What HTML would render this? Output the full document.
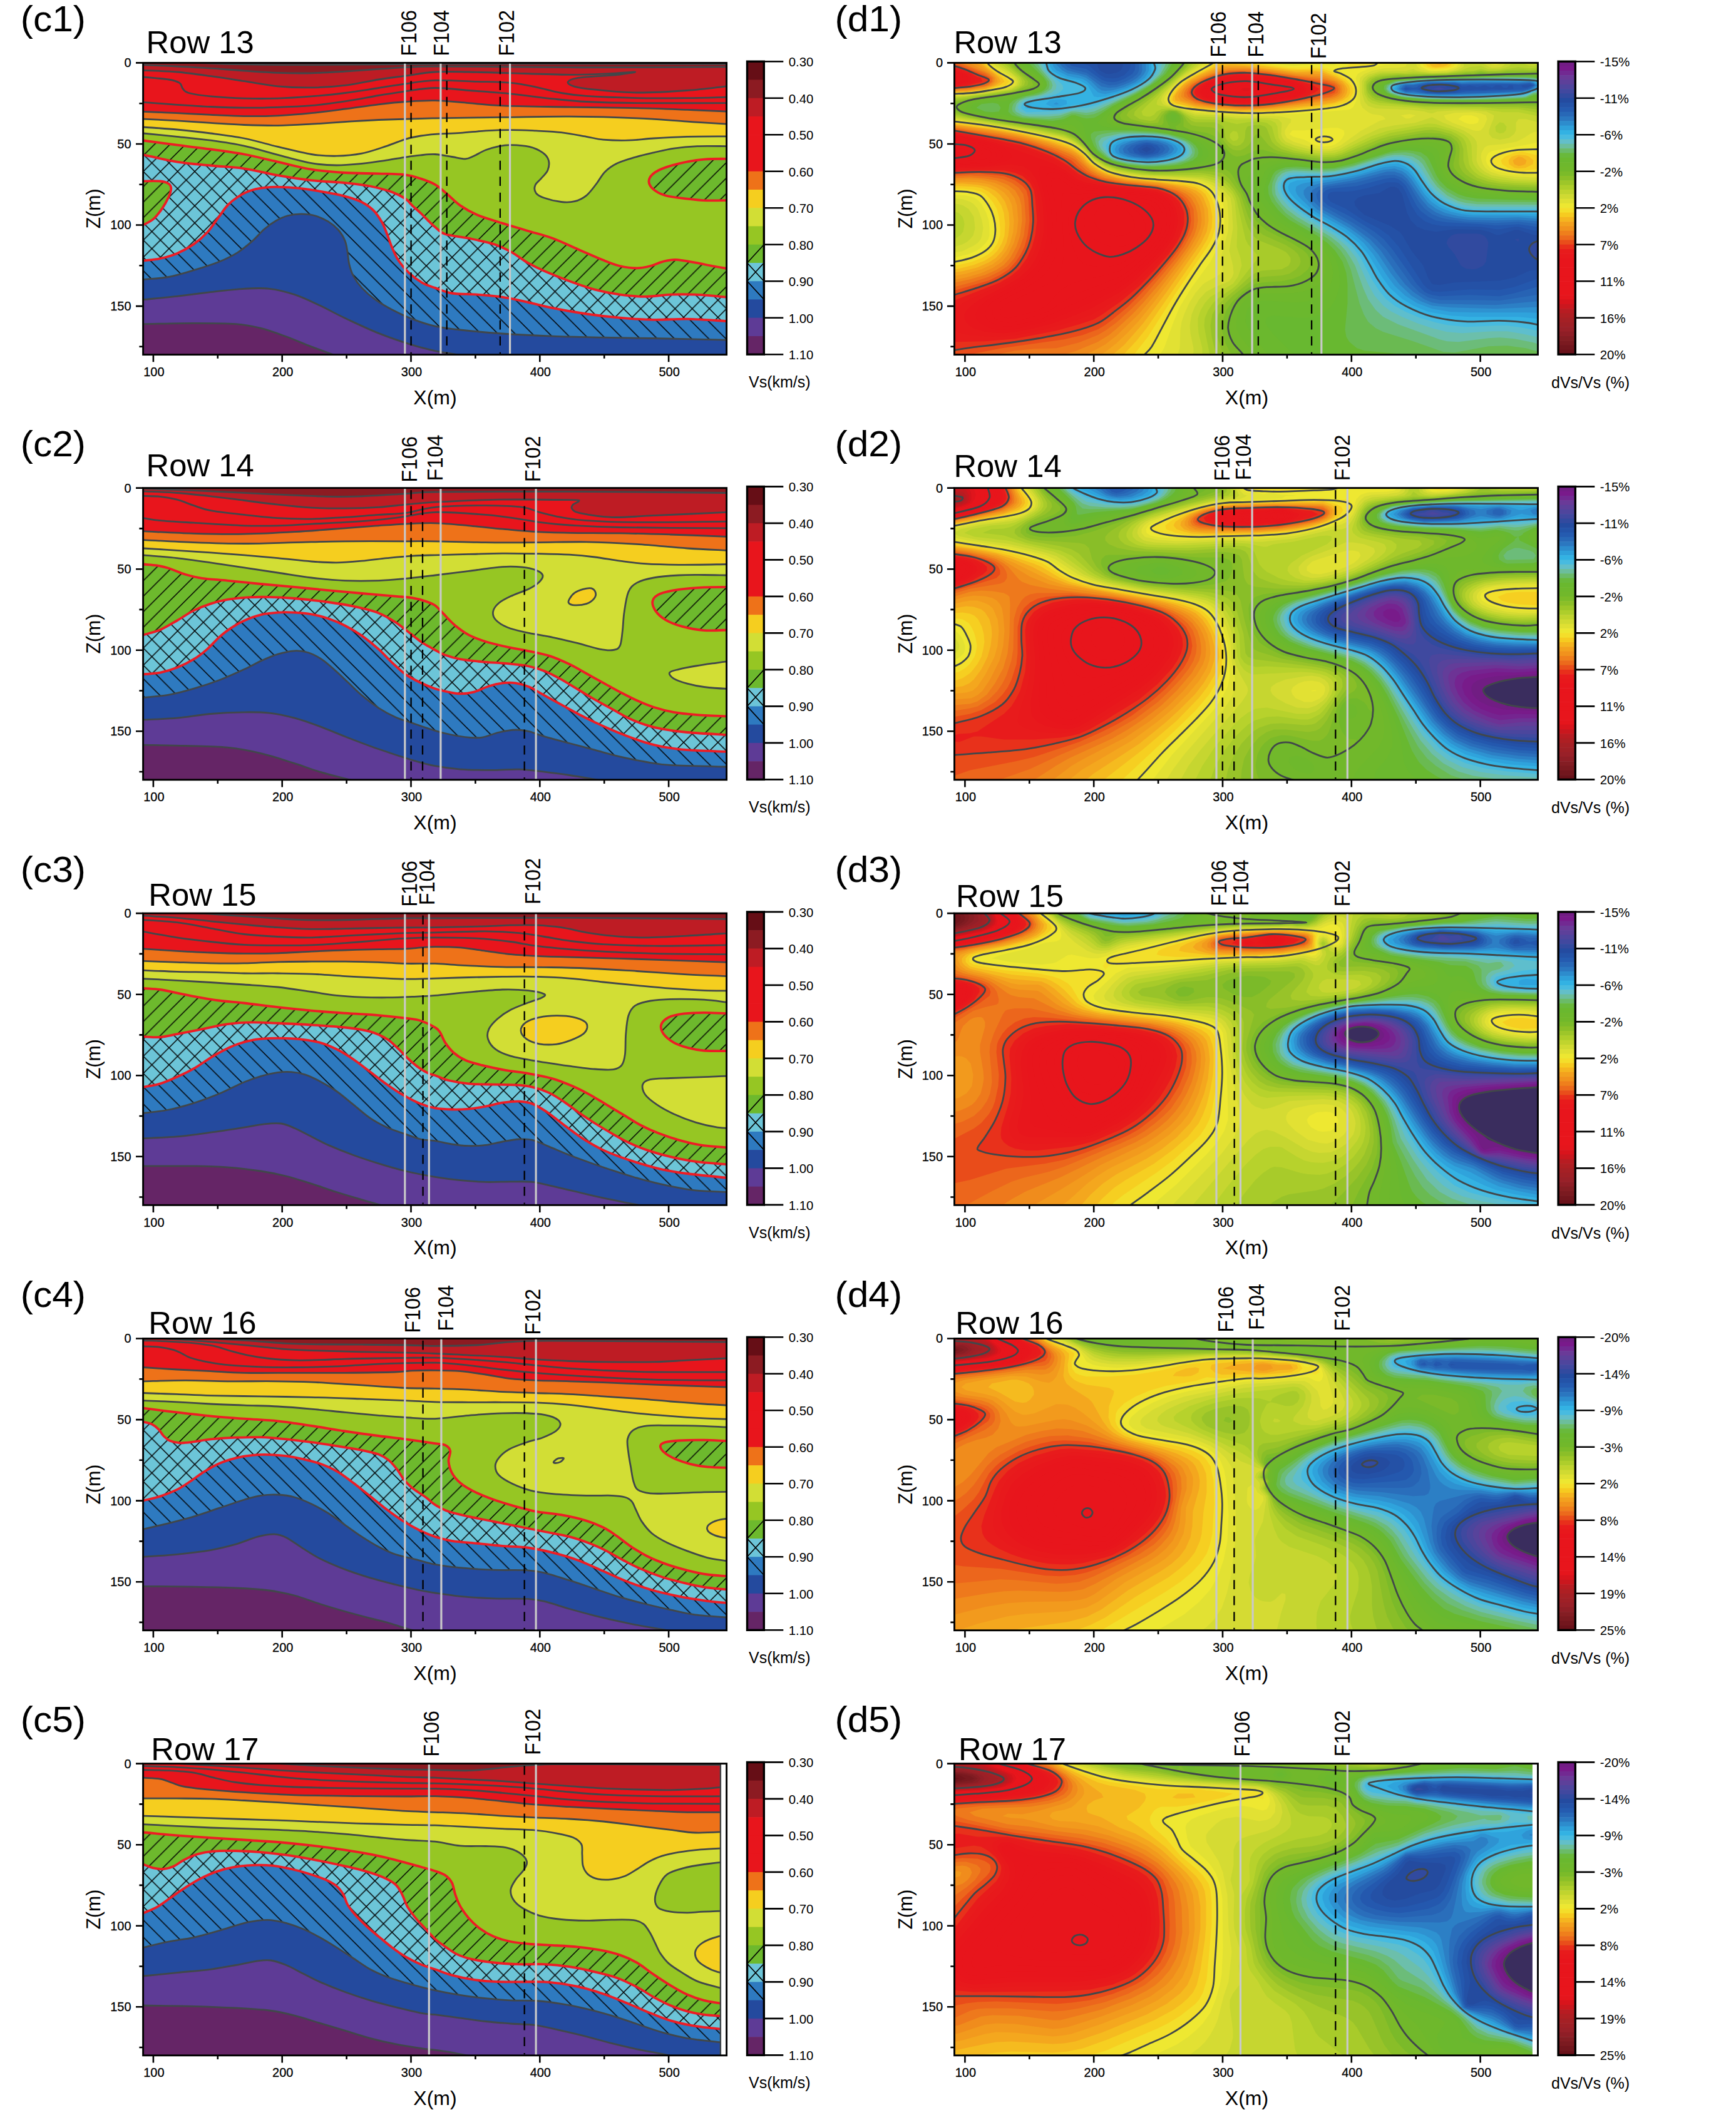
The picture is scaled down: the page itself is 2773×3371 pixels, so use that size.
<!DOCTYPE html><html><head><meta charset="utf-8"><title>Vs sections</title>
<style>html,body{margin:0;padding:0;background:#fff}svg{display:block}text{font-family:"Liberation Sans",sans-serif;fill:#000}</style></head><body>
<svg width="2773" height="3371" viewBox="0 0 2773 3371">
<defs>
<pattern id="hf" width="24.8" height="24.8" patternUnits="userSpaceOnUse" patternTransform="translate(24.3 0)"><path d="M-2 26.8L26.8 -2M-2 2L2 -2M22.8 26.8L26.8 22.8" stroke="#000" stroke-width="1.5"/></pattern>
<pattern id="hb" width="27.4" height="27.4" patternUnits="userSpaceOnUse" patternTransform="translate(-3.6 0)"><path d="M-2 -2L29.4 29.4M-2 25.4L2 29.4M25.4 -2L29.4 2" stroke="#000" stroke-width="1.5"/></pattern>
<pattern id="hx" width="27.4" height="27.4" patternUnits="userSpaceOnUse" patternTransform="translate(13.6 -4.3)"><path d="M-2 29.4L29.4 -2M-2 2L2 -2M25.4 29.4L29.4 25.4M-2 -2L29.4 29.4M-2 25.4L2 29.4M25.4 -2L29.4 2" stroke="#000" stroke-width="1.5"/></pattern>
<clipPath id="pc"><rect x="-0.4" y="0" width="932" height="466.4"/></clipPath>
<clipPath id="pd"><rect x="-1" y="0" width="932" height="466.4"/></clipPath>
</defs>
<rect width="2773" height="3371" fill="#fff"/>
<g transform="translate(229 100.2)">
<g clip-path="url(#pc)">
<defs><path id="c1_0" d="M-18 -10.7C-15 -10.7 -158.3 -10.7 0 -10.7C158.3 -10.7 773.7 -10.7 932.1 -10.7C1090.4 -10.7 947.1 -10.7 950.1 -10.7H962V496.4H-30V-10.7Z"/><path id="c1_1" d="M-18 -2.6C-15 -2.5 -16.4 -2.6 0 -2.1C16.4 -1.7 58.2 -0.7 80.5 0C102.9 0.7 107.4 1.6 134.2 2.1C161.1 2.7 205.8 3.4 241.6 3.5C277.4 3.6 311.6 3.2 349 3C386.4 2.7 424.2 2.4 466 2.1C507.9 1.9 546.6 1.7 600.3 1.6C654 1.6 732.9 1.8 788.2 1.9C843.5 2 905.1 2.1 932.1 2.1C959.1 2.2 947.1 2.2 950.1 2.2H962V496.4H-30V-2.6Z"/><path id="c1_2" d="M-18 2.7C-15 2.8 -11.9 3 0 3.5C11.9 4 35.8 5 53.7 5.9C71.6 6.8 89.5 7.7 107.4 8.9C125.3 10 143.2 11.7 161.1 12.9C179 14.1 196.9 15.5 214.8 16.1C232.7 16.7 250.6 17 268.5 16.6C286.4 16.3 304.3 15 322.1 14C340 12.9 359.7 11.3 375.8 10.2C391.9 9.1 403.8 8.2 418.8 7.5C433.8 6.8 438 6 466 5.9C494 5.8 551.1 6.4 586.8 6.7C622.6 7 647.2 7.4 680.8 7.5C714.4 7.7 746.3 7.7 788.2 7.5C830.1 7.4 905.1 6.9 932.1 6.7C959.1 6.6 947.1 6.6 950.1 6.6H962V496.4H-30V2.7Z"/><path id="c1_3" d="M-18 11.2C-15 11.3 -11.9 11.5 0 12.1C11.9 12.7 35.8 13.2 53.7 14.8C71.6 16.3 89.5 19 107.4 21.5C125.3 23.9 143.2 26.8 161.1 29.5C179 32.2 196.9 35.9 214.8 37.6C232.7 39.3 250.6 40 268.5 39.7C286.4 39.5 304.3 38.4 322.1 36.2C340 34.1 359.7 29.4 375.8 26.8C391.9 24.3 403.8 23 418.8 20.9C433.8 18.9 449.2 15.8 466 14.8C482.9 13.7 499.6 14.5 519.7 14.8C539.9 15.1 560 15.9 586.8 16.6C613.7 17.4 654 19 680.8 19.1C707.7 19.1 730.5 17.9 747.9 17.2C765.4 16.5 783.3 14.5 785.5 14.8C787.7 15 769.8 17.8 761.3 18.8C752.8 19.8 745.7 20 734.5 20.9C723.3 21.8 703.6 22.5 694.2 24.2C684.8 25.8 679 28.5 678.1 30.9C677.2 33.2 681.7 36.1 688.9 38.1C696 40.1 704.5 41.3 721.1 43C737.6 44.6 763.6 47.6 788.2 47.8C812.8 48 844.7 46 868.7 44.3C892.7 42.6 918.5 39 932.1 37.6C945.6 36.1 947 36 950 35.7H962V496.4H-30V11.2Z"/><path id="c1_4" d="M-17.9 21C-14.9 21.3 -9.7 21.8 0 22.8C9.7 23.8 30.6 25.3 40.3 26.8C49.9 28.4 53.9 29.8 57.7 32.2C61.5 34.7 60.6 38.9 63.1 41.6C65.5 44.3 65.1 46.3 72.5 48.3C79.9 50.3 92.6 52.3 107.4 53.7C122.1 55.1 143.2 56.4 161.1 56.9C179 57.4 196.9 57.4 214.8 56.9C232.7 56.4 250.6 55.1 268.5 53.7C286.4 52.3 304.3 50.6 322.1 48.3C340 46.1 359.7 42.7 375.8 40.3C391.9 37.8 403.8 35.6 418.8 33.6C433.8 31.5 447 28.8 466 28.2C485.1 27.6 513 29.4 533.2 30.1C553.3 30.7 571.2 30.7 586.8 32.2C602.5 33.7 613.7 36.2 627.1 38.9C640.5 41.6 654 46 667.4 48.3C680.8 50.7 687.5 51.8 707.7 53.2C727.8 54.5 761.3 55.8 788.2 56.4C815 56.9 844.7 56.6 868.7 56.4C892.7 56.2 918.5 55.3 932.1 55C945.6 54.7 947.1 54.7 950.1 54.7H962V496.4H-30V21Z"/><path id="c1_5" d="M-17.9 61.7C-15 62 -11.9 62.2 0 63.1C11.9 64 35.8 65.9 53.7 67.1C71.6 68.3 89.5 69.5 107.4 70.3C125.3 71.1 143.2 71.8 161.1 71.9C179 72.1 196.9 71.7 214.8 71.1C232.7 70.6 250.6 70 268.5 68.5C286.4 66.9 304.3 64.4 322.1 61.7C340 59.1 359.7 55 375.8 52.3C391.9 49.7 403.8 47.7 418.8 45.6C433.8 43.6 449.2 40.5 466 40.3C482.9 40 499.6 42.7 519.7 44.3C539.9 45.9 564.5 47.4 586.8 49.7C609.2 51.9 633.8 55.6 654 57.7C674.1 59.8 685.3 61.2 707.7 62.3C730 63.4 750.8 64.1 788.2 64.4C825.6 64.8 905.1 64.4 932.1 64.4C959.1 64.4 947.1 64.4 950.1 64.4H962V496.4H-30V61.7Z"/><path id="c1_6" d="M-18 77.3C-15 77.4 -11.9 77.6 0 78.1C11.9 78.7 35.8 79.7 53.7 80.5C71.6 81.4 89.5 82.4 107.4 83.2C125.3 84 143.2 85.1 161.1 85.4C179 85.6 196.9 85.4 214.8 84.6C232.7 83.8 250.6 82.3 268.5 80.5C286.4 78.7 304.3 76.2 322.1 73.8C340 71.5 359.7 68.5 375.8 66.6C391.9 64.7 403.8 63.3 418.8 62.3C433.8 61.3 449.2 60 466 60.4C482.9 60.8 501.8 63 519.7 64.4C537.6 65.8 546.6 67.7 573.4 68.7C600.3 69.8 645 70.2 680.8 70.9C716.6 71.5 756.9 71.8 788.2 72.5C819.5 73.2 844.7 74.3 868.7 75.2C892.7 76.1 918.5 77.3 932.1 77.9C945.6 78.4 947.1 78.5 950.1 78.6H962V496.4H-30V77.3Z"/><path id="c1_7" d="M-18 89C-15 89.2 -11.9 89.3 0 89.9C11.9 90.5 35.8 91.6 53.7 92.6C71.6 93.6 89.5 95 107.4 96.1C125.3 97.2 143.2 98.6 161.1 99.3C179 100 196.9 100.6 214.8 100.4C232.7 100.2 250.6 99 268.5 98C286.4 97 304.3 95.6 322.1 94.5C340 93.4 351.9 92.3 375.8 91.3C399.8 90.3 433.1 89.3 466 88.6C499 87.9 537.6 87.7 573.4 87.2C609.2 86.8 645 85.7 680.8 85.9C716.6 86.1 756.9 87.2 788.2 88.6C819.5 89.9 844.7 92.4 868.7 94C892.7 95.5 918.5 97.1 932.1 98C945.6 98.8 947.1 98.9 950 99.1H962V496.4H-30V89Z"/><path id="c1_8" d="M-17.9 101.5C-15 101.7 -11.9 101.9 0 102.8C11.9 103.7 35.8 105.2 53.7 106.8C71.6 108.5 89.5 110.4 107.4 112.8C125.3 115.1 143.2 117.2 161.1 120.8C179 124.4 196.9 130 214.8 134.2C232.7 138.5 252.8 143.8 268.5 146.3C284.1 148.8 295.3 149.2 308.7 149C322.1 148.8 335.6 147.7 349 145C362.4 142.3 377.6 136.7 389.3 132.9C400.9 129.1 409.8 124.8 418.8 122.1C427.7 119.5 435.1 118.1 443 116.8C450.8 115.4 455.5 114.9 466 114.1C476.6 113.3 492.9 113.1 506.3 112.2C519.7 111.3 533.2 109.5 546.6 108.7C560 107.9 573.4 107.4 586.8 107.4C600.3 107.4 613.7 108.1 627.1 108.7C640.5 109.4 654 109.8 667.4 111.4C680.8 113 696.5 116.2 707.7 118.1C718.8 120 723.3 122 734.5 123C745.7 123.9 761.3 124.4 774.8 124C788.2 123.7 799.4 121.8 815 120.8C830.7 119.8 849.2 118.7 868.7 118.1C888.2 117.6 918.5 117.7 932.1 117.6C945.6 117.5 947.1 117.5 950.1 117.4H962V496.4H-30V101.5Z"/><path id="c1_9" d="M-17.9 111C-14.9 111.3 -11.9 111.6 0 112.8C11.9 113.9 35.8 116.2 53.7 118.1C71.6 120 89.5 121.6 107.4 124C125.3 126.5 143.2 129 161.1 132.9C179 136.7 196.9 142.5 214.8 147.1C232.7 151.7 252.8 157.8 268.5 160.5C284.1 163.3 295.3 163.7 308.7 163.8C322.1 163.8 335.6 162.4 349 161.1C362.4 159.7 377.6 157.4 389.3 155.7C400.9 154 409.8 152.2 418.8 150.9C427.7 149.5 435.1 148.4 443 147.7C450.8 146.9 457.7 145.9 466 146.3C474.4 146.8 484.8 149.1 492.9 150.3C500.9 151.5 508.5 153.8 514.4 153.6C520.2 153.3 522.4 151.3 527.8 149C533.2 146.7 539.9 142.2 546.6 139.6C553.3 137 561.3 134.8 568.1 133.4C574.8 132.1 578.8 131.4 586.8 131.5C594.9 131.7 607.9 132.2 616.4 134.2C624.9 136.2 632.7 140 637.9 143.6C643 147.2 645.9 151 647.2 155.7C648.6 160.4 647.9 166.9 645.9 171.8C643.9 176.7 638.5 181.2 635.2 185.2C631.8 189.3 627.1 192.2 625.8 196C624.4 199.8 624.7 204.7 627.1 208.1C629.6 211.4 633.8 213.7 640.5 216.1C647.2 218.5 659.3 221.4 667.4 222.3C675.4 223.2 682.1 223.2 688.9 221.5C695.6 219.8 701.8 216.8 707.7 212.1C713.5 207.4 718.8 199.6 723.8 193.3C728.7 187 731.8 179.9 737.2 174.5C742.6 169.1 748.4 164.9 756 161.1C763.6 157.3 773 154.6 782.8 151.7C792.7 148.8 804.3 146.1 815 143.6C825.8 141.2 835.6 138.6 847.2 136.9C858.9 135.2 870.7 134 884.8 133.4C899 132.8 921.2 133.4 932.1 133.4C943 133.4 947.1 133.4 950.1 133.4H962V496.4H-30V111Z"/><path id="c1_10" d="M-17.8 121.9C-14.9 122.3 -11.9 122.7 0 124.3C11.9 125.9 35.8 129.2 53.7 131.5C71.6 133.9 89.5 135.8 107.4 138.3C125.3 140.7 143.2 143 161.1 146.3C179 149.7 196.9 154.4 214.8 158.4C232.7 162.4 250.6 167.6 268.5 170.5C286.4 173.4 304.3 174.7 322.1 175.8C340 177 359.7 176.6 375.8 177.2C391.9 177.7 407.6 177.7 418.8 179.1C430 180.4 435.1 182.6 443 185.2C450.8 187.8 459.1 190.6 466 194.6C473 198.7 478.1 203.8 484.8 209.4C491.5 215 498.3 222.6 506.3 228.2C514.4 233.8 522 238.3 533.2 243C544.3 247.7 560 252.1 573.4 256.4C586.8 260.6 600.3 264.4 613.7 268.5C627.1 272.5 640.5 275.6 654 280.5C667.4 285.5 680.8 292.2 694.2 298C707.7 303.8 723.3 311 734.5 315.4C745.7 319.9 752.4 322.7 761.3 324.8C770.3 326.9 780.1 328.1 788.2 328.1C796.2 328.1 803 326.5 809.7 324.8C816.4 323.2 821.7 319.8 828.5 318.1C835.2 316.4 841 314.4 849.9 314.6C858.9 314.9 872.3 317.8 882.1 319.5C892 321.2 900.7 323.3 909 324.8C917.3 326.4 925.3 327.7 932.1 328.9C938.9 330 946.9 331.4 949.8 332H962V496.4H-30V121.9Z"/><path id="c1_11" d="M-17.6 143.4C-14.7 144 -11.9 144.6 0 147.1C11.9 149.6 35.8 155.5 53.7 158.4C71.6 161.3 89.5 162.5 107.4 164.3C125.3 166.1 143.2 166.5 161.1 169.1C179 171.7 196.9 176.7 214.8 179.9C232.7 183 250.6 185.9 268.5 187.9C286.4 189.9 306.5 190.4 322.1 191.9C337.8 193.5 349.9 194.9 362.4 197.3C374.9 199.8 387.9 203.4 397.3 206.7C406.7 210.1 413.4 213.9 418.8 217.4C424.2 221 425.5 224.4 429.5 228.2C433.6 232 438.5 236 443 240.3C447.4 244.5 452.5 250 456.4 253.7C460.2 257.4 461.7 259.2 466 262.6C470.3 265.9 473.2 270.8 482.1 273.8C491.1 276.8 506.8 277.9 519.7 280.5C532.7 283.2 548.8 286.4 560 289.9C571.2 293.5 577.9 297.1 586.8 302C595.8 306.9 604.7 314.3 613.7 319.5C622.6 324.6 629.4 328 640.5 332.9C651.7 337.8 667.4 344.1 680.8 349C694.2 353.9 707.7 358.8 721.1 362.4C734.5 366 747.9 368.6 761.3 370.5C774.8 372.3 788.2 373.7 801.6 373.7C815 373.7 828.5 371 841.9 370.5C855.3 369.9 867.1 369.8 882.1 370.5C897.2 371.1 920.8 373.6 932.1 374.5C943.4 375.4 947 375.7 950 375.9H962V496.4H-30V143.4Z"/><path id="c1_12" d="M-8.1 189.3C5.4 189.3 18.8 188.6 26.8 189.3C34.9 189.9 37.4 191.3 40.3 193.3C43.2 195.3 44.3 197.8 44.3 201.3C44.3 204.9 42.7 209.4 40.3 214.8C37.8 220.1 33.6 227.7 29.5 233.6C25.5 239.4 21 245.4 16.1 249.7C11.2 253.9 4 257 0 259.1C-4 261.1 0.9 261.3 -8.1 261.7C-17 262.2 -46.1 273.8 -53.7 261.7C-61.3 249.7 -61.3 201.3 -53.7 189.3C-46.1 177.2 -21.5 189.3 -8.1 189.3Z"/><path id="c1_13" d="M943.9 153.6C928.2 153.7 910.3 153.1 895.6 154.4C880.8 155.6 867.4 158.2 855.3 161.1C843.2 164 830.9 167.8 823.1 171.8C815.3 175.8 810.1 180.5 808.3 185.2C806.5 189.9 808.1 195.5 812.3 200C816.6 204.5 824.4 209.2 833.8 212.1C843.2 215 857.5 216.1 868.7 217.4C879.9 218.8 888.4 219.8 900.9 220.1C913.5 220.5 929.1 219.7 943.9 219.6C958.7 219.5 981.9 230.6 989.5 219.6C997.1 208.6 997.1 164.6 989.5 153.6C981.9 142.6 959.6 153.4 943.9 153.6Z"/><path id="c1_14" d="M-17.8 318.6C-14.9 318.2 -7.4 317.2 0 316.2C7.4 315.3 17.9 314.7 26.8 312.8C35.8 310.8 44.7 308.5 53.7 304.7C62.6 300.9 72.5 295.5 80.5 289.9C88.6 284.3 95.7 277.9 102 271.1C108.3 264.4 112.8 256.8 118.1 249.7C123.5 242.5 128.9 234 134.2 228.2C139.6 222.4 144.1 218.8 150.3 214.8C156.6 210.7 162.9 206.7 171.8 204C180.8 201.3 192.4 199.3 204 198.7C215.7 198 228.6 198.9 241.6 200C254.6 201.1 268.5 203.1 281.9 205.4C295.3 207.6 311 210.5 322.1 213.4C333.3 216.3 341.4 219 349 222.8C356.6 226.6 362.4 230.9 367.8 236.2C373.2 241.6 377.6 248.8 381.2 255C384.8 261.3 386.6 267.1 389.3 273.8C391.9 280.5 394.2 288.1 397.3 295.3C400.4 302.5 403.6 310.1 408.1 316.8C412.5 323.5 417.9 329.8 424.2 335.6C430.4 341.4 438.7 347.7 445.6 351.7C452.6 355.7 458.2 357 466 359.7C473.9 362.5 481.7 366.5 492.9 368.3C504.1 370.1 519.7 369.4 533.2 370.5C546.6 371.5 560 372.5 573.4 374.5C586.8 376.5 600.3 379.6 613.7 382.6C627.1 385.5 638.3 388.8 654 391.9C669.6 395.1 689.8 398.7 707.7 401.3C725.5 403.9 743.4 406 761.3 407.5C779.2 409.1 797.1 410.4 815 410.7C832.9 411.1 849.2 409 868.7 409.4C888.2 409.8 918.5 412.1 932.1 412.9C945.6 413.6 947.1 413.7 950.1 413.9H962V496.4H-30V318.6Z"/><path id="c1_15" d="M-17.9 348.1C-14.9 347.8 -9.7 347.3 0 346.3C9.7 345.3 26.8 344.7 40.3 342.3C53.7 339.8 67.1 335.6 80.5 331.5C94 327.5 109.2 322.8 120.8 318.1C132.4 313.4 141.4 308.9 150.3 303.4C159.3 297.8 167.3 290.8 174.5 284.6C181.7 278.3 187 271.1 193.3 265.8C199.6 260.4 205.8 255.9 212.1 252.3C218.3 248.8 224.2 246.1 230.9 244.3C237.6 242.5 245.2 241.6 252.3 241.6C259.5 241.6 266.7 242.3 273.8 244.3C281 246.3 289 249.9 295.3 253.7C301.6 257.5 306.9 262 311.4 267.1C315.9 272.3 319.7 278.5 322.1 284.6C324.6 290.6 325.1 297.1 326.2 303.4C327.3 309.6 327.3 315.9 328.9 322.1C330.4 328.4 332.2 334.7 335.6 340.9C338.9 347.2 343.2 353.5 349 359.7C354.8 366 362.4 372.7 370.5 378.5C378.5 384.3 387.5 389.5 397.3 394.6C407.2 399.8 418.1 405 429.5 409.4C441 413.8 453.2 418 466 420.9C478.8 423.8 488.4 424.9 506.3 426.8C524.2 428.8 548.8 431.1 573.4 432.8C598 434.5 627.1 436 654 437C680.8 438.1 707.7 438.4 734.5 438.9C761.3 439.5 782.1 439.6 815 440.3C848 440.9 909.6 442.4 932.1 443C954.6 443.5 947.1 443.3 950.1 443.4H962V496.4H-30V348.1Z"/><path id="c1_16" d="M-17.9 380.3C-14.9 380 -11.9 379.7 0 378.5C11.9 377.3 35.8 375.2 53.7 373.2C71.6 371.1 89.5 368.5 107.4 366.4C125.3 364.4 145.4 362 161.1 361.1C176.7 360.2 187.9 359.5 201.3 361.1C214.8 362.6 228.2 366 241.6 370.5C255 374.9 268.5 381.7 281.9 387.9C295.3 394.2 306.5 400.7 322.1 408.1C337.8 415.4 357.9 425.1 375.8 432.2C393.7 439.4 414.5 446.3 429.5 451C444.6 455.7 455.5 458.1 466 460.4C476.6 462.7 483.9 463.4 492.9 465C501.8 466.5 512.3 468.5 519.7 469.8C527.2 471.1 534.5 472.5 537.4 473V496.4H-30V380.3Z"/><path id="c1_17" d="M-18 417.7C-15 417.7 -16.4 417.7 0 417.4C16.4 417.2 55.9 416.1 80.5 416.1C105.1 416.1 129.8 416.1 147.7 417.4C165.5 418.8 174.5 420.8 187.9 424.2C201.3 427.5 214.8 432.7 228.2 437.6C241.6 442.5 255 448.5 268.5 453.7C281.9 458.8 299.2 465 308.7 468.5C318.3 471.9 322.8 473.6 325.6 474.7V496.4H-30V417.7Z"/></defs>
<use href="#c1_0" fill="#660E16"/>
<use href="#c1_1" fill="#8C1B22"/>
<use href="#c1_2" fill="#BE1C24"/>
<use href="#c1_3" fill="#E8151C"/>
<use href="#c1_4" fill="#E8151C"/>
<use href="#c1_5" fill="#E8151C"/>
<use href="#c1_6" fill="#EE7219"/>
<use href="#c1_7" fill="#F5CE1F"/>
<use href="#c1_8" fill="#D2DE35"/>
<use href="#c1_9" fill="#96C623"/>
<use href="#c1_10" fill="#6DB92D"/>
<use href="#c1_10" fill="url(#hf)"/>
<use href="#c1_11" fill="#6CC5D8"/>
<use href="#c1_11" fill="url(#hx)"/>
<use href="#c1_12" fill="#6DB92D"/>
<use href="#c1_12" fill="url(#hf)"/>
<use href="#c1_13" fill="#6DB92D"/>
<use href="#c1_13" fill="url(#hf)"/>
<use href="#c1_14" fill="#2E7AC0"/>
<use href="#c1_14" fill="url(#hb)"/>
<use href="#c1_15" fill="#244A9E"/>
<use href="#c1_16" fill="#5E3B96"/>
<use href="#c1_17" fill="#652566"/>
<g fill="none" stroke="#41474a" stroke-width="2.8" stroke-linejoin="round"><use href="#c1_1"/><use href="#c1_2"/><use href="#c1_3"/><use href="#c1_4"/><use href="#c1_5"/><use href="#c1_6"/><use href="#c1_7"/><use href="#c1_8"/><use href="#c1_9"/><use href="#c1_15"/><use href="#c1_16"/><use href="#c1_17"/></g>
<g fill="none" stroke="#ee1c24" stroke-width="3.8" stroke-linejoin="round"><use href="#c1_10"/><use href="#c1_11"/><use href="#c1_12"/><use href="#c1_13"/><use href="#c1_14"/></g>
</g>
<rect x="-0.4" y="0.2" width="932" height="466.2" fill="none" stroke="#000" stroke-width="2.9"/>
<path d="M15.9 466.4v11.6M118.8 466.4v6.2M221.7 466.4v11.6M324.6 466.4v6.2M427.5 466.4v11.6M530.4 466.4v6.2M633.3 466.4v11.6M736.2 466.4v6.2M839.1 466.4v11.6M-0.4 0.2h-11.6M-0.4 65h-6.2M-0.4 129.8h-11.6M-0.4 194.5h-6.2M-0.4 259.3h-11.6M-0.4 324.1h-6.2M-0.4 388.9h-11.6M-0.4 453.6h-6.2" stroke="#000" stroke-width="2.6" fill="none"/>
<g font-size="21" text-anchor="middle" stroke="#000" stroke-width=".3">
<text transform="translate(16.9 501) scale(.95 1)">100</text>
<text transform="translate(222.7 501) scale(.95 1)">200</text>
<text transform="translate(428.5 501) scale(.95 1)">300</text>
<text transform="translate(634.3 501) scale(.95 1)">400</text>
<text transform="translate(840.1 501) scale(.95 1)">500</text>
</g><g font-size="21" text-anchor="end" stroke="#000" stroke-width=".3">
<text transform="translate(-19.5 7.1) scale(.95 1)">0</text>
<text transform="translate(-19.5 136.7) scale(.95 1)">50</text>
<text transform="translate(-19.5 266.2) scale(.95 1)">100</text>
<text transform="translate(-19.5 395.8) scale(.95 1)">150</text>
</g>
<text x="466" y="545.4" font-size="32" text-anchor="middle">X(m)</text>
<text transform="translate(-69 233.2) rotate(-90) scale(.96 1)" font-size="31.5" text-anchor="middle">Z(m)</text>
<text x="4.5" y="-15.2" font-size="50.8">Row 13</text>
<text transform="translate(-196.3 -50.4) scale(1.045 1)" font-size="58">(c1)</text>
<path d="M417.8 1.5V464.9" stroke="#c9c9c9" stroke-width="3.2" fill="none"/>
<path d="M427.6 1.5V464.9" stroke="#000" stroke-width="2.3" stroke-dasharray="14.7 10.8" stroke-dashoffset="-2" fill="none"/>
<text transform="translate(436.4 -10.4) rotate(-90) scale(.9 1)" font-size="36">F106</text>
<path d="M474.9 1.5V464.9" stroke="#c9c9c9" stroke-width="3.2" fill="none"/>
<path d="M484.7 1.5V464.9" stroke="#000" stroke-width="2.3" stroke-dasharray="14.7 10.8" stroke-dashoffset="-2" fill="none"/>
<text transform="translate(488.3 -10.4) rotate(-90) scale(.9 1)" font-size="36">F104</text>
<path d="M585.6 1.5V464.9" stroke="#c9c9c9" stroke-width="3.2" fill="none"/>
<path d="M569.9 1.5V464.9" stroke="#000" stroke-width="2.3" stroke-dasharray="14.7 10.8" stroke-dashoffset="-2" fill="none"/>
<text transform="translate(592.1 -10.4) rotate(-90) scale(.9 1)" font-size="36">F102</text>
<rect x="964.5" y="-2" width="26.8" height="29.9" fill="#660E16"/>
<rect x="964.5" y="27.2" width="26.8" height="29.9" fill="#8C1B22"/>
<rect x="964.5" y="56.5" width="26.8" height="29.9" fill="#BE1C24"/>
<rect x="964.5" y="85.8" width="26.8" height="29.9" fill="#E8151C"/>
<rect x="964.5" y="115" width="26.8" height="29.9" fill="#E8151C"/>
<rect x="964.5" y="144.2" width="26.8" height="29.9" fill="#E8151C"/>
<rect x="964.5" y="173.5" width="26.8" height="29.9" fill="#EE7219"/>
<rect x="964.5" y="202.8" width="26.8" height="29.9" fill="#F5CE1F"/>
<rect x="964.5" y="232" width="26.8" height="29.9" fill="#D2DE35"/>
<rect x="964.5" y="261.2" width="26.8" height="29.9" fill="#96C623"/>
<rect x="964.5" y="290.5" width="26.8" height="29.9" fill="#6DB92D"/>
<rect x="964.5" y="319.8" width="26.8" height="29.9" fill="#6CC5D8"/>
<rect x="964.5" y="349" width="26.8" height="29.9" fill="#2E7AC0"/>
<rect x="964.5" y="378.2" width="26.8" height="29.9" fill="#244A9E"/>
<rect x="964.5" y="407.5" width="26.8" height="29.9" fill="#5E3B96"/>
<rect x="964.5" y="436.8" width="26.8" height="29.9" fill="#652566"/>
<path d="M964.5 319.8L991.3 290.5" stroke="#000" stroke-width="1.6"/>
<path d="M964.5 349L991.3 319.8M964.5 319.8L991.3 349" stroke="#000" stroke-width="1.6"/>
<path d="M964.5 349L991.3 378.2" stroke="#000" stroke-width="1.6"/>
<rect x="964.5" y="-2" width="26.8" height="468" fill="none" stroke="#000" stroke-width="3.4"/>
<path d="M991.3 -2h31M991.3 56.5h31M991.3 115h31M991.3 173.5h31M991.3 232h31M991.3 290.5h31M991.3 349h31M991.3 407.5h31M991.3 466h31" stroke="#000" stroke-width="2.6" fill="none"/>
<g font-size="21">
<text transform="translate(1030.8 5.8) scale(.97 1)">0.30</text>
<text transform="translate(1030.8 64.3) scale(.97 1)">0.40</text>
<text transform="translate(1030.8 122.8) scale(.97 1)">0.50</text>
<text transform="translate(1030.8 181.3) scale(.97 1)">0.60</text>
<text transform="translate(1030.8 239.8) scale(.97 1)">0.70</text>
<text transform="translate(1030.8 298.3) scale(.97 1)">0.80</text>
<text transform="translate(1030.8 356.8) scale(.97 1)">0.90</text>
<text transform="translate(1030.8 415.3) scale(.97 1)">1.00</text>
<text transform="translate(1030.8 473.8) scale(.97 1)">1.10</text>
</g>
<text x="967" y="518.7" font-size="25">Vs(km/s)</text>
</g>
<g transform="translate(1525.5 100.2)">
<g clip-path="url(#pd)">
<rect x="-5" y="-5" width="942" height="476.4" fill="#3f499f"/>
<path d="M-12 -12h954v309l-6 -3l-6 6l6 4l6 -2v172h-954zM762 42l12 1l9 -1l-9 -3z" fill="#314a9f"/>
<path d="M-12 -12h954v295l-6 1l-13 4l-6 6v6l3 6l4 5l6 4l12 2v157h-954zM774 36l-18 1l-5 5l5 1l18 2l29 -3l-5 -2l-12 -1l-4 -3zM894 282l6 4l1 -4l-1 -1zM798 274l-5 2l-6 6l-2 6l3 6l10 12l10 18l8 5l12 1l6 -1l10 -5l4 -6l1 -6l3 -24l-2 -6l-4 -5l-6 -3l-6 -1h-30z" fill="#244b9f"/>
<path d="M-12 -12h257l-18 12l1 6l3 6l9 5l6 1l12 -2l7 -4l3 -6v-6l-2 -6l-6 -6h682v288l-18 -1l-24 -8h-6l-24 8h-6l-11 -5l-13 -3l-42 -1l-30 4l-18 -3l-12 -5l-10 -10l-6 -12l-8 -30l-6 -9l-6 -3h-6l-6 3l-12 7l-24 4l-11 4l-5 6l1 6l5 6l10 9l42 18l14 9l5 6l14 24l19 24l8 20l6 9l2 1l10 1l24 -4l73 -3l23 -5l24 -11l24 -2v144h-954zM300 137l-2 1l2 2l6 3l8 -5l-8 -4zM756 35l-4 1l-7 6l11 3l18 2l24 -2l10 -3l-4 -4l-6 -2l-24 -1z" fill="#2451a6"/>
<path d="M-12 -12h197l3 6l4 4l18 5l6 3l13 12l11 6l12 1l8 -1l10 -4l8 -8l2 -6v-6l-3 -12h665v282l-18 -2l-24 -6h-6l-24 4h-6l-24 -4l-60 -1l-18 -3l-12 -5l-12 -10l-9 -15l-9 -21l-5 -9l-7 -6l-6 -1h-12l-30 9l-24 5l-12 1h-18l-6 1l-4 3l-1 6l5 6l24 11l29 19l25 13l15 11l16 18l39 60l6 6l8 5l12 1l48 -4l48 1l24 -5l36 -13l12 -1v130h-954zM300 132l-9 6l5 6l10 2l6 -1l4 -1l5 -6l-7 -6l-8 -1zM720 40l-2 2l2 1l8 -1zM750 35l-3 1l-7 6l16 5l12 1l30 -1l12 -3h12l12 -1l12 1l12 -2l12 1l22 -1l-1 -6h-3h-3l-3 4h-6l-4 -4h-2h-6l-6 4l-12 -4l-12 3l-12 -3l-6 2h-6l-3 -2l-3 -1l-24 -1zM906 36h-1l1 3l6 1l11 -4l-5 -1z" fill="#2458ae"/>
<path d="M-12 -12h188l4 10l6 7l24 5l24 17l8 3l10 1l7 -1l11 -4l13 -8l4 -6l1 -6l-2 -18h656v276l-42 -6l-36 2l-23 -2l-55 -3l-18 -3l-12 -6l-12 -9l-7 -9l-17 -32l-6 -6l-6 -4l-6 -2h-6l-12 2l-42 11l-42 4l-8 3l-4 4l-2 2v6l3 6l7 6l34 17l40 25l15 12l15 18l38 54l12 12l6 3l6 2l12 2l48 -2l48 2l24 -5l36 -10l12 -1v117h-954zM294 131l-4 1l-6 6l3 6l13 4h6l12 -2l6 -2l4 -6l-5 -6l-11 -3l-6 -1zM744 36h-3l-3 3l-6 1l-12 -2l-4 4l4 2l12 -1h6l15 5l21 1h24l18 -3l90 -3l8 -1l11 -6l-7 -3l-18 2l-12 -1l-78 1l-12 -2h-24h-18z" fill="#2763b4"/>
<path d="M-12 -12h181l4 12l7 7l6 3l24 6l24 16l12 4l12 -1l15 -5l11 -6l7 -6l3 -6v-6l-2 -18h650v271l-42 -5l-36 2l-48 -2l-30 -4l-12 -3l-12 -5l-12 -9l-9 -11l-14 -24l-7 -9l-6 -5l-12 -5l-18 1l-42 11l-48 7l-13 6l-4 6l1 6l3 6l7 7l48 27l22 14l15 12l17 18l39 54l12 12l15 9l18 4h54l42 1l72 -11v105h-954zM282 132l-7 6l4 6l21 6h12l12 -3l7 -3l5 -6l-5 -6l-19 -5h-12zM720 36l-7 6l7 4l12 -1l18 4l24 1l72 -2l60 -3l12 -3l8 -6l-2 -2l-6 -2l-18 2l-30 -1l-60 1l-12 -2h-24h-18l-24 4z" fill="#2a6ebb"/>
<path d="M-12 -12h175l5 14l3 4l8 6l31 8l24 18l12 2l12 -1l12 -4l12 -5l9 -6l6 -6l2 -6l-1 -24h644v266l-42 -3l-36 1l-42 -1l-24 -3l-18 -4l-12 -5l-12 -8l-12 -14l-21 -31l-9 -8l-12 -4h-12l-54 14l-48 8l-8 2l-10 6l-2 6l1 6l4 6l13 12l44 24l33 24l17 18l25 36l14 18l13 12l18 12l12 5l12 2l90 2l78 -7v94h-954zM294 125l-21 7l-5 6l2 6l16 6l20 2l18 -2l15 -6l4 -6l-4 -6l-15 -6l-18 -2zM720 35l-4 1l-5 6l9 5h12l24 3l18 1l96 -3l36 -2l14 -4l7 -6l-3 -3l-6 -2l-18 1h-78l-12 1l-12 -2h-24h-18l-24 4z" fill="#2c7fc5"/>
<path d="M-12 -12h170l4 15l9 9l9 5l18 3l11 4l9 6l10 10l6 4l6 1l12 -1l18 -5l18 -8l9 -7l5 -6l3 -6l-1 -24h638v262l-42 -3l-36 1l-42 -1l-18 -2l-21 -5l-15 -7l-12 -9l-11 -14l-16 -24l-9 -9l-6 -4l-12 -4l-18 2l-48 13l-54 9l-19 5l-6 6v6l3 6l11 12l7 6l52 30l17 12l14 12l15 18l20 30l14 18l19 18l15 9l18 7l30 3l72 2l78 -3v84h-954zM282 125l-17 7l-4 6l2 6l13 6l6 1l24 3l18 -2l10 -2l12 -6l4 -6l-4 -6l-10 -5l-12 -3l-18 -1zM774 30h-18l-24 4h-12l-8 2l-4 6l10 6l38 3l42 1l108 -5l17 -5l6 -6l-5 -4l-6 -2l-18 1l-78 -1l-12 1l-12 -1z" fill="#2e92d1"/>
<path d="M-12 -12h165l4 18l5 6l18 9l24 5l7 4l17 17l6 2l6 1l18 -4l18 -6l18 -9l9 -7l4 -6l3 -6l-1 -24h633v258l-42 -2h-72l-18 -2l-18 -4l-18 -7l-13 -9l-11 -12l-18 -27l-8 -9l-10 -6l-12 -3l-18 2l-36 11l-24 5l-65 9l-7 2l-7 4l-1 6l2 6l5 6l19 18l12 8l42 23l15 11l14 12l15 18l22 34l12 16l17 16l19 12l24 9l30 5l36 1h84l30 1v74h-954zM162 63l-5 3l5 1l4 -1zM270 126l-12 6l-3 6l2 6l11 6l26 5l18 1l24 -4l6 -2l11 -6l3 -6l-4 -6l-11 -6l-17 -4l-24 -1zM756 30l-42 4l-5 2l-4 6l9 6l6 1l54 4l72 -1l60 -3l6 -1l13 -6l5 -6l-6 -6l-6 -1z" fill="#2fa3dc"/>
<path d="M-12 -12h160l4 18l4 7l12 7l12 5l18 3l6 3l8 5l10 18l6 1l12 -1l24 -7l18 -7l18 -10l7 -6l5 -6l2 -6l-1 -18l1 -6h628v254l-114 -1l-18 -2l-18 -5l-18 -8l-12 -10l-11 -12l-21 -30l-10 -8l-12 -5l-18 1l-54 15l-24 5l-66 6l-11 4l-3 6l1 6l4 6l5 6l13 12l21 15l46 27l23 18l15 18l22 36l13 18l19 17l18 11l24 10l36 6l30 2h78l42 4v64h-954zM156 59l-5 1l-6 6l11 5l12 -1l11 -4l-1 -6l-4 -1l-6 -1zM288 120l-18 3l-10 3l-7 6l-1 2l-1 4l1 6l9 6l15 4l30 3l24 -2l20 -5l10 -6l2 -6l-3 -6l-13 -6l-10 -3l-24 -4zM750 29l-36 4l-8 3l-5 6l13 7l42 4l48 1l102 -4l6 -1l16 -7l4 -6l-6 -6l-8 -2l-108 1l-36 -1z" fill="#34b2e3"/>
<path d="M-12 -12h154l7 24l7 6l24 13l12 2l10 3l5 6l-3 5l-3 1l-15 3l-12 1l-36 7l-6 3l-12 1l-6 2l-1 1l-1 6l2 1l6 1l12 -2l24 3l18 -2l6 -1l6 -4l6 -1h12l30 -7l35 -12l25 -11l12 -8l10 -11l3 -6l-1 -12l2 -12h622v250l-114 -1l-18 -2l-12 -3l-21 -10l-15 -12l-31 -42l-11 -7l-12 -4l-18 2l-54 15l-30 6l-66 4l-6 1l-6 5l-3 8l1 6l3 6l5 7l12 11l26 18l42 24l23 18l15 18l21 36l11 17l12 13l12 10l18 10l18 8l18 6l24 4l36 4l48 -2l24 1l18 2l30 6v53h-954zM276 119l-18 5l-5 2l-6 6v6l2 6l3 4l6 3l18 5l24 3h18l18 -3l12 -3l10 -3l7 -6l1 -6l-3 -6l-11 -6l-16 -5l-30 -3zM738 30l-30 4l-6 2l-4 6l9 6l13 3l54 4l72 -1l60 -3l6 -1l18 -8l5 -6l-7 -6l-10 -3l-144 1z" fill="#47bbe0"/>
<path d="M-12 -12h148l10 24l4 5l16 13l6 6l1 6l-7 6l-4 2l-30 8l-15 2l-9 5l-3 7l3 3l6 4h6l48 -2l24 -5h18l18 -5l54 -22l26 -15l12 -12l3 -6l2 -18l2 -6h615v45h-6l-5 -3l-13 -4l-162 1l-48 6l-9 3l-4 6l8 6l17 4l36 3l48 1l102 -4l6 -1l24 -9h6v192h-114l-12 -2l-17 -4l-19 -9l-12 -9l-10 -12l-16 -24l-10 -12l-12 -6l-12 -2l-18 1l-54 17l-30 6l-18 1h-42l-12 1l-9 6l-4 6l-1 6l2 10l5 8l13 14l23 16l51 30l21 18l13 18l19 36l11 17l11 13l13 10l18 10l24 10l24 7l18 4l30 3l48 -2h18l24 3l36 8v43h-954zM264 119l-12 3l-6 3l-5 7l1 6l3 6l6 6l18 6l31 4l30 -1l19 -3l11 -4l4 -2l6 -6v-6l-4 -7l-7 -5l-18 -6l-23 -3l-18 -1h-18z" fill="#5ebecd"/>
<path d="M-12 -12h142l12 24l17 18l3 6l-1 6l-7 6l-22 7l-22 5l-8 6l-2 6l4 6l10 4l30 1l24 -2l24 -6l18 1l12 -3l60 -25l18 -10l12 -8l12 -12l4 -6l6 -24h608v42h-6l-12 -4l-12 -1l-156 2l-48 4l-13 5l-2 6l6 6l15 4l42 4l24 1l66 -1l60 -2l6 -1l12 -6l12 -3l6 1v185h-108l-18 -2l-12 -3l-18 -8l-17 -13l-10 -12l-15 -24l-6 -7l-12 -8l-12 -3h-12l-12 2l-54 17l-30 6l-18 2l-42 -2l-12 1l-6 2l-6 5l-6 9l-1 6l1 7l5 11l13 15l20 15l52 30l21 18l14 18l19 42l10 18l14 16l12 9l18 9l24 10l24 8l24 6l24 2l48 -3h24l24 4l36 8v33h-954zM252 118l-6 2l-9 6l-2 6l3 6l10 12l4 3l18 5l36 4l30 -2l24 -5l10 -5l4 -6v-6l-3 -6l-5 -4l-6 -4l-18 -5l-24 -4l-24 -1l-24 1z" fill="#6cbfab"/>
<path d="M-12 -12h135l16 24l15 18l2 6l-2 6l-9 6l-7 3l-24 5l-10 4l-6 6l-2 8l1 4l11 6l12 2h30l18 -2l18 -6h6l18 2l12 -2l66 -31l24 -14l16 -15l7 -12l6 -18h601v40l-30 -4h-72l-30 2l-12 -1l-42 1l-48 4l-15 6l-3 6l6 6l18 6l36 3l30 1h54l72 -3l6 -1l12 -6l18 -1v180l-108 -1l-18 -2l-12 -3l-18 -9l-16 -14l-9 -12l-14 -24l-6 -6l-10 -6l-17 -3h-12l-12 2l-54 17l-30 7l-18 1l-48 -2l-11 2l-7 3l-6 6l-4 9l-1 6l1 12l3 6l7 10l8 8l16 12l54 32l13 10l11 12l8 12l7 12l13 36l8 18l12 17l12 11l24 12l66 24l12 3l18 1l48 -6l18 -1l24 2l30 6l18 6v21h-954zM264 113l-24 5l-6 2l-5 6l1 6l3 6l12 12l13 6l18 4l24 3l36 -1l18 -3l12 -3l9 -6l4 -6l-1 -6l-3 -6l-7 -6l-26 -9l-18 -3l-24 -1z" fill="#6cbc79"/>
<path d="M-12 -12h129l7 12l21 24l5 6l1 6l-2 6l-10 6l-7 3l-18 3l-15 6l-6 6l-2 6l1 6l7 6l9 3l42 3l18 -2l18 -7h6l18 3l12 -2l12 -5l18 -11l36 -17l24 -14l20 -17l8 -12l7 -18h595v38l-24 -2l-36 -1l-132 3l-46 4l-14 6l-2 6l5 6l15 5l12 2l36 3l54 1l60 -1l36 -2l6 -1l12 -5l6 -1l12 1v173l-108 -1l-18 -3l-11 -3l-19 -10l-12 -10l-8 -10l-16 -30l-6 -6l-12 -5l-12 -2l-18 1l-12 2l-54 18l-30 6l-18 1l-48 -2l-12 1l-9 4l-7 6l-5 12l-1 12l1 6l6 12l15 18l17 12l49 28l10 8l12 12l8 12l8 18l14 54l7 18l7 12l12 10l12 6l45 14l51 18l18 1l54 -10l30 -1l30 4l30 9v9h-954zM234 114l-6 2l-4 4v6l4 12l14 12l10 6l24 6l24 2l18 1l34 -3l21 -6l8 -6l2 -6v-6l-4 -6l-7 -6l-12 -5l-18 -6l-24 -3l-36 -2l-30 1z" fill="#6aba51"/>
<path d="M-12 -12h123l6 12l25 24l4 6l1 6l-3 6l-6 4l-12 4l-18 4l-15 6l-6 6l-2 12l6 6l17 5l48 4l18 -3l12 -6h6l12 4l6 1l12 -1l6 -3l24 -16l42 -21l28 -18l14 -12l4 -6l8 -12l4 -12h590v37l-24 -3h-36l-132 3l-42 3l-6 1l-16 7l-1 6l5 6l12 5l18 3l36 3l54 1l60 -1l42 -2l12 -5l6 -1l12 1v168l-54 -1l-54 -2l-18 -3l-12 -4l-18 -10l-12 -12l-5 -8l-11 -24l-4 -6l-10 -7l-18 -3h-18l-12 2l-60 19l-30 7l-18 1l-42 -3l-18 1l-12 4l-5 3l-4 6l-7 18l1 12l5 12l9 12l7 7l12 10l44 25l17 12l12 12l12 18l6 18l2 18v30l-4 42l2 12l5 8l12 10l12 4l54 5l18 3l23 6h-761zM42 66l-8 6l14 6l12 1l10 -1l3 -6l-4 -6l-3 -1l-6 -1zM222 110l-5 4v6l5 13l6 8l11 9l13 7l24 6l24 3h18l24 -1l18 -2l20 -7l7 -6l2 -6l-1 -6l-4 -6l-7 -6l-12 -6l-23 -6l-24 -4l-36 -2h-42zM850 468l20 -2h18l18 3l19 5h-101z" fill="#68b830"/>
<path d="M-12 -12h117l3 7l6 9l24 20l5 6l1 6l-4 6l-8 4l-24 6l-30 10l-18 -2l-30 6l-5 6l5 3l5 3l19 4l24 1l30 8l42 5h18l12 -4l6 -3h6l10 7l4 6l2 12l2 6l12 18l5 6l19 12l12 5l18 3l42 4l42 -3l14 -3l14 -6l6 -6l2 -6l-2 -6l-5 -6l-7 -6l-16 -8l-24 -6l-54 -6l-36 -2l-15 -2l-10 -6l18 -18l7 -6l48 -25l18 -11l15 -12l16 -18l8 -18h585v35l-30 -2l-60 1l-12 -1l-12 1h-6l-12 1l-60 1l-42 3l-18 5l-7 4l-1 6l5 6l15 6l18 4l36 3l54 1l60 -2l42 -2l12 -4h6l12 1v161h-54l-42 -2l-18 -2l-18 -5l-18 -9l-13 -12l-7 -12l-7 -24l-4 -6l-11 -6l-12 -2h-24l-18 2l-60 21l-30 7h-24l-42 -3l-18 1l-12 5l-6 5l-4 6l-7 24l2 12l13 18l14 15l18 12l38 21l15 12l6 6l8 12l5 12l2 12l1 18l-5 18l-4 9l-6 9l-12 10l-12 5l-12 2h-18l-36 -3l-6 1l-7 3l-1 6l2 6l9 12l27 27l20 15h-566z" fill="#6bb82e"/>
<path d="M-12 -12h112l5 12l5 6l22 16l8 8l1 6l-3 4l-2 2l-10 4l-18 4l-18 5l-48 5l-20 6l-5 6l9 6l28 7l24 2l12 3l30 5l42 4h24l6 4l6 7l26 34l22 14l12 4l18 4l24 3h24l42 -3l19 -4l13 -6l6 -6l1 -6l-2 -6l-6 -6l-8 -6l-11 -6l-30 -9l-90 -9l-6 -2l-9 -4l-1 -6l3 -6l5 -6l8 -6l42 -22l18 -12l19 -14l16 -18l4 -6l5 -12h580v33l-60 -1l-30 1l-12 -1l-12 1h-6l-114 5l-19 4l-5 2l-5 4l-1 6l5 6l13 6l18 4l36 4l60 1l60 -1l42 -2l18 -4l12 1v156l-48 -1l-42 -2l-24 -3l-18 -5l-18 -10l-11 -12l-5 -12l-3 -24l-3 -6l-8 -4l-12 -2l-24 -1l-30 4l-18 5l-42 16l-30 7l-24 1l-48 -5l-12 1l-10 2l-12 6l-5 6l-10 24l-1 12l5 12l14 18l13 13l17 11l37 20l14 10l6 6l8 12l4 12l2 12l-2 12l-5 12l-9 10l-12 8l-12 3l-18 2l-54 -3l-12 3l-10 7l-4 6l-1 6l-1 12l2 6l7 12l33 42h-518zM348 82l-4 2l1 6l3 2l5 -2l1 -6z" fill="#6eb82c"/>
<path d="M-12 -12h108l4 12l4 6l32 24l1 6l-5 5l-6 3l-36 9l-59 7l-16 6l-5 6l7 6l37 9l61 9l65 8l6 3l12 9l15 16l9 12l24 15l12 4l18 4l24 3l24 1l42 -3l32 -6l13 -6l5 -6l2 -6l-3 -6l-16 -12l-27 -11l-24 -7h-12l-12 -2l-60 -7l-11 -3l-4 -6l1 -6l8 -8l54 -31l28 -21l17 -18l5 -6l5 -12h575v31h-60l-30 1l-12 -1l-12 1h-6l-36 2h-36l-30 3h-12l-25 5l-10 6v6l5 6l18 8l18 3l36 4l60 1l60 -1l42 -1l12 -2h18v150l-48 -1l-42 -3l-24 -4l-18 -6l-16 -10l-10 -12l-3 -12l3 -24l-3 -6l-7 -3l-12 -2l-24 -1l-36 5l-18 4l-54 20l-24 6h-24l-54 -5l-24 2l-12 4l-10 6l-8 7l-6 8v9l11 30l13 18l18 17l18 11l36 19l12 9l9 10l4 6l2 6l1 12l-2 12l-4 6l-5 6l-11 7l-12 4l-18 3l-54 1l-12 3l-9 6l-6 6l-4 6l-4 12l-2 12l1 12l6 12l18 22l8 14h-494zM342 82l-2 2v6l2 3l6 3l6 -1l4 -5l-1 -6l-9 -5z" fill="#71b82b"/>
<path d="M-12 -12h103l4 12l5 6l8 8l23 16l2 6l-10 6l-15 3l-18 6l-29 3l-37 6l-17 6l-4 6l7 6l20 6l33 6l111 16l6 2l12 7l18 16l12 15l24 15l12 4l24 4l18 2l24 2l42 -2l42 -7l8 -2l10 -5l4 -7l-1 -6l-3 -8l-6 -5l-12 -8l-12 -5l-24 -7l-17 -3l-3 -6l8 -6l1 -6l-2 -6l-9 -6h-4l-4 2l-5 4v6l5 11l2 1l-8 3l-30 -3l-40 -6l-11 -6l1 -6l5 -6l45 -27l38 -27l17 -18l11 -18h570v29l-48 1l-12 -1l-30 2l-12 -1l-54 3h-36l-30 3l-12 -1l-24 4l-8 3l-8 6v6l5 6l5 3l18 7l54 6l60 1l132 -2v144l-48 -2l-36 -3l-24 -4l-19 -6l-17 -11l-6 -7l-3 -6v-12l4 -18l-1 -7l-6 -6l-18 -3h-30l-42 6l-18 6l-42 17l-18 5l-12 2l-24 1l-48 -6l-30 -2h-12l-12 2l-21 9l-6 6l-1 6l4 18l8 12l10 24l6 10l12 14l12 10l14 8l35 18l17 12l8 12l3 12l-1 6l-4 8l-6 5l-12 7l-12 5l-12 2l-42 2l-12 2l-12 6l-14 11l-5 6l-6 12l-4 12l-3 12l1 6l5 18l19 24l2 6h-475z" fill="#7bba29"/>
<path d="M-12 -12h97l10 18l28 24l2 6l-13 6l-22 7l-60 8l-24 6l-6 3l-2 6l5 6l3 1l15 5l32 6l85 13l36 6l6 2l18 11l12 11l12 15l24 14l12 4l36 6l30 2l36 -1l60 -4l12 1l6 4l5 6l14 24l16 36l7 11l6 7l12 10l40 20l19 12l6 6l3 6l1 6v6l-3 6l-12 10l-12 5l-18 4l-30 2l-12 2l-6 3l-15 10l-18 18l-8 12l-4 12l-3 18l3 12l3 10l13 26h-457zM377 -12h565v26l-24 2h-36l-30 2l-12 -2l-12 3l-6 -1l-36 2h-36l-30 3l-12 -1l-24 3l-12 4l-7 7v6l3 6l10 6l18 5l36 5l18 1l60 1h90l42 1v136l-48 -1l-36 -3l-24 -5l-18 -8l-12 -9l-7 -9l-1 -6l4 -18l-1 -12l-4 -6l-3 -3l-6 -3l-6 -2l-12 -1h-18l-48 6l-24 7l-49 20l-17 5l-9 1h-21l-45 -6l-21 -4l-24 -7h-6l-6 1l-18 8l-12 2l-6 -2l-6 -5l-12 -15l-12 -11l-12 -5l-25 -4l-12 -6v-12l-3 -6l-8 -6l-6 -1h-6l-6 5l-2 2l-1 6v6l-3 4h-18l-26 -4l-16 -4l-5 -2l-2 -6l5 -6l44 -28l30 -22l23 -22z" fill="#89be28"/>
<path d="M-12 -12h92l12 18l20 18l5 6l-1 6l-20 10l-55 8l-41 8l-6 4l-1 6l5 6l2 1l13 5l11 2l114 18l36 7l12 6l12 8l12 10l12 15l21 12l15 5l24 5l36 3l78 -2l18 1l12 2l6 4l6 5l18 25l12 35l6 12l6 8l12 10l36 16l14 9l6 6l3 6l1 6l-2 6l-5 6l-11 7l-12 3l-30 2l-12 3l-6 3l-30 24l-12 12l-11 18l-4 18l2 18l12 36h-443zM378 -6l5 -6h559v24l-24 2h-36l-12 2h-18l-12 -2l-12 3l-12 -1l-6 2l-24 1l-54 1l-12 1l-12 -1l-24 3l-12 3l-7 4l-4 6v6l5 9l6 4l24 6l18 3l42 3l144 1l42 3v129l-72 -3l-24 -4l-18 -7l-12 -7l-5 -5l-4 -6l-2 -6v-6l1 -18l-1 -6l-3 -6l-10 -8l-18 -5l-24 -1l-48 8l-24 7l-41 17l-17 6l-14 3l-18 1l-48 -7l-24 -6l-7 -3l-8 -6l-15 -18l-6 1l-11 17l-7 5l-6 3h-6l-6 -1l-6 -4l-8 -9l-10 -17l-6 -5l-6 -1l-18 -1l-12 -2l-6 -5l-7 -11l-11 -7l-12 -1l-6 2l-6 6l-6 12l-12 1l-9 -1l-22 -6l-7 -6l3 -6l41 -29l24 -18l27 -25z" fill="#98c329"/>
<path d="M-12 -12h86l8 12l26 24l4 6l-2 6l-9 6l-11 4l-93 14l-7 6l-1 6l4 6l7 4l24 6l114 18l36 8l18 8l18 15l12 14l18 11l18 7l24 4l36 4l72 -1l18 2l18 5l12 10l9 11l7 12l10 36l4 11l6 11l6 6l6 4l30 12l12 6l4 4l4 6v6l-3 6l-11 6l-30 2l-6 1l-12 6l-24 22l-21 17l-11 12l-7 12l-3 18l2 18l9 36h-431zM383 -6l5 -6h116l24 2l24 -2h390v21l-6 1l-18 2l-12 -1l-24 1l-12 2h-18l-12 -1l-54 5l-78 1l-24 2l-12 2l-6 3l-6 6l-2 4v6l2 6l6 7l6 4l24 5l54 5l150 2l42 5v121l-48 -2l-24 -2l-18 -3l-18 -6l-12 -9l-6 -7l-4 -12v-18l-4 -12l-5 -6l-10 -6l-19 -5l-12 -2l-12 1l-54 9l-18 5l-60 25l-12 3l-18 1l-46 -7l-21 -6l-9 -6l-6 -6l-8 -21l-3 -3l-9 -3l-12 1l-7 2l-3 6l-1 12l-2 6l-5 5l-6 2l-6 -1l-8 -6l-4 -6l-3 -18l-3 -2l-6 -3l-6 -2h-30l-6 -2l-18 -15l-6 -2l-12 -1l-6 1l-6 2l-9 12l-3 2l-6 1l-17 -3l-9 -6l1 -6l6 -6l25 -19l48 -41z" fill="#a8cb2a"/>
<path d="M-12 -12h81l8 12l28 24l2 6l-1 6l-9 6l-7 2l-90 13l-9 3l-3 3zM388 -6l6 -6h91l31 4l18 1l18 -1l18 -4h372v17l-6 2l-18 2l-18 -2l-36 6h-12l-12 -3l-12 3h-12l-30 4l-24 1l-30 -1l-12 1l-12 -1l-30 2l-15 5l-6 6l-1 6l1 12l3 7l6 5l12 4l72 7h90l30 3h30l42 8v112l-48 -2l-24 -2l-18 -4l-15 -6l-8 -6l-5 -6l-3 -6l-4 -30l-2 -6l-4 -6l-9 -6l-10 -5l-24 -6h-18l-54 9l-30 10l-48 22l-12 3l-18 1l-18 -2l-30 -6l-18 -7l-8 -7l-3 -6l-5 -18l-8 -6l-12 -2h-12l-24 4l-30 -7l-36 -1l-6 -2l-18 -11l-6 -2l-12 -2l-12 1l-8 4l-4 5l-6 3h-6l-6 -2l-2 -6l5 -6l31 -30l36 -30zM-12 78l10 6l8 2l126 21l42 9l18 9l17 13l7 9l6 6l18 11l18 6l24 5l36 4l81 1l21 5l12 8l12 13l5 10l15 66l4 8l14 16l2 6l-33 42l-7 6l-26 18l-6 6l-8 12l-5 12l-1 12l2 12l6 30l1 12h-419zM439 114l5 -5l6 1l2 4l1 6l-3 4l-6 1l-5 -5z" fill="#b7d22c"/>
<path d="M-12 -12h76l8 13l29 23l3 6l-2 6l-12 7l-42 7l-54 6l-6 3zM394 -6l5 -6h69l42 6l24 2l24 -2l30 -6h230l4 3l1 -3h65l2 12l-2 2l-3 4l-15 4h-18l-12 -5l-18 2l-6 2l-6 3l-24 4l-24 1l-30 -3l-12 2h-36l-12 2l-12 5l-6 7l-1 6l1 14l6 11l6 4l12 3l60 4l18 3l42 -2l42 1l36 5h24l25 5l17 5v102l-48 -2l-18 -2l-18 -3l-12 -5l-8 -5l-6 -6l-4 -6l-2 -6l-1 -24l-2 -6l-4 -6l-7 -6l-12 -6l-32 -10l-12 -1l-66 12l-24 8l-48 23l-12 4l-18 1l-12 -1l-28 -6l-20 -7l-7 -5l-4 -6l-1 -6l-1 -12l-3 -6l-8 -4l-18 -2l-36 1l-30 -4l-36 -1l-12 -4l-12 -7l-36 -7l-2 -2l1 -6l9 -12l22 -21l27 -21zM870 95l-7 7l1 8l6 3l6 -1l4 -4l1 -6l-5 -6zM906 -12h36v12l-18 5h-6l-6 -2l-5 -3zM-12 84v-3l6 4l12 3l120 19l48 11l12 5l12 8l9 7l9 11l6 5l18 11l18 7l42 7l96 4l18 5l8 4l10 8l10 10l3 6l2 6l4 42l-1 30l6 18l2 12l-6 18l-8 11l-36 21l-9 10l-7 12l-4 12v12l1 12l6 24v18h-407v-193l6 1l6 -1l8 -5l5 -6l2 -12l-1 -6l-2 -6l-6 -6l-6 -2l-12 2z" fill="#c6d630"/>
<path d="M-12 -12h72l6 12l6 6l18 11l8 7l3 6l-2 6l-9 5l-6 2l-66 10l-24 1l-6 3zM399 -6l6 -6h48l57 9l30 2l48 -6l6 -1l9 -4h207l3 18l-10 6l-17 3l-24 1l-18 -2l-8 -2l-4 -2l-12 3l-42 1l-18 5l-7 5l-3 6v18l4 14l6 7l12 4l54 2l24 3l6 2l6 1l8 -3l28 -2h24l27 2l12 6l-1 6l-5 12l-2 6v6l5 6l12 3l15 -3l8 -6l3 -6v-12l4 -6h12l30 8v90l-48 -2l-18 -3l-18 -3l-12 -6l-7 -6l-4 -6l-2 -6l1 -24l-1 -6l-4 -6l-7 -6l-10 -6l-32 -12l-18 -9l-27 9l-33 4l-24 5l-24 11l-40 22l-14 3l-12 1l-18 -3l-28 -7l-14 -6l-5 -6l-2 -6l1 -18l-6 -6l-18 -2h-48l-30 -4l-36 -1l-6 -2l-18 -7l-12 -3l-12 -3l-4 -2l-3 -6l2 -6l4 -6l25 -24l26 -18zM836 -12h45v12l-7 6l-4 1l-12 1l-6 -2l-10 -6l-5 -6zM917 -12h25v4l-6 3l-12 2l-6 -3zM-12 90v-5l12 4l108 17l60 12l12 4l12 6l13 10l11 13l6 5l18 11l12 5l24 5l24 3l78 4l18 2l18 6l18 14l8 10l2 12l2 36l-6 36l6 24l1 12l-2 6l-5 7l-24 10l-13 7l-11 12l-7 12l-5 12l-3 18l1 12l5 24v6l-2 12h-391v-180h12l12 -4l6 -3l6 -5l5 -6l3 -12l-2 -18l-8 -12l-9 -6l-7 -2l-12 -1l-6 2z" fill="#d5db33"/>
<path d="M-12 -12h68l5 12l5 6l29 18l3 6l-2 6l-12 5l-60 10l-30 2l-6 1zM405 -6l6 -6h28l23 5l48 7l30 2l60 -5l6 -3l8 -6h105l3 12l-2 6l-12 2l-24 1l-18 4l-12 5l-7 6l-1 6l1 30l1 6l3 6l9 7l6 3l14 2l4 2l4 4l-10 3l-30 16l-32 23l-16 6h-12l-12 -1l-36 -11l-10 -6l-3 -6v-6l7 -11l2 -1l1 -6l-15 -4l-18 -1h-48l-72 -5l-24 -8l-12 -2l-10 -4l-4 -6l1 -6l9 -12l16 -15l39 -27zM738 -6l1 -6h67l2 12l-1 6l-12 6l-33 2l-18 -3l-6 -5l-2 -6zM847 -12h26l2 6l-2 6l-9 4l-6 -1l-6 -3l-4 -6zM712 84l14 -2l10 2l-10 5h-6zM781 84l17 -4l30 -1l12 2l8 3l2 6l-5 12l-5 6l-6 1l-6 -1l-33 -12l-11 -6zM-12 90v-3l9 3l111 17l54 12l18 5l12 6l12 9l12 14l4 3l14 9l12 6l18 5l36 6l90 5l18 7l7 4l13 12l5 6l2 6l2 30l-1 18l-10 36l1 24l-1 6l-9 6l-15 8l-6 4l-12 14l-10 16l-8 18l-4 12l-2 12l-1 30l-6 18h-365v-170l12 -1l12 -2l18 -9l6 -4l5 -6l2 -6l2 -12l-2 -12l-4 -12l-3 -7l-6 -7l-6 -4l-12 -4l-12 -1l-12 1zM918 114l6 -3l6 -1l12 1v73l-48 -2l-24 -3l-15 -5l-8 -6l-4 -6l-2 -6l-1 -6l1 -6l5 -9l6 -3l24 -2l21 -4l12 -6z" fill="#e2e133"/>
<path d="M-12 -12h63l4 6l1 6l6 6l8 6l20 11l5 7l-3 6l-8 3l-54 10l-42 4zM410 -6l4 -4l6 -1h6l30 6l66 8l18 2l36 -3l30 2l19 -16h82l2 6l-2 6l-5 2l-18 2l-24 6l-12 5l-5 3l-3 6l4 18l-2 16l-6 13l-6 4l-84 7l-90 1l-78 -6l-18 -6l-12 -2l-6 -3l-4 -6v-6l3 -6l18 -18l47 -30zM744 -12h58l2 12l-2 6l-16 6l-18 1l-12 -1l-12 -6l-2 -6zM813 84h12l9 3l3 3l-2 6l-7 2h-6l-7 -2l-11 -6l6 -5zM-12 90l84 12l54 10l36 8l18 6l12 6l12 9l12 14l6 4l18 11l12 5l24 5l24 3l66 4l24 3l12 5l13 9l9 12l3 6l3 12v24l-4 21l-9 21l-9 18l-30 41l-19 31l-10 24l-15 42l-12 18h-334v-161l12 -2l21 -5l14 -6l7 -5l7 -7l4 -6l2 -6v-12l-1 -12l-4 -12l-8 -15l-6 -6l-6 -4l-12 -3l-18 -1h-12zM539 108h19l42 -4h12l9 4l1 6l-3 6l-5 6l-8 5l-6 2l-12 1l-12 -2l-18 -9l-18 -5l-6 -4zM934 126l8 -1v55l-42 -1l-12 -1l-24 -5l-9 -5l-5 -6l-2 -6l1 -6l3 -6l6 -3l60 -11z" fill="#eee831"/>
<path d="M-12 -12h57l3 3l4 9l6 6l8 7l20 11l6 6l-5 6l-33 8l-36 5l-30 2zM417 -6l9 -1l102 13l18 1l30 -1l18 2l12 5l12 3l3 2h3l6 5l8 13l2 6v6l-5 12l-5 5l-6 3l-36 7l-60 4l-78 2l-66 -5l-24 -7l-12 -2l-3 -1l-4 -6v-6l9 -12l16 -15l37 -21zM634 -6l6 -6h44l-3 6l-6 6l-3 2l-6 2l-18 3h-18l-4 -1zM748 -12h51l1 12l-4 6l-4 2l-12 2l-18 1l-13 -5l-2 -6zM-12 96v-4l66 9l54 9l54 13l26 9l16 11l12 14l18 12l12 5l12 4l24 4l102 10l16 6l8 6l5 6l8 18l3 18l-1 18l-6 18l-9 18l-30 43l-22 35l-39 72l-16 18l-3 6h-310v-154l13 -2l23 -6l15 -6l9 -5l8 -7l4 -6l4 -12v-12l-3 -18l-4 -12l-7 -12l-8 -9l-6 -3l-12 -3l-30 -2l-6 1zM577 120l11 -2l13 2l-4 6h-9h-7zM905 138h37v37l-48 1l-27 -8l-8 -6l-2 -6l4 -6l3 -2l18 -6z" fill="#f3df2a"/>
<path d="M-12 -12h47l10 6l9 12l26 18l7 6l-6 6l-9 1l-18 6l-36 5l-30 2zM752 -12h42l1 12l-5 6l-4 1l-18 2l-6 -1l-7 -2l-4 -6zM418 0l2 -1l6 -1h6l48 4l54 7l18 1l24 -1l12 1l12 4l24 12l9 10l3 6v6l-6 10l-6 5l-18 5l-24 4l-72 6l-54 1l-24 -1l-48 -4l-24 -7l-12 -1l-4 -6l1 -6l3 -6l10 -12l14 -10l38 -20zM-12 96v-3l66 9l54 10l54 13l24 8l18 12l12 14l18 12l12 5l18 5l18 3l78 7l18 3l13 4l10 6l5 6l4 6l4 12l3 18l-1 18l-6 18l-7 12l-49 72l-46 72l-28 36h-292v-148l18 -3l21 -5l15 -6l11 -6l7 -6l8 -12l4 -12v-12l-2 -18l-3 -12l-7 -12l-11 -12l-7 -4l-12 -3l-18 -2l-24 1zM893 144l13 -2l33 8l3 2v14l-6 3l-30 4l-12 -1l-11 -4l-9 -6l-2 -6l6 -6z" fill="#f6cf21"/>
<path d="M-12 -12h35l13 6l6 3l8 9l25 18l4 6l-8 6l-23 7l-30 4l-30 1zM756 -6l1 -6h33l1 6l-1 6l-4 4l-6 2l-12 1l-6 -1l-6 -6zM416 6l4 -3l6 -1l12 -1l42 3l60 8h36l12 1l24 10l11 7l6 6l2 6v6l-3 6l-8 6l-14 5l-24 4l-54 6l-36 2l-36 1l-72 -6l-30 -7l-7 -5l1 -6l8 -12l13 -12l15 -9zM-12 96l84 11l38 7l49 12l21 7l11 5l13 9l12 14l18 12l12 5l36 7l84 10l18 4l9 5l7 6l6 12l3 12l2 12l-1 18l-7 18l-11 18l-86 124l-16 20l-28 30h-274v-142l18 -3l24 -6l18 -7l12 -8l8 -8l7 -12l4 -12l1 -18l-2 -18l-4 -12l-8 -12l-12 -10l-12 -6l-12 -2l-24 -1l-18 1zM889 150l11 -3l12 1l5 2l7 6l-1 6l-12 6l-11 1l-6 -1l-9 -6l-1 -6z" fill="#f5bb1f"/>
<path d="M-12 -12h22l26 10l28 20l6 6l3 6l-8 6l-17 6l-30 4l-30 1zM761 -6l3 -6h16h3l3 6l-3 6l-9 3l-6 -1l-6 -2zM424 6l14 -2l24 1l84 10l30 -1l12 2l18 7l13 7l5 6l3 6l-1 6l-3 6l-5 4l-12 5l-24 4l-72 7l-54 2l-48 -3l-24 -3l-32 -10l-1 -6l3 -6l10 -12l8 -6l18 -10zM-12 102v-5l66 9l48 8l49 12l35 12l18 12l6 8l6 5l12 8l12 6l18 6l18 3l57 6l35 6l17 6l8 6l4 6l7 18l1 18l-3 18l-9 18l-57 81l-36 48l-30 34l-27 23h-255v-137l24 -4l24 -6l18 -8l11 -7l11 -12l6 -12l3 -12l2 -18l-1 -18l-6 -18l-8 -11l-8 -7l-13 -6l-15 -3l-24 -2l-24 1zM891 156l9 -6l6 1l7 5l-2 6l-5 2l-6 1l-7 -3z" fill="#f4a71e"/>
<path d="M-12 -12h12l36 14l25 16l5 6l2 6l-7 6l-13 5l-30 4l-30 1zM416 12l16 -5h30l30 3l54 7l36 1l18 5l14 7l7 6l2 6l-1 6l-4 6l-6 4l-12 3l-96 12l-48 2l-48 -4l-24 -3l-24 -8l-4 -6l2 -6l10 -12l8 -6l20 -10zM-12 102v-3l66 8l39 7l50 12l37 12l12 6l8 6l10 11l6 5l12 8l12 5l18 5l18 4l48 4l24 4l12 3l16 5l9 6l6 6l3 6l4 12l1 12v12l-6 18l-10 18l-23 32l-42 56l-24 30l-18 19l-18 17l-18 14l-19 12h-233v-131l30 -6l24 -7l18 -8l12 -9l10 -13l6 -12l5 -18l1 -18l-3 -24l-5 -12l-8 -9l-12 -8l-12 -5l-18 -3l-24 -1l-24 1z" fill="#f29a1d"/>
<path d="M-12 -12l42 16l24 12l10 8v6l-6 6l-10 3l-30 5l-30 1zM424 12l14 -3h30l30 3l48 7l36 2l12 3l16 6l7 6l2 6l-1 6l-5 6l-7 3l-12 3l-60 8l-42 5l-30 1l-60 -5l-18 -3l-16 -6l-7 -6l1 -6l3 -6l6 -6l9 -6l16 -8zM-12 102v-2l84 12l36 7l27 7l20 6l31 12l12 7l10 11l8 7l12 7l12 5l30 7l60 7l18 3l19 6l11 6l6 6l6 12l3 12l1 12l-2 12l-5 12l-10 18l-17 24l-36 47l-30 36l-36 35l-18 14l-18 10l-31 14h-203v-125l30 -6l24 -7l18 -8l15 -10l10 -12l9 -18l5 -18l2 -18l-2 -24l-4 -12l-9 -12l-9 -6l-13 -6l-22 -5l-24 -1l-30 2z" fill="#f08c1c"/>
<path d="M-12 -6v-2l60 23l6 3l7 6v6l-7 6l-6 2l-24 4l-36 2zM435 12l21 -1h18l24 3l48 7l36 3l24 6l8 6l2 6l-1 6l-3 3l-5 3l-7 2l-90 14l-24 2h-30l-54 -5l-18 -3l-12 -6l-6 -4v-6l3 -6l9 -8l18 -10l24 -9zM-12 108v-6l6 1l76 11l32 6l24 6l38 12l22 9l6 4l24 21l12 7l12 5l30 6l54 6l34 8l12 6l7 6l7 12l3 12l1 12l-2 12l-4 12l-10 18l-13 18l-29 37l-30 35l-18 19l-24 22l-12 10l-18 11l-36 15l-30 8l-42 -2l-24 2l-24 5h-84v-120l36 -8l24 -7l18 -8l12 -8l10 -11l10 -18l6 -18l3 -24l-1 -24l-3 -12l-7 -12l-12 -9l-18 -7l-18 -3l-24 -2l-36 2z" fill="#ee791c"/>
<path d="M-12 0v-4l18 5l42 16l10 7l1 6l-5 4l-6 3l-30 4l-30 2zM418 18l20 -5h18l42 2l96 14l12 4l4 3l3 6l-2 6l-11 6l-90 14l-24 2l-24 1l-48 -3l-18 -3l-16 -5l-8 -6l-2 -6l3 -6l5 -6l6 -4l18 -9zM-12 108v-4h6l72 12l51 10l38 12l28 12l9 5l18 17l12 7l12 5l30 7l60 6l30 8l9 5l7 6l5 6l6 12l1 18l-1 12l-5 12l-10 18l-12 17l-24 29l-30 35l-18 18l-24 22l-18 13l-12 7l-30 12l-36 9l-36 1l-30 3l-30 6l-33 8h-45v-113l42 -11l24 -8l18 -9l12 -8l11 -13l9 -18l6 -18l3 -24l-2 -30l-2 -12l-7 -10l-11 -8l-14 -6l-23 -4l-30 -2l-36 2z" fill="#ec661c"/>
<path d="M-12 0l18 4l42 16l7 4l1 6l-8 4l-24 5l-36 2zM425 18l13 -3l18 -1l42 3l96 15l12 4l3 6l-3 6l-6 2l-66 13l-30 4l-42 3l-48 -4l-28 -6l-9 -6l-3 -6l2 -6l6 -6l8 -5l12 -6zM-12 108v-2h6l84 14l30 6l20 6l33 12l25 12l13 12l11 8l23 10l13 3l24 4l54 6l24 7l8 4l8 6l5 6l6 12l2 18l-2 12l-4 12l-10 18l-13 17l-24 29l-30 32l-18 18l-24 20l-12 9l-12 7l-24 9l-30 7l-99 14l-87 17v-106l66 -19l18 -9l14 -9l11 -12l8 -12l6 -12l5 -18l3 -24l-2 -36l-3 -12l-6 -7l-12 -9l-18 -7l-18 -2l-24 -2l-48 2z" fill="#e94c1a"/>
<path d="M-12 6v-3l24 6l24 10l15 5l1 6l-4 2l-24 6l-18 2h-18zM433 18l29 -2l36 3l42 6l55 11l5 2l5 4l-10 6l-13 2l-12 4l-36 8l-30 4l-42 2l-48 -3l-22 -5l-11 -6l-3 -6l2 -6l6 -6l16 -9l18 -6zM-12 108h6l71 12l53 12l18 6l29 12l21 12l13 12l11 6l15 6l15 4l18 3l66 8l24 8l10 7l5 6l6 12l2 6v18l-5 18l-7 12l-13 18l-22 26l-24 26l-30 28l-30 23l-12 7l-30 11l-36 8l-72 12l-102 13v-85l72 -24l18 -9l16 -12l6 -6l8 -12l9 -18l5 -18l3 -24l-2 -36l-2 -12l-7 -10l-12 -9l-18 -7l-18 -3h-30l-48 1z" fill="#e8311b"/>
<path d="M-12 12v-5l18 2l18 7l12 7l5 1l3 6l-26 7l-24 2l-6 -1zM448 18l14 -1l30 2l48 7l32 10l10 6l-8 6l-14 6l-26 6l-30 5l-42 2l-48 -3l-16 -4l-12 -6l-4 -6l2 -6l6 -6l18 -9l18 -6zM-12 114v-5l6 1l48 8l64 14l19 6l31 12l24 14l18 14l18 8l30 8l78 9l19 7l9 6l6 6l6 12l2 6v18l-6 18l-6 12l-13 18l-23 26l-24 25l-30 25l-30 21l-12 7l-24 8l-36 10l-66 13l-48 4l-48 1l-12 -1v-58l15 -9l69 -27l18 -11l12 -10l13 -18l8 -18l5 -18l3 -24l-3 -36l-2 -12l-6 -12l-12 -11l-12 -5l-18 -4h-42l-48 2z" fill="#e81b1c"/>
<path d="M-12 12v-2l6 -1l12 2l6 2l11 5l7 6l2 6l-15 6l-17 2l-12 -1zM421 24l17 -4l18 -1l42 3l42 6l22 8l6 6l-3 6l-12 6l-19 5l-36 5l-30 2l-48 -3l-16 -3l-8 -3l-5 -3l-4 -6l1 -6l6 -6l10 -6zM-12 114v-3l6 1l30 4l44 10l44 12l44 17l22 13l20 15l18 7l30 6l72 8l19 6l10 6l5 6l4 6l4 12l1 18l-6 18l-7 13l-13 17l-23 25l-24 24l-30 23l-24 15l-18 10l-31 11l-35 10l-30 7l-30 5l-18 2l-24 -1l-24 -2l-18 -4l-8 -5l-5 -6l-2 -6l1 -6l2 -6l6 -8l13 -10l11 -6l48 -22l15 -8l16 -12l11 -12l11 -18l7 -18l4 -18v-24l-3 -30l-4 -18l-9 -15l-12 -9l-12 -4l-12 -2l-96 3z" fill="#e8191c"/>
<path d="M-7 12l13 1l12 5l7 6v6l-7 3l-11 3h-13l-6 -2v-21zM427 24l11 -2l18 -2l42 3l42 6l16 7l5 6l-2 6l-12 6l-13 3l-30 5l-42 2l-42 -2l-12 -3l-13 -5l-4 -6l1 -6l5 -6l11 -6zM-12 114h6l37 6l29 7l34 11l62 23l18 10l21 15l15 6l30 5l66 7l12 2l12 4l10 6l7 6l6 12l3 18l-2 12l-4 12l-7 12l-13 17l-42 42l-24 19l-48 27l-37 15l-29 10l-24 6l-30 6l-18 2l-18 -1l-18 -3l-12 -4l-7 -4l-5 -5l-3 -7v-6l3 -6l6 -6l16 -12l44 -23l18 -11l16 -14l12 -18l7 -18l5 -24v-18l-2 -30l-4 -18l-6 -18l-10 -14l-12 -7l-18 -3l-36 4l-66 3z" fill="#e8161c"/>
<path d="M-12 18v-1l12 -3l12 3l9 7l-1 6l-14 4h-12l-6 -2zM435 24l15 -2h18l30 3l18 3l18 2l6 1l12 5l5 6l-3 6l-12 6l-44 7l-36 2l-43 -3l-11 -3l-8 -3l-6 -6l1 -6l6 -6l7 -4zM-12 120v-4h6l28 4l24 6l20 6l14 6l8 6l3 6l-8 6l-23 7l-72 4zM135 168l3 -2h6l18 4l12 6l18 13l18 7l96 11l18 4l10 5l7 6l7 12l3 12l-2 18l-5 12l-7 12l-19 23l-36 34l-12 9l-18 11l-51 25l-42 18l-21 7l-36 9l-18 3l-16 -1l-14 -3l-12 -6l-4 -3l-4 -6l-1 -6l2 -6l4 -6l14 -12l43 -23l18 -13l17 -18l7 -12l5 -12l5 -24v-30l-4 -30l-10 -42z" fill="#e8151c"/>
<path d="M-7 18l7 -2l10 2l7 6l-2 6l-9 3h-6l-9 -3l-3 -7zM446 24h28l60 7l14 5l5 6l-3 6l-10 5l-42 6l-36 2l-42 -3l-16 -4l-6 -6l1 -6l5 -6l10 -5l18 -5zM-12 120v-2h6l24 3l38 11l13 6l6 6l1 6l-7 6l-15 4l-66 4zM146 180l4 -4l6 -1l6 1l8 4l22 15l12 4l102 11l18 5l11 7l8 12l1 6l1 12l-3 16l-11 20l-13 16l-36 33l-18 13l-123 58l-21 6l-30 7h-12l-12 -2l-10 -5l-6 -6l-2 -6l1 -6l3 -6l5 -6l8 -6l37 -20l23 -16l16 -18l9 -18l4 -18l2 -30l-3 -30l-8 -36l-1 -6z" fill="#e8151c"/>
<path d="M-7 24l7 -5h6l8 5l-4 6l-4 1l-8 -1zM422 30l16 -3l18 -2l36 2l24 4l24 3l5 2l5 6l-3 6l-13 4l-42 6l-30 2l-18 -1l-30 -3l-6 -2l-6 -6v-6l5 -6zM-12 126v-5l6 -1l35 6l31 12l6 6v6l-6 5l-6 2l-54 5h-12zM155 186l7 -2l6 2l18 13l12 4l60 4l48 6l12 3l9 6l6 6l3 6l2 6l1 12l-3 18l-11 18l-13 15l-36 31l-12 8l-66 26l-18 9l-29 19l-13 6l-43 12l-11 1l-12 -2l-9 -5l-3 -6v-6l3 -6l6 -6l9 -6l35 -18l25 -17l12 -13l9 -18l4 -18v-30l-2 -36l-8 -36z" fill="#e8151c"/>
<path d="M0 24l6 -2l3 2l-3 3zM429 30l15 -3l18 -1l36 3l18 5l24 2l7 6l-4 6l-3 1l-24 3l-18 4l-30 2l-24 -1l-29 -3l-10 -6v-6l5 -6zM-12 126v-2l6 -1l24 3l12 3l24 11l4 4v6l-4 2l-6 2l-48 5h-12zM172 210l2 -2l24 2l48 -2l24 3l42 9l6 2l7 6l6 12l1 6v12l-3 12l-6 12l-11 13l-24 20l-24 17l-18 6l-48 11l-18 7l-12 8l-18 20l-7 6l-11 6l-42 11l-6 1l-6 -1l-6 -5v-6l6 -8l6 -4l66 -31l12 -9l5 -8l4 -12l3 -18l-4 -84z" fill="#e8151c"/>
<path d="M437 30l25 -2l36 3l18 5h18l6 2l4 4l-4 5l-3 1l-21 1l-18 5l-36 3l-34 -3l-14 -3l-5 -3l-1 -6l6 -6zM-12 132v-5l6 -1l24 3l11 3l11 6l6 6l-10 6l-12 3l-24 3h-12zM209 216l25 -5l18 1l26 4l21 6l13 5l7 7l5 11l1 7l-1 12l-5 12l-9 12l-16 14l-24 16l-12 5l-12 3h-18l-14 -2l-10 -4l-8 -8l-8 -18l-6 -24l-1 -18l1 -12l4 -12l6 -6z" fill="#e8151c"/>
<path d="M451 30h17l30 3l11 3l7 5l18 -1l7 2l-7 3l-18 -1l-6 4l-12 4l-30 3l-23 -1l-31 -6l-2 -6l10 -6zM-12 132v-1l6 -1l24 2l12 6v6l-13 6l-23 3l-6 -2zM231 216l15 -1l24 4l11 3l23 12l8 11l5 13l-3 12l-8 12l-12 10l-12 8l-18 8l-12 2l-12 -1l-6 -2l-12 -5l-12 -9l-10 -11l-6 -12l-2 -12l2 -12l6 -12l5 -6l9 -6z" fill="#e8151c"/>
<path d="M431 36l19 -4h18l30 2l5 2l7 6l-5 6l-7 2l-30 3h-12l-30 -5l-6 -4l-2 -2zM-11 138l5 -2h6l16 2l-1 6l-15 3h-6l-6 -3zM231 222l15 -2l17 2l15 6l9 6l12 12l5 12v6l-1 6l-4 6l-7 6l-10 6l-12 5l-12 1h-8l-10 -3l-18 -9l-6 -6l-6 -8l-4 -10v-6l4 -12l4 -6l6 -6z" fill="#e8151c"/>
<path d="M444 36l18 -3l24 3h9h3l7 6l-7 6h-12l-24 3l-20 -3l-10 -6zM238 228l8 -1l13 1l11 5l6 5l7 8l4 12v6l-4 6l-13 6l-12 1l-18 -5l-12 -8l-4 -6l-2 -6v-6l2 -6l4 -6z" fill="#e8151c"/>
<path d="M458 36h12l10 5h6l12 -1l3 2l-3 3l-12 -2l-6 1l-7 4l-5 1l-12 -1l-10 -6z" fill="#e8151c"/>
<path d="M457 42l5 -2h6l4 2l-4 3h-6z" fill="#df151c"/>
<path d="M-8.1 4C-6.7 4.3 -4 4.3 0 5.4C4 6.5 10.3 8.5 16.1 10.7C21.9 13 28.6 16.1 34.9 18.8C41.2 21.5 51.9 24.4 53.7 26.8C55.5 29.3 50.1 31.8 45.6 33.6C41.2 35.3 34.5 36.5 26.8 37.6C19.2 38.7 5.8 39.7 0 40.3C-5.8 40.8 -6.7 40.7 -8.1 40.8M51 -5.4C51.5 -4 51 -0.4 53.7 2.7C56.4 5.8 61.7 9.8 67.1 13.4C72.5 17 81.7 21.3 85.9 24.2C90.2 27.1 93.5 28.4 92.6 30.9C91.7 33.3 87 36.7 80.5 38.9C74 41.2 62.6 42.7 53.7 44.3C44.7 45.9 35.8 47.4 26.8 48.3C17.9 49.2 5.8 49.4 0 49.7C-5.8 49.9 -6.7 49.9 -8.1 49.9M94 -5.4C94.4 -4 94.4 -0.4 96.6 2.7C98.9 5.8 102.5 9.4 107.4 13.4C112.3 17.4 121.7 23.3 126.2 26.8C130.6 30.4 135.1 32.2 134.2 34.9C133.3 37.6 129.8 40.3 120.8 43C111.9 45.6 96.2 48.3 80.5 51C64.9 53.7 39.4 56.4 26.8 59.1C14.3 61.7 9.2 64.7 5.4 67.1C1.6 69.6 2.2 71.6 4 73.8C5.8 76.1 7.8 78.1 16.1 80.5C24.4 83 38.5 85.9 53.7 88.6C68.9 91.3 89.5 94 107.4 96.6C125.3 99.3 147.7 102 161.1 104.7C174.5 107.4 180.8 109.2 187.9 112.8C195.1 116.3 198.7 120.8 204 126.2C209.4 131.5 213.9 139.6 220.1 145C226.4 150.3 233.6 154.8 241.6 158.4C249.7 162 257.3 164.2 268.5 166.4C279.6 168.7 295.3 170.9 308.7 171.8C322.1 172.7 335.6 172.5 349 171.8C362.4 171.1 377.6 169.6 389.3 167.8C400.9 166 412.1 164 418.8 161.1C425.5 158.2 428.2 154.4 429.5 150.3C430.9 146.3 430.4 141.4 426.8 136.9C423.3 132.4 416.6 127.5 408.1 123.5C399.6 119.5 387.9 115.7 375.8 112.8C363.8 109.8 349 108.1 335.6 106C322.1 104 306.5 102.2 295.3 100.7C284.1 99.1 275.2 98.4 268.5 96.6C261.7 94.9 256.8 92.6 255 89.9C253.2 87.2 254.6 83.9 257.7 80.5C260.9 77.2 267.6 73.6 273.8 69.8C280.1 66 287.2 62.6 295.3 57.7C303.4 52.8 314.1 45.9 322.1 40.3C330.2 34.7 337.8 29.1 343.6 24.2C349.4 19.2 353.5 14.5 357 10.7C360.6 6.9 363.3 4 365.1 1.3C366.9 -1.3 367.3 -4.3 367.8 -5.4M145 -5.4C145.2 -4 145.4 -0.4 146.3 2.7C147.2 5.8 147 9.8 150.3 13.4C153.7 17 159.3 21 166.4 24.2C173.6 27.3 186.4 29.5 193.3 32.2C200.2 34.9 207.2 37.6 208.1 40.3C208.9 43 206.5 45.9 198.7 48.3C190.8 50.8 174 52.8 161.1 55C148.1 57.3 129.1 59.7 120.8 61.7C112.5 63.8 110.1 65.3 111.4 67.1C112.8 68.9 120.6 71.4 128.9 72.5C137.1 73.6 149 74.5 161.1 73.8C173.2 73.2 187.9 71.1 201.3 68.5C214.8 65.8 228.2 62 241.6 57.7C255 53.5 270.7 48.1 281.9 43C293.1 37.8 302.5 32.2 308.7 26.8C315 21.5 317.9 15 319.5 10.7C321 6.5 318.3 4 318.1 1.3C317.9 -1.3 318.1 -4.3 318.1 -5.4M247 138.3C247 134.5 247.9 129.3 252.3 126.2C256.8 123 264.9 120.9 273.8 119.5C282.8 118 295.3 117.4 306 117.6C316.8 117.8 329.3 118.9 338.3 120.8C347.2 122.7 355 125.7 359.7 128.9C364.4 132 366.9 136 366.4 139.6C366 143.2 362.6 147.4 357 150.3C351.5 153.2 341.4 155.6 332.9 157C324.4 158.5 315.9 159.1 306 158.9C296.2 158.7 282.8 157.4 273.8 155.7C264.9 154 256.8 151.9 252.3 149C247.9 146.1 247 142.1 247 138.3ZM-8.1 92.9C-6.7 93.1 -10.3 92.7 0 94C10.3 95.3 35.8 98 53.7 100.7C71.6 103.4 89.5 106.5 107.4 110.1C125.3 113.6 147.7 118.6 161.1 122.1C174.5 125.7 180.3 127.7 187.9 131.5C195.5 135.3 200.9 140 206.7 145C212.5 149.9 216.1 156.2 222.8 161.1C229.5 166 237.1 170.9 247 174.5C256.8 178.1 269.4 180.5 281.9 182.6C294.4 184.6 308.7 185.5 322.1 186.6C335.6 187.7 351.2 188.1 362.4 189.3C373.6 190.4 381.7 190.8 389.3 193.3C396.9 195.7 403.1 199.1 408.1 204C413 208.9 416.2 215.7 418.8 222.8C421.4 230 423.2 238.9 423.6 247C424.1 255 423.6 263.1 421.5 271.1C419.3 279.2 415.7 286.8 410.7 295.3C405.8 303.8 398.7 312.3 391.9 322.1C385.2 332 377.6 343.2 370.5 354.4C363.3 365.5 355.7 377.6 349 389.3C342.3 400.9 336 413.4 330.2 424.2C324.4 434.9 319 446.3 314.1 453.7C309.2 461.1 303.6 464.7 300.7 468.5C297.8 472.3 297.3 475.2 296.6 476.5M-8.1 107.4C-6.7 107.6 -10.3 106.9 0 108.7C10.3 110.5 35.8 114.8 53.7 118.1C71.6 121.5 91.7 124.8 107.4 128.9C123 132.9 136.5 137.8 147.7 142.3C158.8 146.8 166.4 150.8 174.5 155.7C182.6 160.6 189.3 167.3 196 171.8C202.7 176.3 207.2 179.4 214.8 182.6C222.4 185.7 230.4 188.4 241.6 190.6C252.8 192.8 268.5 194.4 281.9 196C295.3 197.5 311 197.8 322.1 200C333.3 202.2 341.8 205.1 349 209.4C356.2 213.6 361.3 219.2 365.1 225.5C368.9 231.8 371.4 239.4 371.8 247C372.3 254.6 370.7 263.1 367.8 271.1C364.9 279.2 360.2 286.8 354.4 295.3C348.5 303.8 340.5 313.2 332.9 322.1C325.3 331.1 317.2 340 308.7 349C300.2 357.9 290.8 367.8 281.9 375.8C272.9 383.9 264 390.6 255 397.3C246.1 404 239.4 410.7 228.2 416.1C217 421.5 203.6 425.5 187.9 429.5C172.3 433.6 152.1 437.1 134.2 440.3C116.3 443.4 98.4 445.9 80.5 448.3C62.6 450.8 40.3 453.2 26.8 455C13.4 456.8 5.8 458.2 0 459.1C-5.8 459.9 -6.7 460 -8.1 460.1M191.9 255C192.6 249.2 194.9 241.8 198.7 236.2C202.5 230.6 208.1 225.1 214.8 221.5C221.5 217.9 230.4 215.4 238.9 214.8C247.4 214.1 256.8 215.2 265.8 217.4C274.7 219.7 285 223.7 292.6 228.2C300.2 232.7 307.4 238.9 311.4 244.3C315.4 249.7 317.2 254.6 316.8 260.4C316.3 266.2 313.2 273.4 308.7 279.2C304.3 285 296.6 290.8 289.9 295.3C283.2 299.8 275.6 303.6 268.5 306C261.3 308.5 254.1 310.5 247 310.1C239.8 309.6 232.2 306.7 225.5 303.4C218.8 300 211.9 295.3 206.7 289.9C201.6 284.6 197.1 277 194.6 271.1C192.2 265.3 191.3 260.9 191.9 255ZM-8.1 129.9C-6.7 130 -4 129.9 0 130.2C4 130.5 11.2 130.4 16.1 131.5C21 132.7 27.1 135.1 29.5 136.9C32 138.7 32.2 140.3 30.9 142.3C29.5 144.3 26.6 147.3 21.5 149C16.3 150.7 4.9 151.8 0 152.5C-4.9 153.2 -6.7 152.9 -8.1 153M-8.1 205.1C-6.7 205.1 -4.9 205.1 0 205.4C4.9 205.6 14.8 205.6 21.5 206.7C28.2 207.8 34.9 208.5 40.3 212.1C45.6 215.7 50.1 222.4 53.7 228.2C57.3 234 60 240.3 61.7 247C63.5 253.7 64.7 261.7 64.4 268.5C64.2 275.2 63.1 281.9 60.4 287.2C57.7 292.6 53.9 296.6 48.3 300.7C42.7 304.7 34.9 308.5 26.8 311.4C18.8 314.3 5.8 316.8 0 318.1C-5.8 319.5 -6.7 319.2 -8.1 319.5M-8.1 176.1C-6.7 176.1 -8.1 176.1 0 175.8C8.1 175.6 26.8 174.3 40.3 174.5C53.7 174.7 69.4 174.9 80.5 177.2C91.7 179.4 100.7 183.4 107.4 187.9C114.1 192.4 118.1 197.3 120.8 204C123.5 210.7 122.8 219.7 123.5 228.2C124.2 236.7 125.3 246.1 124.8 255C124.4 264 122.8 273.8 120.8 281.9C118.8 289.9 116.8 295.7 112.8 303.4C108.7 311 103.8 320.4 96.6 327.5C89.5 334.7 80.1 340.9 69.8 346.3C59.5 351.7 46.5 355.7 34.9 359.7C23.3 363.8 7.2 368.2 0 370.5C-7.2 372.7 -6.7 372.7 -8.1 373.2M414.8 -5.4C414.1 -4.3 415 -1.8 410.7 1.3C406.5 4.5 397.3 8.7 389.3 13.4C381.2 18.1 369.6 24.2 362.4 29.5C355.3 34.9 349.9 40.7 346.3 45.6C342.7 50.6 340.5 55.3 340.9 59.1C341.4 62.9 343.2 66 349 68.5C354.8 70.9 364.2 72.3 375.8 73.8C387.5 75.4 403.8 76.7 418.8 77.9C433.8 79 449.2 80.3 466 80.5C482.9 80.8 501.8 80.1 519.7 79.2C537.6 78.3 557.8 76.7 573.4 75.2C589.1 73.6 603.4 72.5 613.7 69.8C624 67.1 630.7 63.5 635.2 59.1C639.6 54.6 641 48.3 640.5 43C640.1 37.6 636.5 31.1 632.5 26.8C628.5 22.6 620.9 19.7 616.4 17.4C611.9 15.2 605.6 14.8 605.6 13.4C605.6 12.1 609.2 10.5 616.4 9.4C623.5 8.3 639.6 7.6 648.6 6.7C657.5 5.8 665.1 5.8 670.1 4C675 2.2 676.8 -2.7 678.1 -4M466 16.1C453.2 15.9 441 16.6 429.5 18.8C418.1 21 405.4 26 397.3 29.5C389.3 33.1 384.3 36.9 381.2 40.3C378.1 43.6 377.2 46.5 378.5 49.7C379.9 52.8 382.6 56.4 389.3 59.1C396 61.7 406 64.2 418.8 65.8C431.6 67.3 451.5 68.5 466 68.5C480.6 68.5 492.9 67.3 506.3 65.8C519.7 64.2 533.2 61.7 546.6 59.1C560 56.4 577 52.8 586.8 49.7C596.7 46.5 606.5 43 605.6 40.3C604.7 37.6 591.3 35.8 581.5 33.6C571.6 31.3 559.1 29.1 546.6 26.8C534 24.6 519.7 21.9 506.3 20.1C492.9 18.3 478.8 16.3 466 16.1ZM466 29.5C454.1 29.1 443.7 30.6 434.9 32.2C426.1 33.8 417.4 36.9 413.4 38.9C409.4 40.9 408.9 42.3 410.7 44.3C412.5 46.3 414.9 49.2 424.2 51C433.4 52.8 452.3 55.3 466 55C479.7 54.8 493.8 51.9 506.3 49.7C518.8 47.4 541.2 44.1 541.2 41.6C541.2 39.1 518.8 36.9 506.3 34.9C493.8 32.9 477.9 30 466 29.5ZM576.1 122.1C576.6 120.8 580.6 118.7 584.2 118.1C587.7 117.5 594.5 117.9 597.6 118.7C600.7 119.5 603.4 121.6 603 123C602.5 124.3 598.5 126.2 594.9 126.7C591.3 127.2 584.6 126.9 581.5 126.2C578.3 125.4 575.7 123.5 576.1 122.1ZM941.2 17.2C939.7 17.2 944.2 17.2 932.1 17.4C920 17.7 892.7 18.1 868.7 18.8C844.7 19.5 812.8 20.6 788.2 21.5C763.6 22.4 739 23 721.1 24.2C703.2 25.3 689.8 26 680.8 28.2C671.9 30.4 668.3 34 667.4 37.6C666.5 41.2 668.7 46.1 675.4 49.7C682.1 53.2 693.3 56.7 707.7 59.1C722 61.4 739 63 761.3 63.9C783.7 64.8 813.4 64.6 841.9 64.4C870.3 64.3 915.5 63.4 932.1 63.1C948.6 62.8 939.7 62.9 941.2 62.8M941.2 36.2C939.7 35.8 935.2 34.9 932.1 33.6C928.9 32.2 937.4 29.3 922.4 28.2C907.4 27.1 868.7 26.8 841.9 26.8C815 26.8 783.7 27.1 761.3 28.2C739 29.3 718.4 31.5 707.7 33.6C696.9 35.6 696.9 37.8 696.9 40.3C696.9 42.7 699.1 46.1 707.7 48.3C716.2 50.6 730 52.6 747.9 53.7C765.8 54.8 790.4 55.5 815 55C839.6 54.6 877.7 52.8 895.6 51C913.5 49.2 916.3 46.1 922.4 44.3C928.5 42.5 928.9 41.4 932.1 40.3C935.2 39.1 939.7 38 941.2 37.6M745.2 40.3C745.7 39.1 750.6 37.1 756 36.2C761.3 35.3 770.3 34.7 777.4 34.9C784.6 35.1 794.5 36.6 798.9 37.6C803.4 38.6 805.2 39.7 804.3 40.8C803.4 41.9 799.4 43.5 793.6 44.3C787.7 45.1 776.1 45.8 769.4 45.6C762.7 45.5 757.3 44.4 753.3 43.5C749.3 42.6 744.8 41.5 745.2 40.3ZM463.1 476.5C462.9 475.2 462.9 470.9 461.7 468.5C460.6 466 459.5 465.5 456.4 461.7C453.2 457.9 446.3 451.9 443 445.6C439.6 439.4 436.7 431.3 436.2 424.2C435.8 417 437.8 409.8 440.3 402.7C442.7 395.5 446.7 387 451 381.2C455.3 375.4 461.3 371.1 466 367.8C470.8 364.4 474.1 362.6 479.5 361.1C484.8 359.5 489.3 359.1 498.3 358.4C507.2 357.7 522.9 358.6 533.2 357C543.4 355.5 552.6 352.6 560 349C567.4 345.4 574.1 340.9 577.4 335.6C580.8 330.2 581.7 323 580.1 316.8C578.6 310.5 573.6 303.4 568.1 298C562.5 292.6 554.6 289 546.6 284.6C538.5 280.1 527.8 275.6 519.7 271.1C511.7 266.7 504.5 262.6 498.3 257.7C492 252.8 486.6 247.4 482.1 241.6C477.7 235.8 474.1 228.2 471.4 222.8C468.7 217.4 468.5 214.3 466 209.4C463.5 204.5 458.7 199.1 456.4 193.3C454.1 187.5 452.3 179.4 452.3 174.5C452.3 169.6 454.1 166.4 456.4 163.8C458.7 161.1 462.2 160.2 466 158.4C469.9 156.6 472.8 154.3 479.5 153C486.2 151.8 495.1 150.6 506.3 150.9C517.5 151.1 533.2 153 546.6 154.4C560 155.7 575.7 158.5 586.8 158.9C598 159.4 604.7 158.7 613.7 157C622.6 155.4 631.6 152.1 640.5 149C649.5 145.9 658.4 141.6 667.4 138.3C676.3 134.9 683 131.5 694.2 128.9C705.4 126.2 722.4 123.4 734.5 122.1C746.6 120.9 757.8 120.7 766.7 121.3C775.7 122 783.7 123.6 788.2 126.2C792.7 128.8 793.3 132.4 793.6 136.9C793.8 141.4 790.4 148.1 789.5 153C788.6 157.9 787.1 162 788.2 166.4C789.3 170.9 791.8 175.6 796.2 179.9C800.7 184.1 807.4 188.6 815 191.9C822.6 195.3 830.7 197.9 841.9 200C853.1 202.1 867.1 203.5 882.1 204.6C897.2 205.6 922.2 205.9 932.1 206.2C941.9 206.5 939.7 206.4 941.2 206.4M941.2 237.6C939.7 237.6 944.2 237.6 932.1 237.6C920 237.6 888.2 237.8 868.7 237.6C849.2 237.4 829.4 238.3 815 236.2C800.7 234.2 791.8 230 782.8 225.5C773.9 221 767.6 215.7 761.3 209.4C755.1 203.1 749.7 194.2 745.2 187.9C740.8 181.7 738.5 176.3 734.5 171.8C730.5 167.3 726.4 163.5 721.1 161.1C715.7 158.6 709.9 156.8 702.3 157C694.7 157.3 685.7 159.7 675.4 162.4C665.1 165.1 653.1 170 640.5 173.2C628 176.3 613.7 179.6 600.3 181.2C586.8 182.8 571.2 181.9 560 182.6C548.8 183.2 539 183 533.2 185.2C527.3 187.5 525.5 191.5 525.1 196C524.7 200.4 526.9 206.7 530.5 212.1C534 217.4 539.4 222.4 546.6 228.2C553.7 234 564.5 241.4 573.4 247C582.4 252.6 591.3 256.4 600.3 261.7C609.2 267.1 619.1 272.7 627.1 279.2C635.2 285.7 642.8 293.5 648.6 300.7C654.4 307.8 657.5 314.5 662 322.1C666.5 329.8 670.1 338.3 675.4 346.3C680.8 354.4 686.6 363.3 694.2 370.5C701.8 377.6 709.9 383.4 721.1 389.3C732.3 395.1 745.7 401.3 761.3 405.4C777 409.4 797.1 412.3 815 413.4C832.9 414.5 853.1 411.9 868.7 412.1C884.4 412.3 898.4 413.6 909 414.8C919.6 415.9 926.7 417.9 932.1 418.8C937.4 419.7 939.7 420.1 941.2 420.4M941.2 283.2C939.7 283.4 935.2 283.7 932.1 284.6C928.9 285.5 924.9 286.4 922.4 288.6C919.9 290.8 917 294.6 917 298C917 301.3 919.9 305.8 922.4 308.7C924.9 311.6 928.9 314.1 932.1 315.4C935.2 316.8 939.7 316.6 941.2 316.8M941.2 137.7C939.7 137.8 939.7 137.9 932.1 138.3C924.5 138.6 906.1 138.3 895.6 139.6C885 140.9 875.2 143.6 868.7 146.3C862.2 149 857.5 152.3 856.6 155.7C855.7 159.1 858.7 163.5 863.4 166.4C868.1 169.4 877.2 171.6 884.8 173.2C892.4 174.7 901.1 175.4 909 175.8C916.9 176.3 926.7 175.8 932.1 175.8C937.4 175.8 939.7 175.8 941.2 175.8" fill="none" stroke="#41474a" stroke-width="2.8" stroke-linejoin="round" stroke-linecap="round"/>
</g>
<rect x="-1" y="0.2" width="932" height="466.2" fill="none" stroke="#000" stroke-width="2.9"/>
<path d="M15.9 466.4v11.6M118.8 466.4v6.2M221.7 466.4v11.6M324.6 466.4v6.2M427.5 466.4v11.6M530.4 466.4v6.2M633.3 466.4v11.6M736.2 466.4v6.2M839.1 466.4v11.6M-1 0.2h-11.6M-1 65h-6.2M-1 129.8h-11.6M-1 194.5h-6.2M-1 259.3h-11.6M-1 324.1h-6.2M-1 388.9h-11.6M-1 453.6h-6.2" stroke="#000" stroke-width="2.6" fill="none"/>
<g font-size="21" text-anchor="middle" stroke="#000" stroke-width=".3">
<text transform="translate(16.9 501) scale(.95 1)">100</text>
<text transform="translate(222.7 501) scale(.95 1)">200</text>
<text transform="translate(428.5 501) scale(.95 1)">300</text>
<text transform="translate(634.3 501) scale(.95 1)">400</text>
<text transform="translate(840.1 501) scale(.95 1)">500</text>
</g><g font-size="21" text-anchor="end" stroke="#000" stroke-width=".3">
<text transform="translate(-19.5 7.1) scale(.95 1)">0</text>
<text transform="translate(-19.5 136.7) scale(.95 1)">50</text>
<text transform="translate(-19.5 266.2) scale(.95 1)">100</text>
<text transform="translate(-19.5 395.8) scale(.95 1)">150</text>
</g>
<text x="466" y="545.4" font-size="32" text-anchor="middle">X(m)</text>
<text transform="translate(-69 233.2) rotate(-90) scale(.96 1)" font-size="31.5" text-anchor="middle">Z(m)</text>
<text x="-2.1" y="-15.2" font-size="50.8">Row 13</text>
<text transform="translate(-192 -50.4) scale(1.045 1)" font-size="58">(d1)</text>
<path d="M417.5 1.5V464.9" stroke="#c9c9c9" stroke-width="3.2" fill="none"/>
<path d="M427.3 1.5V464.9" stroke="#000" stroke-width="2.3" stroke-dasharray="14.7 10.8" stroke-dashoffset="-2" fill="none"/>
<text transform="translate(432.9 -8.5) rotate(-90) scale(.9 1)" font-size="36">F106</text>
<path d="M474.6 1.5V464.9" stroke="#c9c9c9" stroke-width="3.2" fill="none"/>
<path d="M484.4 1.5V464.9" stroke="#000" stroke-width="2.3" stroke-dasharray="14.7 10.8" stroke-dashoffset="-2" fill="none"/>
<text transform="translate(492.9 -8.5) rotate(-90) scale(.9 1)" font-size="36">F104</text>
<path d="M585.3 1.5V464.9" stroke="#c9c9c9" stroke-width="3.2" fill="none"/>
<path d="M569.6 1.5V464.9" stroke="#000" stroke-width="2.3" stroke-dasharray="14.7 10.8" stroke-dashoffset="-2" fill="none"/>
<text transform="translate(592.2 -5.9) rotate(-90) scale(.9 1)" font-size="36">F102</text>
<rect x="963.6" y="-2" width="27.2" height="7.9" fill="#721d84"/>
<rect x="963.6" y="5.3" width="27.2" height="7.9" fill="#791a8b"/>
<rect x="963.6" y="12.6" width="27.2" height="7.9" fill="#722992"/>
<rect x="963.6" y="19.9" width="27.2" height="7.9" fill="#6a3a98"/>
<rect x="963.6" y="27.2" width="27.2" height="7.9" fill="#5d409a"/>
<rect x="963.6" y="34.6" width="27.2" height="7.9" fill="#4f459d"/>
<rect x="963.6" y="41.9" width="27.2" height="7.9" fill="#41489f"/>
<rect x="963.6" y="49.2" width="27.2" height="7.9" fill="#324a9f"/>
<rect x="963.6" y="56.5" width="27.2" height="7.9" fill="#244ba0"/>
<rect x="963.6" y="63.8" width="27.2" height="7.9" fill="#2453a8"/>
<rect x="963.6" y="71.1" width="27.2" height="7.9" fill="#255bb0"/>
<rect x="963.6" y="78.4" width="27.2" height="7.9" fill="#2868b7"/>
<rect x="963.6" y="85.8" width="27.2" height="7.9" fill="#2b77c0"/>
<rect x="963.6" y="93.1" width="27.2" height="7.9" fill="#2d8ccd"/>
<rect x="963.6" y="100.4" width="27.2" height="7.9" fill="#2fa0da"/>
<rect x="963.6" y="107.7" width="27.2" height="7.9" fill="#33b2e3"/>
<rect x="963.6" y="115" width="27.2" height="7.9" fill="#48bbe0"/>
<rect x="963.6" y="122.3" width="27.2" height="7.9" fill="#63bfc9"/>
<rect x="963.6" y="129.6" width="27.2" height="7.9" fill="#6cbe9c"/>
<rect x="963.6" y="136.9" width="27.2" height="7.9" fill="#6bbb68"/>
<rect x="963.6" y="144.2" width="27.2" height="7.9" fill="#69b93b"/>
<rect x="963.6" y="151.6" width="27.2" height="7.9" fill="#6ab82f"/>
<rect x="963.6" y="158.9" width="27.2" height="7.9" fill="#6eb82d"/>
<rect x="963.6" y="166.2" width="27.2" height="7.9" fill="#71b82b"/>
<rect x="963.6" y="173.5" width="27.2" height="7.9" fill="#7bbb29"/>
<rect x="963.6" y="180.8" width="27.2" height="7.9" fill="#8bbf28"/>
<rect x="963.6" y="188.1" width="27.2" height="7.9" fill="#9dc629"/>
<rect x="963.6" y="195.4" width="27.2" height="7.9" fill="#aece2b"/>
<rect x="963.6" y="202.8" width="27.2" height="7.9" fill="#c0d42e"/>
<rect x="963.6" y="210.1" width="27.2" height="7.9" fill="#d0da32"/>
<rect x="963.6" y="217.4" width="27.2" height="7.9" fill="#dfe033"/>
<rect x="963.6" y="224.7" width="27.2" height="7.9" fill="#ede731"/>
<rect x="963.6" y="232" width="27.2" height="7.9" fill="#f4de2a"/>
<rect x="963.6" y="239.3" width="27.2" height="7.9" fill="#f6cb20"/>
<rect x="963.6" y="246.6" width="27.2" height="7.9" fill="#f5b51f"/>
<rect x="963.6" y="253.9" width="27.2" height="7.9" fill="#f3a11e"/>
<rect x="963.6" y="261.2" width="27.2" height="7.9" fill="#f1921d"/>
<rect x="963.6" y="268.6" width="27.2" height="7.9" fill="#ef7f1c"/>
<rect x="963.6" y="275.9" width="27.2" height="7.9" fill="#ec6a1c"/>
<rect x="963.6" y="283.2" width="27.2" height="7.9" fill="#e94e1b"/>
<rect x="963.6" y="290.5" width="27.2" height="7.9" fill="#e82f1b"/>
<rect x="963.6" y="297.8" width="27.2" height="7.9" fill="#e81b1c"/>
<rect x="963.6" y="305.1" width="27.2" height="7.9" fill="#e8181c"/>
<rect x="963.6" y="312.4" width="27.2" height="7.9" fill="#e8151c"/>
<rect x="963.6" y="319.8" width="27.2" height="7.9" fill="#e8151c"/>
<rect x="963.6" y="327.1" width="27.2" height="7.9" fill="#e8151c"/>
<rect x="963.6" y="334.4" width="27.2" height="7.9" fill="#e8151c"/>
<rect x="963.6" y="341.7" width="27.2" height="7.9" fill="#e8151c"/>
<rect x="963.6" y="349" width="27.2" height="7.9" fill="#e8151c"/>
<rect x="963.6" y="356.3" width="27.2" height="7.9" fill="#e8151c"/>
<rect x="963.6" y="363.6" width="27.2" height="7.9" fill="#e8151c"/>
<rect x="963.6" y="370.9" width="27.2" height="7.9" fill="#e5151c"/>
<rect x="963.6" y="378.2" width="27.2" height="7.9" fill="#d9141c"/>
<rect x="963.6" y="385.6" width="27.2" height="7.9" fill="#ca171e"/>
<rect x="963.6" y="392.9" width="27.2" height="7.9" fill="#b81c22"/>
<rect x="963.6" y="400.2" width="27.2" height="7.9" fill="#ae1f23"/>
<rect x="963.6" y="407.5" width="27.2" height="7.9" fill="#a52025"/>
<rect x="963.6" y="414.8" width="27.2" height="7.9" fill="#9f2026"/>
<rect x="963.6" y="422.1" width="27.2" height="7.9" fill="#992028"/>
<rect x="963.6" y="429.4" width="27.2" height="7.9" fill="#8f1e26"/>
<rect x="963.6" y="436.8" width="27.2" height="7.9" fill="#841d23"/>
<rect x="963.6" y="444.1" width="27.2" height="7.9" fill="#7b1a20"/>
<rect x="963.6" y="451.4" width="27.2" height="7.9" fill="#72161d"/>
<rect x="963.6" y="458.7" width="27.2" height="7.9" fill="#6a121a"/>
<rect x="963.6" y="-2" width="27.2" height="468" fill="none" stroke="#000" stroke-width="3.4"/>
<path d="M990.8 -2h31M990.8 56.5h31M990.8 115h31M990.8 173.5h31M990.8 232h31M990.8 290.5h31M990.8 349h31M990.8 407.5h31M990.8 466h31" stroke="#000" stroke-width="2.6" fill="none"/>
<g font-size="21">
<text transform="translate(1030.3 5.8) scale(.97 1)">-15%</text>
<text transform="translate(1030.3 64.3) scale(.97 1)">-11%</text>
<text transform="translate(1030.3 122.8) scale(.97 1)">-6%</text>
<text transform="translate(1030.3 181.3) scale(.97 1)">-2%</text>
<text transform="translate(1030.3 239.8) scale(.97 1)">2%</text>
<text transform="translate(1030.3 298.3) scale(.97 1)">7%</text>
<text transform="translate(1030.3 356.8) scale(.97 1)">11%</text>
<text transform="translate(1030.3 415.3) scale(.97 1)">16%</text>
<text transform="translate(1030.3 473.8) scale(.97 1)">20%</text>
</g>
<text x="952.5" y="520" font-size="25">dVs/Vs (%)</text>
</g>
<g transform="translate(229 779.4)">
<g clip-path="url(#pc)">
<defs><path id="c2_0" d="M-18 -10.7C-15 -10.7 -158.3 -10.7 0 -10.7C158.3 -10.7 773.7 -10.7 932.1 -10.7C1090.4 -10.7 947.1 -10.7 950.1 -10.7H962V496.4H-30V-10.7Z"/><path id="c2_1" d="M-18 0.7C-15 0.8 -20.9 0.6 0 1.3C20.9 2.1 71.6 3.8 107.4 5.4C143.2 6.9 183.4 9.3 214.8 10.7C246.1 12.2 272.9 13.5 295.3 14C317.7 14.4 328.4 14.2 349 13.4C369.6 12.7 399.3 10.5 418.8 9.4C438.3 8.3 431.3 7.3 466 6.7C500.8 6.1 573.4 5.9 627.1 5.9C680.8 5.9 737.4 6.4 788.2 6.7C839 7.1 905.1 7.8 932.1 8.1C959.1 8.3 947.1 8.2 950.1 8.2H962V496.4H-30V0.7Z"/><path id="c2_2" d="M-18 4.5C-15 4.6 -11.9 4.8 0 5.4C11.9 6 35.8 6.7 53.7 8.1C71.6 9.4 89.5 11.4 107.4 13.4C125.3 15.4 143.2 17.9 161.1 20.1C179 22.4 196.9 24.9 214.8 26.8C232.7 28.8 250.6 30.7 268.5 31.7C286.4 32.7 304.3 32.9 322.1 32.8C340 32.6 359.7 31.9 375.8 30.9C391.9 29.9 403.8 28.2 418.8 26.8C433.8 25.5 441.2 24.2 466 22.8C490.9 21.5 532.3 19.4 568.1 18.8C603.8 18.2 659.6 19 680.8 19.3C702.1 19.7 694.7 19.7 695.6 20.9C696.5 22.2 688 24.7 686.2 26.8C684.4 28.9 683 31.3 684.8 33.6C686.6 35.8 686.4 38 696.9 40.3C707.4 42.5 728.2 46.3 747.9 47C767.6 47.7 784.3 45.6 815 44.3C845.7 43 909.6 40 932.1 38.9C954.6 37.9 947.1 38.2 950.1 38.1H962V496.4H-30V4.5Z"/><path id="c2_3" d="M-18 12.2C-15 12.3 -7.5 12.6 0 12.9C7.5 13.2 17.9 13 26.8 14C35.8 14.9 44.7 16.4 53.7 18.8C62.6 21.2 71.6 25.3 80.5 28.2C89.5 31.1 94 33.8 107.4 36.2C120.8 38.7 143.2 40.9 161.1 43C179 45 196.9 47.2 214.8 48.3C232.7 49.4 250.6 49.9 268.5 49.7C286.4 49.4 304.3 48.1 322.1 47C340 45.9 359.7 44.1 375.8 43C391.9 41.8 403.8 42.3 418.8 40.3C433.8 38.3 444.7 32.9 466 30.9C487.3 28.9 523.3 28.2 546.6 28.2C569.8 28.2 591.3 29.1 605.6 30.9C620 32.7 622.2 36.2 632.5 38.9C642.8 41.6 654.9 44.7 667.4 47C679.9 49.2 687.5 51 707.7 52.3C727.8 53.7 750.8 54.8 788.2 55C825.6 55.3 905.1 53.9 932.1 53.7C959.1 53.4 947.1 53.6 950.1 53.5H962V496.4H-30V12.2Z"/><path id="c2_4" d="M-17.8 45.7C-14.8 46.1 -7.4 47.2 0 48.3C7.4 49.4 13.4 51.1 26.8 52.3C40.3 53.6 58.2 54.5 80.5 55.8C102.9 57.2 138.7 59.6 161.1 60.4C183.4 61.2 196.9 60.9 214.8 60.4C232.7 60 250.6 58.6 268.5 57.7C286.4 56.8 304.3 56.2 322.1 55C340 53.9 359.7 52.6 375.8 51C391.9 49.4 403.8 47.7 418.8 45.6C433.8 43.6 444.7 39.4 466 38.9C487.3 38.5 524.2 41.2 546.6 43C568.9 44.7 586 47.7 600.3 49.7C614.6 51.7 619.1 53.4 632.5 55C645.9 56.7 659.3 58.3 680.8 59.6C702.3 60.9 719.5 62.3 761.3 63.1C803.2 63.9 900.6 64.2 932.1 64.4C963.5 64.7 947.1 64.5 950.1 64.6H962V496.4H-30V45.7Z"/><path id="c2_5" d="M-18 68.4C-15 68.6 -16.4 68.5 0 69.3C16.4 70 53.7 72.3 80.5 73C107.4 73.8 134.2 74.3 161.1 73.8C187.9 73.4 214.8 71.9 241.6 70.3C268.5 68.8 299.8 66.1 322.1 64.4C344.5 62.8 359.7 61.5 375.8 60.4C391.9 59.3 403.8 58.4 418.8 57.7C433.8 57 449.2 55.9 466 56.4C482.9 56.8 501.8 58.8 519.7 60.4C537.6 62 555.5 64.1 573.4 65.8C591.3 67.4 609.2 69.3 627.1 70.3C645 71.4 658.4 71.6 680.8 71.9C703.2 72.3 734.5 72 761.3 72.5C788.2 72.9 813.4 73.7 841.9 74.6C870.3 75.5 914 77.2 932.1 77.9C950.1 78.5 947.1 78.4 950.1 78.5H962V496.4H-30V68.4Z"/><path id="c2_6" d="M-18 82.3C-15 82.5 -16.4 82.4 0 83.2C16.4 84 53.7 86.3 80.5 87.2C107.4 88.2 134.2 89.1 161.1 89.1C187.9 89.1 214.8 87.9 241.6 87.2C268.5 86.6 292.6 85.7 322.1 85.4C351.7 85.1 394.8 85.4 418.8 85.4C442.8 85.4 444.7 85.1 466 85.4C487.3 85.7 519.7 86.9 546.6 87.2C573.4 87.6 600.3 87.4 627.1 87.2C654 87.1 680.8 86 707.7 86.4C734.5 86.9 761.3 88.2 788.2 89.9C815 91.6 844.7 95 868.7 96.6C892.7 98.3 918.5 99.2 932.1 99.9C945.6 100.6 947.1 100.6 950.1 100.8H962V496.4H-30V82.3Z"/><path id="c2_7" d="M-18 95.6C-15 95.7 -11.9 95.9 0 96.6C11.9 97.4 35.8 98.7 53.7 99.9C71.6 101 89.5 102.1 107.4 103.4C125.3 104.6 143.2 105.9 161.1 107.4C179 108.9 196.9 110.5 214.8 112.2C232.7 113.9 252.8 116.4 268.5 117.6C284.1 118.8 295.3 119.6 308.7 119.5C322.1 119.3 335.6 118 349 116.8C362.4 115.6 375.8 113.6 389.3 112.2C402.7 110.9 416.7 109.5 429.5 108.7C442.3 107.9 451 107.8 466 107.4C481.1 106.9 501.8 106.5 519.7 106C537.6 105.6 555.5 104.8 573.4 104.7C591.3 104.6 609.2 104.9 627.1 105.2C645 105.6 665.1 106 680.8 106.8C696.5 107.7 707.7 108.9 721.1 110.6C734.5 112.3 747.9 115 761.3 116.8C774.8 118.6 786 120.3 801.6 121.3C817.3 122.4 833.6 122.8 855.3 123C877 123.1 916.3 122.3 932.1 122.1C947.9 122 947.1 122 950.1 122H962V496.4H-30V95.6Z"/><path id="c2_8" d="M-17.9 105.8C-14.9 106 -11.9 106.3 0 107.4C11.9 108.5 35.8 110.2 53.7 112.2C71.6 114.2 89.5 116.9 107.4 119.5C125.3 122 143.2 124.8 161.1 127.5C179 130.2 196.9 132.9 214.8 135.6C232.7 138.3 250.6 141.5 268.5 143.6C286.4 145.7 304.3 147.4 322.1 148.2C340 148.9 359.7 148.7 375.8 148.2C391.9 147.7 403.8 146.4 418.8 145C433.8 143.5 449.2 141.6 466 139.6C482.9 137.6 501.8 135.1 519.7 132.9C537.6 130.6 559.1 127.2 573.4 126.2C587.7 125.1 596.7 125.8 605.6 126.7C614.6 127.6 621.7 129.4 627.1 131.5C632.5 133.7 637 136.5 637.9 139.6C638.7 142.7 636.1 146.8 632.5 150.3C628.9 153.9 624 157.3 616.4 161.1C608.8 164.9 594.9 169.4 586.8 173.2C578.8 177 572.8 179.9 568.1 183.9C563.4 187.9 559.6 192.8 558.7 197.3C557.8 201.8 558.9 206.5 562.7 210.7C566.5 215 573.4 219.5 581.5 222.8C589.5 226.2 598.9 228.2 611 230.9C623.1 233.6 640.1 236 654 238.9C667.8 241.8 681.7 245.2 694.2 248.3C706.8 251.5 719.7 255.9 729.1 257.7C738.5 259.5 745.2 260 750.6 259.1C756 258.2 758.9 257.5 761.3 252.3C763.8 247.2 764.3 237.1 765.4 228.2C766.5 219.2 766.5 208.9 768.1 198.7C769.6 188.4 771.4 174.3 774.8 166.4C778.1 158.6 781.5 155.5 788.2 151.7C794.9 147.9 803.8 145.6 815 143.6C826.2 141.6 841.9 140.4 855.3 139.6C868.7 138.8 882.8 139.1 895.6 139.1C908.4 139.1 923 139.5 932.1 139.6C941.2 139.7 947.1 139.8 950.1 139.9H962V496.4H-30V105.8Z"/><path id="c2_9" d="M680.8 177.2C682.4 174.5 685.3 170.3 688.9 167.8C692.4 165.2 697.8 163.1 702.3 161.9C706.8 160.7 712.3 159.6 715.7 160.5C719.1 161.5 721.7 165 722.4 167.8C723.1 170.6 722.2 174.3 719.7 177.2C717.3 180.1 712.8 183.5 707.7 185.2C702.5 186.9 693.6 187.6 688.9 187.4C684.2 187.2 680.8 185.6 679.5 183.9C678.1 182.2 679.2 179.9 680.8 177.2Z"/><path id="c2_10" d="M943.9 276.5C930.5 277.2 919.3 279.2 909 280.5C898.7 281.9 891.1 283 882.1 284.6C873.2 286.1 862.2 288.1 855.3 289.9C848.4 291.7 841.9 292.8 840.5 295.3C839.2 297.8 842.6 301.8 847.2 304.7C851.9 307.6 860.7 310.5 868.7 312.8C876.8 315 883 316.6 895.6 318.1C908.1 319.6 928.2 321 943.9 321.6C959.6 322.2 981.9 329.1 989.5 321.6C997.1 314.1 997.1 284 989.5 276.5C981.9 269 957.3 275.8 943.9 276.5Z"/><path id="c2_11" d="M943.9 158.4C928.2 158.5 910.3 158.3 895.6 158.9C880.8 159.6 866.9 160.7 855.3 162.4C843.7 164.1 832.7 166.2 825.8 169.1C818.8 172 815 175.4 813.7 179.9C812.3 184.3 814.4 190.8 817.7 196C821.1 201.1 826.7 206.5 833.8 210.7C841 215 850.4 218.7 860.7 221.5C871 224.3 881.7 226.8 895.6 227.7C909.4 228.5 928.2 227 943.9 226.8C959.6 226.7 981.9 238.3 989.5 226.8C997.1 215.4 997.1 169.8 989.5 158.4C981.9 147 959.6 158.3 943.9 158.4Z"/><path id="c2_12" d="M-17.9 120.6C-14.9 120.8 -6.6 121.6 0 122.1C6.6 122.7 14.8 123 21.5 124C28.2 125.1 32.7 126 40.3 128.3C47.9 130.7 58.2 135.6 67.1 138.3C76.1 140.9 82.8 142.8 94 144.4C105.1 146.1 118.6 146.7 134.2 148.2C149.9 149.7 170 151.9 187.9 153.6C205.8 155.3 223.7 156.7 241.6 158.4C259.5 160.1 277.4 162.1 295.3 163.8C313.2 165.5 331.1 167 349 168.6C366.9 170.2 389.3 171.9 402.7 173.2C416.1 174.4 421.5 174.5 429.5 175.8C437.6 177.2 444.9 179.2 451 181.2C457.1 183.2 461.3 184.6 466 187.9C470.8 191.3 474.1 196 479.5 201.3C484.8 206.7 491.5 214.5 498.3 220.1C505 225.7 511.7 230.6 519.7 234.9C527.8 239.1 536.7 242.5 546.6 245.6C556.4 248.8 567.6 251.2 578.8 253.7C590 256.2 602.1 257.9 613.7 260.4C625.3 262.9 637.4 264.9 648.6 268.5C659.8 272 671 277.2 680.8 281.9C690.6 286.6 698.7 291.7 707.7 296.6C716.6 301.6 725.5 306.5 734.5 311.4C743.4 316.3 752.4 321.5 761.3 326.2C770.3 330.9 779.2 335.6 788.2 339.6C797.1 343.6 805.2 347.2 815 350.3C824.9 353.5 836.1 356.4 847.2 358.4C858.4 360.4 868 361.3 882.1 362.4C896.3 363.5 920.8 364.5 932.1 365.1C943.4 365.7 947.1 365.9 950.1 366.1H962V496.4H-30V120.6Z"/><path id="c2_13" d="M-17.2 240.1C-14.4 239.2 -7.3 237.1 0 234.9C7.3 232.7 17.9 230.6 26.8 226.8C35.8 223 44.7 217.2 53.7 212.1C62.6 206.9 71.6 200.4 80.5 196C89.5 191.5 98.4 188.1 107.4 185.2C116.3 182.3 124.4 180.2 134.2 178.5C144.1 176.8 155.3 175.7 166.4 175C177.6 174.4 188.8 174.2 201.3 174.5C213.9 174.8 226 175.3 241.6 176.6C257.3 178 279.6 180.4 295.3 182.6C311 184.7 322.1 186.4 335.6 189.3C349 192.2 364.7 195.7 375.8 200C387 204.3 394.6 209.6 402.7 214.8C410.7 219.9 417.4 225.7 424.2 230.9C430.9 236 437.6 241.8 443 245.6C448.3 249.4 452.5 251.5 456.4 253.7C460.2 255.9 461.7 256.8 466 259.1C470.3 261.3 475.4 264.7 482.1 267.1C488.9 269.6 496.5 272 506.3 273.8C516.2 275.6 529.1 276.7 541.2 277.9C553.3 279 566.7 279.4 578.8 280.5C590.9 281.7 603.4 282.6 613.7 284.6C624 286.6 631.6 289 640.5 292.6C649.5 296.2 658.4 301.1 667.4 306C676.3 311 685.3 316.8 694.2 322.1C703.2 327.5 712.1 333.1 721.1 338.3C730 343.4 739 348.1 747.9 353C756.9 357.9 765.8 363.5 774.8 367.8C783.7 372 792.7 375.6 801.6 378.5C810.6 381.4 817.3 383.2 828.5 385.2C839.6 387.2 851.5 389 868.7 390.6C886 392.2 918.5 393.8 932.1 394.6C945.6 395.5 947.1 395.6 950 395.8H962V496.4H-30V240.1Z"/><path id="c2_14" d="M-17.9 299.8C-14.9 299.5 -7.5 298.7 0 298C7.5 297.2 17.9 297.1 26.8 295.3C35.8 293.5 44.7 290.8 53.7 287.2C62.6 283.7 72.5 278.7 80.5 273.8C88.6 268.9 95.3 263.5 102 257.7C108.7 251.9 114.5 244.5 120.8 238.9C127.1 233.3 132.9 228.6 139.6 224.2C146.3 219.7 153 215.7 161.1 212.1C169.1 208.5 179 204.8 187.9 202.7C196.9 200.5 205.8 199.8 214.8 199.2C223.7 198.6 232.7 198.7 241.6 199.2C250.6 199.6 259.5 200.3 268.5 201.9C277.4 203.5 286.4 205.8 295.3 208.9C304.3 211.9 313.2 215.6 322.1 220.1C331.1 224.7 340 230 349 236.2C357.9 242.5 367.8 250.6 375.8 257.7C383.9 264.9 390.2 272.5 397.3 279.2C404.5 285.9 411.2 292.6 418.8 298C426.4 303.4 435.1 307.6 443 311.4C450.8 315.2 458.6 318.3 466 320.8C473.5 323.3 480.8 324.8 487.5 326.2C494.2 327.5 499.6 328.9 506.3 328.9C513 328.9 520.2 328.2 527.8 326.2C535.4 324.2 544.3 319.1 551.9 316.8C559.6 314.4 566.3 312.8 573.4 311.9C580.6 311.1 587.7 310.9 594.9 311.9C602.1 313 608.8 314.9 616.4 318.1C624 321.4 632 326.8 640.5 331.5C649 336.2 658.4 341.4 667.4 346.3C676.3 351.2 685.3 356.4 694.2 361.1C703.2 365.8 712.1 370.2 721.1 374.5C730 378.7 739 382.8 747.9 386.6C756.9 390.4 765.8 394 774.8 397.3C783.7 400.7 792.7 404 801.6 406.7C810.6 409.4 817.3 411.4 828.5 413.4C839.6 415.4 851.5 417.4 868.7 418.8C886 420.1 918.5 420.9 932.1 421.5C945.6 422.1 947.1 422.1 950.1 422.2H962V496.4H-30V299.8Z"/><path id="c2_15" d="M-17.9 336.9C-14.9 336.6 -9.7 336.1 0 335C9.7 334 26.8 333.1 40.3 330.7C53.7 328.4 67.1 324.7 80.5 320.8C94 316.9 107.4 312.5 120.8 307.4C134.2 302.2 149.9 295.1 161.1 289.9C172.3 284.8 179 280.5 187.9 276.5C196.9 272.5 205.8 268.5 214.8 265.8C223.7 263.1 233.6 260.9 241.6 260.4C249.7 260 255.9 260.9 263.1 263.1C270.2 265.3 277.4 269.1 284.6 273.8C291.7 278.5 298.9 285 306 291.3C313.2 297.5 320.4 304.7 327.5 311.4C334.7 318.1 340.9 324.8 349 331.5C357 338.3 366.9 345.9 375.8 351.7C384.8 357.5 393.7 362.4 402.7 366.4C411.6 370.5 419 372.3 429.5 375.8C440.1 379.4 455.5 384.8 466 387.9C476.6 391.1 483.9 392.8 492.9 394.6C501.8 396.4 511.7 398 519.7 398.7C527.8 399.3 533.2 400 541.2 398.7C549.3 397.3 559.1 392.6 568.1 390.6C577 388.6 586.8 386.8 594.9 386.6C603 386.4 608.8 387.5 616.4 389.3C624 391.1 629.8 394.2 640.5 397.3C651.3 400.4 667.4 404.5 680.8 408.1C694.2 411.6 707.7 415.2 721.1 418.8C734.5 422.4 747.9 426.4 761.3 429.5C774.8 432.7 788.2 435.3 801.6 437.6C815 439.8 820.1 441.6 841.9 443C863.6 444.3 914 445.1 932.1 445.6C950.1 446.2 947.1 446.1 950.1 446.2H962V496.4H-30V336.9Z"/><path id="c2_16" d="M-18 371.4C-15 371.2 -11.9 371.1 0 370.5C11.9 369.9 35.8 369.4 53.7 367.8C71.6 366.2 89.5 362.6 107.4 361.1C125.3 359.5 145.4 358.6 161.1 358.4C176.7 358.2 187.9 358.2 201.3 359.7C214.8 361.3 228.2 364.2 241.6 367.8C255 371.4 268.5 376.3 281.9 381.2C295.3 386.1 306.5 391.3 322.1 397.3C337.8 403.4 357.9 411.2 375.8 417.4C393.7 423.7 414.5 430.4 429.5 434.9C444.6 439.4 453.2 441.8 466 444.3C478.8 446.8 490.6 448.5 506.3 449.7C522 450.8 544.3 451 560 451C575.7 451 586.8 449.2 600.3 449.7C613.7 450.1 627.1 452.1 640.5 453.7C654 455.3 667.4 457 680.8 459.1C694.2 461.1 709.9 463.9 721.1 465.8C732.3 467.7 740.5 469.1 747.9 470.3C755.4 471.6 762.7 472.8 765.7 473.4V496.4H-30V371.4Z"/><path id="c2_17" d="M-18 410.4C-15 410.4 -14.2 410.5 0 410.7C14.2 411 44.7 411.4 67.1 412.1C89.5 412.8 114.1 412.8 134.2 414.8C154.4 416.8 170 419.9 187.9 424.2C205.8 428.4 226 435.3 241.6 440.3C257.3 445.2 268.5 449.7 281.9 453.7C295.3 457.7 311.9 461.8 322.1 464.4C332.4 467 337.1 467.8 343.6 469.3C350.1 470.7 358.3 472.6 361.2 473.2V496.4H-30V410.4Z"/></defs>
<use href="#c2_0" fill="#8C1B22"/>
<use href="#c2_1" fill="#BE1C24"/>
<use href="#c2_2" fill="#E8151C"/>
<use href="#c2_3" fill="#E8151C"/>
<use href="#c2_4" fill="#E8151C"/>
<use href="#c2_5" fill="#EE7219"/>
<use href="#c2_6" fill="#F5CE1F"/>
<use href="#c2_7" fill="#D2DE35"/>
<use href="#c2_8" fill="#96C623"/>
<use href="#c2_9" fill="#F5CE1F"/>
<use href="#c2_10" fill="#D2DE35"/>
<use href="#c2_11" fill="#6DB92D"/>
<use href="#c2_11" fill="url(#hf)"/>
<use href="#c2_12" fill="#6DB92D"/>
<use href="#c2_12" fill="url(#hf)"/>
<use href="#c2_13" fill="#6CC5D8"/>
<use href="#c2_13" fill="url(#hx)"/>
<use href="#c2_14" fill="#2E7AC0"/>
<use href="#c2_14" fill="url(#hb)"/>
<use href="#c2_15" fill="#244A9E"/>
<use href="#c2_16" fill="#5E3B96"/>
<use href="#c2_17" fill="#652566"/>
<g fill="none" stroke="#41474a" stroke-width="2.8" stroke-linejoin="round"><use href="#c2_1"/><use href="#c2_2"/><use href="#c2_3"/><use href="#c2_4"/><use href="#c2_5"/><use href="#c2_6"/><use href="#c2_7"/><use href="#c2_8"/><use href="#c2_9"/><use href="#c2_10"/><use href="#c2_15"/><use href="#c2_16"/><use href="#c2_17"/></g>
<g fill="none" stroke="#ee1c24" stroke-width="3.8" stroke-linejoin="round"><use href="#c2_11"/><use href="#c2_12"/><use href="#c2_13"/><use href="#c2_14"/></g>
</g>
<rect x="-0.4" y="0.2" width="932" height="466.2" fill="none" stroke="#000" stroke-width="2.9"/>
<path d="M15.9 466.4v11.6M118.8 466.4v6.2M221.7 466.4v11.6M324.6 466.4v6.2M427.5 466.4v11.6M530.4 466.4v6.2M633.3 466.4v11.6M736.2 466.4v6.2M839.1 466.4v11.6M-0.4 0.2h-11.6M-0.4 65h-6.2M-0.4 129.8h-11.6M-0.4 194.5h-6.2M-0.4 259.3h-11.6M-0.4 324.1h-6.2M-0.4 388.9h-11.6M-0.4 453.6h-6.2" stroke="#000" stroke-width="2.6" fill="none"/>
<g font-size="21" text-anchor="middle" stroke="#000" stroke-width=".3">
<text transform="translate(16.9 501) scale(.95 1)">100</text>
<text transform="translate(222.7 501) scale(.95 1)">200</text>
<text transform="translate(428.5 501) scale(.95 1)">300</text>
<text transform="translate(634.3 501) scale(.95 1)">400</text>
<text transform="translate(840.1 501) scale(.95 1)">500</text>
</g><g font-size="21" text-anchor="end" stroke="#000" stroke-width=".3">
<text transform="translate(-19.5 7.1) scale(.95 1)">0</text>
<text transform="translate(-19.5 136.7) scale(.95 1)">50</text>
<text transform="translate(-19.5 266.2) scale(.95 1)">100</text>
<text transform="translate(-19.5 395.8) scale(.95 1)">150</text>
</g>
<text x="466" y="545.4" font-size="32" text-anchor="middle">X(m)</text>
<text transform="translate(-69 233.2) rotate(-90) scale(.96 1)" font-size="31.5" text-anchor="middle">Z(m)</text>
<text x="4.5" y="-18.1" font-size="50.8">Row 14</text>
<text transform="translate(-196.3 -50.4) scale(1.045 1)" font-size="58">(c2)</text>
<path d="M417.8 1.5V464.9" stroke="#c9c9c9" stroke-width="3.2" fill="none"/>
<path d="M427.6 1.5V464.9" stroke="#000" stroke-width="2.3" stroke-dasharray="14.7 10.8" stroke-dashoffset="-2" fill="none"/>
<text transform="translate(436.8 -8.7) rotate(-90) scale(.9 1)" font-size="36">F106</text>
<path d="M474.9 1.5V464.9" stroke="#c9c9c9" stroke-width="3.2" fill="none"/>
<path d="M446 1.5V464.9" stroke="#000" stroke-width="2.3" stroke-dasharray="14.7 10.8" stroke-dashoffset="-2" fill="none"/>
<text transform="translate(477.5 -11) rotate(-90) scale(.9 1)" font-size="36">F104</text>
<path d="M627.1 1.5V464.9" stroke="#c9c9c9" stroke-width="3.2" fill="none"/>
<path d="M608.7 1.5V464.9" stroke="#000" stroke-width="2.3" stroke-dasharray="14.7 10.8" stroke-dashoffset="-2" fill="none"/>
<text transform="translate(633.6 -9.1) rotate(-90) scale(.9 1)" font-size="36">F102</text>
<rect x="964.5" y="-2" width="26.8" height="29.9" fill="#660E16"/>
<rect x="964.5" y="27.2" width="26.8" height="29.9" fill="#8C1B22"/>
<rect x="964.5" y="56.5" width="26.8" height="29.9" fill="#BE1C24"/>
<rect x="964.5" y="85.8" width="26.8" height="29.9" fill="#E8151C"/>
<rect x="964.5" y="115" width="26.8" height="29.9" fill="#E8151C"/>
<rect x="964.5" y="144.2" width="26.8" height="29.9" fill="#E8151C"/>
<rect x="964.5" y="173.5" width="26.8" height="29.9" fill="#EE7219"/>
<rect x="964.5" y="202.8" width="26.8" height="29.9" fill="#F5CE1F"/>
<rect x="964.5" y="232" width="26.8" height="29.9" fill="#D2DE35"/>
<rect x="964.5" y="261.2" width="26.8" height="29.9" fill="#96C623"/>
<rect x="964.5" y="290.5" width="26.8" height="29.9" fill="#6DB92D"/>
<rect x="964.5" y="319.8" width="26.8" height="29.9" fill="#6CC5D8"/>
<rect x="964.5" y="349" width="26.8" height="29.9" fill="#2E7AC0"/>
<rect x="964.5" y="378.2" width="26.8" height="29.9" fill="#244A9E"/>
<rect x="964.5" y="407.5" width="26.8" height="29.9" fill="#5E3B96"/>
<rect x="964.5" y="436.8" width="26.8" height="29.9" fill="#652566"/>
<path d="M964.5 319.8L991.3 290.5" stroke="#000" stroke-width="1.6"/>
<path d="M964.5 349L991.3 319.8M964.5 319.8L991.3 349" stroke="#000" stroke-width="1.6"/>
<path d="M964.5 349L991.3 378.2" stroke="#000" stroke-width="1.6"/>
<rect x="964.5" y="-2" width="26.8" height="468" fill="none" stroke="#000" stroke-width="3.4"/>
<path d="M991.3 -2h31M991.3 56.5h31M991.3 115h31M991.3 173.5h31M991.3 232h31M991.3 290.5h31M991.3 349h31M991.3 407.5h31M991.3 466h31" stroke="#000" stroke-width="2.6" fill="none"/>
<g font-size="21">
<text transform="translate(1030.8 5.8) scale(.97 1)">0.30</text>
<text transform="translate(1030.8 64.3) scale(.97 1)">0.40</text>
<text transform="translate(1030.8 122.8) scale(.97 1)">0.50</text>
<text transform="translate(1030.8 181.3) scale(.97 1)">0.60</text>
<text transform="translate(1030.8 239.8) scale(.97 1)">0.70</text>
<text transform="translate(1030.8 298.3) scale(.97 1)">0.80</text>
<text transform="translate(1030.8 356.8) scale(.97 1)">0.90</text>
<text transform="translate(1030.8 415.3) scale(.97 1)">1.00</text>
<text transform="translate(1030.8 473.8) scale(.97 1)">1.10</text>
</g>
<text x="967" y="518.7" font-size="25">Vs(km/s)</text>
</g>
<g transform="translate(1525.5 779.4)">
<g clip-path="url(#pd)">
<rect x="-5" y="-5" width="942" height="476.4" fill="#3A2D5E"/>
<path d="M-12 -12h954v313l-36 2l-24 4l-21 5l-9 4l-5 2l-3 6l3 6l8 6l27 12l30 4h30v122h-954z" fill="#711d83"/>
<path d="M-12 -12h954v309l-78 4l-18 3l-12 4l-6 4l-3 6v6l2 6l5 6l8 6l12 6l24 6l66 3v117h-954z" fill="#781b8a"/>
<path d="M-12 -12h954v304l-48 3l-30 -1l-30 4l-10 2l-10 6l-3 6l-1 6l4 12l10 12l16 11l18 7l12 3l24 -2l48 1v112h-954zM690 194l-6 4v6l7 6l11 4h6l4 -4l-1 -6l-3 -6l-6 -4l-6 -1z" fill="#752490"/>
<path d="M-12 -12h954v299l-42 3l-36 -2l-42 4l-12 3l-8 5l-3 6l-1 6l1 6l5 12l8 12l16 13l24 11l18 5l30 -3h42v106h-954zM690 185l-15 7l-6 6v6l5 6l16 8l12 4h12l6 -6v-6l-6 -17l-6 -5l-3 -2l-9 -1z" fill="#6d3395"/>
<path d="M-12 -12h954v295l-42 2l-36 -2l-54 3l-9 2l-9 5l-4 7v6l4 18l11 18l13 13l20 11l22 9l12 3l36 -4h36v100h-954zM696 179l-18 5l-16 8l-5 6l-2 6l5 6l10 6l14 6l18 6l12 1l6 -3l5 -10l-1 -12l-4 -12l-4 -6l-8 -5z" fill="#633d99"/>
<path d="M-12 -12h954v290l-42 3l-36 -3l-66 2l-8 2l-8 6l-3 6v6l2 12l4 12l10 18l15 16l18 11l23 9l19 4l42 -2l30 1v93h-954zM678 179l-16 7l-10 6l-7 6l-3 6l3 6l10 6l41 15l12 3l6 1l6 -1l6 -6l3 -12l-3 -20l-6 -12l-6 -5l-12 -4l-12 1z" fill="#57439b"/>
<path d="M-12 -12h954v286l-48 2l-90 -3l-18 1l-8 2l-4 3l-3 3l-1 6v6l6 24l12 24l10 12l6 6l18 12l24 9l24 6h72v87h-954zM690 173l-24 7l-25 12l-7 6l-5 6l1 6l9 6l69 24l12 1l6 -2l4 -5l2 -6l1 -12l-4 -24l-3 -8l-6 -7l-6 -3l-12 -2z" fill="#4b469d"/>
<path d="M-12 -12h954v283l-54 2l-48 -2l-66 -6l-12 2l-3 3l-2 6l2 12l4 12l15 36l14 20l18 15l24 11l30 9l24 2l54 1v80h-954zM678 173l-21 7l-25 12l-9 6l-6 6l-1 6l6 6l16 6l34 10l48 17l6 1h6l4 -4l1 -12l-4 -42l-4 -12l-9 -7l-12 -4h-12zM756 41l-4 1l10 1l14 -1l-14 -4z" fill="#3f499f"/>
<path d="M-12 -12h954v279l-54 2l-48 -2l-42 -6l-24 -6l-12 -5l-12 -9l-6 -9l-3 -10l-5 -36l-3 -6l-7 -8l-12 -5l-12 -1l-12 1l-24 7l-17 6l-27 12l-10 6l-6 6l-1 6l3 6l12 6l52 14l27 10l33 20l10 10l8 13l19 41l11 18l12 15l18 13l24 11l30 8l30 3l48 2v74h-954zM762 35l-5 1l-7 3l-12 2l-3 1l3 1l30 3l24 -4l-6 -3h-6l-10 -3z" fill="#314a9f"/>
<path d="M-12 -12h954v276l-54 2l-42 -2l-36 -6l-30 -9l-18 -10l-12 -11l-6 -13l-4 -29l-2 -6l-4 -6l-8 -6l-12 -4l-12 -1l-12 2l-24 6l-25 9l-27 12l-10 6l-6 6l-2 6l3 6l7 6l18 6l48 12l24 9l13 9l21 18l10 12l10 15l17 33l13 20l16 16l14 10l24 10l30 7l36 5l42 2v68h-954zM750 36l-12 1l-9 5l21 6h24l29 -6l-6 -6l-5 -1l-30 -1z" fill="#244b9f"/>
<path d="M-12 -12h954v274l-54 1l-36 -2l-36 -6l-26 -9l-21 -12l-15 -12l-4 -6l-3 -12l-3 -18l-5 -12l-7 -6l-12 -5l-6 -2h-12l-12 1l-22 6l-34 12l-29 12l-9 6l-5 6l-2 6l2 6l3 3l12 8l66 16l20 9l10 7l19 17l17 20l11 16l16 30l12 18l15 15l13 9l23 11l30 8l42 6l42 2v63h-954zM738 35l-5 1l-8 6l7 4l18 3l33 -1l15 -2l10 -4l-3 -6l-13 -2l-30 -1z" fill="#2451a6"/>
<path d="M-12 -12h954v271l-54 1l-36 -2l-30 -6l-24 -8l-24 -14l-15 -14l-6 -12l-6 -24l-9 -11l-11 -7l-13 -3h-18l-12 3l-23 6l-35 12l-28 12l-9 6l-5 6l-2 6l2 6l6 6l10 6l18 6l48 11l17 7l13 8l23 22l15 18l10 14l20 34l10 14l15 16l15 11l24 10l30 8l42 7l42 2v58h-954zM258 -7l-4 7l4 2l5 -2l3 -6l-2 -2zM732 35l-4 1l-6 6l4 3l6 3l18 2h24l23 -2l7 -2l8 -4l-3 -6l-17 -3l-30 -1z" fill="#2458ae"/>
<path d="M-12 -12h251l6 12l5 6l8 2l9 -2l10 -6l4 -6l1 -6h660v269h-54l-30 -2l-30 -5l-24 -8l-18 -11l-18 -15l-8 -12l-9 -24l-9 -12l-10 -7l-18 -4h-18l-22 5l-38 12l-32 12l-13 6l-9 6l-5 6l-1 6l1 6l6 6l11 7l18 7l54 13l18 8l10 7l19 18l15 18l12 18l23 36l8 12l15 15l18 13l24 10l30 8l42 7l42 2v53h-954zM726 35l-7 7l7 6l24 3h24l30 -2l6 -3l6 -4l-2 -6l-10 -3l-12 -2h-30z" fill="#2763b4"/>
<path d="M-12 -12h239l17 18l8 4l6 1l12 -2l12 -5l6 -5l3 -5v-6h651v267l-54 -1l-30 -2l-24 -4l-24 -8l-18 -10l-16 -14l-9 -12l-11 -24l-9 -12l-9 -7l-18 -6h-18l-18 3l-36 10l-36 12l-28 12l-9 6l-5 6l-1 6l2 6l5 6l8 6l10 5l18 6l48 12l18 7l12 8l16 16l16 18l13 18l22 36l14 18l15 14l18 13l24 10l36 9l36 5l42 3v48h-954zM762 30l-30 3l-11 3l-6 6l7 6l4 1l24 4l42 -2l20 -3l10 -6l-2 -6l-16 -5zM864 34l-5 2v6l11 2l6 -2v-6l-6 -2z" fill="#2a6ebb"/>
<path d="M-12 -12h227l25 20l9 4l9 2l17 -2l15 -6l6 -6l3 -12h643v264h-48l-30 -2l-24 -4l-24 -7l-18 -10l-15 -13l-10 -12l-16 -30l-7 -8l-12 -8l-18 -5h-18l-18 3l-24 6l-54 18l-16 6l-22 12l-5 6l-2 6l2 6l5 6l8 6l12 6l18 7l54 13l18 9l10 7l13 12l15 18l50 72l18 18l16 12l22 10l36 10l42 6l42 3v43h-954zM756 30l-24 2l-15 4l-6 6l7 6l14 4l18 2h24l30 -2l15 -4l13 -6l-2 -6l-23 -6l-15 -1zM852 35l-3 1v6l15 4h6l11 -4v-6l-11 -4h-6zM930 35l-2 1l2 3l6 -3z" fill="#2c7fc5"/>
<path d="M-12 -12h216l7 6l30 18l11 3l12 1l18 -2l17 -8l4 -6l2 -12h637v262l-48 -1l-30 -2l-24 -4l-24 -8l-18 -11l-12 -11l-7 -9l-18 -30l-11 -12l-12 -7l-18 -5l-18 1l-24 4l-79 25l-16 6l-23 12l-5 6l-1 6l2 6l5 6l8 6l11 6l20 8l60 16l12 5l10 7l13 12l15 18l52 74l18 19l18 13l24 11l36 10l42 6l42 3v38h-954zM750 30l-18 1l-12 3l-8 2l-6 6l7 6l7 2l30 5l54 -2l36 -8l24 4l9 -1l14 -6l2 -6l-13 -5l-6 -1l-12 1l-18 3l-42 -6h-36zM924 34l-5 2l4 6l7 1l8 -1l3 -6l-5 -3l-6 -1z" fill="#2e92d1"/>
<path d="M-12 -12h206l5 6l34 18l13 5l18 2l18 -2l17 -5l7 -5l2 -1l2 -6v-12h632v44l-6 -2h-8l-22 5h-6l-15 -5l-15 -2l-30 2l-42 -3l-36 1l-29 2l-13 3l-13 3l-7 6l7 6l7 2l12 3l24 3l54 -1l36 -5h36l30 -9l1 1l23 4l12 -3v205l-54 -2l-30 -2l-24 -6l-18 -6l-15 -10l-13 -12l-5 -6l-17 -30l-10 -12l-9 -6l-9 -4l-18 -4l-18 1l-24 4l-86 27l-30 12l-10 6l-4 6l-1 6l2 6l5 6l7 6l10 6l29 11l54 14l12 5l12 8l12 11l15 17l54 78l15 15l18 15l12 7l12 5l36 11l42 6l48 4v33h-954z" fill="#2fa3dc"/>
<path d="M-12 -12h200l4 8l5 4l27 12l22 8l18 1l18 -1l27 -8l6 -6l1 -18h626v40l-36 2l-36 -3l-30 1l-42 -2l-36 1l-42 4l-19 5l-7 6l6 6l8 2l18 5l24 2l54 -1l36 -3l36 -1l24 -5l24 1l18 -2v200l-48 -2l-30 -2l-24 -5l-18 -6l-16 -9l-14 -13l-9 -11l-15 -27l-12 -13l-12 -7l-18 -5h-18l-24 4l-99 30l-33 13l-7 5l-4 6l-1 6l2 6l5 6l7 6l10 6l30 12l60 17l12 5l11 8l13 12l15 18l51 75l18 19l18 14l24 12l36 10l36 6l54 4v28h-954z" fill="#34b2e3"/>
<path d="M-12 -12h194l7 12l3 3l24 10l24 8l30 3l12 -1l20 -5l15 -6l5 -6v-18h620v38l-36 1l-42 -2l-24 2l-42 -2l-42 1l-42 5l-17 5l-8 6l4 6l9 3l24 5l24 2l60 -1l72 -3l18 -3l42 -2v194l-42 -1l-36 -3l-24 -5l-18 -6l-18 -11l-12 -12l-24 -39l-9 -10l-15 -8l-18 -4h-18l-24 4l-105 32l-32 12l-8 6l-4 6v6l1 6l4 6l6 6l18 10l30 11l54 15l12 5l12 8l12 11l16 18l43 66l13 17l18 18l18 14l24 12l36 9l36 6l54 4v22h-954z" fill="#47bbe0"/>
<path d="M-12 -12h188l10 15l6 4l18 9l30 8l30 2l12 -1l24 -5l18 -8l4 -6v-18h614v36l-36 1l-108 -1l-42 2l-43 4l-20 6l-7 6l2 6l14 5l24 4l24 2h84l36 -3h12l60 -4v189l-42 -2l-36 -3l-24 -5l-18 -6l-12 -7l-15 -14l-12 -18l-10 -18l-11 -14l-12 -8l-12 -3l-12 -2l-18 1l-30 6l-125 38l-13 6l-6 6l-4 6v6l1 6l3 6l5 6l8 6l11 6l30 10l60 17l12 6l12 8l13 13l14 18l39 61l12 17l24 26l18 13l24 11l30 8l36 5l60 5v16h-954z" fill="#5ebecd"/>
<path d="M-12 -12h183l8 12l7 7l24 15l30 5l24 1l24 -2l24 -6l12 -5l5 -3l4 -6l2 -6v-12h607v34l-144 1l-42 2l-24 2l-30 4l-13 5l-6 6l1 6l6 4l6 2l30 5l24 2h90l30 -3l30 1l30 -4l12 -1v184l-42 -1l-36 -3l-24 -5l-18 -7l-18 -12l-11 -12l-19 -35l-11 -13l-13 -8l-18 -3l-24 1l-24 4l-132 40l-18 9l-5 5l-4 6v6l3 11l5 7l7 6l10 6l26 10l66 18l12 6l13 8l13 12l14 18l41 66l12 18l21 24l18 14l24 12l30 8l36 5l66 5v10h-954z" fill="#6cbfab"/>
<path d="M-12 -12h177l15 18l24 19l12 4l24 2h24l24 -2l20 -5l17 -6l9 -6l5 -6l2 -6l1 -12h600v32l-144 2l-66 4l-31 4l-15 6l-6 6l1 6l9 6l18 4l42 4l90 2l30 -3l24 2l12 -1l24 -5h12v178h-42l-36 -4l-24 -5l-18 -7l-12 -8l-14 -13l-11 -18l-11 -23l-6 -8l-12 -8l-12 -4l-12 -1l-24 2l-24 5l-66 20l-72 20l-7 3l-11 7l-5 5l-3 6l-1 6l3 10l5 8l7 7l12 7l24 10l67 18l17 8l14 10l12 12l13 18l39 67l12 19l18 21l18 15l24 13l24 7l36 5l66 5l12 2v2h-954z" fill="#6cbc79"/>
<path d="M-12 -12h172l10 12l19 18l9 10l6 5l12 1l60 -1l18 -3l24 -7l12 -5l9 -6l5 -6l3 -6l1 -12h594v31l-138 2l-72 4l-35 5l-14 6l-5 6v6l6 6l6 2l18 4l42 3l48 1l42 3l30 -3l24 4h6l28 -8l14 1v172l-36 -1l-36 -3l-24 -4l-24 -9l-17 -12l-11 -12l-6 -12l-14 -30l-6 -8l-12 -6l-18 -3l-24 1l-24 5l-84 26l-60 15l-14 6l-9 6l-5 6l-3 6l-1 6l1 6l6 12l7 8l12 8l24 9l72 20l18 9l12 9l14 15l12 18l38 72l10 18l14 18l14 12l24 15l24 8l24 4l40 3h-892zM894 96l-12 5l-6 7l3 6l3 1l42 -1l4 -6l-4 -5l-6 -3l-17 -4z" fill="#6aba51"/>
<path d="M-12 -12h167l10 12l25 24l3 6l2 12l3 1l24 -4l60 -5l40 -10l14 -6l9 -6l6 -6l2 -6l1 -12h588v29l-138 3l-48 2l-42 4l-18 3l-16 7l-6 6v6l5 6l5 2l12 4l18 2l36 3l48 1l42 4l24 -3l12 2l10 3l8 6h5l-5 4v2l-18 13l-5 5l-3 6l1 6l1 1l6 4l6 2l42 -1l6 -2l6 -4l2 -6l-2 -6l-9 -6l-25 -12l-2 -6l6 -3l2 -3l16 -8l6 -1l12 1v166h-36l-36 -3l-26 -5l-22 -9l-12 -8l-13 -13l-7 -12l-10 -28l-6 -11l-6 -5l-6 -3l-12 -3h-18l-18 2l-36 8l-60 19l-79 21l-14 6l-8 6l-5 6l-3 6l-1 6l3 12l8 12l15 11l24 10l54 14l22 7l14 7l15 11l16 18l11 18l18 36l22 54l11 18l12 12l15 10l15 8l17 6h-812z" fill="#68b830"/>
<path d="M-12 -12h162l9 12l21 18l5 6l3 6v6l-2 6l-1 6l7 4l36 -9l54 -6l46 -13l14 -6l12 -8l3 -4l2 -6v-12h583v27l-120 3l-66 3l-42 4l-18 3l-18 7l-7 7l-1 6l5 6l9 5l24 4l84 5l24 2l24 5l24 -4h6l6 3l4 4v6l-18 18l-4 6v6l5 6l19 5h36l12 -2l6 -1l6 -4v109l-36 1l-36 -4l-30 -6l-18 -8l-16 -12l-10 -12l-8 -18l-6 -24l-2 -6l-5 -6l-7 -4l-12 -2l-30 2l-30 5l-78 25l-78 19l-22 9l-8 6l-5 6l-2 6l-1 6l3 12l8 12l14 12l11 6l14 5l52 13l26 8l20 10l14 12l10 12l7 12l17 36l10 30l5 18l4 30l5 12l5 6l7 6l24 12h-770zM324 126l-11 6l8 6l9 1l9 -1l4 -6l-9 -6zM919 72l11 -6l6 1l6 3v23l-18 -6l-6 -3l-3 -6z" fill="#6bb82e"/>
<path d="M-12 -12h157l8 12l28 24l3 6v6l-4 12l2 6l4 3h6l36 -9l60 -10l47 -14l15 -6l10 -6l4 -6l1 -18h577v26l-120 3l-90 5l-30 3l-18 5l-12 6l-5 6l-1 6l3 6l9 5l18 5l18 2l96 6l30 8l6 1l18 -4l6 1v6l-16 12l-9 12l-3 6l2 6l16 6l22 2h42l12 -1l6 -2v99l-36 1l-36 -3l-28 -6l-20 -9l-18 -14l-9 -13l-5 -18l-1 -24l-3 -9l-6 -5l-12 -3h-12l-24 3l-36 7l-78 25l-90 21l-18 8l-8 7l-5 6l-2 6l1 12l5 12l5 6l12 12l10 6l18 7l54 13l30 10l12 6l9 6l12 12l9 12l12 23l7 19l6 24l2 18l-1 12l-5 12l-3 6l-16 18l-3 6l-1 6v6l2 6h-684zM318 120l-25 6l-5 6l8 6l24 6l16 1l12 -1l15 -6v-6l-8 -6l-19 -6z" fill="#6eb82c"/>
<path d="M-12 -12h153l7 12l26 21l6 8v7l-5 12l-1 6l3 6l9 3l12 -2l30 -8l60 -13l71 -22l9 -6l4 -6l-1 -18h571v24l-102 2l-108 7l-36 4l-17 5l-11 6l-5 6l-2 6l3 6l8 5l18 6l18 2l78 5l30 5l13 7l5 6l-1 6l-5 6l-6 4l-12 4l-18 1l-30 3l-66 14l-60 21l-25 7l-77 16l-18 5l-12 5l-6 4l-6 6l-4 6l-1 6v6l3 12l8 13l18 16l12 6l12 5l61 14l19 6l13 6l17 12l11 12l8 12l9 21l6 21l2 18l-2 15l-7 15l-29 30l-9 12l-4 12l-1 6h-646zM282 120l-16 6l-2 6l10 6l26 7l30 4h24l25 -5l7 -6l-1 -6l-8 -6l-16 -6l-13 -3l-18 -2h-12zM534 431l-1 7l4 6l7 6l8 4l12 3l6 -2l4 -5l-1 -6l-4 -6l-11 -7l-12 -3l-6 1zM630 345l-5 3l-2 6l1 10l6 5l6 -1l3 -2l3 -6v-6l-3 -6l-3 -2zM809 132l7 -2l66 2l48 -1l12 -1v91l-36 2l-36 -4l-30 -6l-19 -9l-11 -8l-9 -10l-3 -6l-4 -12l-1 -12l4 -12l7 -10z" fill="#71b82b"/>
<path d="M-12 -12h148l8 14l27 22l5 6v6l-8 11l-6 4l-12 2l-22 7l-7 6l5 3l24 2l42 -2l90 -25l78 -23l36 -15l7 -6l-1 -2l-6 -3l-12 5l-5 -6l2 -6h561v22l-102 2l-78 7h-30l-36 5l-22 6l-11 6l-4 6l-2 6l1 6l8 6l12 4l18 4l72 6l24 3l22 7l-7 6l-21 8l-12 6l-30 9l-42 10l-76 27l-44 11l-73 13l-16 6l-9 6l-4 6l-2 6v12l4 12l4 8l6 9l6 6l12 9l18 9l24 6l48 10l23 9l11 6l8 6l6 6l9 12l3 6l4 18l3 6l-1 10l-6 -5l-2 -5l-5 -6l-11 -6h-6l-6 1l-6 3l-6 7l-3 7l-2 12l1 12l4 11l6 8l6 4l11 1l-1 6l-7 6l-27 15l-6 2l-12 -2l-12 -4l-18 -9l-24 -9h-6l-10 1l-9 6l-5 7l-3 11v6l2 6l5 6l7 6l7 4l24 8l12 6h-570zM276 113l-25 7l-5 6l2 6l10 6l19 6l23 5l42 4l36 -1l12 -2l18 -5l6 -7l1 -6l-5 -6l-19 -6l-25 -5l-42 -4zM831 138l33 -3l78 -2v86l-36 1l-42 -4l-24 -6l-12 -5l-11 -7l-13 -12l-3 -6l-4 -12l1 -12l6 -10l6 -4z" fill="#7bba29"/>
<path d="M-12 -12h144l6 12l6 7l24 23v6l-9 6l-39 16l-3 2l-4 6l1 6l6 3l14 3l22 1l36 -2l30 -8l76 -27l80 -25l21 -5l16 -6l4 -6l-2 -6l-4 -6h529v20l-102 2l-6 1l-72 7h-30l-18 2l-18 2l-24 6l-12 7l-5 7l-2 6v6l7 8l12 4l18 4l83 8l13 6l-4 6l-9 6l-29 12l-48 14l-58 22l-19 6l-24 6l-31 6l-72 8l-12 4l-6 5l-4 7l-1 6l1 18l8 24l8 13l17 11l19 9l24 6l48 8l19 7l11 6l8 6l6 6l3 6l1 6l-4 6l-14 9l-8 9l-7 12l-12 36l-3 5l-6 6l-6 3h-12l-34 -8l-14 -1l-12 3l-6 2l-10 8l-5 6l-6 12l-3 18l2 12l2 6l9 12h-505zM246 107l-6 1l-6 6l-1 6l2 6l4 6l8 6l16 6l37 8l36 4l24 1h24l30 -3l18 -5l6 -5l5 -12v-6l-1 -6l-4 -5l-12 -4h-36l-60 -4zM868 138l74 -1v79l-42 1l-42 -5l-12 -3l-14 -5l-10 -6l-12 -10l-6 -8l-3 -12v-6l2 -6l6 -6l7 -3l18 -5z" fill="#89be28"/>
<path d="M-12 -12h140l10 17l16 19l1 6l-3 6l-8 6l-25 12l-9 6l-5 6v6l7 6l8 3l18 3l60 4l9 2l7 6l5 18l7 12l13 12l13 6l25 6l37 6l46 4l60 2l24 4l6 4l6 10l6 30l10 36l2 7l4 5l8 4l36 11l60 10l20 5l12 6l8 6l5 6l2 6l-1 6l-18 24l-16 29l-6 8l-6 6l-6 3l-12 2l-36 -4h-18l-12 4l-12 8l-14 16l-10 18l-4 18l-1 12l1 12h-470zM422 -12h520v18l-54 2l-48 -1l-24 5l-24 2l-30 2h-30l-6 2l-30 3l-30 7l-6 3l-5 5l-5 12v6l2 6l7 6l13 4l36 6l36 2l21 6v6l-9 6l-12 6l-42 14l-66 26l-26 8l-28 6l-24 4l-24 1h-24l-30 -3l-12 -4l-3 -4l-3 -6l-4 -30l-4 -6l-10 -4l-18 -2l-48 3l-90 -4l-28 -5l-14 -6l-6 -6v-6l5 -6l8 -6l21 -12l15 -6l35 -12l54 -16l35 -8l7 -3l6 -3l1 -6l-2 -6zM844 144l32 -4l66 -1v74l-36 2l-36 -3l-30 -8l-18 -9l-10 -9l-4 -6l-3 -12l1 -6l5 -6l5 -4l12 -4z" fill="#98c329"/>
<path d="M-12 -12h135l21 30l3 6v6l-4 6l-7 6l-23 12l-17 12l-1 6l6 6l19 7l48 8l18 5l12 7l25 27l17 10l12 5l54 10l102 10l12 3l11 4l7 4l6 7l6 11l11 38l3 30l4 6l12 4l96 12l18 4l12 5l7 5l5 6l1 6v6l-3 6l-22 34l-6 8l-12 10l-6 2l-12 1l-36 -3l-18 1l-18 6l-11 7l-17 18l-12 18l-10 24l-5 24h-443zM428 -12h514v16l-24 1h-48l-12 -1l-12 -5l-6 1l-8 6l-22 4l-48 5l-30 -1l-21 4l-33 4l-12 3l-6 3l-6 5l-5 9l-3 12l1 6l3 6l4 3l12 4l48 8l28 3l4 6l-7 6l-25 9l-59 27l-32 12l-23 6l-24 4l-18 2h-18l-18 -1l-18 -4l-18 -7l-6 -6l-4 -6l-8 -25l-4 -5l-8 -4l-18 -2l-66 4l-66 -2l-24 -4l-11 -4l-7 -6l-3 -6l1 -6l4 -6l17 -12l13 -6l22 -8l54 -15l54 -13l8 -6v-6zM866 144l28 -1l48 -1v69l-36 1l-36 -3l-18 -4l-12 -4l-18 -10l-10 -11l-2 -6v-6l2 -6l7 -6l14 -6l13 -3z" fill="#a8cb2a"/>
<path d="M-12 -12h131l20 30l2 6v6l-4 6l-11 8l-36 18l-12 3l-20 1l-14 6l34 4l36 12l54 12l18 8l28 24l9 6l12 6l17 5l48 10l96 11l24 7l14 9l5 6l6 12l9 30l2 36l6 9l6 4l12 3l18 -1l66 4l18 3l9 2l12 6l6 6l2 6v6l-4 12l-8 12l-11 14l-6 6l-12 6l-6 2h-12l-36 -5l-18 1l-18 5l-12 7l-19 18l-19 24l-14 24l-11 30h-417zM433 -12h509v14l-24 1h-48l-12 -3l-12 -10h-6l-7 10l-5 4l-12 4l-31 4l-23 2l-21 -2l-9 -6l-4 6l-8 2l-54 8l-6 2l-6 5l-5 7l-7 18l-1 6l2 6l5 6l6 3l43 9l8 6v6l-4 6l-17 12l-37 18l-15 6l-19 6l-25 6l-30 2l-24 -3l-17 -5l-19 -10l-6 -5l-6 -7l-8 -20l-7 -6l-9 -3l-24 -1l-66 4l-48 -1l-18 -1l-12 -2l-6 -2l-10 -6l-4 -6v-6l3 -6l5 -6l9 -6l12 -6l16 -6l53 -15l65 -15l4 -6l-2 -6zM846 150l36 -4l60 -1v63l-36 1l-30 -2l-30 -7l-17 -8l-7 -6l-5 -6l-2 -6v-6l4 -6l9 -6z" fill="#b7d22c"/>
<path d="M-12 -12h127l20 30l2 6l-1 6l-4 6l-18 11l-18 8l-12 3l-26 2l-32 6l-11 6l16 6l53 6l74 18l16 7l40 29l13 6l17 6l56 11l84 11l18 4l11 4l10 6l7 6l4 6l7 12l7 24l3 36l5 13l6 8l6 4l6 3h6l72 -4l18 1l12 2l12 4l7 5l3 6l1 6l-4 12l-7 11l-12 12l-6 4l-12 4h-18l-48 -10l-12 1l-6 1l-12 6l-12 9l-12 12l-29 34l-20 30l-15 30h-392zM438 -12h398l-9 12l-11 5l-24 5l-30 2l-12 -1l-6 -3l-2 -2l-4 -14l-6 -3l-5 5l-3 12l-6 6l-46 6l-12 3l-6 3l-9 12l-9 24l-2 6l2 6l6 5l6 3l30 7l8 3l3 6l-2 6l-6 6l-8 6l-35 18l-38 12l-30 4h-12l-14 -4l-9 -6l-4 -6l1 -6l5 -6l17 -12l40 -18l7 -6l1 -6l-2 -1l-6 -1l-12 1l-42 9l-31 4l-11 4h-6l-24 -5l-18 -1l-90 4l-42 -1l-12 -1l-12 -4l-4 -2l-6 -6l-1 -6l2 -6l5 -6l7 -6l13 -6l68 -20l54 -12l14 -4v-6zM852 -12h90v11l-24 2l-42 -1l-12 -3l-6 -3zM864 150l30 -2h48v57l-36 1l-29 -2l-25 -5l-18 -8l-7 -5l-4 -6l-2 -6l1 -6l5 -6l10 -6l9 -3z" fill="#c6d630"/>
<path d="M-12 -12h123l3 6l14 18l4 6l1 6l-1 6l-5 6l-19 11l-18 6l-48 6l-33 7l-12 6l9 5l35 7l43 5l60 14l18 6l43 29l23 10l24 6l42 8l72 10l24 5l12 3l12 6l7 6l6 6l7 12l7 18l3 18l3 30l3 10l6 13l11 19l1 6l-2 6l-8 12l-67 78l-18 24l-17 30h-368zM442 -12h281l-5 18l-4 3l-9 3l-39 3l-12 5l-9 10l-9 19l-6 9l-6 6l-6 2l-18 1l-60 14l-48 5h-12l-30 -2l-96 5l-36 -2l-12 -2l-6 -2l-6 -5l-3 -6l1 -6l4 -6l8 -6l8 -4l36 -12l48 -13l24 -5l24 -3l6 -2l4 -3zM740 -12h91l-10 12l-11 5l-24 4l-24 1l-6 -1l-8 -3zM858 -12h84v9l-24 2l-36 -1l-12 -2l-6 -3zM617 90l7 -3h12l18 3l15 6l2 6l-4 6l-7 6l-19 12l-14 6l-33 9l-12 2l-12 1l-12 -3l-6 -3l-3 -6v-6l5 -6l7 -6l9 -5l30 -11zM848 156l34 -4l60 -2v52l-30 1l-24 -1l-26 -4l-19 -6l-9 -6l-6 -6l-1 -6l1 -6l6 -6zM528 306l30 -5l12 -1l12 2l8 4l6 6l2 6v6l-4 9l-6 7l-12 8l-12 4l-18 -1l-18 -7l-14 -8l-7 -6l-3 -6l1 -6l8 -6z" fill="#d5db33"/>
<path d="M-12 -12h120l6 12l12 15l3 9l-1 6l-6 6l-9 6l-11 5l-24 5l-36 4l-47 10l-4 6l3 7l26 5l70 10l54 13l16 7l36 24l26 11l24 6l30 6l78 12l30 6l12 4l12 5l6 5l10 11l9 18l7 24l2 30l5 30l-1 18l-5 12l-12 18l-63 72l-18 24l-15 24h-345v-207h6l7 -3l5 -6l1 -6l-2 -6l-5 -6l-6 -3h-6zM446 -12h271l-3 13l-4 5l-2 1l-18 3l-24 1l-12 3l-6 5l-4 5l-8 18l-6 8l-6 5l-6 3l-72 18l-24 3l-42 4l-30 -1l-96 3l-30 -2l-18 -4l-3 -1l-5 -6v-6l4 -6l8 -6l8 -3l60 -19l24 -7l18 -3l34 -4l8 -3l5 -3l-5 -1l-6 -6l-6 -8zM745 -12h81l-4 6l-6 6l-6 2l-16 4l-26 2l-14 -2l-5 -6zM865 -12h77v6l-24 2h-30l-12 -2zM619 102l11 -2h6l9 2l3 6l-4 6l-7 6l-12 6l-16 6l-26 6l-13 -1l-8 -5v-6l8 -8l10 -4zM865 156l29 -2l48 -1v47h-36l-24 -2l-28 -6l-13 -6l-6 -6l-2 -6l2 -6l5 -5l6 -3zM549 312l9 -3l12 -1l12 2l6 4l3 4v6l-2 6l-7 7l-12 5h-12l-14 -6l-5 -6l-2 -6l3 -6z" fill="#e2e133"/>
<path d="M-12 -12h116l6 12l14 18l2 6l-2 6l-7 6l-15 8l-24 5l-36 5l-30 6l-18 4l-4 2l-2 3zM449 -12h263l-5 12l-5 4l-12 2l-30 1l-12 4l-7 7l-6 18l-5 8l-12 9l-30 11l-42 9l-24 3l-42 4l-18 -1l-84 3l-36 -2l-21 -2l-9 -2l-6 -4l-1 -6l4 -6l10 -6l53 -19l30 -8l54 -7l60 -3h6l6 -4h12l5 -1l-23 -1l-18 -3l-12 2l-12 -3l-12 1l-6 -3l-6 -5zM558 12h-5h5h13zM749 -12h73l-4 6l-9 6l-23 5l-18 1h-6l-6 -3l-2 -3zM873 -12h69v3l-18 3h-24l-18 -2zM-12 84v-5l6 3l6 2l78 11l48 11l24 8l36 24l29 12l31 7l129 23l15 5l12 5l12 10l7 10l6 12l5 14l4 16l3 42l-1 12l-3 12l-9 18l-12 18l-67 72l-37 48h-322v-196l12 -3l8 -5l6 -6l2 -6v-6l-4 -11l-6 -8l-6 -5l-12 -2zM852 162l36 -4l54 -2v40h-30l-24 -1l-18 -3l-18 -6l-10 -6l-3 -6l2 -6zM569 324l7 -1l1 1l-7 1z" fill="#eee831"/>
<path d="M-12 -12h113l5 12l14 18l2 6l-3 6l-7 6l-10 5l-24 6l-36 5l-48 10l-6 3zM454 -12h251l-3 7l-6 5l-6 1h-48l-6 -1l-12 -5l-6 1l-12 6l-84 4l-12 -3h-6l-12 2l-12 -2h-12l-7 -3l-5 -6zM753 -12h65l-6 6l-12 6l-26 4l-6 -1l-9 -3zM883 -12h59l-30 3l-18 -1zM579 18l3 -2h6l3 2l9 1l12 1l12 -2l6 2l2 4v6l-2 7l-6 6l-7 5l-23 11l-30 9l-18 3l-30 4l-36 2l-102 2l-42 -5l-18 -4l-5 -4l5 -6l30 -14l30 -11l24 -7l18 -3l36 -3zM-12 84l84 14l46 10l19 6l13 6l27 18l12 6l16 6l35 8l122 22l21 6l13 6l12 9l10 15l8 18l6 24v30l-1 12l-5 12l-9 18l-9 14l-12 14l-68 68l-32 36l-10 12h-298v-187l12 -2l15 -9l5 -6l5 -12l-2 -12l-8 -18l-3 -4l-6 -4l-6 -2l-12 -1zM882 162l60 -2v32h-36l-18 -2l-21 -4l-14 -6l-6 -6l4 -6l13 -3z" fill="#f3df2a"/>
<path d="M-12 -12h110l5 12l13 18l1 6l-3 6l-6 5l-12 5l-18 5l-84 15l-6 3zM458 -12h149l-13 5l-18 3l-54 4l-12 -2l-18 2l-24 -2l-6 -4zM641 -12h55l-6 5l-12 2l-18 -2zM757 -12h56l-7 6l-8 4l-12 3h-12l-7 -1l-5 -3zM451 24l95 -4l12 1l30 -1l18 5l11 5l3 6l-4 6l-6 6l-16 9l-24 7l-24 5l-66 6l-102 1l-25 -4l-16 -6l-1 -6l7 -6l9 -6l20 -9l24 -8l24 -5zM-12 90v-4l78 13l36 9l37 12l35 22l24 9l24 6l128 23l22 6l15 6l10 6l12 12l9 18l6 18l4 18l-1 12l-3 18l-4 12l-14 24l-22 26l-30 29l-95 89h-271v-176l18 -4l10 -6l7 -6l8 -12l2 -6l2 -12l-2 -12l-3 -10l-4 -8l-4 -6l-10 -6l-6 -1h-18zM881 168l19 -2h42v21l-6 1l-36 -2l-18 -3l-9 -3l-6 -6z" fill="#f6cf21"/>
<path d="M-12 -12h108l4 12l11 18l1 6l-4 6l-6 5l-12 4l-18 5l-84 16zM465 -12h110l-43 6l-28 -1l-12 2l-18 -2l-6 -2zM761 -12h47l-10 6l-18 4l-12 -2zM492 24l90 -2h6l12 4l7 4l4 6l-1 6l-5 6l-11 6l-24 8l-30 6l-60 5l-84 1l-18 -1l-12 -3l-12 -4l-5 -6l3 -6l19 -12l31 -11l18 -3l18 -2zM-12 90l60 9l39 9l39 13l12 5l30 18l15 6l15 4l24 6l115 20l24 6l17 6l12 7l12 11l7 12l8 18l4 18l1 12l-4 18l-4 12l-11 18l-13 17l-36 37l-54 46l-72 56h-240v-165l12 -1l12 -4l12 -8l6 -7l6 -8l6 -11l3 -12l2 -12l-1 -12l-3 -12l-6 -12l-6 -6l-7 -3l-12 -2l-24 2zM928 174h4l-2 1z" fill="#f5bb1f"/>
<path d="M-12 -12h105l4 12l9 18l1 6l-4 6l-7 4l-18 7l-90 18zM767 -12h34l-9 4l-12 2l-6 -1zM546 24l42 1l13 5l5 6v6l-5 6l-7 4l-6 3l-24 7l-48 7l-36 2l-78 1l-24 -2l-12 -4l-6 -6l1 -6l6 -6l8 -6l21 -8l24 -5l36 -3zM-12 96v-4l42 6l36 7l27 9l30 12l34 18l23 9l36 8l109 19l25 6l22 8l12 6l11 10l8 12l6 12l5 18l1 12l-1 12l-6 18l-11 18l-14 18l-23 23l-24 22l-42 34l-72 47l-22 18h-212v-154l24 -3l11 -5l7 -6l12 -16l10 -20l5 -18l2 -18l-1 -12l-3 -12l-7 -11l-6 -5l-12 -4l-12 -1l-30 5z" fill="#f4a71e"/>
<path d="M-12 -12h102l4 12l6 12l2 6v6l-6 7l-18 8l-90 19zM777 -12h12l-9 1zM420 30l30 -3l60 -1h72l6 1l9 3l6 6l-1 6l-5 6l-15 7l-36 9l-30 3l-36 3l-90 -1l-15 -3l-8 -6v-6l4 -6l9 -6l16 -7zM-12 96v-2l36 5l43 9l28 12l55 27l24 8l140 25l26 6l26 10l12 6l10 8l9 12l6 12l4 18l1 12l-2 12l-4 12l-12 20l-18 21l-24 24l-24 20l-42 31l-79 46l-30 24h-185v-144l30 -3l10 -3l8 -7l12 -18l15 -29l5 -18l2 -24l-2 -18l-5 -12l-3 -6l-6 -5l-6 -3l-12 -4h-12l-12 2l-24 6z" fill="#f29a1d"/>
<path d="M-12 -12h100l9 24l2 6l-1 6l-6 6l-14 7l-90 19zM428 30l82 -3l72 1h6l6 3l5 5v6l-5 6l-13 6l-35 8l-30 4l-36 2h-48l-36 -1l-12 -1l-11 -6l-1 -6l3 -6l8 -6l15 -6zM-12 102v-6l36 5l30 6l20 7l46 28l30 12l24 5l84 13l44 8l34 8l24 9l13 7l7 6l10 12l6 12l4 12l1 12l-1 12l-4 12l-11 18l-20 24l-24 24l-29 24l-42 28l-63 32l-21 12l-39 30h-159v-135l38 -3l10 -5l8 -7l12 -18l15 -30l6 -24l2 -24l-2 -24l-2 -12l-3 -6l-5 -6l-7 -4l-12 -3l-18 -1l-14 2l-28 8z" fill="#f08c1c"/>
<path d="M-12 -12h97l9 24l1 6l-1 6l-7 6l-15 7l-84 18zM442 30l68 -2l72 1l6 1l6 4l3 2v6l-6 6l-16 6l-29 6l-30 5l-36 2h-42l-36 -2l-12 -1l-11 -4l-3 -6l3 -6l8 -6l15 -6l24 -5zM-12 102v-4l30 4l29 6l19 6l11 6l8 6l17 20l5 4l13 5l30 6l114 14l55 11l29 10l16 8l8 6l7 6l8 12l4 12l2 12v12l-3 12l-12 20l-24 28l-25 24l-29 22l-24 16l-24 14l-70 32l-21 12l-29 19l-18 10l-2 1h-124v-126l36 -3l12 -4l15 -11l13 -18l13 -24l7 -24l3 -30l1 -48l-1 -12l-3 -3l-6 -3l-18 -3l-18 -1l-18 2l-36 11z" fill="#ee791c"/>
<path d="M-12 -12h94l9 24l1 6l-2 6l-6 5l-12 6l-42 10l-42 9zM474 30l36 -1h36l36 2l6 1l6 4v6l-7 6l-18 6l-53 9h-18l-18 2h-42l-30 -2l-18 -2l-6 -2l-4 -5l2 -6l9 -6l11 -4l24 -6zM-12 102v-1h6l30 4l34 9l12 6l7 6l4 6l2 6v6l-4 6l-7 3l-48 8l-36 11zM131 168h55l59 6l31 5l32 7l22 6l12 5l14 7l8 6l8 7l8 11l4 12l2 12l-1 12l-4 12l-7 12l-14 18l-17 18l-19 18l-36 27l-42 24l-24 11l-53 22l-49 23l-70 25h-62v-116l36 -6l12 -3l18 -11l14 -14l8 -12l6 -12l8 -24l3 -18l1 -48l5 -18l7 -12l6 -6l8 -4z" fill="#ec661c"/>
<path d="M-12 -12h92l8 24l1 6l-5 8l-5 4l-7 3l-42 11l-42 9zM503 30l43 1l42 4l2 1l1 6l-3 3l-6 3l-22 6l-44 8h-18l-24 2h-42l-18 -2l-24 -4l-6 -4l2 -6l9 -6l25 -7l30 -3zM-12 108v-5h6l30 4l25 7l14 6l6 6l3 6v6l-6 6l-6 2l-72 22zM146 174l40 -3l48 4l35 5l29 6l23 6l16 6l11 6l15 12l6 6l6 12l2 6l2 12l-2 12l-5 12l-7 12l-15 18l-14 15l-18 16l-36 27l-24 14l-24 12l-36 16l-72 24l-30 7l-72 14l-36 13v-96l36 -7l18 -6l22 -13l12 -12l8 -11l6 -12l8 -25l2 -18v-42l4 -18l6 -12l10 -9l12 -6z" fill="#e94c1a"/>
<path d="M-12 -12h89l8 24l1 6l-4 6l-8 6l-17 6l-33 9l-36 7zM419 36l31 -3l66 -2l66 5h2l4 6l-13 6l-59 13l-18 -1l-24 3h-42l-24 -4l-18 -5v-6l9 -6zM-12 108v-3l24 2l27 7l15 6l8 6l1 6l-6 6l-15 8l-36 13l-18 5zM148 180l14 -3l24 -2h24l24 2l24 3l29 6l24 6l19 7l10 5l16 12l5 6l7 12l3 12l-1 12l-3 12l-7 12l-9 12l-15 17l-30 27l-24 17l-24 14l-48 25l-18 7l-18 4l-54 11l-36 5l-96 7v-48l12 -4l30 -7l24 -10l19 -11l7 -6l9 -12l7 -12l4 -12l6 -24l1 -18l-1 -36l1 -12l2 -6l7 -12l10 -9l12 -6z" fill="#e8311b"/>
<path d="M-12 -12h86l8 24v6l-4 6l-6 4l-19 8l-29 7l-36 8zM424 36l32 -3h36l30 -1l48 5l10 5l-14 6l-50 12l-18 -1l-24 3l-42 -1l-18 -3l-13 -4l-4 -6l8 -6zM-12 108l24 2l19 4l13 6l7 6v6l-6 6l-21 12l-18 6l-18 4zM173 180l19 -2h18l42 4l24 4l24 6l20 6l13 6l9 6l12 12l4 6l5 12l1 12l-3 12l-6 12l-8 12l-23 25l-30 25l-55 34l-23 13l-18 8l-12 3l-18 3l-42 3h-48l-36 -5h-12l-18 7l-6 2l-6 -1l-4 -3l2 -6l2 -1l6 -2l18 -1l12 -3l42 -28l12 -12l8 -13l6 -12l8 -30l2 -24l-2 -42l2 -12l3 -6l9 -12l12 -8l18 -7z" fill="#e81b1c"/>
<path d="M-12 -12h83l8 24v6l-7 8l-8 4l-16 6l-24 6l-36 8zM432 36l30 -2l30 1l30 -2l25 3l11 5l6 1l-6 2l-5 4l-37 11l-18 -2l-24 3h-42l-23 -6l-6 -6l8 -6zM-12 114v-3l6 -1l18 2l10 2l13 6l7 6v6l-5 6l-13 8l-18 7l-18 3zM165 186l33 -5l36 1l36 5l40 11l14 6l10 6l13 12l7 12l2 6v12l-3 12l-6 12l-8 12l-11 12l-28 25l-35 23l-50 30l-23 11l-24 3l-33 -2l-23 -6l-9 -6l-3 -6l2 -12l14 -42l4 -24l1 -18l-2 -36l1 -18l4 -12l5 -6l7 -6l14 -7z" fill="#e8191c"/>
<path d="M-12 -12h80l6 18l2 6l-1 6l-5 6l-10 6l-12 5l-27 7l-33 7zM449 36l19 -1l24 1l30 -2l12 2l16 6l-5 6l-16 6l-13 3l-18 -1l-24 3l-42 -1l-17 -4l-6 -6l7 -6l10 -4zM-12 114l6 -1h12l18 5l4 2l6 6l1 6l-5 6l-12 8l-18 5l-12 1zM188 186l28 -2l36 3l30 6l33 11l11 6l13 12l7 12l2 6l1 12l-6 18l-13 18l-17 18l-19 15l-80 51l-16 9l-9 3l-9 1l-18 -1l-18 -4l-12 -6l-8 -8l-2 -6l-1 -18l6 -36l1 -18v-18l-3 -30v-12l3 -12l4 -6l6 -6l6 -5l18 -7z" fill="#e8161c"/>
<path d="M-12 -12h77l6 18l1 6l-1 6l-5 6l-18 9l-24 7l-36 7zM462 36h12l18 2l18 -3h12l7 1l12 6l-2 6l-13 6l-10 2l-18 -2l-30 4l-24 -2l-12 1l-12 -3l-6 -6l6 -6l12 -3zM-12 120v-3l6 -1h12l12 3l3 1l7 6l1 6l-4 6l-10 6l-15 4h-12zM180 192l24 -4h24l30 3l31 7l23 9l14 9l10 12l3 6l3 12l-2 12l-9 18l-9 12l-16 15l-18 13l-48 30l-39 26l-9 5l-12 2l-12 -2l-14 -5l-10 -7l-5 -5l-3 -6l-2 -18l2 -36v-18l-4 -48l1 -12l3 -6l8 -10l16 -8z" fill="#e8151c"/>
<path d="M-12 -12h74l6 18l1 6l-1 6l-6 6l-9 6l-11 4l-42 11l-12 1zM510 36h14l12 6l-2 6l-11 6l-7 1l-18 -4h-6l-12 4l-12 2l-24 -2l-12 1l-8 -2l-6 -6l5 -6l9 -2h12l24 -3l24 3zM-10 120l10 -1l13 1l10 6l1 6l-5 6l-12 6l-7 1l-12 -1v-23zM203 192l25 -1l24 2l25 5l23 8l17 10l11 12l6 12v12l-4 12l-7 12l-10 12l-13 11l-18 12l-48 29l-37 26l-11 4h-6l-12 -3l-11 -7l-5 -6l-5 -12l-1 -12l-1 -42l-6 -48v-12l4 -12l7 -7l10 -5l17 -6z" fill="#e8151c"/>
<path d="M-12 -12h70l7 18l1 6l-2 6l-5 6l-10 6l-7 3l-42 11l-12 1zM428 42h16l24 -4l19 4l4 6l-13 6l-10 2l-24 -4l-12 2l-6 -2l-5 -4zM498 42l18 -5h6l11 5l-2 6l-9 5l-6 1l-22 -6zM-12 126l6 -3l12 -1l10 4l2 6l-5 6l-7 2l-6 2l-6 -1l-6 -3zM196 198l20 -3h24l24 3l24 8l20 10l10 9l6 9l2 6v12l-2 8l-6 11l-9 11l-15 13l-18 11l-42 23l-36 24l-12 4h-6l-6 -2l-6 -6l-7 -13l-7 -54l-6 -36v-18l2 -7l6 -7l21 -10z" fill="#e8151c"/>
<path d="M-12 -12h66l8 18l1 6l-2 6l-6 6l-13 8l-42 11l-12 1zM451 42l11 -2h12l6 2l4 6l-10 6l-6 1l-9 -1l-9 -4l-6 -1l-12 3l-8 -4l2 -2l6 -3l12 3zM504 42l12 -4h6l8 4l-1 6l-7 4l-6 1l-12 -5zM-7 132l7 -5l6 1l5 4l-5 3l-6 2zM195 204l21 -5l24 -1l24 4l23 8l11 6l8 6l9 12l2 6l1 7l-2 11l-3 6l-7 10l-8 8l-22 15l-42 19l-30 15l-12 3l-6 -1l-6 -5l-6 -13l-16 -63l-1 -18l1 -6l4 -6l6 -5l12 -7z" fill="#e8151c"/>
<path d="M-12 -12h62l9 18v6l-2 6l-5 6l-10 6l-45 12l-9 1zM457 42l11 -2l6 2h2l3 6l-11 5h-6l-11 -5zM508 42l8 -3h6l5 3l-1 6l-4 2l-6 1l-9 -3zM429 48l3 -1l4 1l-4 1zM216 204l18 -2l20 2l21 6l12 6l8 6l6 6l7 12v12l-5 12l-9 11l-9 7l-15 9l-12 4l-24 6l-18 3l-12 -1l-6 -2l-6 -5l-6 -8l-12 -24l-4 -18v-12l3 -6l5 -6l8 -6l11 -6z" fill="#e8151c"/>
<path d="M-12 -12h57l10 18l1 6l-2 6l-5 6l-11 6l-20 6l-24 5l-6 1zM462 42h8l6 6l-8 4l-6 -1l-6 -3zM511 42l5 -2l6 1l3 1l-1 6l-8 2l-5 -2zM216 210l18 -3l18 1l18 6l14 8l6 6l4 6l4 12l-1 6l-2 6l-4 6l-9 9l-12 7l-12 5l-12 2h-12l-12 -2l-18 -9l-12 -12l-4 -6l-3 -12l1 -12l3 -6l5 -6l8 -6z" fill="#e8151c"/>
<path d="M-12 -12h52l11 18l1 6l-2 6l-5 6l-14 6l-19 6l-18 4h-6zM515 42h7l-1 6h-6zM460 48l2 -3l6 -1l4 4l-4 2zM221 216l13 -3l12 1l13 2l12 6l8 6l4 6l2 6l1 6l-1 6l-3 6l-5 6l-7 5l-6 3l-12 3l-18 -1l-11 -4l-7 -4l-9 -8l-4 -6l-3 -12l1 -6l3 -6l6 -6z" fill="#e8151c"/>
<path d="M-12 -12h46l8 11l4 7l1 6l-1 6l-6 6l-14 6l-26 7l-12 2zM235 222h11l6 1l11 5l6 6l2 6v6l-2 6l-5 5l-12 5h-12l-10 -4l-8 -6l-4 -6l-1 -6l1 -6l4 -6z" fill="#e8151c"/>
<path d="M-12 -12h38l10 12l3 6l2 6l-1 6l-7 6l-11 6l-23 6l-11 1z" fill="#e8151c"/>
<path d="M-12 -12h28l8 7l5 5l3 6l1 6l-2 6l-4 6l-10 6l-23 5h-6z" fill="#df151c"/>
<path d="M-12 -12h13l20 12l4 6l1 6v6l-3 6l-11 5l-18 4h-6z" fill="#d4141c"/>
<path d="M-12 -12l12 10l12 3l6 3l4 8v6l-3 6l-13 5l-18 2z" fill="#c5181f"/>
<path d="M-12 0l12 6h12l6 6v7l-6 6l-18 3h-6z" fill="#b71c22"/>
<path d="M-12 12v-5l12 3l6 -1l7 3l2 6l-3 4l-5 2l-13 2l-6 -1z" fill="#ad1f23"/>
<path d="M-7 12l13 1l6 5l-6 3l-12 1l-6 -3v-4z" fill="#a62025"/>
<path d="M-7 18l7 -3l6 3l-6 3z" fill="#a02026"/>
<path d="M-2 18l2 -1l2 1l-2 1z" fill="#9b2027"/>
<path d="M-8.1 12.1C-6.7 12.2 -3.1 12.4 0 12.9C3.1 13.3 8.7 14 10.7 14.8C12.8 15.5 12.5 16.4 12.1 17.4C11.6 18.5 10.1 20.2 8.1 20.9C6 21.7 2.7 21.7 0 22C-2.7 22.3 -6.7 22.5 -8.1 22.6M49.7 -5.4C50.1 -4.5 51.5 -3.6 52.3 0C53.2 3.6 57 11.2 55 16.1C53 21 49.4 25.5 40.3 29.5C31.1 33.6 8.1 38.2 0 40.3C-8.1 42.3 -6.7 41.6 -8.1 41.9M79.2 -5.4C79.4 -4.5 79.4 -3.6 80.5 0C81.7 3.6 86.8 11.2 85.9 16.1C85 21 82.8 25.5 75.2 29.5C67.6 33.6 52.8 36.9 40.3 40.3C27.7 43.6 8.1 47.9 0 49.7C-8.1 51.5 -6.7 50.8 -8.1 51M103.4 -5.4C103.8 -4.5 102.9 -4.9 106 0C109.2 4.9 122.4 17.4 122.1 24.2C121.9 30.9 118.3 35.6 104.7 40.3C91.1 45 57.7 49 40.3 52.3C22.8 55.7 8.1 58.8 0 60.4C-8.1 62 -6.7 61.5 -8.1 61.7M139.6 -5.4C140 -4.5 138.7 -3.6 142.3 0C145.9 3.6 155.3 10.7 161.1 16.1C166.9 21.5 175.4 27.7 177.2 32.2C179 36.7 176.3 39.6 171.8 43C167.3 46.3 158.8 49 150.3 52.3C141.8 55.7 124.4 60.2 120.8 63.1C117.2 66 122.1 68.5 128.9 69.8C135.6 71.1 149 71.8 161.1 71.1C173.2 70.5 187.9 68.5 201.3 65.8C214.8 63.1 228.2 58.6 241.6 55C255 51.5 268.5 48.1 281.9 44.3C295.3 40.5 308.7 36.2 322.1 32.2C335.6 28.2 351.7 23.7 362.4 20.1C373.2 16.6 383.4 14.1 386.6 10.7C389.7 7.4 382.6 2.7 381.2 0C379.9 -2.7 379 -4.5 378.5 -5.4M185.2 -5.4C185.7 -4.5 184.8 -2.2 187.9 0C191.1 2.2 197.3 5.1 204 8.1C210.7 11 219.7 15 228.2 17.4C236.7 19.9 246.1 21.9 255 22.8C264 23.7 272.9 23.9 281.9 22.8C290.8 21.7 302 18.6 308.7 16.1C315.4 13.6 320.1 10.7 322.1 8.1C324.2 5.4 321 2.2 320.8 0C320.6 -2.2 320.8 -4.5 320.8 -5.4M466 22.8C451 23.4 442.3 22.6 429.5 24.2C416.7 25.7 402.7 28.6 389.3 32.2C375.8 35.8 360.2 41.4 349 45.6C337.8 49.9 328.2 54.6 322.1 57.7C316.1 60.9 312.8 62.2 312.8 64.4C312.8 66.7 316.1 69.1 322.1 71.1C328.2 73.2 337.8 75.3 349 76.5C360.2 77.7 375.8 78.3 389.3 78.4C402.7 78.5 416.7 77.6 429.5 77.3C442.3 77 455.5 76.8 466 76.5C476.6 76.2 481.7 76.4 492.9 75.7C504.1 75 518.8 74.6 533.2 72.5C547.5 70.4 565.4 66.9 578.8 63.1C592.2 59.3 605.2 53.9 613.7 49.7C622.2 45.4 626.7 41.4 629.8 37.6C632.9 33.8 635.2 29.6 632.5 26.8C629.8 24.1 623.5 22.2 613.7 20.9C603.8 19.7 589.1 19.3 573.4 19.3C557.8 19.3 537.6 20.4 519.7 20.9C501.8 21.5 481.1 22.3 466 22.8ZM466 32.2C451.9 32.7 445.5 32.2 434.9 33.6C424.3 34.9 410.5 37.6 402.7 40.3C394.9 43 388.8 47 387.9 49.7C387 52.3 391.3 54.5 397.3 56.4C403.4 58.3 412.7 60.2 424.2 61.2C435.6 62.2 452.3 62.4 466 62.3C479.7 62.1 492.9 61.6 506.3 60.4C519.7 59.2 534.5 57.3 546.6 55C558.7 52.8 571.6 49.7 578.8 47C586 44.3 591.3 41.2 589.5 38.9C587.7 36.7 579.7 34.9 568.1 33.6C556.4 32.2 536.7 31.1 519.7 30.9C502.7 30.6 480.2 31.8 466 32.2ZM456.4 -5.4C458 -3.9 460 1.4 466 3.2C472.1 5 483.9 4.9 492.9 5.4C501.8 5.8 506.3 6.1 519.7 5.9C533.2 5.7 559.1 4.7 573.4 4C587.7 3.4 597.6 3.7 605.6 2.1C613.7 0.6 619.1 -4.1 621.7 -5.4M245.6 126.2C247 123.5 251.2 120.4 257.7 118.1C264.2 115.9 273.8 114 284.6 112.8C295.3 111.5 309.2 110.4 322.1 110.6C335.1 110.8 349.9 112.2 362.4 114.1C374.9 116 388.6 119 397.3 122.1C406 125.3 413 129.1 414.8 132.9C416.6 136.7 413.6 141.8 408.1 145C402.5 148.1 391.9 150.3 381.2 151.7C370.5 153 357 153.5 343.6 153C330.2 152.6 313.6 151 300.7 149C287.7 147 274.3 143.4 265.8 140.9C257.3 138.5 253 136.7 249.7 134.2C246.3 131.8 244.3 128.9 245.6 126.2ZM-8.1 85.4C-6.7 85.5 -8.1 85.2 0 86.4C8.1 87.7 26.8 90.5 40.3 92.6C53.7 94.8 67.1 96.6 80.5 99.3C94 102 109.6 105.6 120.8 108.7C132 111.9 140 114.3 147.7 118.1C155.3 121.9 159.7 127.3 166.4 131.5C173.2 135.8 179 139.8 187.9 143.6C196.9 147.4 207.6 151.2 220.1 154.4C232.7 157.5 248.3 159.7 263.1 162.4C277.9 165.1 294.4 168 308.7 170.5C323 172.9 336.9 174.7 349 177.2C361.1 179.6 372.3 182.1 381.2 185.2C390.2 188.4 396.9 191.5 402.7 196C408.5 200.4 412.1 205.4 416.1 212.1C420.1 218.8 424.1 227.7 426.8 236.2C429.6 244.7 431.9 254.1 432.8 263.1C433.6 272 433.6 281 432.2 289.9C430.8 298.9 428.2 307.8 424.2 316.8C420.1 325.7 414.8 334.7 408.1 343.6C401.3 352.6 392.4 361.5 383.9 370.5C375.4 379.4 366 388.4 357 397.3C348.1 406.3 338.7 415.2 330.2 424.2C321.7 433.1 312.8 443.6 306 451C299.3 458.4 293.5 464.2 289.9 468.5C286.4 472.7 285.5 475.2 284.6 476.5M-8.1 105.2C-6.7 105.4 -5.8 105.2 0 106C5.8 106.8 18.3 108.1 26.8 110.1C35.3 112.1 45 115.2 51 118.1C57 121 62.2 124.2 63.1 127.5C64 130.9 61.1 134.7 56.4 138.3C51.7 141.8 44.3 145.3 34.9 149C25.5 152.7 7.2 158.3 0 160.5C-7.2 162.8 -6.7 162.3 -8.1 162.7M-8.1 378.5C-6.7 378.1 -8.1 378.1 0 375.8C8.1 373.6 27.7 370 40.3 365.1C52.8 360.2 66.2 353.5 75.2 346.3C84.1 339.1 89.3 330.6 94 322.1C98.7 313.6 101.1 304.3 103.4 295.3C105.6 286.4 106.9 277.4 107.4 268.5C107.8 259.5 106 250.6 106 241.6C106 232.7 105.4 222.4 107.4 214.8C109.4 207.2 112.8 201.3 118.1 196C123.5 190.6 130.6 185.9 139.6 182.6C148.5 179.2 160.2 177.1 171.8 175.8C183.4 174.6 195.5 174.4 209.4 175C223.3 175.7 240.7 177.7 255 179.9C269.4 182 282.8 184.8 295.3 187.9C307.8 191.1 320.4 194.2 330.2 198.7C340 203.1 347.9 208.5 354.4 214.8C360.9 221 366.4 229.1 369.1 236.2C371.8 243.4 372 250.1 370.5 257.7C368.9 265.3 365.1 273.4 359.7 281.9C354.4 290.4 346.8 299.8 338.3 308.7C329.8 317.7 319.5 327.1 308.7 335.6C298 344.1 285.9 352.1 273.8 359.7C261.7 367.3 248.3 374.9 236.2 381.2C224.2 387.5 213.9 392.8 201.3 397.3C188.8 401.8 175.8 404.7 161.1 408.1C146.3 411.4 130.6 415 112.8 417.4C94.9 419.9 72.5 421.3 53.7 422.8C34.9 424.4 10.3 426.1 0 426.8C-10.3 427.6 -6.7 427.3 -8.1 427.4M185.2 241.6C185.9 236.7 187 230.2 190.6 225.5C194.2 220.8 200 216.5 206.7 213.4C213.4 210.4 222.4 207.9 230.9 207.2C239.4 206.6 249.2 207.2 257.7 209.4C266.2 211.5 275.6 215.7 281.9 220.1C288.1 224.6 292.8 230.4 295.3 236.2C297.8 242.1 298.4 249.2 296.6 255C294.9 260.9 290.2 266.4 284.6 271.1C279 275.8 270.7 280.5 263.1 283.2C255.5 285.9 247 287.5 238.9 287.2C230.9 287 221.9 285 214.8 281.9C207.6 278.7 200.7 272.9 196 268.5C191.3 264 188.4 259.5 186.6 255C184.8 250.6 184.6 246.5 185.2 241.6ZM-8.1 216.9C-6.7 217.1 -3.1 217 0 218C3.1 219 7.6 219.8 10.7 222.8C13.9 225.9 16.5 231.3 18.8 236.2C21.1 241.2 24.3 247 24.7 252.3C25.1 257.7 23.8 264 21.5 268.5C19.1 272.9 14.3 276.5 10.7 279.2C7.2 281.9 3.1 283.3 0 284.6C-3.1 285.8 -6.7 286.4 -8.1 286.7M941.2 10.2C939.7 10.3 944.2 10.4 932.1 10.7C920 11.1 888.2 11.4 868.7 12.1C849.2 12.8 832.9 13.6 815 14.8C797.1 15.9 779.2 17.4 761.3 18.8C743.4 20.1 722 21 707.7 22.8C693.3 24.6 683.5 26.6 675.4 29.5C667.4 32.4 662.5 36.7 659.3 40.3C656.2 43.8 654.9 47.4 656.6 51C658.4 54.6 662.5 58.8 670.1 61.7C677.7 64.7 689.3 66.8 702.3 68.5C715.3 70.2 733.6 70.8 747.9 71.9C762.2 73.1 777.4 73.7 788.2 75.2C798.9 76.6 808.8 78.5 812.3 80.5C815.9 82.6 813.7 84.6 809.7 87.2C805.6 89.9 796.2 93.3 788.2 96.6C780.1 100 770.3 104.3 761.3 107.4C752.4 110.5 744.3 112.8 734.5 115.4C724.7 118.1 713 120.4 702.3 123.5C691.5 126.6 680.8 130.4 670.1 134.2C659.3 138 649.5 142.5 637.9 146.3C626.2 150.1 613.2 153.9 600.3 157C587.3 160.2 573.4 162.6 560 165.1C546.6 167.6 530.9 169.4 519.7 171.8C508.5 174.3 499.6 176.3 492.9 179.9C486.2 183.4 481.9 188.4 479.5 193.3C477 198.2 477.2 203.6 478.1 209.4C479 215.2 481 221.9 484.8 228.2C488.6 234.5 494.2 241.4 500.9 247C507.7 252.6 515.3 257.7 525.1 261.7C534.9 265.8 548.4 268.5 560 271.1C571.6 273.8 584.6 275.2 594.9 277.9C605.2 280.5 613.7 283.4 621.7 287.2C629.8 291.1 637 294.9 643.2 300.7C649.5 306.5 655.3 314.1 659.3 322.1C663.4 330.2 666.5 340 667.4 349C668.3 357.9 666.9 368.2 664.7 375.8C662.5 383.4 658.4 388.8 654 394.6C649.5 400.4 644.1 405.8 637.9 410.7C631.6 415.7 623.5 420.8 616.4 424.2C609.2 427.5 602.1 430.9 594.9 430.9C587.7 430.9 580.6 427.1 573.4 424.2C566.3 421.3 558.7 416.3 551.9 413.4C545.2 410.5 539.4 407.4 533.2 406.7C526.9 406 519.3 406.9 514.4 409.4C509.4 411.9 505.9 416.8 503.6 421.5C501.4 426.2 500 432.7 500.9 437.6C501.8 442.5 505 447 509 451C513 455 518.8 458.8 525.1 461.7C531.4 464.7 540.3 466 546.6 468.5C552.8 470.9 560 475.2 562.7 476.5M941.2 25.5C939.7 25.6 944.2 26.3 932.1 26.3C920 26.3 892.7 25.6 868.7 25.5C844.7 25.4 810.6 25.1 788.2 25.5C765.8 26 748.8 26.8 734.5 28.2C720.2 29.5 709.9 31.3 702.3 33.6C694.7 35.8 689.8 38.9 688.9 41.6C688 44.3 691.5 47.4 696.9 49.7C702.3 51.9 710.3 53.7 721.1 55C731.8 56.4 745.7 57.4 761.3 57.7C777 58 797.1 57.6 815 56.9C832.9 56.2 853.1 54.7 868.7 53.7C884.4 52.7 898.4 51.7 909 51C919.6 50.3 926.7 50 932.1 49.7C937.4 49.4 939.7 49.2 941.2 49.1M727.8 40.8C728.2 39.3 731.6 37.4 737.2 36.2C742.8 35 752.8 33.9 761.3 33.6C769.8 33.2 781 33.5 788.2 34.4C795.3 35.3 803 37.3 804.3 38.9C805.6 40.6 801.2 42.8 796.2 44.3C791.3 45.8 782.8 47.2 774.8 47.8C766.7 48.4 754.6 48.2 747.9 47.8C741.2 47.3 737.9 46.3 734.5 45.1C731.1 43.9 727.3 42.3 727.8 40.8ZM941.2 243.2C939.7 243.2 939.7 243.2 932.1 243C924.5 242.7 908.4 242.5 895.6 241.6C882.8 240.7 867.4 239.8 855.3 237.6C843.2 235.3 832.5 232.4 823.1 228.2C813.7 223.9 805.6 218.3 798.9 212.1C792.2 205.8 787.3 197.3 782.8 190.6C778.3 183.9 776.1 177.6 772.1 171.8C768.1 166 764 160 758.7 155.7C753.3 151.5 747.5 148.3 739.9 146.3C732.3 144.3 722.9 143.2 713 143.6C703.2 144.1 691.5 146.5 680.8 149C670.1 151.5 659.8 155 648.6 158.4C637.4 161.7 625.3 165.5 613.7 169.1C602.1 172.7 589.1 176.5 578.8 179.9C568.5 183.2 558.9 185.9 551.9 189.3C545 192.6 539.9 195.7 537.2 200C534.5 204.3 534.3 210.1 535.8 214.8C537.4 219.5 541.2 223.9 546.6 228.2C551.9 232.4 559.1 236.5 568.1 240.3C577 244.1 589.5 247.9 600.3 251C611 254.1 622.6 256.2 632.5 259.1C642.3 262 651.3 264.2 659.3 268.5C667.4 272.7 674.1 278.3 680.8 284.6C687.5 290.8 693.8 298.4 699.6 306C705.4 313.6 710.3 322.1 715.7 330.2C721.1 338.3 726.4 346.3 731.8 354.4C737.2 362.4 742.1 370.9 747.9 378.5C753.7 386.1 760 393.3 766.7 400C773.4 406.7 780.1 413.4 788.2 418.8C796.2 424.2 803.8 428.2 815 432.2C826.2 436.2 841.9 440.3 855.3 443C868.7 445.6 882.8 447 895.6 448.3C908.4 449.7 924.5 450.5 932.1 451C939.7 451.5 939.7 451.5 941.2 451.5M941.2 264.2C939.7 264.2 939.7 264.2 932.1 264.4C924.5 264.7 908.4 265.8 895.6 265.8C882.8 265.8 868.7 265.5 855.3 264.4C841.9 263.3 827.1 261.5 815 259.1C803 256.6 792.2 253.5 782.8 249.7C773.4 245.9 764.9 241.2 758.7 236.2C752.4 231.3 748.1 226 745.2 220.1C742.3 214.3 742.1 207.2 741.2 201.3C740.3 195.5 741.4 190.2 739.9 185.2C738.3 180.3 735.8 175.3 731.8 171.8C727.8 168.3 722 165.6 715.7 164.3C709.4 163 702.3 162.7 694.2 163.8C686.2 164.8 676.8 167.6 667.4 170.5C658 173.4 647.2 177.4 637.9 181.2C628.5 185 617.7 189.5 611 193.3C604.3 197.1 599.8 200.4 597.6 204C595.3 207.6 595.3 211.4 597.6 214.8C599.8 218.1 604.3 221.5 611 224.2C617.7 226.8 628 228.4 637.9 230.9C647.7 233.3 660.2 235.8 670.1 238.9C679.9 242.1 688.9 245.2 696.9 249.7C705 254.1 711.7 260 718.4 265.8C725.1 271.6 731.4 277.4 737.2 284.6C743 291.7 748.4 300.2 753.3 308.7C758.2 317.2 761.8 327.1 766.7 335.6C771.6 344.1 776.6 352.6 782.8 359.7C789.1 366.9 795.8 373.2 804.3 378.5C812.8 383.9 823.1 388.4 833.8 391.9C844.6 395.5 857.5 398 868.7 400C879.9 402 890.4 403.1 900.9 404C911.5 404.9 925.4 405.1 932.1 405.4C938.8 405.6 939.7 405.6 941.2 405.6M941.2 301.2C939.7 301.3 939.7 301.4 932.1 302C924.5 302.6 907 303.1 895.6 304.7C884.1 306.3 871.9 308.7 863.4 311.4C854.9 314.1 846.8 317.2 844.6 320.8C842.3 324.4 845.9 329.3 849.9 332.9C854 336.5 861.1 339.6 868.7 342.3C876.3 345 886.6 347.4 895.6 349C904.5 350.6 916.3 351.2 922.4 351.7C928.5 352.1 928.9 351.7 932.1 351.7C935.2 351.7 939.7 351.7 941.2 351.7M941.2 133.7C939.7 133.8 939.7 134.1 932.1 134.2C924.5 134.3 908.4 134 895.6 134.2C882.8 134.5 867.4 134.7 855.3 135.6C843.2 136.5 832 137.4 823.1 139.6C814.1 141.8 806.1 145 801.6 149C797.1 153 796.2 158.2 796.2 163.8C796.2 169.4 798 176.7 801.6 182.6C805.2 188.4 811 194 817.7 198.7C824.4 203.4 832.5 207.6 841.9 210.7C851.3 213.9 862.9 215.9 874.1 217.4C885.3 219 899.3 219.9 909 220.1C918.7 220.4 926.7 219.1 932.1 218.8C937.4 218.5 939.7 218.6 941.2 218.5M941.2 159.7C939.7 159.8 939.7 160 932.1 160.3C924.5 160.5 907 160.4 895.6 161.1C884.1 161.7 871.4 162.7 863.4 164.3C855.3 165.9 849 167.9 847.2 170.5C845.5 173.1 848.1 177 852.6 179.9C857.1 182.8 866 185.9 874.1 187.9C882.1 189.9 891.3 191.1 900.9 191.9C910.6 192.8 925.4 192.6 932.1 192.8C938.8 192.9 939.7 192.8 941.2 192.8" fill="none" stroke="#41474a" stroke-width="2.8" stroke-linejoin="round" stroke-linecap="round"/>
</g>
<rect x="-1" y="0.2" width="932" height="466.2" fill="none" stroke="#000" stroke-width="2.9"/>
<path d="M15.9 466.4v11.6M118.8 466.4v6.2M221.7 466.4v11.6M324.6 466.4v6.2M427.5 466.4v11.6M530.4 466.4v6.2M633.3 466.4v11.6M736.2 466.4v6.2M839.1 466.4v11.6M-1 0.2h-11.6M-1 65h-6.2M-1 129.8h-11.6M-1 194.5h-6.2M-1 259.3h-11.6M-1 324.1h-6.2M-1 388.9h-11.6M-1 453.6h-6.2" stroke="#000" stroke-width="2.6" fill="none"/>
<g font-size="21" text-anchor="middle" stroke="#000" stroke-width=".3">
<text transform="translate(16.9 501) scale(.95 1)">100</text>
<text transform="translate(222.7 501) scale(.95 1)">200</text>
<text transform="translate(428.5 501) scale(.95 1)">300</text>
<text transform="translate(634.3 501) scale(.95 1)">400</text>
<text transform="translate(840.1 501) scale(.95 1)">500</text>
</g><g font-size="21" text-anchor="end" stroke="#000" stroke-width=".3">
<text transform="translate(-19.5 7.1) scale(.95 1)">0</text>
<text transform="translate(-19.5 136.7) scale(.95 1)">50</text>
<text transform="translate(-19.5 266.2) scale(.95 1)">100</text>
<text transform="translate(-19.5 395.8) scale(.95 1)">150</text>
</g>
<text x="466" y="545.4" font-size="32" text-anchor="middle">X(m)</text>
<text transform="translate(-69 233.2) rotate(-90) scale(.96 1)" font-size="31.5" text-anchor="middle">Z(m)</text>
<text x="-2.1" y="-17.2" font-size="50.8">Row 14</text>
<text transform="translate(-192 -50.4) scale(1.045 1)" font-size="58">(d2)</text>
<path d="M417.5 1.5V464.9" stroke="#c9c9c9" stroke-width="3.2" fill="none"/>
<path d="M427.3 1.5V464.9" stroke="#000" stroke-width="2.3" stroke-dasharray="14.7 10.8" stroke-dashoffset="-2" fill="none"/>
<text transform="translate(438 -10.6) rotate(-90) scale(.9 1)" font-size="36">F106</text>
<path d="M474.6 1.5V464.9" stroke="#c9c9c9" stroke-width="3.2" fill="none"/>
<path d="M445.7 1.5V464.9" stroke="#000" stroke-width="2.3" stroke-dasharray="14.7 10.8" stroke-dashoffset="-2" fill="none"/>
<text transform="translate(472.7 -12.2) rotate(-90) scale(.9 1)" font-size="36">F104</text>
<path d="M626.8 1.5V464.9" stroke="#c9c9c9" stroke-width="3.2" fill="none"/>
<path d="M607.8 1.5V464.9" stroke="#000" stroke-width="2.3" stroke-dasharray="14.7 10.8" stroke-dashoffset="-2" fill="none"/>
<text transform="translate(630.3 -11.2) rotate(-90) scale(.9 1)" font-size="36">F102</text>
<rect x="963.6" y="-2" width="27.2" height="7.9" fill="#721d84"/>
<rect x="963.6" y="5.3" width="27.2" height="7.9" fill="#791a8b"/>
<rect x="963.6" y="12.6" width="27.2" height="7.9" fill="#722992"/>
<rect x="963.6" y="19.9" width="27.2" height="7.9" fill="#6a3a98"/>
<rect x="963.6" y="27.2" width="27.2" height="7.9" fill="#5d409a"/>
<rect x="963.6" y="34.6" width="27.2" height="7.9" fill="#4f459d"/>
<rect x="963.6" y="41.9" width="27.2" height="7.9" fill="#41489f"/>
<rect x="963.6" y="49.2" width="27.2" height="7.9" fill="#324a9f"/>
<rect x="963.6" y="56.5" width="27.2" height="7.9" fill="#244ba0"/>
<rect x="963.6" y="63.8" width="27.2" height="7.9" fill="#2453a8"/>
<rect x="963.6" y="71.1" width="27.2" height="7.9" fill="#255bb0"/>
<rect x="963.6" y="78.4" width="27.2" height="7.9" fill="#2868b7"/>
<rect x="963.6" y="85.8" width="27.2" height="7.9" fill="#2b77c0"/>
<rect x="963.6" y="93.1" width="27.2" height="7.9" fill="#2d8ccd"/>
<rect x="963.6" y="100.4" width="27.2" height="7.9" fill="#2fa0da"/>
<rect x="963.6" y="107.7" width="27.2" height="7.9" fill="#33b2e3"/>
<rect x="963.6" y="115" width="27.2" height="7.9" fill="#48bbe0"/>
<rect x="963.6" y="122.3" width="27.2" height="7.9" fill="#63bfc9"/>
<rect x="963.6" y="129.6" width="27.2" height="7.9" fill="#6cbe9c"/>
<rect x="963.6" y="136.9" width="27.2" height="7.9" fill="#6bbb68"/>
<rect x="963.6" y="144.2" width="27.2" height="7.9" fill="#69b93b"/>
<rect x="963.6" y="151.6" width="27.2" height="7.9" fill="#6ab82f"/>
<rect x="963.6" y="158.9" width="27.2" height="7.9" fill="#6eb82d"/>
<rect x="963.6" y="166.2" width="27.2" height="7.9" fill="#71b82b"/>
<rect x="963.6" y="173.5" width="27.2" height="7.9" fill="#7bbb29"/>
<rect x="963.6" y="180.8" width="27.2" height="7.9" fill="#8bbf28"/>
<rect x="963.6" y="188.1" width="27.2" height="7.9" fill="#9dc629"/>
<rect x="963.6" y="195.4" width="27.2" height="7.9" fill="#aece2b"/>
<rect x="963.6" y="202.8" width="27.2" height="7.9" fill="#c0d42e"/>
<rect x="963.6" y="210.1" width="27.2" height="7.9" fill="#d0da32"/>
<rect x="963.6" y="217.4" width="27.2" height="7.9" fill="#dfe033"/>
<rect x="963.6" y="224.7" width="27.2" height="7.9" fill="#ede731"/>
<rect x="963.6" y="232" width="27.2" height="7.9" fill="#f4de2a"/>
<rect x="963.6" y="239.3" width="27.2" height="7.9" fill="#f6cb20"/>
<rect x="963.6" y="246.6" width="27.2" height="7.9" fill="#f5b51f"/>
<rect x="963.6" y="253.9" width="27.2" height="7.9" fill="#f3a11e"/>
<rect x="963.6" y="261.2" width="27.2" height="7.9" fill="#f1921d"/>
<rect x="963.6" y="268.6" width="27.2" height="7.9" fill="#ef7f1c"/>
<rect x="963.6" y="275.9" width="27.2" height="7.9" fill="#ec6a1c"/>
<rect x="963.6" y="283.2" width="27.2" height="7.9" fill="#e94e1b"/>
<rect x="963.6" y="290.5" width="27.2" height="7.9" fill="#e82f1b"/>
<rect x="963.6" y="297.8" width="27.2" height="7.9" fill="#e81b1c"/>
<rect x="963.6" y="305.1" width="27.2" height="7.9" fill="#e8181c"/>
<rect x="963.6" y="312.4" width="27.2" height="7.9" fill="#e8151c"/>
<rect x="963.6" y="319.8" width="27.2" height="7.9" fill="#e8151c"/>
<rect x="963.6" y="327.1" width="27.2" height="7.9" fill="#e8151c"/>
<rect x="963.6" y="334.4" width="27.2" height="7.9" fill="#e8151c"/>
<rect x="963.6" y="341.7" width="27.2" height="7.9" fill="#e8151c"/>
<rect x="963.6" y="349" width="27.2" height="7.9" fill="#e8151c"/>
<rect x="963.6" y="356.3" width="27.2" height="7.9" fill="#e8151c"/>
<rect x="963.6" y="363.6" width="27.2" height="7.9" fill="#e8151c"/>
<rect x="963.6" y="370.9" width="27.2" height="7.9" fill="#e5151c"/>
<rect x="963.6" y="378.2" width="27.2" height="7.9" fill="#d9141c"/>
<rect x="963.6" y="385.6" width="27.2" height="7.9" fill="#ca171e"/>
<rect x="963.6" y="392.9" width="27.2" height="7.9" fill="#b81c22"/>
<rect x="963.6" y="400.2" width="27.2" height="7.9" fill="#ae1f23"/>
<rect x="963.6" y="407.5" width="27.2" height="7.9" fill="#a52025"/>
<rect x="963.6" y="414.8" width="27.2" height="7.9" fill="#9f2026"/>
<rect x="963.6" y="422.1" width="27.2" height="7.9" fill="#992028"/>
<rect x="963.6" y="429.4" width="27.2" height="7.9" fill="#8f1e26"/>
<rect x="963.6" y="436.8" width="27.2" height="7.9" fill="#841d23"/>
<rect x="963.6" y="444.1" width="27.2" height="7.9" fill="#7b1a20"/>
<rect x="963.6" y="451.4" width="27.2" height="7.9" fill="#72161d"/>
<rect x="963.6" y="458.7" width="27.2" height="7.9" fill="#6a121a"/>
<rect x="963.6" y="-2" width="27.2" height="468" fill="none" stroke="#000" stroke-width="3.4"/>
<path d="M990.8 -2h31M990.8 56.5h31M990.8 115h31M990.8 173.5h31M990.8 232h31M990.8 290.5h31M990.8 349h31M990.8 407.5h31M990.8 466h31" stroke="#000" stroke-width="2.6" fill="none"/>
<g font-size="21">
<text transform="translate(1030.3 5.8) scale(.97 1)">-15%</text>
<text transform="translate(1030.3 64.3) scale(.97 1)">-11%</text>
<text transform="translate(1030.3 122.8) scale(.97 1)">-6%</text>
<text transform="translate(1030.3 181.3) scale(.97 1)">-2%</text>
<text transform="translate(1030.3 239.8) scale(.97 1)">2%</text>
<text transform="translate(1030.3 298.3) scale(.97 1)">7%</text>
<text transform="translate(1030.3 356.8) scale(.97 1)">11%</text>
<text transform="translate(1030.3 415.3) scale(.97 1)">16%</text>
<text transform="translate(1030.3 473.8) scale(.97 1)">20%</text>
</g>
<text x="952.5" y="520" font-size="25">dVs/Vs (%)</text>
</g>
<g transform="translate(229 1458.9)">
<g clip-path="url(#pc)">
<defs><path id="c3_0" d="M-18 -10.7C-15 -10.7 -158.3 -10.7 0 -10.7C158.3 -10.7 773.7 -10.7 932.1 -10.7C1090.4 -10.7 947.1 -10.7 950.1 -10.7H962V496.4H-30V-10.7Z"/><path id="c3_1" d="M-20.7 -4.9C-17.7 -4.7 -21.8 -4.9 -2.7 -4C16.4 -3.1 71.1 -0.7 94 0.5C116.8 1.7 118.6 2.2 134.2 3.2C149.9 4.3 170 5.5 187.9 6.7C205.8 7.9 223.7 9.4 241.6 10.2C259.5 11 277.4 11.3 295.3 11.3C313.2 11.3 328.4 10.7 349 10.2C369.6 9.7 399.3 8.4 418.8 8.1C438.3 7.7 431.3 8.1 466 8.1C500.8 8 573.4 7.5 627.1 7.5C680.8 7.5 737.4 7.7 788.2 8.1C839 8.4 905.1 9.1 932.1 9.4C959.1 9.6 947.1 9.5 950.1 9.6H962V496.4H-30V-4.9Z"/><path id="c3_2" d="M-18 2.9C-15 3.1 -11.9 3.3 0 4C11.9 4.8 35.8 6 53.7 7.5C71.6 9 89.5 11.1 107.4 12.9C125.3 14.7 143.2 16.6 161.1 18.3C179 19.9 196.9 21.6 214.8 22.8C232.7 24 250.6 25.2 268.5 25.5C286.4 25.8 304.3 25 322.1 24.7C340 24.4 359.7 23.9 375.8 23.6C391.9 23.4 403.8 23.2 418.8 23.1C433.8 23 444.7 23.2 466 22.8C487.3 22.5 526.4 21.5 546.6 20.9C566.7 20.4 573.4 19.6 586.8 19.3C600.3 19.1 613.7 18.7 627.1 19.3C640.5 19.9 654 20.9 667.4 22.8C680.8 24.7 694.2 28.6 707.7 30.9C721.1 33.1 732.3 34.9 747.9 36.2C763.6 37.6 781.5 38.9 801.6 38.9C821.7 38.9 847 37.4 868.7 36.2C890.5 35.1 918.5 33.1 932.1 32.2C945.6 31.4 947.1 31.3 950 31.1H962V496.4H-30V2.9Z"/><path id="c3_3" d="M-17.9 9.4C-15 9.6 -11.9 9.8 0 10.7C11.9 11.6 35.8 12.5 53.7 14.8C71.6 17 89.5 21 107.4 24.2C125.3 27.3 143.2 31.3 161.1 33.6C179 35.8 196.9 36.7 214.8 37.6C232.7 38.5 250.6 39.1 268.5 38.9C286.4 38.7 304.3 37.1 322.1 36.2C340 35.3 359.7 34.3 375.8 33.6C391.9 32.8 403.8 32.1 418.8 31.7C433.8 31.2 444.7 31.3 466 30.9C487.3 30.4 524.2 28.9 546.6 29C568.9 29.1 584.6 30.2 600.3 31.7C615.9 33.1 627.1 35.5 640.5 37.6C654 39.7 665.1 42.3 680.8 44.3C696.5 46.3 712.1 48.3 734.5 49.7C756.9 51 782.1 52.1 815 52.3C848 52.6 909.6 51.3 932.1 51C954.6 50.7 947.1 50.8 950.1 50.8H962V496.4H-30V9.4Z"/><path id="c3_4" d="M-17.7 26.4C-14.8 26.9 -11.9 27.4 0 29.5C11.9 31.6 35.8 36.2 53.7 38.9C71.6 41.6 89.5 43.7 107.4 45.6C125.3 47.6 143.2 49.5 161.1 50.5C179 51.5 196.9 51.5 214.8 51.5C232.7 51.6 250.6 51.6 268.5 51C286.4 50.4 304.3 49 322.1 47.8C340 46.5 359.7 44.7 375.8 43.5C391.9 42.2 403.8 41 418.8 40.3C433.8 39.5 447 38.9 466 38.9C485.1 38.9 513 39.1 533.2 40.3C553.3 41.4 571.2 43.6 586.8 45.6C602.5 47.7 611.5 50.3 627.1 52.3C642.8 54.4 662.9 56.2 680.8 57.7C698.7 59.2 712.1 60.1 734.5 61.2C756.9 62.3 782.1 63.7 815 64.4C848 65.2 909.6 65.5 932.1 65.8C954.6 66 947.1 65.9 950.1 66H962V496.4H-30V26.4Z"/><path id="c3_5" d="M-18 55.7C-15 55.9 -11.9 56.1 0 56.9C11.9 57.7 35.8 59.4 53.7 60.4C71.6 61.4 89.5 62.4 107.4 63.1C125.3 63.8 143.2 64.3 161.1 64.4C179 64.6 196.9 64.4 214.8 63.9C232.7 63.4 250.6 62 268.5 61.2C286.4 60.4 304.3 59.6 322.1 59.1C340 58.5 359.7 58.1 375.8 57.7C391.9 57.4 407.6 57.4 418.8 56.9C430 56.5 435.1 55.6 443 55C450.8 54.5 455.5 53.7 466 53.7C476.6 53.7 492.9 53.9 506.3 55C519.7 56.2 533.2 58.6 546.6 60.4C560 62.2 573.4 64.4 586.8 65.8C600.3 67.1 611.5 67.7 627.1 68.5C642.8 69.2 658.4 69.7 680.8 70.3C703.2 71 734.5 71.7 761.3 72.5C788.2 73.3 813.4 74.2 841.9 75.2C870.3 76.2 914 77.7 932.1 78.4C950.1 79 947.1 78.9 950.1 79H962V496.4H-30V55.7Z"/><path id="c3_6" d="M-18 75.9C-15 76 -11.9 76.1 0 76.5C11.9 76.9 35.8 77.8 53.7 78.4C71.6 79 89.5 79.7 107.4 80C125.3 80.3 143.2 80.4 161.1 80C179 79.6 196.9 78.3 214.8 77.9C232.7 77.4 250.6 77.4 268.5 77.3C286.4 77.2 304.3 77.1 322.1 77.3C340 77.5 359.7 77.9 375.8 78.4C391.9 78.9 403.8 80.2 418.8 80.5C433.8 80.9 451.5 80.1 466 80.5C480.6 81 488.4 82.3 506.3 83.2C524.2 84.1 551.1 85.4 573.4 85.9C595.8 86.4 618.2 86.1 640.5 86.4C662.9 86.8 683 87 707.7 88.1C732.3 89.1 761.3 91 788.2 92.6C815 94.3 844.7 96.6 868.7 98C892.7 99.3 918.5 100.1 932.1 100.7C945.6 101.2 947.1 101.3 950.1 101.4H962V496.4H-30V75.9Z"/><path id="c3_7" d="M-18 90.6C-15 90.7 -11.9 90.8 0 91.3C11.9 91.8 35.8 92.9 53.7 93.4C71.6 94 89.5 94 107.4 94.5C125.3 94.9 143.2 95.8 161.1 96.1C179 96.4 196.9 95.9 214.8 96.1C232.7 96.3 250.6 96.4 268.5 97.2C286.4 97.9 304.3 99.6 322.1 100.7C340 101.7 359.7 102.6 375.8 103.4C391.9 104.1 403.8 105.1 418.8 105.2C433.8 105.4 449.2 104.6 466 104.2C482.9 103.7 501.8 103 519.7 102.6C537.6 102.1 555.5 101.7 573.4 101.5C591.3 101.3 609.2 101 627.1 101.5C645 101.9 662.9 102.7 680.8 104.2C698.7 105.6 716.6 108.2 734.5 110.1C752.4 111.9 770.3 113.7 788.2 115.4C806.1 117.1 824 118.9 841.9 120.3C859.8 121.6 880.5 122.9 895.6 123.5C910.6 124.1 923 123.9 932.1 124C941.2 124.2 947.1 124.2 950.1 124.3H962V496.4H-30V90.6Z"/><path id="c3_8" d="M-18 103.8C-15 103.9 -11.9 104.1 0 104.7C11.9 105.3 35.8 106.4 53.7 107.4C71.6 108.4 89.5 109.5 107.4 110.6C125.3 111.7 143.2 112.8 161.1 114.1C179 115.3 196.9 116.2 214.8 118.1C232.7 120 252.8 123.4 268.5 125.6C284.1 127.9 295.3 130.1 308.7 131.5C322.1 133 335.6 133.7 349 134.2C362.4 134.8 375.8 134.9 389.3 134.8C402.7 134.6 416.7 134 429.5 133.4C442.3 132.9 451 132.8 466 131.5C481.1 130.3 501.8 127.7 519.7 126.2C537.6 124.6 557.8 122.6 573.4 122.1C589.1 121.7 602.5 122.3 613.7 123.5C624.9 124.7 637 127.4 640.5 129.4C644.1 131.4 639.2 133.4 635.2 135.6C631.1 137.7 624.4 139.1 616.4 142.3C608.3 145.4 595.3 149.9 586.8 154.4C578.3 158.8 571.2 164 565.4 169.1C559.6 174.3 554.4 179.9 551.9 185.2C549.5 190.6 548.8 196 550.6 201.3C552.4 206.7 556.6 213 562.7 217.4C568.7 221.9 576.1 225.1 586.8 228.2C597.6 231.3 611.5 233.6 627.1 236.2C642.8 238.9 665.1 242.1 680.8 244.3C696.5 246.4 709.4 248.2 721.1 249.1C732.7 250 743.4 250.7 750.6 249.7C757.8 248.6 760.9 247 764 243C767.2 238.9 768.3 233.8 769.4 225.5C770.5 217.2 769.8 203.6 770.7 193.3C771.6 183 772.3 171.4 774.8 163.8C777.2 156.2 779.7 151.6 785.5 147.7C791.3 143.7 800.3 141.8 809.7 140.1C819.1 138.4 827.6 137.8 841.9 137.4C856.2 137.1 880.5 137.4 895.6 138.3C910.6 139.1 923 141.3 932.1 142.3C941.1 143.3 947 143.9 950 144.3H962V496.4H-30V103.8Z"/><path id="c3_9" d="M603 187.9C602.7 183.4 606.1 178.1 611 174.5C615.9 170.9 624.4 168.2 632.5 166.4C640.5 164.7 650.4 163.8 659.3 163.8C668.3 163.7 678.6 164.3 686.2 165.9C693.8 167.5 701.2 170.4 705 173.2C708.8 175.9 709.4 179.2 709 182.6C708.5 185.9 706.5 189.9 702.3 193.3C698 196.6 690.6 200 683.5 202.7C676.3 205.4 667.8 208.4 659.3 209.4C650.8 210.4 640.3 210.2 632.5 208.9C624.7 207.5 617.3 204.8 612.3 201.3C607.4 197.9 603.2 192.4 603 187.9Z"/><path id="c3_10" d="M943.9 259.9C928.2 260.2 912.6 261.1 895.6 261.7C878.6 262.4 856.2 263 841.9 263.6C827.6 264.3 817 264.1 809.7 265.8C802.3 267.5 798.9 269.8 797.6 273.8C796.2 277.9 797.8 284.6 801.6 289.9C805.4 295.3 812.8 300.9 820.4 306C828 311.2 837 316.1 847.2 320.8C857.5 325.5 870.5 330.6 882.1 334.2C893.8 337.8 906.8 340.7 917 342.3C927.3 343.8 931.8 343.4 943.9 343.6C956 343.8 981.9 357.6 989.5 343.6C997.1 329.7 997.1 273.8 989.5 259.9C981.9 245.9 959.6 259.6 943.9 259.9Z"/><path id="c3_11" d="M943.9 160.5C928.2 160.3 909 158.9 895.6 158.9C882.1 158.9 872.8 159.3 863.4 160.5C854 161.8 845.2 163.4 839.2 166.4C833.2 169.4 828.5 174 827.1 178.5C825.8 183 827.8 188.6 831.1 193.3C834.5 198 841 203.1 847.2 206.7C853.5 210.3 860.7 212.6 868.7 214.8C876.8 216.9 883 218.7 895.6 219.6C908.1 220.5 928.2 220 943.9 220.1C959.6 220.2 981.9 230.1 989.5 220.1C997.1 210.2 997.1 170.5 989.5 160.5C981.9 150.6 959.6 160.8 943.9 160.5Z"/><path id="c3_12" d="M-17.9 118.6C-15 118.8 -7.5 119.4 0 120C7.5 120.6 17.9 120.9 26.8 122.1C35.8 123.4 44.7 125.7 53.7 127.5C62.6 129.3 69.4 130.9 80.5 132.9C91.7 134.9 107.4 137.8 120.8 139.6C134.2 141.4 145.4 141.8 161.1 143.6C176.7 145.4 196.9 148.3 214.8 150.3C232.7 152.3 250.6 154.1 268.5 155.7C286.4 157.3 304.3 158.5 322.1 159.7C340 161 359.7 161.9 375.8 163.2C391.9 164.6 407.6 166.4 418.8 167.8C430 169.2 435.1 169.4 443 171.8C450.8 174.3 460.9 179.4 466 182.6C471.2 185.7 471.4 186.6 474.1 190.6C476.8 194.6 478.6 201.3 482.1 206.7C485.7 212.1 490.2 218.1 495.6 222.8C500.9 227.5 506.8 231.5 514.4 234.9C522 238.3 530.5 240.3 541.2 243C551.9 245.6 566.3 248.8 578.8 251C591.3 253.2 603.8 254.1 616.4 256.4C628.9 258.6 642.3 261.1 654 264.4C665.6 267.8 676.3 272.3 686.2 276.5C696 280.8 704.1 285 713 289.9C722 294.9 730.9 300.7 739.9 306C748.8 311.4 757.8 316.8 766.7 322.1C775.7 327.5 784.2 333.3 793.6 338.3C803 343.2 812.8 347.7 823.1 351.7C833.4 355.7 844.1 359.3 855.3 362.4C866.5 365.5 877.4 368.5 890.2 370.5C903 372.5 922.1 373.5 932.1 374.5C942 375.5 947 375.9 950 376.2H962V496.4H-30V118.6Z"/><path id="c3_13" d="M-18 196.8C-15 196.9 -7.5 197.1 0 197.3C7.5 197.5 17.9 198.8 26.8 198.1C35.8 197.4 42.5 195.4 53.7 193.3C64.9 191.1 80.5 187.9 94 185.2C107.4 182.6 120.8 179 134.2 177.2C147.7 175.4 161.1 174.7 174.5 174.5C187.9 174.3 199.1 175.2 214.8 175.8C230.4 176.5 250.6 177.4 268.5 178.5C286.4 179.6 306.5 180.8 322.1 182.6C337.8 184.3 351.2 186.1 362.4 189.3C373.6 192.4 381.7 196.6 389.3 201.3C396.9 206 402.2 212.1 408.1 217.4C413.9 222.8 418.8 228.6 424.2 233.6C429.5 238.5 434.9 243.2 440.3 247C445.6 250.8 452.1 254.4 456.4 256.4C460.7 258.4 460.9 257.3 466 259.1C471.2 260.9 478.6 264.9 487.5 267.1C496.5 269.4 507.7 271.4 519.7 272.5C531.8 273.6 547.5 273.5 560 273.8C572.5 274.1 584.6 273.7 594.9 274.4C605.2 275 612.8 275.7 621.7 277.9C630.7 280 640.1 283.2 648.6 287.2C657.1 291.3 664.7 296.6 672.8 302C680.8 307.4 688.9 313.9 696.9 319.5C705 325.1 712.6 330.2 721.1 335.6C729.6 340.9 739 346.5 747.9 351.7C756.9 356.8 765.4 362 774.8 366.4C784.2 370.9 793.1 374.7 804.3 378.5C815.5 382.3 828.5 386.1 841.9 389.3C855.3 392.4 869.8 395.3 884.8 397.3C899.9 399.3 921.2 400.4 932.1 401.3C942.9 402.3 947 402.6 950 402.9H962V496.4H-30V196.8Z"/><path id="c3_14" d="M-17.7 281.4C-14.7 280.8 -7.4 279.3 0 277.9C7.4 276.4 17.9 275.2 26.8 272.5C35.8 269.8 44.7 265.8 53.7 261.7C62.6 257.7 71.6 253.5 80.5 248.3C89.5 243.2 99.3 235.8 107.4 230.9C115.4 226 121.7 222.4 128.9 218.8C136 215.2 142.7 212.1 150.3 209.4C157.9 206.7 166 204.3 174.5 202.7C183 201.1 192.4 200.4 201.3 200C210.3 199.6 219.2 199.7 228.2 200C237.1 200.3 246.1 200.8 255 201.9C264 203 272.9 204.1 281.9 206.7C290.8 209.3 299.8 213 308.7 217.4C317.7 221.9 326.6 227.5 335.6 233.6C344.5 239.6 353.5 247 362.4 253.7C371.4 260.4 380.3 267.6 389.3 273.8C398.2 280.1 407.2 286.1 416.1 291.3C425.1 296.4 434.6 301.3 443 304.7C451.3 308.1 457.7 309.9 466 311.4C474.4 312.9 483.9 313.3 492.9 313.6C501.8 313.8 510.8 313.6 519.7 312.8C528.7 311.9 537.6 310.4 546.6 308.7C555.5 307.1 564.5 304.2 573.4 302.8C582.4 301.5 592.2 300.4 600.3 300.7C608.3 301 614.6 302 621.7 304.7C628.9 307.4 636.1 312.1 643.2 316.8C650.4 321.5 657.5 327.5 664.7 332.9C671.9 338.3 679 343.8 686.2 349C693.3 354.1 699.6 358.8 707.7 363.8C715.7 368.7 725.5 374.3 734.5 378.5C743.4 382.8 751.5 385.7 761.3 389.3C771.2 392.8 782.4 396.6 793.6 400C804.7 403.4 815.9 406.7 828.5 409.4C841 412.1 851.5 413.9 868.7 416.1C886 418.3 918.5 421.4 932.1 422.8C945.6 424.3 947 424.4 950 424.7H962V496.4H-30V281.4Z"/><path id="c3_15" d="M-17.8 321.8C-14.9 321.4 -9.7 320.8 0 319.5C9.7 318.2 26.8 316.8 40.3 314.1C53.7 311.4 67.1 307.6 80.5 303.4C94 299.1 107.4 294.2 120.8 288.6C134.2 283 149.9 274.5 161.1 269.8C172.3 265.1 179 263 187.9 260.4C196.9 257.9 206.7 255.6 214.8 254.5C222.8 253.4 229.1 253.2 236.2 253.7C243.4 254.2 250.1 255.3 257.7 257.7C265.3 260.2 273.4 264 281.9 268.5C290.4 272.9 299.8 278.3 308.7 284.6C317.7 290.8 326.6 298.9 335.6 306C344.5 313.2 353.5 321.5 362.4 327.5C371.4 333.6 379.9 338 389.3 342.3C398.7 346.5 409.8 349.9 418.8 353C427.7 356.2 435.1 359.3 443 361.1C450.8 362.9 457.7 362.4 466 363.8C474.4 365.1 483.9 367.8 492.9 369.1C501.8 370.5 510.8 371.6 519.7 371.8C528.7 372 537.6 371.6 546.6 370.5C555.5 369.4 564.5 366.7 573.4 365.1C582.4 363.5 592.2 361.5 600.3 361.1C608.3 360.6 613.7 360.4 621.7 362.4C629.8 364.4 638.7 369.1 648.6 373.2C658.4 377.2 668.7 381.9 680.8 386.6C692.9 391.3 707.7 396.6 721.1 401.3C734.5 406 747.9 410.5 761.3 414.8C774.8 419 788.2 423.3 801.6 426.8C815 430.4 828.5 433.6 841.9 436.2C855.3 438.9 867.1 441.4 882.1 443C897.2 444.5 920.8 445 932.1 445.6C943.4 446.2 947.1 446.4 950.1 446.6H962V496.4H-30V321.8Z"/><path id="c3_16" d="M-18 360.6C-15 360.5 -11.9 360.3 0 359.7C11.9 359.1 35.8 358.6 53.7 357C71.6 355.5 89.5 352.8 107.4 350.3C125.3 347.9 146.8 344.5 161.1 342.3C175.4 340 183.4 337.9 193.3 336.9C203.1 335.9 212.1 335 220.1 336.1C228.2 337.2 233.6 340.1 241.6 343.6C249.7 347.1 259.5 352.6 268.5 357C277.4 361.5 284.1 365.5 295.3 370.5C306.5 375.4 322.1 381.7 335.6 386.6C349 391.5 362 395.7 375.8 400C389.7 404.3 403.8 408.5 418.8 412.1C433.8 415.7 451.5 419 466 421.5C480.6 423.9 492.9 425.5 506.3 426.8C519.7 428.2 533.2 429.2 546.6 429.5C560 429.9 574.3 429 586.8 429C599.4 429 610.6 428.3 621.7 429.5C632.9 430.7 641.9 433.6 654 436.2C666 438.9 680.8 442.5 694.2 445.6C707.7 448.8 721.1 452.1 734.5 455C747.9 457.9 762.2 460.6 774.8 463.1C787.3 465.5 800.9 468.1 809.7 469.8C818.4 471.5 824.4 472.6 827.3 473.2V496.4H-30V360.6Z"/><path id="c3_17" d="M-18 404C-15 404 -16.4 404 0 404C16.4 404 58.2 403.7 80.5 404C102.9 404.3 116.3 404.6 134.2 405.9C152.1 407.2 172.3 409.7 187.9 412.1C203.6 414.5 214.8 416.8 228.2 420.1C241.6 423.5 255 428 268.5 432.2C281.9 436.5 295.3 441.4 308.7 445.6C322.1 449.9 335.6 453.8 349 457.7C362.4 461.7 379.7 466.5 389.3 469.3C398.9 472 403.7 473.4 406.6 474.2V496.4H-30V404Z"/></defs>
<use href="#c3_0" fill="#8C1B22"/>
<use href="#c3_1" fill="#BE1C24"/>
<use href="#c3_2" fill="#E8151C"/>
<use href="#c3_3" fill="#E8151C"/>
<use href="#c3_4" fill="#E8151C"/>
<use href="#c3_5" fill="#EE7219"/>
<use href="#c3_6" fill="#F5CE1F"/>
<use href="#c3_7" fill="#D2DE35"/>
<use href="#c3_8" fill="#96C623"/>
<use href="#c3_9" fill="#F5CE1F"/>
<use href="#c3_10" fill="#D2DE35"/>
<use href="#c3_11" fill="#6DB92D"/>
<use href="#c3_11" fill="url(#hf)"/>
<use href="#c3_12" fill="#6DB92D"/>
<use href="#c3_12" fill="url(#hf)"/>
<use href="#c3_13" fill="#6CC5D8"/>
<use href="#c3_13" fill="url(#hx)"/>
<use href="#c3_14" fill="#2E7AC0"/>
<use href="#c3_14" fill="url(#hb)"/>
<use href="#c3_15" fill="#244A9E"/>
<use href="#c3_16" fill="#5E3B96"/>
<use href="#c3_17" fill="#652566"/>
<g fill="none" stroke="#41474a" stroke-width="2.8" stroke-linejoin="round"><use href="#c3_1"/><use href="#c3_2"/><use href="#c3_3"/><use href="#c3_4"/><use href="#c3_5"/><use href="#c3_6"/><use href="#c3_7"/><use href="#c3_8"/><use href="#c3_9"/><use href="#c3_10"/><use href="#c3_15"/><use href="#c3_16"/><use href="#c3_17"/></g>
<g fill="none" stroke="#ee1c24" stroke-width="3.8" stroke-linejoin="round"><use href="#c3_11"/><use href="#c3_12"/><use href="#c3_13"/><use href="#c3_14"/></g>
</g>
<rect x="-0.4" y="0.2" width="932" height="466.2" fill="none" stroke="#000" stroke-width="2.9"/>
<path d="M15.9 466.4v11.6M118.8 466.4v6.2M221.7 466.4v11.6M324.6 466.4v6.2M427.5 466.4v11.6M530.4 466.4v6.2M633.3 466.4v11.6M736.2 466.4v6.2M839.1 466.4v11.6M-0.4 0.2h-11.6M-0.4 65h-6.2M-0.4 129.8h-11.6M-0.4 194.5h-6.2M-0.4 259.3h-11.6M-0.4 324.1h-6.2M-0.4 388.9h-11.6M-0.4 453.6h-6.2" stroke="#000" stroke-width="2.6" fill="none"/>
<g font-size="21" text-anchor="middle" stroke="#000" stroke-width=".3">
<text transform="translate(16.9 501) scale(.95 1)">100</text>
<text transform="translate(222.7 501) scale(.95 1)">200</text>
<text transform="translate(428.5 501) scale(.95 1)">300</text>
<text transform="translate(634.3 501) scale(.95 1)">400</text>
<text transform="translate(840.1 501) scale(.95 1)">500</text>
</g><g font-size="21" text-anchor="end" stroke="#000" stroke-width=".3">
<text transform="translate(-19.5 7.1) scale(.95 1)">0</text>
<text transform="translate(-19.5 136.7) scale(.95 1)">50</text>
<text transform="translate(-19.5 266.2) scale(.95 1)">100</text>
<text transform="translate(-19.5 395.8) scale(.95 1)">150</text>
</g>
<text x="466" y="545.4" font-size="32" text-anchor="middle">X(m)</text>
<text transform="translate(-69 233.2) rotate(-90) scale(.96 1)" font-size="31.5" text-anchor="middle">Z(m)</text>
<text x="8.3" y="-11.8" font-size="50.8">Row 15</text>
<text transform="translate(-196.3 -50.4) scale(1.045 1)" font-size="58">(c3)</text>
<path d="M417.8 1.5V464.9" stroke="#c9c9c9" stroke-width="3.2" fill="none"/>
<text transform="translate(436.8 -10.1) rotate(-90) scale(.9 1)" font-size="36">F106</text>
<path d="M456.3 1.5V464.9" stroke="#c9c9c9" stroke-width="3.2" fill="none"/>
<path d="M446.6 1.5V464.9" stroke="#000" stroke-width="2.3" stroke-dasharray="14.7 10.8" stroke-dashoffset="-2" fill="none"/>
<text transform="translate(465.2 -12.7) rotate(-90) scale(.9 1)" font-size="36">F104</text>
<path d="M627.1 1.5V464.9" stroke="#c9c9c9" stroke-width="3.2" fill="none"/>
<path d="M608.7 1.5V464.9" stroke="#000" stroke-width="2.3" stroke-dasharray="14.7 10.8" stroke-dashoffset="-2" fill="none"/>
<text transform="translate(633.6 -14) rotate(-90) scale(.9 1)" font-size="36">F102</text>
<rect x="964.5" y="-2" width="26.8" height="29.9" fill="#660E16"/>
<rect x="964.5" y="27.2" width="26.8" height="29.9" fill="#8C1B22"/>
<rect x="964.5" y="56.5" width="26.8" height="29.9" fill="#BE1C24"/>
<rect x="964.5" y="85.8" width="26.8" height="29.9" fill="#E8151C"/>
<rect x="964.5" y="115" width="26.8" height="29.9" fill="#E8151C"/>
<rect x="964.5" y="144.2" width="26.8" height="29.9" fill="#E8151C"/>
<rect x="964.5" y="173.5" width="26.8" height="29.9" fill="#EE7219"/>
<rect x="964.5" y="202.8" width="26.8" height="29.9" fill="#F5CE1F"/>
<rect x="964.5" y="232" width="26.8" height="29.9" fill="#D2DE35"/>
<rect x="964.5" y="261.2" width="26.8" height="29.9" fill="#96C623"/>
<rect x="964.5" y="290.5" width="26.8" height="29.9" fill="#6DB92D"/>
<rect x="964.5" y="319.8" width="26.8" height="29.9" fill="#6CC5D8"/>
<rect x="964.5" y="349" width="26.8" height="29.9" fill="#2E7AC0"/>
<rect x="964.5" y="378.2" width="26.8" height="29.9" fill="#244A9E"/>
<rect x="964.5" y="407.5" width="26.8" height="29.9" fill="#5E3B96"/>
<rect x="964.5" y="436.8" width="26.8" height="29.9" fill="#652566"/>
<path d="M964.5 319.8L991.3 290.5" stroke="#000" stroke-width="1.6"/>
<path d="M964.5 349L991.3 319.8M964.5 319.8L991.3 349" stroke="#000" stroke-width="1.6"/>
<path d="M964.5 349L991.3 378.2" stroke="#000" stroke-width="1.6"/>
<rect x="964.5" y="-2" width="26.8" height="468" fill="none" stroke="#000" stroke-width="3.4"/>
<path d="M991.3 -2h31M991.3 56.5h31M991.3 115h31M991.3 173.5h31M991.3 232h31M991.3 290.5h31M991.3 349h31M991.3 407.5h31M991.3 466h31" stroke="#000" stroke-width="2.6" fill="none"/>
<g font-size="21">
<text transform="translate(1030.8 5.8) scale(.97 1)">0.30</text>
<text transform="translate(1030.8 64.3) scale(.97 1)">0.40</text>
<text transform="translate(1030.8 122.8) scale(.97 1)">0.50</text>
<text transform="translate(1030.8 181.3) scale(.97 1)">0.60</text>
<text transform="translate(1030.8 239.8) scale(.97 1)">0.70</text>
<text transform="translate(1030.8 298.3) scale(.97 1)">0.80</text>
<text transform="translate(1030.8 356.8) scale(.97 1)">0.90</text>
<text transform="translate(1030.8 415.3) scale(.97 1)">1.00</text>
<text transform="translate(1030.8 473.8) scale(.97 1)">1.10</text>
</g>
<text x="967" y="518.7" font-size="25">Vs(km/s)</text>
</g>
<g transform="translate(1525.5 1458.9)">
<g clip-path="url(#pd)">
<rect x="-5" y="-5" width="942" height="476.4" fill="#3A2D5E"/>
<path d="M-12 -12h954v289l-72 6l-36 5l-18 6l-6 5l-4 7v6l4 12l6 7l12 11l24 20l47 16l43 7v89h-954zM630 185l-7 7l2 6l10 6l7 2l12 1l12 -3l9 -6l2 -6l-6 -6l-11 -5l-18 1z" fill="#711d83"/>
<path d="M-12 -12h954v286l-84 6l-36 6l-12 4l-6 4l-3 6l-1 6l1 12l3 7l9 11l18 18l4 6l5 13l5 5l19 -5l42 10l36 6v85h-954zM642 179l-12 3l-6 3l-6 7v6l6 6l18 5h18l19 -5l6 -6v-6l-5 -6l-8 -4l-12 -3z" fill="#781b8a"/>
<path d="M-12 -12h954v284l-84 5l-42 5l-12 4l-6 4l-3 4l-1 12l2 12l5 12l27 30l12 19l6 2l24 -2l36 8l36 6v81h-954zM630 179l-12 7l-5 6v6l3 6l8 5l18 4h24l18 -3l9 -6l2 -6l-2 -6l-5 -6l-11 -6l-11 -3l-12 -1z" fill="#752490"/>
<path d="M-12 -12h954v281l-90 5l-42 4l-12 3l-6 3l-3 4l-2 6l3 24l6 12l8 11l18 19l14 18l4 4l6 2l24 -1l36 8l36 5v78h-954zM624 179l-11 7l-5 6l-1 6l3 6l2 2l5 4l7 3l18 3l24 1l22 -1l8 -2l5 -4l3 -6v-6l-3 -6l-5 -6l-10 -6l-8 -3l-12 -2l-12 -1l-18 2z" fill="#6d3395"/>
<path d="M-12 -12h954v279l-96 4l-48 4l-12 2l-6 4l-2 7l2 12l5 18l5 12l14 17l29 31l7 6l6 2l24 1l42 8l30 5v74h-954zM636 174l-20 6l-8 6l-4 6l-2 6l1 6l9 8l10 4l14 3l42 3h18l6 -2l7 -4l2 -6l1 -6l-1 -6l-2 -6l-5 -6l-9 -6l-17 -6l-12 -2z" fill="#633d99"/>
<path d="M-12 -12h954v276l-162 5l-6 1l-5 6l-1 6l2 12l4 12l8 18l7 12l16 18l32 30l9 4l24 2l42 9l30 4v71h-954zM630 173l-19 7l-8 6l-4 6l-2 6l1 6l4 6l4 3l6 3l18 5l60 6l12 1l6 -1l6 -5l5 -12l-1 -12l-3 -6l-4 -6l-8 -6l-14 -6l-17 -3l-18 -1z" fill="#57439b"/>
<path d="M-12 -12h954v274l-126 3l-42 -2l-6 1l-6 5l-3 7v6l3 12l14 30l8 12l9 12l12 12l29 24l12 5l18 3l48 10l30 4v68h-954zM660 168l-30 3l-12 3l-12 6l-8 6l-4 6l-2 6v6l3 6l8 6l9 4l24 5l66 8l12 -1l6 -4l4 -12l1 -12l-4 -12l-4 -6l-7 -6l-14 -7l-18 -4z" fill="#4b469d"/>
<path d="M-12 -12h954v272l-48 1h-72l-54 -4l-12 4l-4 3l-2 6l2 12l4 12l18 36l9 12l10 12l14 12l15 12l18 11l6 2l60 14l36 5v64h-954zM636 168l-24 6l-11 6l-8 6l-4 6l-2 6v6l2 6l7 6l13 6l21 5l78 12l12 -1l6 -4l4 -12l1 -18l-4 -12l-4 -6l-6 -6l-15 -8l-18 -4l-24 -2zM780 36l-6 1l-3 5l9 2l12 -2z" fill="#3f499f"/>
<path d="M-12 -12h954v270l-54 1l-72 -2l-24 -2l-42 -6l-6 -2l-2 -1l-4 -9l-2 -33l-4 -12l-3 -6l-6 -6l-9 -6l-12 -5l-12 -3l-18 -2l-24 1l-18 2l-18 5l-17 8l-7 6l-4 6l-3 6v6l3 6l5 6l17 8l24 6l60 10l22 6l20 7l4 5l13 36l19 36l20 24l21 18l18 12l19 9l54 14l42 7v60h-954zM774 34l-6 2l-6 5l-7 1l7 1l12 3l12 1l26 -5l-5 -6l-3 -1l-12 1z" fill="#314a9f"/>
<path d="M-12 -12h954v268h-54l-72 -2l-30 -4l-24 -7l-12 -7l-5 -8l-2 -6l-3 -24l-6 -12l-5 -6l-8 -6l-13 -6l-18 -4l-18 -2l-24 1l-18 2l-18 5l-18 8l-11 8l-4 6l-3 6v6l2 6l5 6l9 6l8 3l30 8l60 12l18 6l12 7l12 14l24 46l12 19l20 23l24 18l28 15l36 12l36 8l30 4v57h-954zM750 35l-5 1l-6 6l5 2l30 5l28 -1l26 -4l4 -2l-4 -3l-24 -5h-12l-18 -1l-12 2z" fill="#244b9f"/>
<path d="M-12 -12h954v265l-54 1l-60 -3l-30 -3l-24 -7l-12 -6l-8 -7l-4 -7l-8 -29l-8 -12l-7 -6l-11 -6l-24 -6l-20 -2l-24 1l-18 2l-20 5l-16 7l-16 11l-4 6l-3 6v6l2 6l4 6l8 6l9 4l24 7l66 14l14 5l11 6l7 6l11 12l27 48l14 20l18 19l19 15l35 17l36 14l36 8l30 5v52h-954zM744 35l-5 1l-4 6l3 3l12 3l24 3h12l42 -3l6 -2l3 -4l-7 -6l-26 -4l-12 1l-18 -2l-12 3h-12z" fill="#2451a6"/>
<path d="M-12 -12h954v263l-48 1l-48 -3l-36 -3l-25 -6l-17 -8l-10 -10l-3 -6l-6 -18l-5 -12l-11 -12l-13 -7l-12 -4l-12 -3l-24 -1h-24l-18 2l-24 6l-16 7l-16 12l-5 6l-3 6v6l1 6l4 6l8 6l12 6l20 6l61 13l18 6l12 7l12 10l10 12l29 48l13 18l20 21l18 12l36 17l36 15l36 9l30 4v48h-954zM774 29l-12 3h-12l-15 4l-4 6l7 6l42 5l48 -2l9 -3l4 -6l-5 -6l-8 -2l-24 -4l-12 1zM894 42l-3 6l3 1l9 -1l-3 -6z" fill="#2458ae"/>
<path d="M-12 -12h954v261h-48l-48 -3l-36 -4l-24 -7l-12 -6l-8 -7l-8 -12l-10 -24l-9 -12l-9 -6l-10 -4l-24 -6l-24 -1l-24 1l-18 1l-24 6l-18 8l-12 7l-12 12l-3 6v6l1 6l4 6l6 6l11 6l18 6l71 17l18 7l10 6l8 7l12 14l28 45l14 20l18 19l18 13l78 35l30 8l36 6v43h-954zM768 30l-24 2l-13 4l-4 6l4 6l13 3l36 3l48 -1l6 -1l9 -4l2 -6l-5 -6l-12 -4l-24 -3l-12 1l-18 -2zM888 41l-1 1l-2 6l9 5h6l12 -3l6 -1l12 3l7 -4l-7 -5l-12 3l-6 -2l-1 -2l-11 -3h-6z" fill="#2763b4"/>
<path d="M-12 -12h954v259h-48l-42 -3l-36 -5l-24 -6l-12 -6l-12 -11l-18 -35l-6 -7l-6 -5l-18 -8l-24 -5l-30 -1l-30 2l-30 6l-18 7l-17 10l-12 12l-3 6v6l1 6l3 6l6 6l10 6l18 7l72 17l15 6l15 9l10 9l10 12l31 48l15 20l15 16l16 12l17 8l18 7l36 18l12 5l30 8l36 6v38h-954zM744 30l-17 6l-5 6l4 6l6 3l18 3l36 2l48 -2l6 -1l9 -5l1 -6l-5 -6l-11 -5l-6 -1l-24 -2l-30 -1l-12 2zM894 36l-6 2l-8 4l-1 6l9 7l6 1l18 -1l18 1l7 -2l4 -6l-3 -6l-2 -1l-6 -2h-12l-18 -3z" fill="#2a6ebb"/>
<path d="M-12 -12h954v53l-6 -3l-6 -2l-36 -2l-12 2l-12 6l-1 6l9 6l16 5h36l6 -1l6 -3v190h-48l-36 -3l-36 -5l-24 -6l-12 -6l-12 -9l-6 -8l-14 -28l-11 -12l-17 -8l-24 -5l-36 -2l-30 2l-32 7l-17 6l-21 12l-12 12l-3 6l-1 6l1 6l3 6l6 6l10 6l24 9l66 16l18 7l15 10l13 12l8 10l28 44l17 24l15 15l18 14l12 6l24 8l36 19l12 5l30 8l36 6v33h-954zM738 30l-17 6l-5 6l4 6l18 6l42 3h48l18 -3l12 -6v-6l-7 -6l-17 -6l-54 -4z" fill="#2c7fc5"/>
<path d="M-12 -12h240l12 2l8 -2h694v48l-12 -2l-30 -3l-12 1l-24 4l-30 -8l-60 -3l-30 3l-12 2l-18 6l-6 6l5 6l13 5l24 4l36 2h42l36 -4l30 6l36 1l12 -3v183h-48l-36 -3l-34 -5l-26 -8l-12 -6l-11 -10l-19 -33l-12 -12l-6 -4l-12 -4l-24 -4l-36 -1l-30 1l-24 5l-14 4l-22 9l-15 9l-12 12l-2 6l-1 6v6l3 6l3 4l10 8l8 4l24 8l60 14l18 7l12 7l12 10l9 10l9 12l19 30l17 25l14 17l16 15l18 11l30 10l30 17l12 5l30 9l42 7v28h-954z" fill="#2e92d1"/>
<path d="M-12 -12h231l6 6l15 3l18 -2l2 -1l2 -6h18l2 2l6 3l6 1l6 -3l4 -3h638v45l-12 -2l-30 -2l-36 3l-30 -6l-60 -2l-30 3l-18 3l-20 6l-7 6l4 6l17 6l12 3l18 2l78 2l30 -2l42 5l24 1l18 -2v177h-48l-30 -3l-30 -4l-30 -8l-12 -6l-12 -10l-6 -8l-16 -27l-8 -9l-6 -4l-12 -6l-24 -4l-42 -1l-30 2l-24 4l-18 5l-18 8l-19 11l-12 12l-3 6l-1 6l2 12l4 6l8 6l9 5l21 7l63 15l18 6l14 9l14 12l11 12l30 48l21 28l13 14l17 13l12 7l26 10l28 15l18 8l30 7l42 8v22h-954z" fill="#2fa3dc"/>
<path d="M-12 -12h224l4 6l6 4l18 4h18l12 3l34 -5l8 -5l4 -7h626v42l-36 -3l-42 1l-24 -3l-66 -2l-30 3l-28 4l-18 6l-7 6l3 6l15 6l23 5l18 2l36 2h72l66 5l18 -1v171l-48 -1l-30 -2l-30 -5l-30 -9l-12 -6l-11 -11l-19 -31l-10 -11l-14 -8l-24 -5l-42 -1l-36 2l-24 5l-18 5l-22 8l-20 12l-12 12l-4 12l2 12l3 6l7 6l10 6l24 8l48 10l18 5l17 7l13 9l17 15l10 12l25 42l21 30l17 19l18 14l18 10l42 20l18 7l30 7l48 8v17h-954zM906 106l-5 2v6l5 1h30l4 -1l-1 -6l-3 -1l-24 -2z" fill="#34b2e3"/>
<path d="M-12 -12h218l10 12l24 5l30 3l30 -2l12 -3l6 -3l8 -12h616v39l-102 -4l-66 -1l-36 3l-29 5l-18 6l-6 6l3 6l11 6l27 6l18 2l114 4l60 5h24v27l-36 1l-36 8l-2 1l2 6l6 1l12 1l18 4h36v116l-42 -1l-30 -2l-30 -5l-30 -9l-12 -5l-12 -9l-6 -8l-17 -29l-12 -12l-14 -6l-23 -4l-54 1l-30 2l-24 6l-24 7l-26 12l-16 12l-4 6l-3 6l-1 12l3 12l6 6l11 7l24 8l67 15l17 7l17 11l13 12l10 12l28 48l22 33l24 24l24 18l24 12l36 13l30 6l54 8v12h-954z" fill="#47bbe0"/>
<path d="M-12 -12h211l12 12l5 3l24 5l30 3l30 -2l17 -3l9 -6l10 -12h606v36l-66 -3h-102l-36 3l-38 6l-15 6l-4 6l2 6l8 6l11 4l24 4l24 3l120 5l67 8l2 6l-9 5l-24 3l-36 8l-6 2l-4 6l2 6l2 2l12 4l30 3h36v110h-42l-30 -3l-30 -5l-29 -9l-13 -6l-12 -11l-19 -31l-11 -13l-8 -5l-10 -4l-18 -2l-60 1l-30 3l-24 5l-29 9l-25 12l-16 12l-7 12l-2 12l3 12l4 6l12 8l24 8l66 14l18 7l18 11l19 18l8 12l26 48l19 30l12 14l18 18l24 19l24 11l30 8l36 7l42 4l12 2v7h-954z" fill="#5ebecd"/>
<path d="M-12 -12h204l24 18l54 8l30 -2l18 -3l8 -3l10 -6l7 -6l4 -6h595v32l-48 -1l-24 -2l-42 2h-48l-36 3l-30 4l-21 4l-13 6l-3 6l1 6l7 6l11 5l12 3l42 5l66 3l36 4h18l19 4l5 6l-9 6l-21 6l-6 4l-2 2l-2 6l2 6l8 6l6 2l36 3l36 1v105h-42l-30 -3l-30 -6l-24 -7l-18 -10l-8 -7l-9 -12l-13 -24l-6 -7l-6 -5l-12 -6l-18 -3h-30l-66 6l-24 5l-30 9l-24 11l-18 12l-6 8l-3 6l-3 12l3 12l3 6l6 6l11 6l25 8l48 8l18 5l22 9l14 10l14 14l9 12l7 12l18 42l19 30l17 21l12 13l12 11l12 8l18 9l30 8l42 7l48 2l12 3v2h-954z" fill="#6cbfab"/>
<path d="M-12 -12h196l26 17l6 3l48 8h12l30 -2l18 -4l24 -10l5 -6l3 -6h586v28l-24 1l-54 -4l-36 4l-48 1l-36 3l-30 3l-28 6l-10 6l-3 6l1 6l6 6l16 7l12 3l42 5l66 4l36 7l12 -2h8l5 6l-7 5l-12 3l-6 4l-4 6v6l2 6l6 6l8 3l12 2l30 2l36 1v101l-42 -1l-30 -3l-30 -6l-24 -8l-14 -7l-10 -9l-7 -9l-17 -30l-6 -7l-7 -5l-11 -4l-18 -2l-30 1l-66 7l-23 4l-31 9l-22 9l-20 12l-10 12l-5 12l-1 6l1 12l3 6l6 6l12 8l24 7l50 9l22 5l18 8l16 11l17 18l7 12l8 18l10 30l20 34l22 32l20 19l20 11l28 9l30 6l34 3h-898z" fill="#6cbc79"/>
<path d="M-12 -12h190l29 18l9 4l42 7l18 2l24 -2l18 -2l32 -9l9 -6l3 -6l1 -6h579v24l-30 1l-48 -4l-54 7l-30 1l-60 5l-30 5l-10 3l-8 6l-3 6l1 6l4 6l22 10l30 5l60 7l30 1l18 6l2 1l5 6v18l2 6l6 6l9 4l18 3l66 3v96h-36l-30 -2l-30 -6l-25 -8l-17 -9l-11 -9l-8 -12l-12 -24l-9 -12l-14 -7l-18 -3h-18l-84 10l-42 9l-26 9l-24 12l-14 12l-8 12l-4 12l2 12l7 12l13 10l12 4l12 3l48 8l24 5l18 7l18 11l16 18l8 12l7 18l9 36l29 54l12 18l12 12l15 10l18 7l25 7h-829z" fill="#6aba51"/>
<path d="M-12 -12h184l6 6l38 18l36 7l24 2l40 -3l30 -6l14 -4l4 -2l5 -6l1 -12h172l10 4l6 -2l1 -2h383v20l-30 1l-36 -4h-12l-54 9l-30 1l-60 6l-42 7l-4 2l-7 6l-2 6v6l3 6l11 6l17 7l18 3l60 8l18 5l24 1l10 6l3 6l3 12l3 6l6 6l12 6l23 4l66 2v92h-36l-36 -4l-30 -6l-24 -10l-12 -7l-11 -11l-7 -12l-12 -27l-6 -7l-12 -7l-18 -4l-18 1l-90 13l-42 9l-30 10l-18 8l-15 10l-11 12l-6 12l-1 6l1 12l6 12l6 6l8 5l12 5l12 4l60 9l24 6l18 8l12 10l7 7l9 12l9 18l5 18l3 24l13 30l13 36l5 12l8 10l9 8l11 6l13 6h-783z" fill="#68b830"/>
<path d="M-12 -12h180l6 8l42 18l36 7l24 2l42 -3l48 -8l10 -6l1 -6l-1 -12h150l7 6l7 4l12 4l6 1l6 -5l5 -10h373v15l-30 2l-36 -5h-12l-57 12l-81 7l-42 5l-12 4l-6 4l-3 4l-3 6v6l2 6l4 4l24 10l12 3l47 7l23 6l8 6l6 9l6 3l12 -2l6 1l6 5l13 14l11 6l12 3l18 2l72 2v88l-30 1l-36 -3l-30 -6l-24 -9l-18 -11l-11 -13l-6 -12l-7 -24l-6 -10l-6 -5l-18 -5l-24 1l-42 9l-60 9l-36 7l-30 9l-18 8l-12 7l-14 12l-9 12l-2 6l-2 12l1 6l6 12l12 12l12 6l14 4l60 8l26 6l14 6l10 6l7 6l11 12l8 12l7 18l2 12l3 24l8 24l4 18l6 42l5 12l13 12h-742z" fill="#6bb82e"/>
<path d="M-12 -12h176l4 7l6 5l36 14l36 9l30 3l30 -2l48 -6l18 -3l10 -3l4 -6l-4 -18h130l6 6l10 6l30 9l6 -3l6 -8l5 -10h367v10l-30 2l-36 -6h-12l-66 16l-72 7l-42 5l-12 2l-10 6l-4 6l-3 12v6l4 6l7 4l12 2l18 6l34 6l26 7l9 5l4 6l2 6l-1 6l-2 3l-4 3l-8 2l-30 3l-46 13l-68 11l-42 10l-30 11l-18 10l-14 12l-9 12l-5 12l1 12l6 12l4 6l11 9l12 6l12 4l66 8l24 5l10 4l11 6l9 7l10 11l10 18l7 24l2 24l7 36l-2 54l2 8l4 10h-712zM794 126l10 -3l6 1l24 6l24 3l84 2v84h-36l-36 -4l-30 -7l-24 -11l-14 -11l-5 -6l-6 -12l-3 -12v-18l1 -6z" fill="#6eb82c"/>
<path d="M-12 -12h173l7 12l42 16l36 10l30 2l51 -4l51 -6l24 -5l18 -1l-6 -3l-6 2l-6 -2l-6 -4l-6 -6l-3 -11h109l14 13l18 6l18 2l6 3h6l6 -2l5 -4l11 -18h283l-41 10l-17 8l-7 2l-32 4l-88 8l-13 4l-8 6l-4 6l-3 12l-2 12l6 6l12 3l12 2l12 4l45 9l12 6l5 6l-1 6l-7 4l-18 5l-20 9l-22 8l-15 4l-81 14l-30 9l-18 6l-18 9l-15 10l-11 12l-7 12l-2 12l3 12l3 6l10 12l13 9l12 5l12 3l66 7l24 5l12 5l12 8l6 6l10 12l6 12l5 18l6 54l-1 24l-8 36l-1 12l1 12h-690zM874 -12h68v4l-30 2zM805 138l11 -2l12 -1l114 2v79l-30 1l-36 -3l-30 -7l-21 -9l-10 -6l-11 -9l-6 -9l-3 -6l-1 -12l1 -6l3 -6z" fill="#71b82b"/>
<path d="M-12 -12h170l6 12l10 5l12 5l24 9l36 11h24l36 -2l102 -11l12 1l6 -3l6 -1l6 1h6l5 -3l-3 -6l-8 -3l-6 2l-12 -6l-6 -1l-12 2l-7 -6l-1 -6h81l3 12l-8 6l-8 2l-3 4l9 2l30 -2l18 1l18 -1l24 3l8 -3l7 -6l12 -18h252l-21 5l-12 9l-12 4l-96 11h-18l-12 3l-6 2l-8 8l-13 30v6l3 3l7 3l29 4l24 5l26 9l-2 4l-6 5l-7 9l-7 6l-11 6l-17 7l-19 5l-83 15l-42 13l-24 12l-12 8l-11 12l-6 12l-2 12l1 6l5 12l10 12l15 12l12 5l18 4l60 5l24 4l12 5l12 7l7 6l10 12l7 12l5 18l3 24l1 24l-4 24l-16 42l-4 24h-669zM873 138l69 1v75h-36l-24 -2l-24 -4l-27 -10l-15 -10l-9 -8l-4 -6l-4 -12l1 -6l4 -5l6 -5l12 -4l18 -3z" fill="#7bba29"/>
<path d="M-12 -12h167l6 12l7 5l24 10l42 15l6 7h6l12 -4l48 -2l102 -11l36 -2l6 -3h6l12 3l6 -2l12 2l6 -2l12 2l30 -4l12 3h12l6 -2l6 -3l7 -6l14 -18h222l-15 12l-22 6l-80 9h-24l-12 3l-6 3l-7 9l-7 18l-7 12l-3 12l6 5l42 5l24 5l4 3l2 6l-2 6l-4 6l-7 6l-9 6l-14 6l-24 6l-78 14l-48 13l-18 8l-12 7l-11 12l-6 12l-3 12v6l2 10l3 8l8 12l6 6l13 10l12 5l18 3l66 5l24 5l12 5l12 7l8 8l8 12l5 12l5 24l1 18l-1 18l-8 24l-21 36l-14 30h-643zM360 119l-3 1l-5 6l5 6l3 1h6l7 -1l9 -6l-1 -6l-3 -1l-12 -2zM450 102l-16 6l-7 6l2 6l15 9l18 5h12l12 -6l17 -14l2 -6l-10 -6l-9 -1l-18 -1zM837 144l15 -3l18 -1l72 1v71h-30l-36 -3l-30 -8l-18 -9l-9 -6l-9 -10l-4 -8v-6l4 -6l6 -5z" fill="#89be28"/>
<path d="M-12 -12h164l7 12l7 6l20 10l37 14l7 6l5 6l5 3l6 -1l12 -7l6 -1l42 -3l120 -13h18l12 -2l12 1h54l12 -3l12 3l15 -1l13 -6l23 -24h135v1h6v-1h66l-6 6l-6 4l-5 2l-13 3l-48 5l-22 4l-38 -1l-6 2l-9 5l-5 6l-7 18l-9 17l-6 9l-11 10l1 6l4 2l30 -1l24 2l12 3l10 6l1 6l-3 6l-6 6l-10 6l-14 6l-26 6l-108 19l-24 2l-7 -3l1 -6l4 -6l36 -30l5 -6l-1 -6l-8 -3h-66l-30 3l-36 11l-42 3l-12 4l-10 6l-3 6l5 6l12 6l8 2h12l30 -6h12l12 2l18 6l29 14l5 6l-12 42l-1 12l1 6l4 12l6 12l10 11l12 9l12 5l12 3l24 2l48 2l24 4l18 7l12 9l7 8l5 8l4 10l4 18l1 24l-4 18l-8 18l-15 21l-24 26l-28 25h-602zM854 144l22 -2l66 2v65l-30 1l-42 -5l-25 -7l-11 -6l-8 -6l-11 -12l-1 -6l1 -6l6 -6l11 -6z" fill="#98c329"/>
<path d="M-12 -12h160l8 12l6 6l24 13l27 11l10 6l11 12l6 1l6 -1l12 -6l12 -3l156 -17l30 -2h48l30 -2l12 2l18 -1l14 -7l26 -24h120l2 12l-8 6l-10 2l-12 1l-30 -2l-12 2l-4 3l-8 11l-7 19l-6 12l-5 7l-6 6l-9 5l-5 6v6l4 6l4 2l6 1l36 -1l18 3l6 4l3 3l-1 6l-5 6l-9 6l-15 6l-27 6l-43 6l-29 2l-14 -2l-2 -6l3 -6l16 -18l3 -6l1 -6l-3 -6l-4 -3l-6 -2h-6l-30 2l-48 1l-23 2l-43 10l-42 6l-36 11l-19 3l-7 6l6 6l26 4l30 8l18 1l30 -2l18 1l12 4l16 8l8 8l3 4l2 6v12l-2 30l4 18l5 12l6 9l12 13l12 7l18 4l78 3l18 2l18 6l7 4l11 10l9 14l3 12l2 12l1 12l-2 12l-7 19l-7 11l-11 13l-12 11l-18 12l-18 8l-12 3l-42 6l-12 4l-15 9l-12 12h-507zM748 -12h48l-8 6l-8 3l-18 4l-9 -1l-3 -2l-2 -4zM843 150l15 -4l18 -1l66 1v61h-30l-30 -2l-24 -5l-18 -8l-8 -6l-6 -6l-3 -6l-1 -6l2 -6l7 -6z" fill="#a8cb2a"/>
<path d="M-12 -12h157l9 12l8 8l24 15l28 13l14 13l6 3l6 1l6 -1l18 -8l8 -2l136 -17l48 -4h60l18 -1l12 1l18 -1l12 -4l37 -28h104v6l-2 6l-7 4l-12 1l-24 -4h-12l-6 1l-6 3l-6 6l-3 7l-7 24l-7 12l-7 8l-18 9l-4 7l-2 6l1 6l5 4l6 3l12 2l30 -1l15 4l4 6l-3 6l-9 6l-16 6l-39 6l-18 1l-14 -1l-7 -6l2 -6l6 -12l3 -6v-6l-4 -6l-6 -6l-10 -4h-6l-30 3l-60 1l-30 4l-30 6l-36 5l-36 8l-30 5l-6 2l-6 5l-4 7l2 6l8 6l6 1l66 10h42l12 2l12 3l12 6l9 8l5 12l1 12v24l3 17l7 19l5 9l7 9l11 9l7 3l11 3l96 2l18 4l12 5l12 9l5 7l7 18l2 12l-1 12l-3 12l-4 8l-12 16l-12 11l-12 8l-18 7l-12 2l-18 -1l-12 -2l-30 -9l-12 -1l-6 2l-12 8l-12 11l-18 22l-18 26h-456zM588 45l-3 3l3 6l4 -6zM758 -12h27l-11 5l-6 1l-6 -1zM854 150l16 -2l18 -1l54 2v55l-30 1l-24 -2l-24 -4l-18 -7l-8 -6l-6 -6l-3 -6v-6l3 -6l7 -6z" fill="#b7d22c"/>
<path d="M-12 -12h154l9 12l17 15l18 12l18 9l23 18l7 2h6l6 -1l18 -7l12 -3l150 -20l30 -3l78 -1l12 1h18l13 -4l23 -15l12 -6l12 -3l6 -1l4 1l2 6l-4 24l-2 12l-4 12l-8 10l-6 3l-6 2l-8 -3l-3 -12l-1 -2l-6 -4l-5 6l5 10l4 2l1 6l-5 11l-6 6h-6l-18 -7l-6 -1l-36 4l-60 2l-30 3l-138 22l-6 3l-8 5l-5 6l-3 6l1 6l6 6l15 6l72 9l48 3l12 3l12 6l9 9l5 12l2 36l2 12l5 18l8 18l11 14l12 8l12 3l36 -3l54 -1l24 3l12 5l12 8l6 8l4 9l2 12v11l-1 7l-5 10l-12 15l-12 10l-12 6l-18 4l-18 -1l-12 -3l-12 -6l-24 -15l-6 -1h-12l-12 4l-12 9l-18 18l-28 34l-27 36h-419zM647 -12h61l-1 6l-5 4l-6 1zM587 108l7 -3l42 1l10 2l3 6l-9 6l-16 4l-12 2l-18 1l-8 -1l-5 -6l1 -6zM874 150h32l36 1v50l-30 1l-30 -3l-24 -5l-14 -8l-6 -6l-3 -6v-6l4 -6l7 -5l6 -3z" fill="#c6d630"/>
<path d="M-12 -12h151l9 12l38 33l30 21l6 4l12 2l12 -1l18 -8l14 -3l148 -22l30 -2l72 -2l18 2l18 -1l12 -2l18 -10l12 -5l6 -1l8 1l4 3l2 3l1 12l-1 12l-4 12l-4 6l-6 4h-6l-6 -4l-6 -12l-6 -3l-4 3l-3 6l5 12l1 6l-5 8l-6 3l-6 -1l-12 -4h-6l-36 4l-66 2l-30 3l-132 19l-12 3l-12 9l-7 8l-3 6l-1 6l5 7l11 5l13 3l15 3l105 11l12 2l11 5l7 6l7 12l2 12l3 36l9 36l9 20l12 15l6 4l12 4l12 -2l30 -11l54 -3l12 1l12 2l12 6l7 6l5 8l3 10l1 6l-2 12l-2 6l-12 15l-12 8l-12 5l-18 1l-12 -2l-12 -5l-30 -18l-18 -9l-12 -3l-6 1l-6 2l-6 3l-12 11l-95 111h-385zM856 156l14 -3l24 -1l48 3v44l-24 1l-24 -2l-24 -4l-12 -4l-8 -4l-4 -3l-3 -3l-2 -6v-6l4 -6z" fill="#d5db33"/>
<path d="M-12 -12h148l8 12l21 18l15 18l12 11l19 13l11 4l6 1l12 -1l36 -12l138 -23l42 -4l72 -2l24 2l18 -1l12 -3l12 -6l12 -3h6l6 3l2 3l2 6v12l-3 12l-7 6h-7l-11 -15l-6 -2l-6 3l-2 8l4 12l-1 6l-7 6l-6 -1l-12 -3l-42 6l-90 3l-102 13l-42 4l-12 4l-6 4l-13 12l-10 12l-3 6l2 6l10 6l14 4l24 4l102 12l20 4l10 4l6 5l6 9l2 6l3 36l6 36l12 54v12l-2 12l-9 18l-18 24l-86 90h-352zM874 156l32 -1l36 3v38l-24 1l-24 -2l-20 -3l-18 -6l-7 -6l-3 -6l1 -6l5 -6l6 -3zM569 306l19 -1l12 1l12 3l6 4l6 6l5 11l-1 12l-3 6l-4 6l-9 7l-11 5l-7 2l-12 -1l-18 -5l-20 -14l-12 -12l-3 -6v-6l3 -6l8 -6z" fill="#e2e133"/>
<path d="M-12 -12h145l8 12l21 18l5 6l2 6l1 6l-2 6l-6 3l-18 2l-30 10l-39 9l-16 6l29 6l32 3l18 1l18 -2l6 -2l18 -11l6 -1l30 6h12l12 -3l24 -9l27 -6l93 -19l48 -7l24 -2l72 -2l48 2l6 -1l18 -7h6l6 3l3 3l2 6l1 6l-1 6l-3 6l-2 2l-6 1l-6 -10l-6 -6l-6 -1l-6 2l-3 6l-1 6l3 12l-5 7l-6 1l-12 -3l-36 6l-96 4l-108 10l-42 2l-19 9l-32 30l-4 6l2 6l9 6l8 3l11 3l31 5l60 6l60 10l8 3l10 6l5 6l3 6l6 60l2 60v18l-6 18l-11 18l-17 19l-48 48l-48 41h-318zM861 162l9 -2l30 -2l42 4v31l-24 1l-18 -1l-35 -7l-10 -6l-3 -6l1 -6zM578 318l16 -1l6 1l6 3l3 3l3 6v6l-4 6l-8 6l-12 1l-8 -1l-11 -6l-5 -6l-2 -6l4 -6z" fill="#eee831"/>
<path d="M-12 -12h142l8 13l13 11l11 12v6l-6 4l-24 12l-18 6l-18 4l-51 10l-16 6l6 6l38 6l89 8h24l36 -2h12l3 6l-3 6l-7 6l-11 7l-6 5l-4 6v6l2 6l7 6l19 7l24 4l84 10l48 9l19 6l8 6l3 4l3 14l3 36l1 24l-6 60l-2 12l-5 10l-6 10l-12 14l-42 40l-24 20l-59 44h-283zM425 30l25 -2l48 -2l30 -1l42 3l8 2l1 6l-2 12l1 12l-2 3l-6 2l-12 -2l-36 6l-36 2h-24l-36 1l-126 7l-18 -1l-6 1l-12 4h-6l-6 -2l-6 3l-6 6l-4 -6l4 -6l6 -2l4 -4l12 -6l20 -3l83 -21zM592 30l2 -2l12 1l5 7l1 6l-6 4l-2 -10l-4 -5zM894 162l18 1l30 3v22l-24 2l-18 -1l-19 -3l-18 -6l-5 -6l3 -6l9 -3z" fill="#f3df2a"/>
<path d="M-12 -12h138l12 17l14 13l3 6l-5 6l-8 6l-22 10l-42 11l-48 9l-7 6v6l7 4l48 9l54 5l24 5l12 4l12 7l6 6l12 20l6 6l12 6l24 6l90 10l36 6l24 7l12 5l6 3l6 8l3 9l2 24l1 18l-1 18l-9 54l-4 12l-6 12l-8 12l-12 12l-32 29l-24 18l-55 37l-15 12l-10 12h-256zM437 30l61 -3l30 -1l36 3l7 1l5 6l-1 18l-2 6l-3 1h-12l-42 6l-30 2h-24l-48 1h-60l-24 -2l-8 -2l3 -6l13 -6l52 -15l30 -7zM887 168l19 -1l30 4l6 3v7l-6 3h-6l-24 1l-12 -2l-12 -3l-8 -6z" fill="#f6cf21"/>
<path d="M-12 -12h134l25 30v6l-4 6l-11 8l-12 5l-30 8l-48 10l-19 5l-6 6v6l7 7l12 3l54 10l42 4l12 2l10 4l10 6l10 8l21 22l15 8l13 4l17 3l84 9l33 6l21 6l15 6l9 6l5 6l4 12l2 12v18l-1 18l-4 23l-6 25l-6 16l-7 14l-17 21l-24 21l-30 22l-45 26l-18 12l-20 18l-16 18h-231zM449 30l49 -3h30l36 3l6 2l3 4v18l-3 4l-6 1l-42 6l-36 2h-24l-48 1l-48 -6l-8 -2l2 -6l11 -6l17 -6l26 -7z" fill="#f5bb1f"/>
<path d="M-12 -12h130l24 30l-1 6l-4 6l-8 6l-9 4l-12 4l-30 8l-44 8l-17 6l-6 6v6l5 6l8 5l66 16l48 4l11 5l9 6l27 24l9 6l10 4l30 7l84 9l30 5l17 5l19 8l12 8l6 8l3 12l2 18l-3 30l-6 24l-7 18l-7 16l-9 14l-21 22l-24 19l-24 15l-48 25l-22 15l-20 18l-21 24h-207zM475 30l47 -2l36 2l6 2l7 4l1 6l-1 6l-1 6l-6 3l-42 7l-42 2h-60l-12 -1l-20 -5l-4 -2l-4 -4l5 -6l13 -6l22 -7l24 -3z" fill="#f4a71e"/>
<path d="M-12 -12h126l16 18l4 6l3 6l-1 6l-4 6l-9 6l-9 4l-42 11l-47 9l-16 6l-5 6l2 6l3 6l8 6l13 4l24 5l36 13l12 2h30l6 2l6 4l29 24l13 7l18 7l30 6l84 9l34 7l17 6l11 6l10 8l6 10l3 12l1 12l-2 18l-4 18l-5 18l-8 18l-9 16l-11 14l-19 18l-24 17l-24 14l-48 23l-19 12l-16 12l-31 28l-20 14h-172zM486 30l42 -1l36 4l4 3l2 6v6l-6 7l-42 7l-36 2h-54l-24 -3l-5 -1l-9 -6l1 -6l9 -6l15 -6l25 -3z" fill="#f29a1d"/>
<path d="M-12 -12h122l17 18l4 6l2 6l-1 6l-5 6l-7 4l-12 5l-36 10l-48 9l-26 8l-3 6l8 12l6 6l15 6l30 7l36 17l12 2l30 2l6 3l22 17l10 6l14 6l14 5l36 6l78 8l18 3l18 4l18 8l13 8l6 6l6 12l2 12l-1 18l-4 18l-6 18l-8 18l-8 14l-12 15l-12 12l-18 14l-18 12l-18 9l-55 26l-65 40l-55 32h-125v-178l6 1l12 -2l12 -7l5 -6l4 -6l1 -6l1 -12l-4 -18l-7 -8l-6 -3l-6 -1l-6 1l-12 4zM514 30l26 1l18 2l6 2l4 7v6l-4 4l-6 3l-36 6l-42 1l-60 -1l-7 -1l-10 -6v-6l6 -6l17 -6l72 -6z" fill="#f08c1c"/>
<path d="M-12 -12h118l4 6l16 16l4 8l-2 6l-6 6l-14 7l-36 10l-78 16l-3 3l-3 6l1 6l4 6l7 6l13 6l29 7l13 5l10 6l19 14l6 3l12 3l24 2l36 18l26 8l34 6l90 9l18 4l18 5l13 6l9 6l6 6l4 6l5 12l1 12l-3 18l-5 18l-8 18l-10 18l-9 12l-11 12l-14 12l-20 14l-18 10l-54 24l-66 32l-54 22l-22 12l-28 18h-76v-155l18 -3l12 -5l9 -5l6 -6l8 -12l3 -12l2 -12l-1 -12l-5 -30v-12l8 -29v-7l-3 -6l-3 -2h-6l-6 1l-6 3l-11 10l-3 6l-4 12l-3 6l-15 9zM438 36l30 -2l30 -3h24l36 4l6 2l3 5l-2 6l-7 5l-36 6l-42 2l-54 -2l-12 -2l-5 -3l-1 -6l6 -6l6 -3z" fill="#ee791c"/>
<path d="M-12 -12h114l6 9l12 10l4 5l2 6l-2 6l-4 4l-18 9l-36 10l-54 11l-18 2l-6 4zM464 36l34 -4h24l36 4l7 6l-2 6l-5 3l-36 6l-42 2l-54 -2l-6 -1l-5 -2l-1 -2l-2 -4l6 -6l8 -3l18 -2zM-12 96v-6l10 6l44 11l12 5l9 8l4 6l3 12l-1 6l-3 2l-18 4l-19 6l-28 18l-13 15zM80 156l4 -2l12 -2h24l45 10l34 6l107 11l31 7l14 6l10 6l12 12l3 6l2 12v12l-4 18l-13 30l-16 24l-12 12l-14 12l-16 12l-15 9l-24 11l-90 37l-24 8l-42 10l-18 6l-31 15l-55 30h-16v-134l24 -7l18 -9l12 -11l9 -13l5 -12l3 -18l-1 -18l-3 -30l1 -12l6 -18l14 -30z" fill="#ec661c"/>
<path d="M-12 -12h111l7 12l15 12l2 6l-3 6l-6 5l-18 7l-30 9l-54 11l-18 2l-6 2zM476 36l22 -3h24l27 3l9 2l4 4l-4 7l-42 8h-42l-48 -3l-6 -2l-3 -4l6 -6zM-12 102v-5l6 2l24 5l24 7l7 3l6 6l2 6l-2 6l-16 12l-51 30zM111 168l15 -2l24 1l138 13l36 6l18 6l11 6l7 6l5 6l5 12v12l-1 12l-4 12l-7 18l-15 24l-10 12l-12 12l-27 21l-18 10l-18 8l-48 19l-36 12l-30 6l-62 8l-58 18l-36 8v-68l42 -22l12 -9l12 -14l6 -10l4 -11l5 -24l1 -18l-4 -36l1 -12l2 -6l7 -12l8 -9l12 -9z" fill="#e94c1a"/>
<path d="M-12 -12h108l6 12l15 12l2 6l-4 6l-8 6l-29 10l-30 7l-36 7l-18 2l-6 2zM485 36l19 -3l18 1l18 2l19 6l-1 2l-5 4l-37 7h-54l-36 -5l-4 -2l4 -3l9 -3zM-12 108v-6l24 3l12 3l16 6l7 6l1 6l-11 12l-7 6l-24 15l-18 8zM143 174l37 -1l84 7l42 5l26 7l12 6l8 6l5 6l5 12l1 12l-2 12l-10 24l-9 17l-9 13l-15 16l-16 14l-28 18l-46 20l-42 13l-24 5l-24 3l-24 1l-24 -1l-36 -5l-12 -4l-4 -2l-1 -6l17 -24l10 -18l8 -18l5 -18l3 -30l-4 -42l3 -12l7 -12l6 -6l10 -7l18 -8z" fill="#e8311b"/>
<path d="M-12 -12h105l6 12l13 12l2 6l-4 6l-9 6l-23 8l-30 8l-36 7l-18 1l-6 2zM492 36l12 -2l12 1l11 1l24 6l-10 6l-25 6h-54l-20 -6l9 -6l29 -3zM-12 108v-2l18 1l18 4l7 3l8 6v6l-8 12l-19 14l-24 9zM146 180l34 -3l54 3l54 5l33 7l14 6l7 5l7 7l3 6l3 12l-3 18l-7 18l-9 16l-9 14l-10 12l-12 12l-15 12l-26 16l-42 18l-18 5l-18 4l-54 6h-18l-18 -3l-10 -4l-8 -6l-4 -6l-1 -6l1 -12l11 -36l4 -18l1 -24l-3 -36l1 -12l7 -12l14 -12l17 -8z" fill="#e81b1c"/>
<path d="M-12 -12h102l7 12l10 12l2 6l-3 6l-10 6l-18 7l-36 8l-54 9zM497 36l7 -1l15 1l18 6l-7 6l-14 5h-18l-18 -2l-12 1h-6l-9 -4l7 -6l20 -1zM-12 114v-5l24 1l12 4l6 4l2 2l2 6l-3 6l-4 6l-9 7l-12 7l-18 5zM146 186l28 -4l36 -1l58 5l39 6l17 6l10 6l6 6l6 12l1 6l-2 12l-4 12l-9 18l-11 18l-9 12l-11 12l-14 12l-28 18l-31 14l-30 8l-66 5l-24 -2l-6 -1l-9 -6l-4 -6l-2 -6v-12l9 -30l3 -18v-18l-3 -36l1 -12l5 -12l12 -11l12 -7z" fill="#e8191c"/>
<path d="M-12 -12h99l16 24l2 6l-4 6l-5 3l-21 9l-33 8l-54 9zM486 42l18 -6l12 1l12 5l-4 6l-8 3l-12 1l-22 -4l4 -4zM458 48l4 -4l6 -1l6 2l6 3l-12 3l-6 -1zM-12 114v-2h12h12l6 2l9 6l2 6l-2 6l-5 6l-10 8l-12 5l-12 2zM174 186l30 -2l36 2l48 6l24 6l12 6l7 6l4 6l3 12l-1 6l-3 12l-19 36l-8 12l-10 12l-21 19l-18 11l-18 9l-24 10l-18 3h-78l-12 -3l-6 -5l-2 -8l1 -12l5 -18l3 -18v-18l-4 -36l2 -18l6 -12l6 -6l10 -6l16 -6z" fill="#e8161c"/>
<path d="M-12 -12h96l16 24l1 6l-5 7l-9 5l-15 5l-30 7l-54 10zM491 42l13 -5h6l13 5l-3 6l-10 3h-6l-12 -3zM462 48l6 -3l4 3l-4 1zM-2 114l14 1l10 5l3 6l-1 6l-6 6l-12 8l-6 2l-12 1v-34zM166 192l26 -4h30l44 4l31 6l15 6l9 6l4 6l3 6v6l-2 12l-20 42l-13 18l-11 12l-12 9l-35 21l-19 8l-18 2l-24 -2l-42 -8l-6 -2l-5 -4l-1 -6l2 -36l-7 -48v-18l4 -12l5 -6l7 -6l14 -6z" fill="#e8151c"/>
<path d="M-12 -12h92l17 24l1 6l-4 6l-4 2l-24 9l-48 11l-30 5zM495 42l9 -4h6l9 4l-3 6l-6 2h-6l-8 -2zM-12 120v-2l12 -2l12 2l5 2l4 6l-1 6l-6 6l-8 5l-6 2h-12zM188 192l22 -1h18l52 7l19 6l7 4l9 8l3 6v6l-2 12l-19 42l-9 14l-12 12l-18 14l-24 14l-18 8l-18 1l-18 -3l-18 -8l-8 -4l-6 -6l-6 -12l-17 -60l-1 -12v-12l2 -6l6 -9l6 -5l18 -8l18 -5z" fill="#e8151c"/>
<path d="M-12 -12h89l3 6l10 11l5 7v6l-5 6l-24 9l-24 7l-54 10zM498 42l6 -3l6 1l6 2l-3 6l-9 1l-4 -1zM-7 120l13 -1l6 2l6 5l-2 6l-10 8l-12 2l-6 -1v-19zM179 198l19 -3l18 -1l24 2l24 3l20 5l10 5l10 7l3 6l1 6l-2 12l-6 13l-8 23l-10 17l-12 12l-17 13l-20 12l-17 8l-12 1l-12 -3l-14 -6l-8 -6l-8 -12l-15 -30l-5 -12l-6 -18l-2 -18l1 -6l3 -8l3 -4l9 -6l12 -6z" fill="#e8151c"/>
<path d="M-12 -12h86l4 8l10 10l4 6v6l-7 6l-19 8l-24 6l-54 10zM500 42l4 -1l9 1l-3 5l-6 1zM-10 126l10 -4l6 1l7 3l-2 6l-5 4l-6 2h-6l-6 -5zM201 198h27l24 3l18 4l14 5l8 6l5 6l1 6l-1 12l-10 30l-5 12l-6 8l-12 12l-18 12l-24 14l-6 2l-6 1l-7 -1l-11 -4l-10 -8l-5 -6l-23 -42l-6 -18l-2 -12l1 -12l3 -6l6 -6l8 -6l12 -6l10 -3z" fill="#e8151c"/>
<path d="M-12 -12h84l5 12l7 6l6 6l-1 6l-8 6l-21 8l-42 10l-30 5zM503 42h7l-6 2zM-1 126h4l1 6l-4 2l-4 -2zM191 204l25 -3l24 2l18 4l12 3l11 6l5 6l3 6v12l-6 24l-5 12l-5 6l-11 12l-16 12l-18 9l-12 4h-6l-7 -1l-10 -6l-7 -7l-17 -29l-9 -24l-1 -18l4 -12l5 -6l8 -6z" fill="#e8151c"/>
<path d="M-12 -12h81l4 12l13 12l-1 6l-9 6l-10 4l-18 6l-30 7l-30 5zM189 210l15 -3l12 -1l24 2l11 2l13 4l11 8l4 6l2 6v12l-5 18l-6 10l-6 8l-12 10l-12 7l-18 6l-12 -1l-6 -1l-12 -9l-9 -12l-6 -12l-4 -18l-1 -12v-12l3 -6l5 -6z" fill="#e8151c"/>
<path d="M-12 -12h78l6 15l9 9l-2 6l-8 6l-23 9l-30 6l-30 6zM194 216l16 -5h12l28 5l13 6l5 6l3 6l1 6l-2 15l-6 13l-12 12l-18 9l-12 2l-6 -1l-12 -4l-6 -5l-8 -11l-4 -12l-3 -12l1 -18l3 -6z" fill="#e8151c"/>
<path d="M-12 -12h75l5 12l7 12l-1 6l-7 6l-25 9l-54 11zM204 222l12 -3h12l13 3l12 6l5 6l2 6l1 6l-3 9l-6 9l-12 8l-12 2l-12 -2l-6 -3l-9 -11l-3 -6l-3 -12l1 -6l1 -6z" fill="#e8151c"/>
<path d="M-12 -12h72l11 24l-1 6l-7 6l-21 8l-54 10z" fill="#e8151c"/>
<path d="M-12 -12h69l11 24l-1 6l-8 6l-17 6l-54 11z" fill="#df151c"/>
<path d="M-12 -12h66l10 18l1 6l-2 6l-8 6l-13 5l-54 11z" fill="#d4141c"/>
<path d="M-12 -12h63l9 16l3 8l-3 6l-9 6l-9 3l-39 9l-15 2z" fill="#c5181f"/>
<path d="M-12 -12h59l12 18l1 6l-3 6l-15 8l-46 10l-8 1z" fill="#b71c22"/>
<path d="M-12 -12h56l12 18l2 6l-4 6l-12 6l-24 6l-30 5z" fill="#ad1f23"/>
<path d="M-12 -12h52l12 18l3 6l-5 6l-14 6l-25 6l-23 4z" fill="#a62025"/>
<path d="M-12 -12h47l13 18l2 6l-5 6l-9 3l-33 9l-15 2z" fill="#a02026"/>
<path d="M-12 -12h41l7 7l7 11l1 6l-6 6l-18 6l-26 6h-6z" fill="#9b2027"/>
<path d="M-12 -12h34l7 6l5 6l3 6l1 6l-9 6l-16 6l-19 4h-6z" fill="#931f27"/>
<path d="M-12 -12h24l6 3l10 9l3 6l-2 6l-8 6l-15 6l-18 2z" fill="#891e24"/>
<path d="M-12 -12h9l15 6l6 4l2 2l3 6l-2 6l-7 6l-8 3l-12 3l-6 -1z" fill="#801c22"/>
<path d="M-12 -6v-4l24 10l4 6l-1 6l-9 7l-12 2l-6 -1z" fill="#78191f"/>
<path d="M-12 0v-3l13 3l8 6l-1 6l-8 6h-6l-6 -2z" fill="#71151c"/>
<path d="M-9 6h6l3 2l1 4h-9z" fill="#6a1219"/>
<path d="M44.3 -5.4C44.7 -4.5 45.2 -2.9 47 0C48.8 2.9 56.2 8.3 55 12.1C53.9 15.9 49.4 19.5 40.3 22.8C31.1 26.2 8.1 30.4 0 32.2C-8.1 34 -6.7 33.6 -8.1 33.8M71.1 -5.4C71.4 -4.5 69.8 -3.1 72.5 0C75.2 3.1 87.7 8.9 87.2 13.4C86.8 17.9 79 22.8 69.8 26.8C60.6 30.9 43.8 34.7 32.2 37.6C20.6 40.5 6.7 43 0 44.3C-6.7 45.6 -6.7 45.4 -8.1 45.6M99.3 -5.4C99.8 -4.5 98.7 -3.6 102 0C105.4 3.6 118.6 11.2 119.5 16.1C120.4 21 116.1 25.1 107.4 29.5C98.7 34 80.5 39.4 67.1 43C53.7 46.5 38 49 26.8 51C15.7 53 5.8 54.2 0 55C-5.8 55.8 -6.7 55.7 -8.1 55.8M134.2 -5.4C134.7 -4.5 132.4 -4.5 136.9 0C141.4 4.5 158.4 15.7 161.1 21.5C163.8 27.3 159.7 30.2 153 34.9C146.3 39.6 132.9 45.6 120.8 49.7C108.7 53.7 93.1 56.4 80.5 59.1C68 61.7 54.1 63.8 45.6 65.8C37.1 67.8 31.3 69.1 29.5 71.1C27.7 73.2 28.6 75.8 34.9 77.9C41.2 79.9 52.8 81.4 67.1 83.2C81.4 85 102.9 87 120.8 88.6C138.7 90.2 158.8 92.4 174.5 92.6C190.2 92.8 204.9 89.9 214.8 89.9C224.6 89.9 229.8 91.3 233.6 92.6C237.4 94 238.5 95.5 237.6 98C236.7 100.4 232.4 104 228.2 107.4C223.9 110.7 215.9 114.3 212.1 118.1C208.3 121.9 205.4 126.2 205.4 130.2C205.4 134.2 206.9 138.7 212.1 142.3C217.2 145.9 224.6 149 236.2 151.7C247.9 154.4 265.3 156.4 281.9 158.4C298.4 160.4 319.9 161.7 335.6 163.8C351.2 165.8 364.7 168.2 375.8 170.5C387 172.7 395.5 174.3 402.7 177.2C409.8 180.1 415.2 181.7 418.8 187.9C422.4 194.2 422.8 203.6 424.2 214.8C425.5 226 426.8 241.6 426.8 255C426.8 268.5 425.5 281.9 424.2 295.3C422.8 308.7 422.4 324.4 418.8 335.6C415.2 346.8 409.8 353.5 402.7 362.4C395.5 371.4 385.7 379.9 375.8 389.3C366 398.7 354.8 409.4 343.6 418.8C332.4 428.2 319.5 437.6 308.7 445.6C298 453.7 285.9 462 279.2 467.1C272.5 472.3 270.2 474.9 268.5 476.5M-8.1 103.4C-6.7 103.5 -4.9 103.5 0 104.2C4.9 104.8 14.8 105.7 21.5 107.4C28.2 109 35.8 111.6 40.3 114.1C44.7 116.6 48.3 118.8 48.3 122.1C48.3 125.5 44.7 129.8 40.3 134.2C35.8 138.7 28.2 144.5 21.5 149C14.8 153.5 4.9 158.5 0 161.1C-4.9 163.6 -6.7 163.8 -8.1 164.3M161.1 -5.4C161.5 -4.5 159.3 -2.7 163.8 0C168.2 2.7 178.5 7.2 187.9 10.7C197.3 14.3 208.9 18.3 220.1 21.5C231.3 24.6 243.4 28.2 255 29.5C266.7 30.9 276.5 30.2 289.9 29.5C303.4 28.9 321.3 26.8 335.6 25.5C349.9 24.2 362 22.7 375.8 21.5C389.7 20.3 403.8 19.1 418.8 18.3C433.8 17.4 449.2 17 466 16.6C482.9 16.3 503.8 16.4 519.7 16.1C535.6 15.8 561.3 15.4 561.3 14.8C561.3 14.1 535.6 13 519.7 12.1C503.8 11.2 481.1 10.5 466 9.4C451 8.3 440.1 6.9 429.5 5.4C419 3.8 408.5 1.8 402.7 0C396.9 -1.8 396 -4.5 394.6 -5.4M212.1 -5.4C212.5 -4.5 209.8 -1.8 214.8 0C219.7 1.8 232.7 3.9 241.6 5.4C250.6 6.8 259.5 8.4 268.5 8.6C277.4 8.8 287.2 7.9 295.3 6.7C303.4 5.5 312.5 3.4 316.8 1.3C321 -0.7 320.1 -4.3 320.8 -5.4M466 26.8C451 27.5 442.3 28 429.5 29.5C416.7 31.1 402.7 33.6 389.3 36.2C375.8 38.9 364.7 41.8 349 45.6C333.3 49.4 311 55.3 295.3 59.1C279.6 62.9 263.8 65.8 255 68.5C246.3 71.1 243.4 73.2 243 75.2C242.5 77.2 243.6 79.9 252.3 80.5C261.1 81.2 279.2 79.9 295.3 79.2C311.4 78.5 331.1 77.5 349 76.5C366.9 75.5 383.2 74 402.7 73C422.2 72 451 70.8 466 70.3C481.1 69.9 481.7 70.9 492.9 70.3C504.1 69.8 518.8 69.2 533.2 67.1C547.5 65 566.7 61.1 578.8 57.7C590.9 54.4 600 50.1 605.6 47C611.2 43.8 612.8 41.2 612.3 38.9C611.9 36.7 609.4 35.3 603 33.6C596.5 31.8 587.3 29.5 573.4 28.2C559.6 26.8 537.6 25.7 519.7 25.5C501.8 25.3 481.1 26.2 466 26.8ZM466 38.9C455.5 40 449.5 39.6 443 40.3C436.4 40.9 430.4 42 426.8 43C423.3 43.9 421 44.8 421.5 46.2C421.9 47.5 424.6 49.8 429.5 51C434.5 52.3 444.9 53 451 53.7C457.1 54.4 456.8 54.8 466 55C475.3 55.3 492.9 55.9 506.3 55C519.7 54.1 537.6 51.9 546.6 49.7C555.5 47.4 560.9 43.8 560 41.6C559.1 39.4 550.2 37.6 541.2 36.2C532.3 34.9 518.8 33.1 506.3 33.6C493.8 34 476.6 37.8 466 38.9ZM36.2 374.5C37.6 370.7 43.6 364.4 48.3 357C53 349.7 59.7 340 64.4 330.2C69.1 320.4 73.8 309.2 76.5 298C79.2 286.8 80.3 273.4 80.5 263.1C80.8 252.8 78.5 243.8 77.9 236.2C77.2 228.6 75.6 223.3 76.5 217.4C77.4 211.6 79 206.7 83.2 201.3C87.5 196 94.4 189.5 102 185.2C109.6 181 118.1 177.9 128.9 175.8C139.6 173.8 152.1 173.2 166.4 173.2C180.8 173.2 198.7 174.7 214.8 175.8C230.9 177 247.4 178.3 263.1 179.9C278.7 181.4 295.7 182.6 308.7 185.2C321.7 187.9 332.4 191.1 340.9 196C349.4 200.9 356.2 208.1 359.7 214.8C363.3 221.5 363.3 228.2 362.4 236.2C361.5 244.3 358.4 253.7 354.4 263.1C350.3 272.5 345 283.2 338.3 292.6C331.5 302 323.5 311 314.1 319.5C304.7 328 294 336.5 281.9 343.6C269.8 350.8 255.9 356.6 241.6 362.4C227.3 368.2 211.6 374.3 196 378.5C180.3 382.8 163.3 386.1 147.7 387.9C132 389.7 116.3 389.7 102 389.3C87.7 388.8 72 386.8 61.7 385.2C51.5 383.7 44.5 381.7 40.3 379.9C36 378.1 34.9 378.3 36.2 374.5ZM171.8 236.2C172.3 230.4 172.7 224.6 175.8 220.1C179 215.7 184.1 211.9 190.6 209.4C197.1 206.9 206.3 205.6 214.8 205.4C223.3 205.1 233.1 206.5 241.6 208.1C250.1 209.6 259.5 211.4 265.8 214.8C272 218.1 276.7 222.8 279.2 228.2C281.7 233.6 281.4 240.3 280.5 247C279.6 253.7 277.6 261.7 273.8 268.5C270 275.2 264 281.9 257.7 287.2C251.5 292.6 243.4 297.8 236.2 300.7C229.1 303.6 221.9 305.6 214.8 304.7C207.6 303.8 199.1 300 193.3 295.3C187.5 290.6 183.2 283.2 179.9 276.5C176.5 269.8 174.5 261.7 173.2 255C171.8 248.3 171.4 242.1 171.8 236.2ZM812.3 -5.4C811.5 -4.5 811 -2 807 0C803 2 800.3 4.5 788.2 6.7C776.1 8.9 750.2 11.6 734.5 13.4C718.8 15.2 705.9 16.3 694.2 17.4C682.6 18.6 671.4 18.6 664.7 20.1C658 21.7 657.1 22.6 654 26.8C650.8 31.1 648.6 39.8 645.9 45.6C643.2 51.5 638.3 57.7 637.9 61.7C637.4 65.8 638.3 67.6 643.2 69.8C648.1 72 657.5 73.4 667.4 75.2C677.2 77 692.7 78.5 702.3 80.5C711.9 82.6 722 84.6 725.1 87.2C728.2 89.9 724 92.4 721.1 96.6C718.2 100.9 714.4 107.8 707.7 112.8C700.9 117.7 690.6 122.6 680.8 126.2C671 129.8 659.3 132 648.6 134.2C637.9 136.5 627.6 137.6 616.4 139.6C605.2 141.6 593.1 143.6 581.5 146.3C569.8 149 557.8 151.9 546.6 155.7C535.4 159.5 523.8 163.8 514.4 169.1C505 174.5 496 181.2 490.2 187.9C484.4 194.6 480.8 202.7 479.5 209.4C478.1 216.1 479.5 221.9 482.1 228.2C484.8 234.5 490.2 241.6 495.6 247C500.9 252.3 506.8 257 514.4 260.4C522 263.8 531.4 265.5 541.2 267.1C551.1 268.7 562.7 268.9 573.4 269.8C584.2 270.7 595.8 270.9 605.6 272.5C615.5 274 624.4 275.8 632.5 279.2C640.5 282.6 647.7 286.8 654 292.6C660.2 298.4 666 305.6 670.1 314.1C674.1 322.6 676.3 333.3 678.1 343.6C679.9 353.9 680.8 366 680.8 375.8C680.8 385.7 679.9 394.2 678.1 402.7C676.3 411.2 672.8 419.7 670.1 426.8C667.4 434 664 438.9 662 445.6C660 452.3 658.9 462 658 467.1C657.1 472.3 656.9 474.9 656.6 476.5M941.2 26.8C939.7 26.8 944.2 26.8 932.1 26.3C920 25.9 892.7 24.7 868.7 24.2C844.7 23.6 810.6 22.6 788.2 22.8C765.8 23 749.3 23.9 734.5 25.5C719.7 27.1 707.9 29.5 699.6 32.2C691.3 34.9 685.7 38.3 684.8 41.6C683.9 45 688.2 49.4 694.2 52.3C700.3 55.3 709.9 57.3 721.1 59.1C732.3 60.9 745.7 62.2 761.3 63.1C777 64 797.1 63.8 815 64.4C832.9 65.1 853.1 66.3 868.7 67.1C884.4 67.9 898.4 68.7 909 69.3C919.6 69.8 926.7 70.1 932.1 70.3C937.4 70.6 939.7 70.8 941.2 70.9M738.5 40.3C739 38.5 744.6 35.8 750.6 34.4C756.6 32.9 765.8 31.9 774.8 31.7C783.7 31.4 795.8 31.9 804.3 32.8C812.8 33.6 821.1 35.7 825.8 37C830.5 38.4 833.4 39.4 832.5 40.8C831.6 42.2 826.9 44.3 820.4 45.6C813.9 47 802.5 48.5 793.6 48.9C784.6 49.2 774.3 48.4 766.7 47.8C759.1 47.2 752.6 46.4 747.9 45.1C743.2 43.8 738.1 42.1 738.5 40.3ZM941.2 98C939.7 98 938.8 97.8 932.1 98.3C925.4 98.7 910.2 99.6 900.9 100.7C891.7 101.7 882.6 103.1 876.8 104.7C871 106.3 866 108.2 866 110.1C866 111.9 871 114.4 876.8 116C882.6 117.5 891.7 118.7 900.9 119.5C910.2 120.3 925.4 120.6 932.1 120.8C938.8 121 939.7 120.8 941.2 120.8M941.2 235.7C939.7 235.7 940.6 235.8 932.1 235.7C923.6 235.6 904.3 235.9 890.2 234.9C876.1 233.9 860.2 232 847.2 229.5C834.3 227.1 822.2 223.9 812.3 220.1C802.5 216.3 794.5 212.1 788.2 206.7C781.9 201.3 778.8 194.2 774.8 187.9C770.7 181.7 768.5 174.7 764 169.1C759.6 163.5 755.1 158 747.9 154.4C740.8 150.7 732.3 148.5 721.1 147.1C709.9 145.8 695.6 146 680.8 146.3C666 146.6 647.2 147 632.5 149C617.7 151 604.3 154.6 592.2 158.4C580.1 162.2 568.9 166.9 560 171.8C551.1 176.7 543.2 181.9 538.5 187.9C533.8 194 532.3 202.2 531.8 208.1C531.4 213.9 532 218.1 535.8 222.8C539.6 227.5 546.1 232.4 554.6 236.2C563.1 240 574.8 242.7 586.8 245.6C598.9 248.5 615 250.6 627.1 253.7C639.2 256.8 649.9 259.7 659.3 264.4C668.7 269.1 676.3 275.4 683.5 281.9C690.6 288.4 696.9 295.7 702.3 303.4C707.7 311 710.8 319 715.7 327.5C720.6 336 726 345.4 731.8 354.4C737.6 363.3 743.4 372.7 750.6 381.2C757.8 389.7 765.8 397.8 774.8 405.4C783.7 413 793.1 420.6 804.3 426.8C815.5 433.1 828.5 438.5 841.9 443C855.3 447.4 869.8 450.8 884.8 453.7C899.9 456.6 922.7 459.1 932.1 460.4C941.5 461.7 939.7 461.5 941.2 461.7M941.2 255.6C939.7 255.6 939.7 255.4 932.1 255.6C924.5 255.7 910.6 256.5 895.6 256.4C880.5 256.3 857.5 255.7 841.9 255C826.2 254.4 813.7 253.9 801.6 252.3C789.5 250.8 777.9 248.3 769.4 245.6C760.9 243 755.1 240.5 750.6 236.2C746.1 232 744.3 226.4 742.6 220.1C740.8 213.9 742.1 205.4 739.9 198.7C737.6 191.9 734.5 185 729.1 179.9C723.8 174.7 716.6 170.7 707.7 167.8C698.7 164.9 687.1 163.1 675.4 162.4C663.8 161.7 649.5 162.2 637.9 163.8C626.2 165.3 614.6 168.2 605.6 171.8C596.7 175.4 589.1 180.3 584.2 185.2C579.2 190.2 576.6 196.4 576.1 201.3C575.7 206.3 577.4 210.7 581.5 214.8C585.5 218.8 591.8 222.4 600.3 225.5C608.8 228.6 620.9 231.1 632.5 233.6C644.1 236 658.4 237.8 670.1 240.3C681.7 242.7 693.3 244.7 702.3 248.3C711.2 251.9 717.9 256.2 723.8 261.7C729.6 267.3 733.2 274.9 737.2 281.9C741.2 288.8 743.9 295.7 747.9 303.4C751.9 311 756 319.5 761.3 327.5C766.7 335.6 773 344.1 780.1 351.7C787.3 359.3 795.3 366.9 804.3 373.2C813.2 379.4 823.1 384.3 833.8 389.3C844.6 394.2 856.6 398.9 868.7 402.7C880.8 406.5 895.7 409.8 906.3 412.1C916.9 414.3 926.3 415.3 932.1 416.1C937.9 417 939.7 417 941.2 417.2M623.1 193.3C622.6 190.4 625.5 187.2 629.8 185.2C634 183.2 642.3 181.4 648.6 181.2C654.9 181 662.7 182.1 667.4 183.9C672.1 185.7 676.3 189 676.8 191.9C677.2 194.9 674.3 199 670.1 201.3C665.8 203.7 657.5 206 651.3 206.2C645 206.4 637.2 204.8 632.5 202.7C627.8 200.5 623.5 196.2 623.1 193.3ZM941.2 277C939.7 277.2 939.7 277.3 932.1 277.9C924.5 278.4 908.4 279.4 895.6 280.5C882.8 281.7 867.4 282.8 855.3 284.6C843.2 286.4 830.9 288.6 823.1 291.3C815.3 294 811.2 296.9 808.3 300.7C805.4 304.5 804.5 309.2 805.6 314.1C806.8 319 809.9 324.4 815 330.2C820.2 336 828.5 343.2 836.5 349C844.6 354.8 853.5 360.4 863.4 365.1C873.2 369.8 884.1 374 895.6 377.2C907 380.3 924.5 382.6 932.1 383.9C939.7 385.2 939.7 385 941.2 385.2M941.2 139.1C939.7 139.1 939.7 139.2 932.1 139.1C924.5 138.9 908.4 138.4 895.6 138.3C882.8 138.1 867.4 137.6 855.3 138.3C843.2 138.9 831.6 140.3 823.1 142.3C814.6 144.3 808.3 147.2 804.3 150.3C800.3 153.5 798.9 156.6 798.9 161.1C798.9 165.5 800.3 171.8 804.3 177.2C808.3 182.6 815.5 188.6 823.1 193.3C830.7 198 840.1 202.2 849.9 205.4C859.8 208.5 871 210.5 882.1 212.1C893.3 213.6 908.7 214.4 917 214.8C925.4 215.1 928.1 214.4 932.1 214.2C936.1 214.1 939.7 214 941.2 214M941.2 165.9C939.7 165.8 937.4 165.7 932.1 165.1C926.7 164.5 917.3 162.7 909 162.4C900.7 162.1 890.2 162.3 882.1 163.2C874.1 164.1 864.7 165.9 860.7 167.8C856.6 169.7 856.6 172 858 174.5C859.3 177 863.4 180.3 868.7 182.6C874.1 184.8 882.1 186.7 890.2 187.9C898.3 189.2 910.1 189.8 917 190.1C924 190.3 928.1 189.4 932.1 189.3C936.1 189.1 939.7 189 941.2 189" fill="none" stroke="#41474a" stroke-width="2.8" stroke-linejoin="round" stroke-linecap="round"/>
</g>
<rect x="-1" y="0.2" width="932" height="466.2" fill="none" stroke="#000" stroke-width="2.9"/>
<path d="M15.9 466.4v11.6M118.8 466.4v6.2M221.7 466.4v11.6M324.6 466.4v6.2M427.5 466.4v11.6M530.4 466.4v6.2M633.3 466.4v11.6M736.2 466.4v6.2M839.1 466.4v11.6M-1 0.2h-11.6M-1 65h-6.2M-1 129.8h-11.6M-1 194.5h-6.2M-1 259.3h-11.6M-1 324.1h-6.2M-1 388.9h-11.6M-1 453.6h-6.2" stroke="#000" stroke-width="2.6" fill="none"/>
<g font-size="21" text-anchor="middle" stroke="#000" stroke-width=".3">
<text transform="translate(16.9 501) scale(.95 1)">100</text>
<text transform="translate(222.7 501) scale(.95 1)">200</text>
<text transform="translate(428.5 501) scale(.95 1)">300</text>
<text transform="translate(634.3 501) scale(.95 1)">400</text>
<text transform="translate(840.1 501) scale(.95 1)">500</text>
</g><g font-size="21" text-anchor="end" stroke="#000" stroke-width=".3">
<text transform="translate(-19.5 7.1) scale(.95 1)">0</text>
<text transform="translate(-19.5 136.7) scale(.95 1)">50</text>
<text transform="translate(-19.5 266.2) scale(.95 1)">100</text>
<text transform="translate(-19.5 395.8) scale(.95 1)">150</text>
</g>
<text x="466" y="545.4" font-size="32" text-anchor="middle">X(m)</text>
<text transform="translate(-69 233.2) rotate(-90) scale(.96 1)" font-size="31.5" text-anchor="middle">Z(m)</text>
<text x="1.4" y="-10.2" font-size="50.8">Row 15</text>
<text transform="translate(-192 -50.4) scale(1.045 1)" font-size="58">(d3)</text>
<path d="M417.5 1.5V464.9" stroke="#c9c9c9" stroke-width="3.2" fill="none"/>
<text transform="translate(433.5 -11.1) rotate(-90) scale(.9 1)" font-size="36">F106</text>
<path d="M456 1.5V464.9" stroke="#c9c9c9" stroke-width="3.2" fill="none"/>
<path d="M446.2 1.5V464.9" stroke="#000" stroke-width="2.3" stroke-dasharray="14.7 10.8" stroke-dashoffset="-2" fill="none"/>
<text transform="translate(468.8 -11.5) rotate(-90) scale(.9 1)" font-size="36">F104</text>
<path d="M626.8 1.5V464.9" stroke="#c9c9c9" stroke-width="3.2" fill="none"/>
<path d="M607.8 1.5V464.9" stroke="#000" stroke-width="2.3" stroke-dasharray="14.7 10.8" stroke-dashoffset="-2" fill="none"/>
<text transform="translate(630.3 -10.5) rotate(-90) scale(.9 1)" font-size="36">F102</text>
<rect x="963.6" y="-2" width="27.2" height="7.9" fill="#721d84"/>
<rect x="963.6" y="5.3" width="27.2" height="7.9" fill="#791a8b"/>
<rect x="963.6" y="12.6" width="27.2" height="7.9" fill="#722992"/>
<rect x="963.6" y="19.9" width="27.2" height="7.9" fill="#6a3a98"/>
<rect x="963.6" y="27.2" width="27.2" height="7.9" fill="#5d409a"/>
<rect x="963.6" y="34.6" width="27.2" height="7.9" fill="#4f459d"/>
<rect x="963.6" y="41.9" width="27.2" height="7.9" fill="#41489f"/>
<rect x="963.6" y="49.2" width="27.2" height="7.9" fill="#324a9f"/>
<rect x="963.6" y="56.5" width="27.2" height="7.9" fill="#244ba0"/>
<rect x="963.6" y="63.8" width="27.2" height="7.9" fill="#2453a8"/>
<rect x="963.6" y="71.1" width="27.2" height="7.9" fill="#255bb0"/>
<rect x="963.6" y="78.4" width="27.2" height="7.9" fill="#2868b7"/>
<rect x="963.6" y="85.8" width="27.2" height="7.9" fill="#2b77c0"/>
<rect x="963.6" y="93.1" width="27.2" height="7.9" fill="#2d8ccd"/>
<rect x="963.6" y="100.4" width="27.2" height="7.9" fill="#2fa0da"/>
<rect x="963.6" y="107.7" width="27.2" height="7.9" fill="#33b2e3"/>
<rect x="963.6" y="115" width="27.2" height="7.9" fill="#48bbe0"/>
<rect x="963.6" y="122.3" width="27.2" height="7.9" fill="#63bfc9"/>
<rect x="963.6" y="129.6" width="27.2" height="7.9" fill="#6cbe9c"/>
<rect x="963.6" y="136.9" width="27.2" height="7.9" fill="#6bbb68"/>
<rect x="963.6" y="144.2" width="27.2" height="7.9" fill="#69b93b"/>
<rect x="963.6" y="151.6" width="27.2" height="7.9" fill="#6ab82f"/>
<rect x="963.6" y="158.9" width="27.2" height="7.9" fill="#6eb82d"/>
<rect x="963.6" y="166.2" width="27.2" height="7.9" fill="#71b82b"/>
<rect x="963.6" y="173.5" width="27.2" height="7.9" fill="#7bbb29"/>
<rect x="963.6" y="180.8" width="27.2" height="7.9" fill="#8bbf28"/>
<rect x="963.6" y="188.1" width="27.2" height="7.9" fill="#9dc629"/>
<rect x="963.6" y="195.4" width="27.2" height="7.9" fill="#aece2b"/>
<rect x="963.6" y="202.8" width="27.2" height="7.9" fill="#c0d42e"/>
<rect x="963.6" y="210.1" width="27.2" height="7.9" fill="#d0da32"/>
<rect x="963.6" y="217.4" width="27.2" height="7.9" fill="#dfe033"/>
<rect x="963.6" y="224.7" width="27.2" height="7.9" fill="#ede731"/>
<rect x="963.6" y="232" width="27.2" height="7.9" fill="#f4de2a"/>
<rect x="963.6" y="239.3" width="27.2" height="7.9" fill="#f6cb20"/>
<rect x="963.6" y="246.6" width="27.2" height="7.9" fill="#f5b51f"/>
<rect x="963.6" y="253.9" width="27.2" height="7.9" fill="#f3a11e"/>
<rect x="963.6" y="261.2" width="27.2" height="7.9" fill="#f1921d"/>
<rect x="963.6" y="268.6" width="27.2" height="7.9" fill="#ef7f1c"/>
<rect x="963.6" y="275.9" width="27.2" height="7.9" fill="#ec6a1c"/>
<rect x="963.6" y="283.2" width="27.2" height="7.9" fill="#e94e1b"/>
<rect x="963.6" y="290.5" width="27.2" height="7.9" fill="#e82f1b"/>
<rect x="963.6" y="297.8" width="27.2" height="7.9" fill="#e81b1c"/>
<rect x="963.6" y="305.1" width="27.2" height="7.9" fill="#e8181c"/>
<rect x="963.6" y="312.4" width="27.2" height="7.9" fill="#e8151c"/>
<rect x="963.6" y="319.8" width="27.2" height="7.9" fill="#e8151c"/>
<rect x="963.6" y="327.1" width="27.2" height="7.9" fill="#e8151c"/>
<rect x="963.6" y="334.4" width="27.2" height="7.9" fill="#e8151c"/>
<rect x="963.6" y="341.7" width="27.2" height="7.9" fill="#e8151c"/>
<rect x="963.6" y="349" width="27.2" height="7.9" fill="#e8151c"/>
<rect x="963.6" y="356.3" width="27.2" height="7.9" fill="#e8151c"/>
<rect x="963.6" y="363.6" width="27.2" height="7.9" fill="#e8151c"/>
<rect x="963.6" y="370.9" width="27.2" height="7.9" fill="#e5151c"/>
<rect x="963.6" y="378.2" width="27.2" height="7.9" fill="#d9141c"/>
<rect x="963.6" y="385.6" width="27.2" height="7.9" fill="#ca171e"/>
<rect x="963.6" y="392.9" width="27.2" height="7.9" fill="#b81c22"/>
<rect x="963.6" y="400.2" width="27.2" height="7.9" fill="#ae1f23"/>
<rect x="963.6" y="407.5" width="27.2" height="7.9" fill="#a52025"/>
<rect x="963.6" y="414.8" width="27.2" height="7.9" fill="#9f2026"/>
<rect x="963.6" y="422.1" width="27.2" height="7.9" fill="#992028"/>
<rect x="963.6" y="429.4" width="27.2" height="7.9" fill="#8f1e26"/>
<rect x="963.6" y="436.8" width="27.2" height="7.9" fill="#841d23"/>
<rect x="963.6" y="444.1" width="27.2" height="7.9" fill="#7b1a20"/>
<rect x="963.6" y="451.4" width="27.2" height="7.9" fill="#72161d"/>
<rect x="963.6" y="458.7" width="27.2" height="7.9" fill="#6a121a"/>
<rect x="963.6" y="-2" width="27.2" height="468" fill="none" stroke="#000" stroke-width="3.4"/>
<path d="M990.8 -2h31M990.8 56.5h31M990.8 115h31M990.8 173.5h31M990.8 232h31M990.8 290.5h31M990.8 349h31M990.8 407.5h31M990.8 466h31" stroke="#000" stroke-width="2.6" fill="none"/>
<g font-size="21">
<text transform="translate(1030.3 5.8) scale(.97 1)">-15%</text>
<text transform="translate(1030.3 64.3) scale(.97 1)">-11%</text>
<text transform="translate(1030.3 122.8) scale(.97 1)">-6%</text>
<text transform="translate(1030.3 181.3) scale(.97 1)">-2%</text>
<text transform="translate(1030.3 239.8) scale(.97 1)">2%</text>
<text transform="translate(1030.3 298.3) scale(.97 1)">7%</text>
<text transform="translate(1030.3 356.8) scale(.97 1)">11%</text>
<text transform="translate(1030.3 415.3) scale(.97 1)">16%</text>
<text transform="translate(1030.3 473.8) scale(.97 1)">20%</text>
</g>
<text x="952.5" y="520" font-size="25">dVs/Vs (%)</text>
</g>
<g transform="translate(229 2138.3)">
<g clip-path="url(#pc)">
<defs><path id="c4_0" d="M-18 -10.7C-15 -10.7 -158.3 -10.7 0 -10.7C158.3 -10.7 773.7 -10.7 932.1 -10.7C1090.4 -10.7 947.1 -10.7 950.1 -10.7H962V496.4H-30V-10.7Z"/><path id="c4_1" d="M62.7 -6.2C65.6 -5.8 70.8 -5.2 80.5 -4C90.2 -2.9 105.1 -0.5 120.8 0.8C136.5 2.1 156.6 2.8 174.5 4C192.4 5.2 212.5 7.2 228.2 8.1C243.8 8.9 248.3 9.1 268.5 9.4C288.6 9.7 323.9 9.7 349 9.9C374 10.2 399.3 10.4 418.8 10.7C438.3 11.1 447 12.1 466 12.1C485.1 12.1 515.3 11.6 533.2 10.7C551.1 9.8 560 7.8 573.4 6.7C586.8 5.6 591.3 4.5 613.7 4C636.1 3.6 654.6 3.7 707.7 4C760.7 4.3 891.7 5.6 932.1 5.9C972.5 6.2 947.1 6 950.1 6.1H962V496.4H-30V-6.2Z"/><path id="c4_2" d="M-20.6 -5.2C-17.6 -4.8 -10.6 -4.1 -2.7 -3.2C5.2 -2.4 13 -1.1 26.8 0C40.7 1.1 62.6 1.9 80.5 3.2C98.4 4.6 116.3 6.4 134.2 8.1C152.1 9.8 172.3 11.9 187.9 13.4C203.6 15 214.8 16.5 228.2 17.4C241.6 18.4 248.3 18.7 268.5 19.3C288.6 20 323.9 20.9 349 21.5C374 22.1 399.3 22.4 418.8 22.8C438.3 23.3 449.2 23.5 466 24.2C482.9 24.8 501.8 26 519.7 26.8C537.6 27.7 555.5 28.4 573.4 29.5C591.3 30.6 609.2 32.4 627.1 33.6C645 34.7 662.9 35.6 680.8 36.2C698.7 36.9 712.1 37.4 734.5 37.6C756.9 37.8 792.7 38 815 37.6C837.4 37.1 849.2 35.9 868.7 34.9C888.2 33.9 918.5 32.4 932.1 31.7C945.6 31 947.1 30.9 950.1 30.8H962V496.4H-30V-5.2Z"/><path id="c4_3" d="M-18 2.5C-15 2.6 -9.7 2.8 0 3.2C9.7 3.6 26.8 4.1 40.3 4.8C53.7 5.5 68.5 6.3 80.5 7.5C92.6 8.7 102.9 10 112.8 12.1C122.6 14.2 130.6 17.7 139.6 20.1C148.5 22.6 156.2 24.8 166.4 26.8C176.7 28.9 188.8 30.9 201.3 32.2C213.9 33.6 228.2 34.5 241.6 34.9C255 35.3 268.5 34.7 281.9 34.4C295.3 34 306.5 33.2 322.1 32.8C337.8 32.3 359.7 31.9 375.8 31.7C391.9 31.4 403.8 31.3 418.8 31.1C433.8 31 449.2 30.5 466 30.9C482.9 31.3 501.8 32.4 519.7 33.6C537.6 34.7 555.5 36 573.4 37.6C591.3 39.1 609.2 41.3 627.1 43C645 44.7 662.9 46.4 680.8 47.8C698.7 49.1 712.1 50 734.5 51C756.9 52 782.1 53.2 815 53.7C848 54.1 909.6 53.7 932.1 53.7C954.6 53.7 947.1 53.7 950.1 53.7H962V496.4H-30V2.5Z"/><path id="c4_4" d="M-18 11.7C-15 11.9 -7.5 12.2 0 12.6C7.5 13 18.8 13 26.8 14C34.9 14.9 42.5 16.6 48.3 18.3C54.1 20 57.3 22.1 61.7 24.2C66.2 26.3 68.5 28.6 75.2 30.9C81.9 33.1 92.2 35.7 102 37.6C111.9 39.5 119.9 41.1 134.2 42.4C148.5 43.8 170 45 187.9 45.6C205.8 46.3 223.7 46.3 241.6 46.2C259.5 46.1 277.4 45.7 295.3 45.1C313.2 44.5 333.3 43.2 349 42.4C364.7 41.6 369.8 40.9 389.3 40.3C408.8 39.7 444.3 38.5 466 38.9C487.8 39.4 501.8 41.2 519.7 43C537.6 44.7 555.5 47.7 573.4 49.7C591.3 51.7 609.2 53.5 627.1 55C645 56.6 662.9 57.9 680.8 59.1C698.7 60.3 712.1 61.2 734.5 62.3C756.9 63.4 782.1 65 815 65.8C848 66.6 909.6 66.9 932.1 67.1C954.6 67.4 947.1 67.3 950.1 67.3H962V496.4H-30V11.7Z"/><path id="c4_5" d="M-18 45C-15 45.2 -11.9 45.4 0 46.2C11.9 47 35.8 48.6 53.7 49.7C71.6 50.7 89.5 51.5 107.4 52.3C125.3 53.2 138.7 54.6 161.1 55C183.4 55.5 214.8 55 241.6 55C268.5 55 295.3 55.3 322.1 55C349 54.8 384.8 54.3 402.7 53.7C420.6 53.1 419 52 429.5 51.5C440.1 51.1 453.2 50.9 466 51C478.8 51.1 492.9 51.2 506.3 52.3C519.7 53.5 533.2 55.7 546.6 57.7C560 59.7 573.4 62.9 586.8 64.4C600.3 66 611.5 66.4 627.1 67.1C642.8 67.8 662.9 67.9 680.8 68.5C698.7 69 712.1 69.4 734.5 70.3C756.9 71.2 792.7 72.9 815 73.8C837.4 74.7 849.2 75 868.7 75.7C888.2 76.4 918.5 77.4 932.1 77.9C945.6 78.3 947.1 78.4 950.1 78.5H962V496.4H-30V45Z"/><path id="c4_6" d="M-18 68.8C-15 68.8 -14.2 68.7 0 68.5C14.2 68.2 44.7 67.1 67.1 67.1C89.5 67.1 109.6 68.2 134.2 68.5C158.8 68.7 192.4 68.2 214.8 68.5C237.1 68.7 250.6 69 268.5 69.8C286.4 70.6 304.3 71.9 322.1 73C340 74.1 359.7 75.5 375.8 76.5C391.9 77.5 403.8 78.6 418.8 79.2C433.8 79.8 449.2 79.6 466 80C482.9 80.4 501.8 81 519.7 81.9C537.6 82.8 555.5 84.5 573.4 85.4C591.3 86.3 609.2 86.6 627.1 87.2C645 87.9 662.9 88.2 680.8 89.1C698.7 90 716.6 91.5 734.5 92.6C752.4 93.8 770.3 94.8 788.2 96.1C806.1 97.4 824 99.2 841.9 100.7C859.8 102.1 880.5 103.7 895.6 104.7C910.6 105.7 923 106.3 932.1 106.8C941.2 107.4 947.1 107.7 950 107.9H962V496.4H-30V68.8Z"/><path id="c4_7" d="M-18 86.6C-15 86.7 -11.9 86.8 0 87.2C11.9 87.7 35.8 88.5 53.7 89.1C71.6 89.8 85 90.7 107.4 91.3C129.8 91.9 161.1 92.2 187.9 92.6C214.8 93.1 241.6 93.3 268.5 94C295.3 94.6 323.9 95.7 349 96.6C374 97.5 399.3 98.5 418.8 99.3C438.3 100.1 449.2 101 466 101.5C482.9 101.9 501.8 101.9 519.7 102C537.6 102.1 555.5 101.9 573.4 102C591.3 102.1 609.2 101.9 627.1 102.6C645 103.2 662.9 104.3 680.8 106C698.7 107.7 716.6 110.5 734.5 112.8C752.4 115 770.3 117.6 788.2 119.5C806.1 121.3 824 122.7 841.9 124C859.8 125.4 880.5 126.7 895.6 127.5C910.6 128.3 923 128.5 932.1 128.9C941.2 129.2 947.1 129.4 950.1 129.5H962V496.4H-30V86.6Z"/><path id="c4_8" d="M-18 98.6C-15 98.7 -11.9 98.9 0 99.3C11.9 99.8 35.8 100.6 53.7 101.5C71.6 102.4 89.5 103.8 107.4 104.7C125.3 105.6 143.2 106.2 161.1 106.8C179 107.5 196.9 107.7 214.8 108.7C232.7 109.7 250.6 111.2 268.5 112.8C286.4 114.3 304.3 116.4 322.1 118.1C340 119.8 359.7 121.6 375.8 123C391.9 124.3 403.8 125.3 418.8 126.2C433.8 127.1 449.2 128.9 466 128.3C482.9 127.8 501.8 124.4 519.7 123C537.6 121.5 555.5 119.9 573.4 119.5C591.3 119 613.7 119.2 627.1 120.3C640.5 121.3 647.5 123.1 654 125.6C660.4 128.2 665.1 131.9 666 135.6C666.9 139.2 664 143.8 659.3 147.7C654.6 151.5 645.9 155.3 637.9 158.4C629.8 161.5 620 163.3 611 166.4C602.1 169.6 591.3 173.2 584.2 177.2C577 181.2 571.7 186.1 568.1 190.6C564.4 195.1 562.1 199.3 562.1 204C562.1 208.7 563.5 214.1 568.1 218.8C572.6 223.5 581 228.2 589.5 232.2C598 236.2 608.3 240.3 619.1 243C629.8 245.6 639.2 247 654 248.3C668.7 249.7 692 250.6 707.7 251C723.3 251.5 737.6 250.6 747.9 251C758.2 251.5 764 252.1 769.4 253.7C774.8 255.3 777.2 257 780.1 260.4C783 263.8 784.2 268.5 786.8 273.8C789.5 279.2 792 286.4 796.2 292.6C800.5 298.9 805.6 305.8 812.3 311.4C819.1 317 827.1 321.5 836.5 326.2C845.9 330.9 858 335.6 868.7 339.6C879.5 343.6 890.4 347.7 900.9 350.3C911.5 353 923.9 354.3 932.1 355.7C940.2 357.1 946.9 358.3 949.8 358.8H962V496.4H-30V98.6Z"/><path id="c4_9" d="M943.9 142.3C928.2 141.9 912.6 140.7 895.6 140.1C878.6 139.6 857.1 139.1 841.9 139.1C826.7 139 814.1 138.4 804.3 139.6C794.5 140.8 788 142.7 782.8 146.3C777.7 149.9 774.8 155 773.4 161.1C772.1 167.1 773.9 174.9 774.8 182.6C775.7 190.2 777.4 199.1 778.8 206.7C780.1 214.3 781 222.4 782.8 228.2C784.6 234 785.1 238.4 789.5 241.6C794 244.8 800.9 246.5 809.7 247.5C818.4 248.5 827.6 247.8 841.9 247.5C856.2 247.2 878.6 246.1 895.6 245.6C912.6 245.2 928.2 245 943.9 244.8C959.6 244.7 981.9 261.9 989.5 244.8C997.1 227.7 997.1 159.4 989.5 142.3C981.9 125.2 959.6 142.6 943.9 142.3Z"/><path id="c4_10" d="M943.9 164.3C928.2 164 910.3 162.6 895.6 162.4C880.8 162.2 865.6 162.6 855.3 163.2C845 163.8 838.7 164.5 833.8 165.9C828.9 167.3 826 169 825.8 171.8C825.5 174.6 828.5 179.1 832.5 182.6C836.5 186 843 189.7 849.9 192.8C856.9 195.8 865.6 198.7 874.1 200.8C882.6 202.9 889.3 204.4 900.9 205.4C912.6 206.4 929.1 206.5 943.9 206.7C958.7 206.9 981.9 213.8 989.5 206.7C997.1 199.6 997.1 171.4 989.5 164.3C981.9 157.2 959.6 164.6 943.9 164.3Z"/><path id="c4_11" d="M943.9 287.2C932.7 287.6 928.7 288.1 922.4 289.4C916.2 290.7 910 293 906.3 295.3C902.6 297.6 900.4 300.7 900.4 303.4C900.4 306 902.6 309.1 906.3 311.4C910 313.7 916.2 316 922.4 317.3C928.7 318.7 932.7 319.1 943.9 319.5C955.1 319.8 981.9 324.8 989.5 319.5C997.1 314.1 997.1 292.6 989.5 287.2C981.9 281.9 955.1 286.9 943.9 287.2Z"/><path id="c4_12" d="M655.3 197.3C656 196.1 659.3 192.9 662 191.9C664.7 191 670.7 190.5 671.4 191.4C672.1 192.3 668.3 196 666 197.3C663.8 198.6 659.8 199.2 658 199.2C656.2 199.2 654.6 198.5 655.3 197.3Z"/><path id="c4_13" d="M-17.9 109.2C-14.9 109.5 -11.9 109.9 0 111.4C11.9 112.9 35.8 116 53.7 118.1C71.6 120.2 89.5 122.3 107.4 124C125.3 125.7 143.2 127 161.1 128.3C179 129.7 196.9 130.2 214.8 132.1C232.7 134 250.6 136.9 268.5 139.6C286.4 142.3 304.3 145.5 322.1 148.2C340 150.9 359.7 153.6 375.8 155.7C391.9 157.9 403.8 159.1 418.8 161.1C433.8 163.1 455.5 166.2 466 167.8C476.6 169.4 478.1 168.5 482.1 170.5C486.2 172.5 489.3 175.6 490.2 179.9C491.1 184.1 487.1 190.2 487.5 196C488 201.8 489.8 208.9 492.9 214.8C496 220.6 500.5 226 506.3 230.9C512.1 235.8 518.8 239.8 527.8 244.3C536.7 248.8 548.8 253.7 560 257.7C571.2 261.7 583.7 265.3 594.9 268.5C606.1 271.6 615 274.3 627.1 276.5C639.2 278.7 654 279.4 667.4 281.9C680.8 284.3 696.5 287.9 707.7 291.3C718.8 294.6 726.4 298 734.5 302C742.6 306 748.8 310.5 756 315.4C763.1 320.4 769.4 326.2 777.4 331.5C785.5 336.9 794.5 342.7 804.3 347.7C814.1 352.6 825.8 357.3 836.5 361.1C847.2 364.9 858 367.8 868.7 370.5C879.5 373.2 890.4 375.6 900.9 377.2C911.5 378.7 923.9 379.2 932.1 379.9C940.3 380.6 947 381.2 950 381.4H962V496.4H-30V109.2Z"/><path id="c4_14" d="M-17.4 128.9C-14.5 129.6 -5.1 132.1 0 133.4C5.1 134.8 9.4 135 13.4 136.9C17.4 138.8 21 141.8 24.2 145C27.3 148.1 29.1 152.6 32.2 155.7C35.3 158.8 38.5 161.9 43 163.8C47.4 165.6 52.8 166.8 59.1 167C65.3 167.2 72.5 166.1 80.5 165.1C88.6 164.1 96.2 162.2 107.4 161.1C118.6 160 134.2 158.9 147.7 158.4C161.1 157.9 174.5 157.4 187.9 157.9C201.3 158.3 214.8 159.7 228.2 161.1C241.6 162.4 255 164.1 268.5 165.9C281.9 167.7 295.3 169.7 308.7 171.8C322.1 173.9 337.8 176.3 349 178.5C360.2 180.8 368.7 182.6 375.8 185.2C383 187.9 387 190.6 391.9 194.6C396.9 198.7 401.3 204.3 405.4 209.4C409.4 214.5 412.1 220.6 416.1 225.5C420.1 230.4 423.7 234.2 429.5 238.9C435.3 243.6 444.9 249.2 451 253.7C457.1 258.2 460 262 466 265.8C472.1 269.6 478.6 273.4 487.5 276.5C496.5 279.6 507.7 281.9 519.7 284.6C531.8 287.2 546.6 289.9 560 292.6C573.4 295.3 586.8 298 600.3 300.7C613.7 303.4 627.1 306 640.5 308.7C654 311.4 668.7 313.6 680.8 316.8C692.9 319.9 703.2 323.7 713 327.5C722.9 331.3 730.9 335.1 739.9 339.6C748.8 344.1 757.8 349.7 766.7 354.4C775.7 359.1 783.3 363.3 793.6 367.8C803.8 372.3 816.8 377.4 828.5 381.2C840.1 385 852.2 387.9 863.4 390.6C874.5 393.3 884.1 395.5 895.6 397.3C907 399.1 923 400.3 932.1 401.3C941.1 402.3 947 403 950 403.3H962V496.4H-30V128.9Z"/><path id="c4_15" d="M-17.5 263.4C-14.6 262.7 -7.4 260.9 0 259.1C7.4 257.2 17.9 255.3 26.8 252.3C35.8 249.4 45.6 245.6 53.7 241.6C61.7 237.6 68 232.9 75.2 228.2C82.3 223.5 89 218.1 96.6 213.4C104.3 208.7 112.3 203.7 120.8 200C129.3 196.3 138.7 193.4 147.7 191.1C156.6 188.9 165.5 187.5 174.5 186.6C183.4 185.7 192.4 185.5 201.3 185.8C210.3 186 219.2 186.8 228.2 187.9C237.1 189.1 246.1 190.7 255 192.8C264 194.8 272.9 196.8 281.9 200C290.8 203.2 299.8 206.9 308.7 212.1C317.7 217.2 326.6 224.2 335.6 230.9C344.5 237.6 353.5 245.2 362.4 252.3C371.4 259.5 380.3 267.1 389.3 273.8C398.2 280.5 407.2 287 416.1 292.6C425.1 298.2 434.6 303.4 443 307.4C451.3 311.4 457.7 314.1 466 316.8C474.4 319.5 481.7 321.7 492.9 323.5C504.1 325.3 519.7 326.2 533.2 327.5C546.6 328.9 560 330.4 573.4 331.5C586.8 332.7 600.3 332.4 613.7 334.2C627.1 336 640.5 338.9 654 342.3C667.4 345.6 680.8 349.4 694.2 354.4C707.7 359.3 721.1 366 734.5 371.8C747.9 377.6 761.3 384.1 774.8 389.3C788.2 394.4 801.6 398.9 815 402.7C828.5 406.5 841.9 409.4 855.3 412.1C868.7 414.8 882.8 417 895.6 418.8C908.4 420.6 923 421.8 932.1 422.8C941.1 423.8 947 424.5 950 424.8H962V496.4H-30V263.4Z"/><path id="c4_16" d="M-17.5 308.8C-14.6 308.1 -9.6 306.9 0 304.7C9.6 302.5 26.8 298.7 40.3 295.3C53.7 291.9 67.1 288.6 80.5 284.6C94 280.5 107.4 275.6 120.8 271.1C134.2 266.7 149.9 261.1 161.1 257.7C172.3 254.4 179 252.3 187.9 251C196.9 249.7 205.8 249.2 214.8 249.7C223.7 250.1 232.7 251.2 241.6 253.7C250.6 256.2 259.5 260.2 268.5 264.4C277.4 268.7 286.4 273.6 295.3 279.2C304.3 284.8 313.2 291.7 322.1 298C331.1 304.3 340 311 349 316.8C357.9 322.6 366.9 328.2 375.8 332.9C384.8 337.6 392.8 341.6 402.7 345C412.5 348.3 424.3 350.3 434.9 353C445.5 355.7 454.1 358.8 466 361.1C477.9 363.3 490.6 365 506.3 366.4C522 367.9 542.1 369.3 560 369.9C577.9 370.6 600.3 369.7 613.7 370.5C627.1 371.2 629.4 371.8 640.5 374.5C651.7 377.2 667.4 382.3 680.8 386.6C694.2 390.8 707.7 395.5 721.1 400C734.5 404.5 747.9 409.4 761.3 413.4C774.8 417.4 788.2 420.8 801.6 424.2C815 427.5 828.5 430.6 841.9 433.6C855.3 436.5 867.1 439.6 882.1 441.6C897.2 443.6 920.8 444.7 932.1 445.6C943.4 446.5 947 446.8 950 447.1H962V496.4H-30V308.8Z"/><path id="c4_17" d="M-17.9 350.3C-15 350.1 -11.9 349.9 0 349C11.9 348.1 35.8 346.8 53.7 345C71.6 343.2 91.7 340.9 107.4 338.3C123 335.6 135.1 332.4 147.7 328.9C160.2 325.3 172.3 319.5 182.6 316.8C192.8 314.1 201.8 312.5 209.4 312.8C217 313 220.6 314.3 228.2 318.1C235.8 321.9 246.1 330 255 335.6C264 341.2 270.7 346.1 281.9 351.7C293.1 357.3 308.7 364 322.1 369.1C335.6 374.3 349 378.5 362.4 382.6C375.8 386.6 389.3 389.9 402.7 393.3C416.1 396.6 432.4 400.4 443 402.7C453.5 404.9 455.5 405.1 466 406.7C476.6 408.3 490.6 410.6 506.3 412.1C522 413.6 542.1 414.9 560 415.6C577.9 416.2 600.3 415.3 613.7 416.1C627.1 416.9 629.4 417.4 640.5 420.1C651.7 422.8 667.4 428.4 680.8 432.2C694.2 436 707.7 439.6 721.1 443C734.5 446.3 747.9 449.4 761.3 452.3C774.8 455.3 788.2 457.9 801.6 460.4C815 462.9 832.9 465.5 841.9 467.1C850.8 468.8 850.1 469.1 855.3 470.3C860.5 471.6 869.9 473.8 872.8 474.5V496.4H-30V350.3Z"/><path id="c4_18" d="M-18 395.8C-15 395.8 -16.4 395.8 0 396C16.4 396.1 55.9 396.3 80.5 396.8C105.1 397.2 127.5 397.7 147.7 398.7C167.8 399.6 185.7 400.7 201.3 402.7C217 404.7 228.2 407.2 241.6 410.7C255 414.3 268.5 419.9 281.9 424.2C295.3 428.4 308.7 432.4 322.1 436.2C335.6 440 351.2 444.1 362.4 447C373.6 449.9 379.9 451 389.3 453.7C398.7 456.4 409.8 460.4 418.8 463.1C427.7 465.8 436 467.9 443 469.8C449.9 471.7 457.4 473.8 460.3 474.6V496.4H-30V395.8Z"/></defs>
<use href="#c4_0" fill="#8C1B22"/>
<use href="#c4_1" fill="#BE1C24"/>
<use href="#c4_2" fill="#E8151C"/>
<use href="#c4_3" fill="#E8151C"/>
<use href="#c4_4" fill="#E8151C"/>
<use href="#c4_5" fill="#EE7219"/>
<use href="#c4_6" fill="#F5CE1F"/>
<use href="#c4_7" fill="#D2DE35"/>
<use href="#c4_8" fill="#96C623"/>
<use href="#c4_9" fill="#96C623"/>
<use href="#c4_10" fill="#6DB92D"/>
<use href="#c4_10" fill="url(#hf)"/>
<use href="#c4_11" fill="#F5CE1F"/>
<use href="#c4_13" fill="#6DB92D"/>
<use href="#c4_13" fill="url(#hf)"/>
<use href="#c4_14" fill="#6CC5D8"/>
<use href="#c4_14" fill="url(#hx)"/>
<use href="#c4_15" fill="#2E7AC0"/>
<use href="#c4_15" fill="url(#hb)"/>
<use href="#c4_16" fill="#244A9E"/>
<use href="#c4_17" fill="#5E3B96"/>
<use href="#c4_18" fill="#652566"/>
<g fill="none" stroke="#41474a" stroke-width="2.8" stroke-linejoin="round"><use href="#c4_1"/><use href="#c4_2"/><use href="#c4_3"/><use href="#c4_4"/><use href="#c4_5"/><use href="#c4_6"/><use href="#c4_7"/><use href="#c4_8"/><use href="#c4_9"/><use href="#c4_11"/><use href="#c4_12"/><use href="#c4_16"/><use href="#c4_17"/><use href="#c4_18"/></g>
<g fill="none" stroke="#ee1c24" stroke-width="3.8" stroke-linejoin="round"><use href="#c4_10"/><use href="#c4_13"/><use href="#c4_14"/><use href="#c4_15"/></g>
</g>
<rect x="-0.4" y="0.2" width="932" height="466.2" fill="none" stroke="#000" stroke-width="2.9"/>
<path d="M15.9 466.4v11.6M118.8 466.4v6.2M221.7 466.4v11.6M324.6 466.4v6.2M427.5 466.4v11.6M530.4 466.4v6.2M633.3 466.4v11.6M736.2 466.4v6.2M839.1 466.4v11.6M-0.4 0.2h-11.6M-0.4 65h-6.2M-0.4 129.8h-11.6M-0.4 194.5h-6.2M-0.4 259.3h-11.6M-0.4 324.1h-6.2M-0.4 388.9h-11.6M-0.4 453.6h-6.2" stroke="#000" stroke-width="2.6" fill="none"/>
<g font-size="21" text-anchor="middle" stroke="#000" stroke-width=".3">
<text transform="translate(16.9 501) scale(.95 1)">100</text>
<text transform="translate(222.7 501) scale(.95 1)">200</text>
<text transform="translate(428.5 501) scale(.95 1)">300</text>
<text transform="translate(634.3 501) scale(.95 1)">400</text>
<text transform="translate(840.1 501) scale(.95 1)">500</text>
</g><g font-size="21" text-anchor="end" stroke="#000" stroke-width=".3">
<text transform="translate(-19.5 7.1) scale(.95 1)">0</text>
<text transform="translate(-19.5 136.7) scale(.95 1)">50</text>
<text transform="translate(-19.5 266.2) scale(.95 1)">100</text>
<text transform="translate(-19.5 395.8) scale(.95 1)">150</text>
</g>
<text x="466" y="545.4" font-size="32" text-anchor="middle">X(m)</text>
<text transform="translate(-69 233.2) rotate(-90) scale(.96 1)" font-size="31.5" text-anchor="middle">Z(m)</text>
<text x="8.3" y="-7" font-size="50.8">Row 16</text>
<text transform="translate(-196.3 -50.4) scale(1.045 1)" font-size="58">(c4)</text>
<path d="M417.8 1.5V464.9" stroke="#c9c9c9" stroke-width="3.2" fill="none"/>
<text transform="translate(441.7 -8.5) rotate(-90) scale(.9 1)" font-size="36">F106</text>
<path d="M475.9 1.5V464.9" stroke="#c9c9c9" stroke-width="3.2" fill="none"/>
<path d="M446.6 1.5V464.9" stroke="#000" stroke-width="2.3" stroke-dasharray="14.7 10.8" stroke-dashoffset="-2" fill="none"/>
<text transform="translate(495.1 -11.5) rotate(-90) scale(.9 1)" font-size="36">F104</text>
<path d="M627.1 1.5V464.9" stroke="#c9c9c9" stroke-width="3.2" fill="none"/>
<path d="M608.7 1.5V464.9" stroke="#000" stroke-width="2.3" stroke-dasharray="14.7 10.8" stroke-dashoffset="-2" fill="none"/>
<text transform="translate(633.6 -5.6) rotate(-90) scale(.9 1)" font-size="36">F102</text>
<rect x="964.5" y="-2" width="26.8" height="29.9" fill="#660E16"/>
<rect x="964.5" y="27.2" width="26.8" height="29.9" fill="#8C1B22"/>
<rect x="964.5" y="56.5" width="26.8" height="29.9" fill="#BE1C24"/>
<rect x="964.5" y="85.8" width="26.8" height="29.9" fill="#E8151C"/>
<rect x="964.5" y="115" width="26.8" height="29.9" fill="#E8151C"/>
<rect x="964.5" y="144.2" width="26.8" height="29.9" fill="#E8151C"/>
<rect x="964.5" y="173.5" width="26.8" height="29.9" fill="#EE7219"/>
<rect x="964.5" y="202.8" width="26.8" height="29.9" fill="#F5CE1F"/>
<rect x="964.5" y="232" width="26.8" height="29.9" fill="#D2DE35"/>
<rect x="964.5" y="261.2" width="26.8" height="29.9" fill="#96C623"/>
<rect x="964.5" y="290.5" width="26.8" height="29.9" fill="#6DB92D"/>
<rect x="964.5" y="319.8" width="26.8" height="29.9" fill="#6CC5D8"/>
<rect x="964.5" y="349" width="26.8" height="29.9" fill="#2E7AC0"/>
<rect x="964.5" y="378.2" width="26.8" height="29.9" fill="#244A9E"/>
<rect x="964.5" y="407.5" width="26.8" height="29.9" fill="#5E3B96"/>
<rect x="964.5" y="436.8" width="26.8" height="29.9" fill="#652566"/>
<path d="M964.5 319.8L991.3 290.5" stroke="#000" stroke-width="1.6"/>
<path d="M964.5 349L991.3 319.8M964.5 319.8L991.3 349" stroke="#000" stroke-width="1.6"/>
<path d="M964.5 349L991.3 378.2" stroke="#000" stroke-width="1.6"/>
<rect x="964.5" y="-2" width="26.8" height="468" fill="none" stroke="#000" stroke-width="3.4"/>
<path d="M991.3 -2h31M991.3 56.5h31M991.3 115h31M991.3 173.5h31M991.3 232h31M991.3 290.5h31M991.3 349h31M991.3 407.5h31M991.3 466h31" stroke="#000" stroke-width="2.6" fill="none"/>
<g font-size="21">
<text transform="translate(1030.8 5.8) scale(.97 1)">0.30</text>
<text transform="translate(1030.8 64.3) scale(.97 1)">0.40</text>
<text transform="translate(1030.8 122.8) scale(.97 1)">0.50</text>
<text transform="translate(1030.8 181.3) scale(.97 1)">0.60</text>
<text transform="translate(1030.8 239.8) scale(.97 1)">0.70</text>
<text transform="translate(1030.8 298.3) scale(.97 1)">0.80</text>
<text transform="translate(1030.8 356.8) scale(.97 1)">0.90</text>
<text transform="translate(1030.8 415.3) scale(.97 1)">1.00</text>
<text transform="translate(1030.8 473.8) scale(.97 1)">1.10</text>
</g>
<text x="967" y="518.7" font-size="25">Vs(km/s)</text>
</g>
<g transform="translate(1525.5 2138.3)">
<g clip-path="url(#pd)">
<rect x="-5" y="-5" width="942" height="476.4" fill="#3A2D5E"/>
<path d="M-12 -12h954v305l-24 3l-18 5l-10 5l-6 6l-2 6l2 6l14 12l20 9l24 7v122h-954z" fill="#711d83"/>
<path d="M-12 -12h954v301l-30 5l-20 6l-10 6l-6 6l-2 6l1 6l4 6l8 6l31 14l24 7v117h-954z" fill="#781b8a"/>
<path d="M-12 -12h954v298l-30 4l-14 4l-16 6l-9 6l-5 6l-2 6v6l3 6l7 7l18 9l48 17v111h-954z" fill="#752490"/>
<path d="M-12 -12h954v294l-36 7l-30 9l-13 8l-5 6l-1 6l3 12l4 6l6 6l12 6l60 20v106h-954z" fill="#6d3395"/>
<path d="M-12 -12h954v291l-30 5l-42 11l-11 5l-9 6l-3 6v6l2 6l6 12l9 9l6 4l72 25v100h-954z" fill="#633d99"/>
<path d="M-12 -12h954v288l-30 4l-34 8l-21 6l-14 6l-5 6l-1 6v6l6 12l9 12l12 10l12 5l66 22v95h-954z" fill="#57439b"/>
<path d="M-12 -12h954v285l-24 3l-36 7l-36 9l-6 2l-8 6l-4 6l-1 6l1 6l6 12l10 12l14 12l18 9l66 22v89h-954z" fill="#4b469d"/>
<path d="M-12 -12h954v282l-30 3l-36 7l-35 8l-12 6l-7 6l-4 6l-1 6l1 6l3 6l8 12l13 12l16 11l18 9l42 15l24 7v84h-954z" fill="#3f499f"/>
<path d="M-12 -12h954v279l-30 2l-30 5l-36 7l-18 7l-9 6l-9 9l-2 9l3 12l9 12l13 12l16 12l27 13l42 15l24 7v79h-954z" fill="#314a9f"/>
<path d="M-12 -12h954v276l-24 1h-18l-54 11l-18 6l-19 12l-6 6l-3 6l-1 6l2 12l8 12l12 12l13 10l15 8l21 9l42 17l30 8v74h-954zM654 198l-2 6l8 2l9 -2l5 -6l-8 -3h-6z" fill="#244b9f"/>
<path d="M-12 -12h954v273l-24 1l-6 -1l-12 -5l-6 -1l-18 9l-36 6l-18 8l-21 16l-6 6l-4 12l1 12l6 11l12 15l12 10l11 6l73 29l36 10v69h-954zM654 190l-6 2l-9 6l-6 6v6l3 3l6 3l18 1l18 -4l7 -3l7 -6l3 -6l-6 -6l-11 -3l-12 -1z" fill="#2451a6"/>
<path d="M-12 -12h954v270l-24 1l-12 -4l-6 -3l-6 -1l-24 10l-12 1l-18 -1l-7 3l-11 7l-30 23l-5 6l-2 6l-2 12l3 12l3 6l15 19l12 13l6 3l30 9l54 20l36 9v65h-954zM654 185l-17 7l-9 6l-5 6l-2 6l2 6l7 5l6 3l18 1l30 -4l24 -7l7 -4l3 -6v-6l-3 -6l-10 -6l-27 -3h-12zM768 41v2l2 -1zM792 41l-1 1l1 1l8 -1z" fill="#2458ae"/>
<path d="M-12 -12h954v267h-24l-18 -5h-6l-24 7h-12l-18 -2l-11 3l-13 8l-12 12l-15 10l-7 6l-5 12l-1 12l2 12l7 12l25 30l6 4l36 10l60 21l30 7v60h-954zM666 179l-12 2l-14 5l-13 6l-8 6l-5 6l-2 6l1 6l5 6l6 4l12 5l12 1l60 -4l12 -2l6 -4l5 -6l2 -6l-2 -12l-3 -6l-8 -8l-10 -4l-8 -1zM744 41v1l6 1l3 -1l-3 -4zM768 37l-4 5l4 3l11 -3l-5 -4zM792 37l-5 5l5 5l6 1l60 2h48l12 2l12 -2l5 -2l-3 -6l-2 -1l-17 1l-7 2l-12 -3z" fill="#2763b4"/>
<path d="M-12 -12h954v264l-24 1l-24 -5l-24 5h-12l-18 -3l-12 2l-14 6l-16 13l-18 12l-5 5l-3 6l-2 6l-1 12l1 12l4 13l18 23l18 18l12 6l30 8l54 18l36 9v55h-954zM690 174l-30 3l-14 3l-16 6l-12 6l-8 6l-4 6l-2 6v6l4 6l6 6l10 5l12 4l12 1l66 1l12 -1l6 -2l9 -8l2 -6l2 -6l-1 -12l-6 -14l-6 -7l-12 -6l-12 -3zM744 35l-2 1l-2 6l4 2l6 1l6 -2l6 1l6 4l12 -1l18 3l60 3l60 2l12 -3l6 -2l3 -2l-1 -6l-8 -2h-24l-48 -4l-60 -2l-12 2l-18 -2l-5 2l-1 2h-6l-2 -2l-4 -1z" fill="#2a6ebb"/>
<path d="M-12 -12h954v56l-1 -2l-5 -3l-6 -1l-132 -6l-12 1l-18 -1l-12 2l-12 -1l-6 3l-1 6l7 5h12l12 3h12l18 2l60 4l60 1l18 -3l6 -5v201h-24l-24 -4l-30 4l-30 -3l-18 2l-42 11l-6 4l-3 6l-2 12l-2 18l3 24l4 12l3 6l19 24l13 12l7 5l12 6l84 26l36 8v51h-954zM660 174l-24 6l-15 6l-11 6l-8 6l-4 6l-2 6v6l3 6l7 8l6 4l12 5l18 4l42 3l48 6l18 -1l6 -3l3 -8v-6l-4 -24l-7 -18l-4 -7l-6 -6l-12 -6l-18 -4l-24 1z" fill="#2c7fc5"/>
<path d="M-12 -12h954v52l-6 -3l-12 -1l-66 -4l-60 -2l-54 2l-10 4v6l4 4l6 3l72 7l96 3h12l18 -4v192h-24l-24 -2l-30 2l-24 -4l-36 -1l-12 -2l-11 -6l-7 -6l-6 -9l-16 -33l-8 -11l-12 -6l-12 -3l-18 -1l-24 3l-24 4l-24 7l-18 7l-10 6l-8 6l-5 6l-2 6l1 7l2 5l5 6l11 9l12 6l24 6l36 3l24 5l24 7l11 6l7 7l5 11l9 36l7 18l9 13l15 17l15 13l18 9l84 26l36 8v46h-954z" fill="#2e92d1"/>
<path d="M-12 -12h954v49l-18 -3l-66 -4l-48 -2l-66 2l-6 1l-9 5v6l9 7l36 5l60 5l48 2h42l18 -2v185l-18 1l-24 -2l-36 1l-48 -7l-18 -5l-12 -7l-12 -12l-18 -32l-6 -8l-6 -5l-6 -3l-18 -4l-24 1l-30 4l-24 6l-24 8l-14 6l-10 6l-8 6l-4 5l-3 7l1 6l6 12l14 12l12 6l24 7l42 6l18 4l18 7l12 7l6 6l8 11l16 42l11 18l15 18l22 17l18 10l24 8l60 18l36 7v42h-954z" fill="#2fa3dc"/>
<path d="M-12 -12h954v46l-84 -6l-66 -2l-54 3l-5 1l-14 6l3 6l16 9l36 5l84 7l48 1l36 -2v179l-24 1l-48 -1l-42 -6l-18 -5l-18 -9l-12 -11l-9 -12l-13 -24l-5 -6l-9 -6l-18 -5h-18l-24 3l-36 8l-30 9l-18 7l-14 8l-8 6l-5 6l-2 6v6l6 12l11 10l13 8l17 7l18 5l36 6l18 5l18 7l9 6l9 9l7 9l7 12l13 30l12 18l17 18l22 17l18 9l24 9l60 17l36 7v37h-954z" fill="#34b2e3"/>
<path d="M-12 -12h954v44l-84 -6l-66 -1l-54 2l-24 4l-11 5l2 6l15 4l18 7l36 5l84 7l84 1v172l-48 2l-24 -2l-36 -6l-18 -5l-18 -9l-12 -9l-9 -11l-15 -26l-8 -10l-12 -6l-16 -3l-24 1l-30 5l-36 9l-36 12l-22 12l-7 6l-5 6l-3 6v6l5 12l5 6l9 7l18 10l30 11l54 12l12 5l12 7l9 8l11 12l23 42l17 24l13 12l23 16l24 13l18 6l60 17l36 6v32h-954zM906 108h-2l-5 6l13 5l16 -5l-8 -6l-8 -2z" fill="#47bbe0"/>
<path d="M-12 -12h954v41h-12l-72 -6h-66l-54 2l-24 3l-9 2l-8 6l1 6l4 4l36 9l54 7l66 6l24 1l24 1l12 -2l24 1v166l-48 3l-36 -4l-24 -6l-12 -4l-18 -8l-16 -12l-10 -12l-16 -28l-6 -6l-12 -6l-18 -4l-18 1l-30 6l-51 13l-33 11l-18 10l-12 9l-9 12l-2 6v6l3 6l13 12l25 14l36 13l48 11l20 10l10 8l10 10l8 12l14 24l12 18l14 18l14 13l30 19l30 14l60 16l42 8v26h-954zM894 101l-6 1l-8 6l2 6l11 6l19 4l12 -1l9 -3l4 -6l-4 -6l-15 -6l-12 -2z" fill="#5ebecd"/>
<path d="M-12 -12h954v39h-12l-72 -6h-84l-66 6l-10 3l-2 2l-3 4l-1 6l4 6l12 4l66 10l108 12h18l24 -3l18 2v38l-1 -3l-11 -6l-24 -8l-12 -2l-12 3l-6 3l-4 4l-4 6v6l9 6l29 7h24l6 -2l6 -6v113l-48 4l-42 -7l-18 -4l-12 -5l-20 -10l-14 -12l-8 -11l-14 -25l-10 -9l-12 -6l-18 -3l-18 1l-18 4l-72 19l-24 8l-20 10l-17 12l-10 12l-7 12v6l5 6l37 20l36 14l54 15l12 5l11 6l7 6l11 12l26 42l19 24l16 16l18 12l24 14l24 10l60 16l42 8v20h-954z" fill="#6cbfab"/>
<path d="M-12 -12h954v36l-12 1l-48 -5l-48 -2l-42 1l-60 3l-24 2l-12 4l-3 2l-5 6l-1 6l3 6l6 5l12 3l42 4l24 5l66 7l28 6l6 6l-10 15l-3 9l1 6l4 6l16 6l30 5h18l12 -4v102l-48 4l-42 -7l-14 -4l-16 -6l-18 -10l-12 -10l-8 -10l-13 -24l-9 -10l-6 -5l-12 -5l-18 -3l-12 1l-18 4l-88 24l-20 7l-21 11l-16 12l-19 18l-4 6l-1 6l2 6l8 6l63 26l70 22l20 11l8 7l10 12l18 30l28 36l14 14l24 17l24 13l24 9l48 12l54 11v14h-954zM911 78l13 -3l18 2v25l-18 -6l-11 -6l-6 -6z" fill="#6cbc79"/>
<path d="M-12 -12h954v32l-18 1l-48 -4l-36 -2l-54 2l-72 4l-15 3l-9 5l-7 7l-1 6l2 6l6 6l12 5l30 4h18l72 10l25 5l10 6l1 6l-3 12l1 12l3 6l5 4l12 4l30 6l24 1l12 -3v94l-48 4l-42 -8l-24 -7l-20 -11l-15 -12l-8 -12l-13 -24l-10 -10l-6 -4l-12 -5l-18 -2h-12l-18 5l-90 26l-24 9l-22 11l-32 24l-6 7l-3 11v6l3 4l11 8l67 25l60 19l12 5l12 8l16 15l17 30l33 43l18 18l18 14l24 11l30 10l102 23v7h-954zM920 84l4 -4l6 -1l6 1l6 2v13l-6 1l-6 -1l-8 -5z" fill="#6aba51"/>
<path d="M-12 -12h212l10 3l24 2l18 -1l23 -4h667v29l-18 1l-48 -5l-36 -1l-132 8l-16 4l-8 5l-6 7l-1 6l1 6l5 6l7 5l12 4l54 4l66 10l18 6l3 1l4 6l1 18l1 6l3 5l6 6l6 3l12 4l36 6h18l12 -1v86l-48 4l-36 -7l-30 -10l-18 -9l-12 -10l-9 -11l-15 -29l-7 -7l-5 -4l-12 -6l-12 -3l-12 -1l-12 1l-12 3l-60 19l-42 12l-30 12l-16 9l-35 24l-3 6l-3 18l3 6l6 6l12 6l60 22l60 20l14 6l10 6l7 6l11 12l17 30l31 42l18 20l19 16l17 8l42 12l84 18l15 4h-951z" fill="#68b830"/>
<path d="M-12 -12h206l4 4l6 2l18 2l24 1l40 -3l8 -3l6 -3h642v25l-18 1l-48 -5l-30 -1l-138 10l-18 4l-12 6l-3 2l-4 6l-1 6l2 6l3 6l8 6l13 5l24 4l36 1l49 8l23 6l8 6l3 6l3 18l3 6l6 6l11 6l14 3l36 6l18 1l12 -1v79l-42 3l-12 -1l-30 -6l-30 -10l-18 -10l-12 -10l-8 -12l-11 -24l-10 -12l-7 -4l-12 -6l-12 -3l-12 -1l-18 3l-64 23l-50 14l-36 15l-42 26l-4 5l-1 6l-2 18l2 6l5 6l12 9l48 18l78 27l12 5l10 7l8 7l8 11l16 29l36 52l18 21l12 10l6 3l15 5l63 14l49 10h-919z" fill="#6bb82e"/>
<path d="M-12 -12h201l9 8l6 1l24 4l30 1h30l21 -2l3 -1l4 -5l1 -6h625v20l-18 2l-42 -6h-36l-24 3l-120 9l-18 4l-10 4l-8 6l-3 6l-1 6l5 12l5 5l18 9l24 5l36 1l28 4l32 6l12 5l7 7l7 24l5 6l11 7l18 5l36 5l24 3l12 -1v71l-36 2h-18l-36 -8l-24 -8l-18 -11l-11 -11l-7 -12l-9 -24l-9 -10l-12 -7l-12 -5l-12 -3l-12 -1l-18 3l-24 11l-31 12l-18 6l-35 9l-24 9l-27 12l-42 24v24l-2 6l2 6l9 11l6 5l42 18l90 32l12 7l12 9l12 15l30 55l18 28l14 18l13 12l9 6l12 3l77 15h-875z" fill="#6eb82c"/>
<path d="M-12 -12h196l14 11l24 5l30 3l72 3h36l12 -4l-12 -18h582v14l-12 1h-12l-13 -3l-11 -5l-6 1l-48 3l-24 6l-114 9l-18 2l-12 3l-14 5l-6 6l-1 6l4 12l8 12l9 6l6 2l18 6l12 3l18 2l30 1l26 4l24 6l10 6l4 6l7 24l6 6l7 3l24 5l60 8l18 1v63l-36 2h-18l-30 -6l-30 -11l-12 -7l-12 -10l-7 -12l-5 -24l-3 -6l-5 -6l-10 -7l-18 -9l-18 -5l-12 -1l-12 1l-6 2l-30 17l-34 14l-50 14l-24 9l-30 13l-24 14l-12 2l-3 2v6l3 6l-1 12l1 6l-2 6l1 6l13 16l12 8l24 11l90 32l12 5l12 8l12 12l11 16l31 63l12 20l9 13l15 14l12 8l12 5l25 3h-817zM540 17l-2 1h5zM576 18h-2l1 6h11l-4 -5z" fill="#71b82b"/>
<path d="M-12 -12h190l8 5l6 6l6 2l36 8l30 3l96 3l24 -1l12 1l12 -1l12 2l6 -3l6 -1l6 2l6 3l12 -3l11 4h2l5 -3l6 1l1 2l5 1l12 -4l1 3l11 2l12 2l12 -1l6 3h12l6 1l12 1l60 11l12 8l18 22l10 5l37 12l7 4l6 2l-12 8l-9 10l-13 12l-22 12l-29 12l-41 11l-30 10l-24 10l-24 14l-6 1h-6l-5 2l-1 1l-2 5l1 6l5 6l-3 12l3 6l-2 6v6l6 6l10 14l6 5l36 19l47 16l43 17l12 7l12 11l14 19l22 58l13 26l13 18l21 18h-767zM372 -12h506l-14 3l-24 3l-17 6l-7 1l-102 10l-60 2l-66 -1l-12 -2l-30 1l-6 -2l-12 2l-12 -3h-6l-6 2l-12 -1l-12 1l-18 -2l-12 -4l-6 1l-6 4l-6 1l-5 -4l-43 -6l-8 -6zM907 -12h35v6l-18 1l-6 -1zM746 90h19l28 6l9 6l2 4l1 8l-1 4l-6 4l-6 -1l-42 -19l-13 -6zM826 144h32l84 10v54l-30 1l-30 -1l-24 -5l-30 -11l-9 -6l-9 -7l-6 -10l-2 -7l2 -8l6 -8l6 -2z" fill="#7bba29"/>
<path d="M-12 -12h184l8 4l12 9l6 3l30 8l18 3l42 3l132 1l12 -1l12 1h12l30 2l12 -1l24 4l30 2l6 2l12 1l18 3l42 17l12 9l12 13l6 4l22 9l8 6l2 6l-5 12l-12 12l-9 6l-25 12l-17 6l-30 7l-24 8l-30 11l-24 12l-18 4l-4 6l-1 6l2 6l5 6l-2 6l-5 6l5 2l3 4l-3 6v6l6 6l12 19l6 5l18 12l18 9l45 15l33 13l18 10l12 11l7 8l7 12l7 18l11 42l10 23l12 19l12 12h-744zM393 -12h449l-20 8l-12 2l-42 5h-30l-11 3l-31 2l-18 -1l-18 -4l-30 -13h-6l-30 11l-30 3l-36 -1l-12 -2l-24 -1l-24 1l-18 -7l-30 -2zM847 150l17 -1l18 1l60 8v46l-30 1l-36 -3l-18 -4l-28 -12l-8 -6l-6 -6l-2 -6l1 -6l10 -6z" fill="#89be28"/>
<path d="M-12 -12h177l15 7l12 8l30 11l24 5l24 3h36l150 -2l30 3l12 -1l12 3l36 2l42 8l37 19l11 9l18 17l16 10l6 6l1 6l-2 6l-4 6l-16 12l-25 12l-78 22l-36 14l-18 4l-6 4l-2 4l-1 6l1 6l8 12l-3 6l-5 6l9 6l-3 6v6l9 12l5 11l6 8l12 10l24 15l48 17l36 15l13 8l13 12l8 12l5 12l10 54l5 18l9 18l8 12h-719zM438 126h-6l-3 6l9 3l6 -3zM469 -12h125l-18 5l-24 2l-24 -1zM651 -12h81l-3 6l-5 6l-10 3l-18 1l-21 -4l-14 -6zM737 -12h90l-17 6l-24 3l-24 2l-12 -2l-7 -3zM854 156l16 -2h18l54 9v35l-18 2l-36 -1l-12 -2l-18 -5l-12 -6l-8 -6l-5 -6v-6l7 -6z" fill="#98c329"/>
<path d="M-12 -12h169l17 7l18 11l30 11l18 5l24 3l36 1l156 -4l42 2l48 5l12 3l18 1l10 3l11 6l17 12l15 12l31 30l2 6v6l-4 6l-14 12l-11 6l-15 5l-102 28l-24 3l-6 4l-3 8v6l4 12l10 12l-9 12l9 6l-3 12l9 12l7 18l6 9l12 12l12 8l12 7l51 18l27 12l12 8l10 10l7 12l4 12l3 18v30l2 18l5 18l6 12h-691zM438 108l-24 5l-12 5l-3 2l-5 6l1 6l7 8l9 4l21 7l18 3l12 -3l6 -7l2 -6l1 -12l-1 -6l-2 -6l-6 -4l-6 -2zM669 -12h51l-6 7l-12 3l-18 -3zM751 -12h62l-21 4l-18 2l-12 -1zM862 162l14 -3h12l48 8l6 3v21l-12 4h-12l-30 -2l-18 -4l-8 -3l-8 -6l-3 -6l2 -6z" fill="#a8cb2a"/>
<path d="M-12 -12h163l23 9l15 9l33 15l18 5l18 3h36l132 -5l66 1l42 4l18 2l6 2l18 2l17 7l20 18l18 18l11 12l7 12v6l-3 6l-5 6l-9 6l-13 6l-43 12l-30 4l-30 6h-12l-9 -4l-5 -6l-3 -12l3 -12l8 -15l6 -3l6 1l18 5h6l6 -1l7 -5l3 -6v-6l-4 -5l-6 -1l-6 1l-16 5l-11 6l-3 5l-17 -5l-19 -1l-18 1l-31 6l-20 6l-13 6l-7 6l-2 6l1 6l6 6l8 6l28 12l42 15l6 4l6 7l10 16l11 12l-6 6l-3 6l9 6l-3 12l9 12l4 18l5 11l6 9l12 14l18 12l42 15l25 11l11 7l12 11l7 12l2 12l-1 18l-10 30l-3 12l1 12l7 18h-651zM872 168l10 -2h6l42 5l6 3l3 6l-3 6l-6 2l-46 -2l-13 -6l-3 -6z" fill="#b7d22c"/>
<path d="M-12 -12h159l9 6l18 6l25 12l23 13l12 4l18 3l42 1l108 -7h54l36 1l54 4l12 4l18 1l13 6l12 12l25 30l8 12l2 6v6l-3 6l-5 6l-11 6l-16 6l-19 6l-12 1l-17 -1l-13 -6l1 -6l15 -18l4 -12v-6l-3 -6l-9 -6l-8 -1l-36 5l-48 5l-48 10l-33 11l-21 12l-5 6l2 6l11 6l58 26l36 18l12 7l24 19l1 2l-7 6l-3 6l3 3l7 3l-4 12l10 12l2 18l2 12l7 23l6 13l6 7l12 8l45 15l15 8l12 10l3 6l1 6v6l-2 6l-24 30l-6 18l-1 18l2 18h-591zM508 132l2 -4l6 1l4 3l-4 2h-6z" fill="#c6d630"/>
<path d="M-12 -12h155l7 6l24 9l24 11l24 16l12 4l18 3h36l114 -9l60 -1l36 1l48 4l12 4l18 2l9 4l11 12l22 36l5 12l-1 6l-3 6l-8 6l-14 6l-21 6l-6 -1l-6 -4l-1 -7l6 -18v-6v-6l-3 -6l-8 -8l-6 -3l-12 -1l-78 7l-78 17l-24 8l-22 10l-8 6l-6 6l-1 6l6 6l7 3l42 12l30 12l17 9l31 22l35 14l-5 2l-5 4l-2 6l7 8l1 4l-1 6l4 6l6 6l1 6l-5 34l-12 26l-1 6l2 24l-3 12l-7 18l-2 12l3 12l3 6l5 6l6 4l6 2l12 1l6 -3l12 -11l5 1l1 2v7l-7 21l-9 36h-524z" fill="#d5db33"/>
<path d="M-12 -12h151l11 9l24 8l24 11l18 17l6 3l12 3l12 2l24 1l24 -1l108 -11l90 -1l54 5l12 4l18 1l6 3l6 6l6 12l10 36v6l-3 6l-7 5l-6 1l-4 -6l-1 -12l-4 -12l-13 -12l-8 -4h-6h-18l-30 3l-42 2l-96 20l-26 9l-24 12l-16 12l-4 6l1 6l9 6l66 14l18 6l18 8l13 8l12 12l8 12l2 6l5 54l1 42l-2 24l-6 48l-7 30l-8 23l-12 18l-12 12l-18 13h-396zM474 234l6 5l3 7l9 6l1 6l-3 6l-4 7l-6 3l-6 -1l-3 -3l-4 -6l-1 -6l1 -18l1 -2z" fill="#e2e133"/>
<path d="M-12 -12h147l15 12l19 6l27 12l6 6l8 13l10 5l14 3l24 2l30 -2l114 -13l48 -2l42 1l24 3l30 1l12 5l18 1l9 7l2 6l1 6l-2 6l-4 3l-6 -1l-12 -6h-6l-54 5l-42 2l-88 15l-32 8l-25 10l-22 12l-14 12l-3 6v6l6 6l10 5l30 7l42 7l19 5l17 7l12 9l8 8l3 6l5 12l3 18l4 54l-2 42l-6 30l-9 26l-12 21l-18 20l-24 20l-30 18l-27 15h-321z" fill="#eee831"/>
<path d="M-12 -12h143l14 12l47 18l5 6v6l-4 6l-1 6l6 5l30 5l24 1l36 -2l90 -14l24 -3l90 -2l54 4l12 8l6 2l6 -4l6 2l5 4l1 6l-6 4l-12 -5l-24 7l-54 5l-24 -1l-54 7l-54 10l-30 9l-24 10l-14 8l-16 13l-3 5l-2 6l1 6l4 6l10 6l16 6l64 11l30 9l16 10l5 6l4 6l5 12l3 18l4 36l-2 48l-6 30l-7 18l-16 22l-12 12l-24 19l-54 34l-49 27h-269z" fill="#f3df2a"/>
<path d="M-12 -12h139l17 13l26 11l12 6l9 6l-5 14l1 10l5 7l6 3l12 3h36l42 -3l42 -7l37 -9l59 -7l66 -1l24 3l12 -1l18 3l5 3l4 6l-6 6l-9 3l-54 5l-24 -1l-36 3l-24 -2l-18 6l-48 8l-24 7l-24 10l-18 11l-10 10l-3 6l-1 12l2 6l4 6l7 6l13 6l12 4l66 13l21 7l12 6l7 6l8 12l5 24l1 36l-3 48l-4 18l-5 14l-11 16l-13 14l-18 15l-24 16l-115 69h-233z" fill="#f6cf21"/>
<path d="M-12 -12h135l21 15l31 15l7 6v6l-2 12l1 12l3 6l6 6l8 4l12 4l36 5l8 5l-1 6l-7 18l-1 18l4 12l5 6l7 6l10 6l17 6l73 18l17 7l12 8l6 9l5 12l1 12v18l-5 30l-3 36l-3 12l-8 18l-11 14l-12 11l-18 14l-54 32l-48 33l-24 12l-24 9l-25 7h-179zM482 36h22l12 3h12l18 3l2 6l-11 6l-45 4l-30 -1l-36 1l-12 -4l-6 -6l2 -6l10 -2l42 -4zM369 48l15 -2l6 2l-1 6l-5 3l-7 3l-11 1l-18 -1l5 -6z" fill="#f5bb1f"/>
<path d="M-12 -12h130l14 8l12 9l24 13l6 6l2 6l-3 30l2 6l3 6l8 7l27 17l6 6l17 30l9 12l7 6l10 6l14 6l54 14l24 8l17 8l8 6l5 6l5 12l2 12l-1 12l-10 36l-1 24l-3 18l-8 18l-9 12l-13 12l-16 11l-53 31l-43 31l-24 12l-30 8l-78 11l-40 10h-74zM90 66l-31 6l-6 6l19 9l24 14l12 2l6 -1l6 -4l6 -8v-6l-2 -6l-6 -6l-10 -4l-9 -2zM443 42l49 -4l24 4h20l4 6l-6 2l-18 1l-18 4h-12l-58 -7l10 -3z" fill="#f4a71e"/>
<path d="M-12 -12h125l19 10l29 20l7 6l2 6l-2 15l-6 16l-6 7l-6 3l-12 -2l-24 -8l-24 -1l-43 6l-30 6l-7 6l8 5l30 6l18 5l12 8l18 15l12 5h6l12 -2l36 -15h6l12 1l12 5l12 8l31 25l18 12l23 9l60 18l21 9l9 6l6 6l6 12l2 6v12l-2 12l-9 24l-1 24l-3 18l-9 18l-9 12l-11 10l-12 8l-53 30l-43 31l-18 9l-30 6l-66 4l-30 4l-48 12l-48 16zM482 42l10 -1l12 1l4 6l-10 3l-6 1l-6 -1l-10 -3z" fill="#f29a1d"/>
<path d="M-12 -12h121l9 6l14 7l24 17l6 6l2 6v6l-2 7l-6 9l-6 4l-12 2l-24 -3l-18 1l-80 10l-19 6l-3 6l6 7l14 5l34 5l12 4l12 9l10 12l8 15l6 5l6 1l12 -1l48 -10l12 -1l12 2l24 8l45 23l21 7l40 11l17 6l15 8l13 10l4 6l5 12v18l-9 30l-2 24l-3 12l-8 17l-11 13l-13 11l-12 8l-54 29l-36 25l-12 6l-12 3l-18 2l-66 1l-30 2l-36 6l-60 15z" fill="#f08c1c"/>
<path d="M-12 -12h117l9 7l18 8l20 15l5 6l2 6l-1 6l-3 6l-5 5l-6 3h-30l-114 15l-6 1l-6 6zM-12 90v-5l6 5l6 2l42 7l12 4l8 5l6 6l3 6l2 12l-4 12l-9 10l-12 5l-13 3l-17 6l-12 6l-18 14zM163 144l23 1l18 3l57 20l51 14l22 10l17 12l5 6l5 12l1 18l-11 54l-4 12l-5 9l-13 15l-11 10l-12 8l-84 45l-18 8l-18 3l-18 1l-66 -2l-24 1l-24 3l-66 11v-180l12 -1l12 -7l12 -11l30 -36l12 -9l48 -20l24 -6z" fill="#ee791c"/>
<path d="M-12 -12h114l6 6l6 4l18 7l10 7l6 6l5 6l1 6l-4 9l-6 4l-6 1l-18 1l-66 10l-54 6l-6 1l-6 3zM-12 96v-3l7 3l41 7l16 5l8 6l3 6l1 6l-1 6l-4 6l-11 8l-49 22l-11 6zM152 156l28 -1l36 5l90 24l19 8l11 7l6 5l9 12l3 12l1 12l-1 12l-8 36l-4 11l-6 10l-7 9l-11 11l-24 16l-72 35l-24 9l-18 2l-18 1l-66 -6l-24 -1l-66 6h-18v-127l18 -8l12 -9l12 -13l21 -30l9 -9l12 -9l24 -13l18 -8l18 -5z" fill="#ec661c"/>
<path d="M-12 -12h110l10 9l24 10l7 5l6 6l3 6v6l-4 6l-6 2l-36 8l-30 5l-78 8l-6 2zM-12 102v-4l30 5l24 6l9 5l5 6v6l-3 6l-17 12l-24 12l-24 10zM137 168l19 -4l18 -1l24 1l18 2l48 11l36 9l16 6l10 6l10 9l7 9l4 12l1 12v18l-6 23l-5 13l-8 12l-11 12l-12 10l-30 19l-48 21l-18 6l-18 4l-24 2l-24 -1l-72 -11l-60 -4l-12 -2l-12 -4v-65l24 -19l18 -17l8 -11l16 -30l11 -12l7 -6l12 -8l18 -10l18 -7z" fill="#e94c1a"/>
<path d="M-12 -12h106l14 12l27 12l6 6l3 6l-2 6l-4 2l-36 12l-48 7l-60 6l-6 2zM-12 108v-5l24 2l12 3l16 6l8 6l-1 6l-12 12l-9 6l-14 8l-24 8zM147 174l15 -3l18 -1l42 3l42 7l23 6l18 6l12 6l8 6l10 12l5 12l2 12l1 12l-2 12l-6 18l-6 12l-9 12l-13 12l-15 12l-16 10l-24 12l-18 6l-18 6l-24 5l-30 1l-36 -5l-71 -17l-20 -6l-14 -6l-8 -6l-3 -6v-6l1 -6l9 -18l25 -36l13 -30l8 -12l13 -12l23 -15l24 -9z" fill="#e8311b"/>
<path d="M-12 -12h102l18 15l23 9l5 6l2 6l-7 6l-23 9l-12 4l-42 6l-60 6l-6 1zM-12 108v-2l18 1l18 4l6 3l7 6l1 6l-4 6l-6 6l-10 7l-12 5l-18 5zM154 180l14 -3l18 -1l48 4l30 5l18 4l18 6l12 6l11 9l5 6l5 12l3 12l1 12l-2 12l-5 15l-5 9l-9 12l-12 12l-15 12l-18 12l-19 10l-12 4l-36 9l-18 2h-18l-18 -1l-18 -3l-24 -6l-18 -6l-20 -9l-10 -6l-8 -6l-5 -6l-3 -6l-2 -12l5 -18l17 -42l6 -12l14 -16l18 -13l24 -11z" fill="#e81b1c"/>
<path d="M-12 -12h97l23 17l15 7l7 6v6l-8 6l-12 6l-14 5l-24 4l-84 9zM-12 114v-4h24l12 5l6 5l1 6l-2 6l-5 5l-12 8l-12 4l-12 2zM158 186l16 -3l18 -1l48 4l36 6l19 6l11 5l9 7l5 6l6 12l3 12v18l-3 12l-5 12l-9 12l-12 12l-13 12l-16 12l-25 13l-24 6l-36 4l-36 -2l-18 -3l-18 -5l-28 -13l-15 -12l-5 -6l-5 -12v-12l2 -12l12 -36l7 -12l5 -6l15 -13l24 -12z" fill="#e8191c"/>
<path d="M-12 -12h92l37 24l6 6l-1 6l-6 6l-11 6l-27 7l-90 10zM-12 114v-1l12 -1l12 1l6 2l6 5l2 6l-2 6l-12 9l-12 4l-12 1zM161 192l19 -4h24l60 7l14 3l17 6l10 6l6 6l4 6l5 12l2 12v12l-6 18l-14 18l-25 24l-16 12l-9 5l-18 6l-30 4h-42l-30 -6l-25 -9l-17 -12l-6 -6l-7 -12l-3 -12v-12l7 -24l9 -18l6 -7l12 -10l22 -13z" fill="#e8161c"/>
<path d="M-12 -12h87l37 24l5 6v6l-6 6l-9 5l-24 6l-30 4l-60 6zM-12 120v-3l12 -2h6l12 4l4 7l-2 6l-8 6l-12 4h-12zM164 198l16 -4l18 -1l66 8l12 3l15 6l9 6l5 6l7 12l2 18l-2 12l-2 6l-12 18l-23 24l-17 14l-6 4l-12 5l-24 3l-42 -1l-30 -3l-12 -3l-12 -5l-18 -12l-11 -14l-2 -6l-3 -12l1 -12l3 -12l9 -18l15 -15l23 -15z" fill="#e8151c"/>
<path d="M-12 -12h83l25 15l12 9l5 6v6l-6 6l-5 3l-24 7l-30 4l-60 6zM-10 120l10 -2h6l7 2l5 6l-3 6l-9 5l-12 2l-6 -3v-14zM169 204l17 -5h12l60 9l12 2l14 6l8 6l6 6l5 12l2 12l-1 6l-5 12l-12 18l-21 24l-14 12l-12 6l-24 2l-42 -3l-30 -4l-18 -6l-10 -7l-6 -6l-8 -12l-2 -6l-2 -12l1 -6l3 -12l12 -18l13 -12l18 -12z" fill="#e8151c"/>
<path d="M-12 -12h78l7 6l17 8l15 10l5 6l-1 6l-7 7l-24 7l-30 5l-60 5zM-9 126l9 -5l6 1l6 4l-4 6l-8 2l-8 -2zM176 210l10 -3l6 -1l61 10l18 6l10 6l5 6l4 6l2 12l-1 6l-4 12l-7 12l-13 18l-10 12l-11 9l-6 3l-18 1l-66 -8l-20 -5l-10 -6l-6 -7l-5 -11l-2 -12l2 -12l6 -12l10 -12l14 -12l19 -12z" fill="#e8151c"/>
<path d="M-12 -12h75l9 8l18 9l11 7l5 6v6l-10 7l-24 6l-24 4l-60 6zM176 222l10 -4l6 -1h12l24 5l24 7l9 5l6 6l7 12l1 6l-2 12l-6 12l-7 12l-15 18l-5 4l-6 1h-12l-12 -1l-54 -11l-13 -5l-7 -6l-4 -7l-2 -11l2 -10l4 -8l8 -11l7 -7l15 -12z" fill="#e8151c"/>
<path d="M-12 -12h71l7 7l6 5l15 6l11 6l5 6v6l-10 6l-21 6l-24 4l-60 5zM192 234h18l18 4l12 6l9 8l3 6l2 6l-1 12l-4 12l-9 12l-6 4l-6 2l-18 -2l-15 -4l-15 -6l-13 -6l-7 -6l-3 -6v-6l5 -12l10 -12l7 -6z" fill="#e8151c"/>
<path d="M-12 -12h67l13 12l25 12l6 6l-1 6l-11 6l-24 6l-21 3l-54 5zM203 276l7 -5l6 1l4 4l-1 6l-3 3l-6 2l-7 -5z" fill="#e8151c"/>
<path d="M-12 -12h63l15 14l21 10l8 6l-2 6l-3 1l-11 5l-19 5l-36 5l-36 3z" fill="#e8151c"/>
<path d="M-12 -12h59l19 16l14 8l7 6l-2 6l-13 6l-12 3l-36 5l-36 4z" fill="#e8151c"/>
<path d="M-12 -12h54l32 24l6 6l-3 6l-11 6l-6 2l-36 5l-36 3z" fill="#e8151c"/>
<path d="M-12 -12h49l32 24l5 6l-2 6l-12 6l-12 3l-60 6z" fill="#df151c"/>
<path d="M-12 -12h43l7 6l16 9l11 9l4 6l-2 6l-13 6l-6 1l-30 4l-30 3z" fill="#d4141c"/>
<path d="M-12 -12h38l5 6l24 12l7 6l3 6l-2 6l-15 6l-36 5l-24 1z" fill="#c5181f"/>
<path d="M-12 -12h32l4 6l6 5l18 6l6 3l5 4l3 6l-4 6l-10 4l-30 5l-30 2z" fill="#b71c22"/>
<path d="M-12 -12h27l3 6l6 6l6 4l12 3l12 4l4 7l-4 6l-6 2l-30 5l-24 3l-6 -1z" fill="#ad1f23"/>
<path d="M-12 -12h21l-1 6l9 6l13 8l18 4l7 6l-10 6l-9 1l-17 5l-25 2h-6zM-6 -4l-6 4l6 2h6l4 -2l-4 -4z" fill="#a62025"/>
<path d="M1 6l5 -3l6 -1l6 2l27 14l-9 3l-3 3l-15 4l-18 3l-12 -1v-24z" fill="#a02026"/>
<path d="M11 6l7 1l9 5l5 6l-6 6l-26 5l-6 1l-6 -3v-17z" fill="#9b2027"/>
<path d="M-9 12l21 -3l10 3l5 6l-7 6l-2 1l-12 2h-12l-6 -2v-11z" fill="#931f27"/>
<path d="M-2 12l14 -1l6 3l4 4l-9 6l-13 2l-6 -1l-3 -1l-2 -6z" fill="#891e24"/>
<path d="M-7 18l7 -4h6l9 4l-9 5l-6 1h-2l-4 -3z" fill="#801c22"/>
<path d="M-3 18l3 -2l7 2l-7 3z" fill="#78191f"/>
<path d="M-8.1 3.2C-6.7 3.4 -5.8 3.4 0 4C5.8 4.6 18.8 5.4 26.8 6.7C34.9 8.1 43.6 10.3 48.3 12.1C53 13.9 55.5 15.4 55 17.4C54.6 19.5 51.2 22.1 45.6 24.2C40 26.2 29.1 28.2 21.5 29.5C13.9 30.9 4.9 31.7 0 32.2C-4.9 32.8 -6.7 32.7 -8.1 32.8M61.7 -5.4C62.6 -4.5 62.2 -2.7 67.1 0C72 2.7 85.7 7.4 91.3 10.7C96.9 14.1 101.1 17 100.7 20.1C100.2 23.3 96.4 26.6 88.6 29.5C80.8 32.4 68.5 35.3 53.7 37.6C38.9 39.8 10.3 41.9 0 43C-10.3 44 -6.7 43.6 -8.1 43.8M102 -5.4C102.9 -4.5 102 -2.7 107.4 0C112.8 2.7 128.2 6.9 134.2 10.7C140.3 14.5 144.5 18.8 143.6 22.8C142.7 26.8 138 31.1 128.9 34.9C119.7 38.7 103.4 42.7 88.6 45.6C73.8 48.5 55 50.6 40.3 52.3C25.5 54.1 8.1 55.6 0 56.4C-8.1 57.1 -6.7 56.8 -8.1 56.9M139.6 -5.4C140.5 -4.5 139.1 -2.7 145 0C150.8 2.7 166.4 7.6 174.5 10.7C182.6 13.9 189.4 16.1 193.3 18.8C197.2 21.5 198.1 24.2 198.1 26.8C198.1 29.5 194.3 32.4 193.3 34.9C192.3 37.4 190.2 39.4 191.9 41.6C193.7 43.8 195.7 46.5 204 48.3C212.3 50.1 228.6 51.9 241.6 52.3C254.6 52.8 268.5 52.1 281.9 51C295.3 49.9 308.7 47.7 322.1 45.6C335.6 43.6 349 40.9 362.4 38.9C375.8 36.9 385.4 34.8 402.7 33.6C420 32.3 448.8 31.8 466 31.7C483.3 31.5 492.9 32 506.3 32.8C519.7 33.5 535.4 34.8 546.6 36.2C557.8 37.7 567.8 40 573.4 41.6C579 43.3 581 44.2 580.1 46.2C579.2 48.2 575.9 51.3 568.1 53.7C560.2 56.1 545.7 58.7 533.2 60.4C520.6 62.1 504.1 63.3 492.9 63.9C481.7 64.5 478.4 62.9 466 63.9C453.7 64.9 433.8 67.7 418.8 69.8C403.8 71.9 389.7 73.8 375.8 76.5C362 79.2 347.7 82.3 335.6 85.9C323.5 89.5 312.8 93.5 303.4 98C294 102.5 285.5 107.6 279.2 112.8C272.9 117.9 267.6 123.9 265.8 128.9C264 133.8 264.4 138 268.5 142.3C272.5 146.5 281 151.2 289.9 154.4C298.9 157.5 310.1 158.8 322.1 161.1C334.2 163.3 351.2 165.3 362.4 167.8C373.6 170.2 381.7 172.5 389.3 175.8C396.9 179.2 403.1 182.8 408.1 187.9C413 193.1 416.1 199.1 418.8 206.7C421.5 214.3 422.8 224.2 424.2 233.6C425.5 243 426.6 252.8 426.8 263.1C427.1 273.4 426.2 284.6 425.5 295.3C424.8 306 424.8 317.2 422.8 327.5C420.8 337.8 418.6 347.2 413.4 357C408.3 366.9 400.9 377.2 391.9 386.6C383 396 371.4 404.9 359.7 413.4C348.1 421.9 333.8 430.4 322.1 437.6C310.5 444.7 298.9 451.5 289.9 456.4C281 461.3 274.7 463.8 268.5 467.1C262.2 470.5 255 474.9 252.3 476.5M375.8 -5.4C377.2 -4.5 376.7 -1.9 383.9 0C391.1 1.9 405.1 4.2 418.8 5.9C432.5 7.6 444.7 9.3 466 10.2C487.3 11.1 519.7 10.8 546.6 11.3C573.4 11.7 602.5 12.8 627.1 12.9C651.7 13 674.1 12.9 694.2 12.1C714.4 11.3 730 9.6 747.9 8.1C765.8 6.5 789.1 4 801.6 2.7C814.1 1.3 817.3 1.3 823.1 0C828.9 -1.3 834.3 -4.5 836.5 -5.4M187.9 -5.4C188.8 -4.5 186.6 -2.2 193.3 0C200 2.2 215.7 5.9 228.2 8.1C240.7 10.2 252.8 11.8 268.5 12.9C284.1 14 304.3 14.2 322.1 14.8C340 15.3 359.7 15.7 375.8 16.1C391.9 16.6 403.8 17.1 418.8 17.4C433.8 17.8 451.5 17.6 466 18.3C480.6 18.9 490.6 20 506.3 21.5C522 22.9 542.1 24.6 560 26.8C577.9 29.1 600.3 32 613.7 34.9C627.1 37.8 634.3 40.7 640.5 44.3C646.8 47.9 648.1 52.6 651.3 56.4C654.4 60.2 654.4 64 659.3 67.1C664.3 70.2 673.6 72.7 680.8 75.2C688 77.6 696.5 79.9 702.3 81.9C708.1 83.9 714.4 85 715.7 87.2C717 89.5 713.5 91.5 710.3 95.3C707.2 99.1 701.8 105.4 696.9 110.1C692 114.8 687.1 119.5 680.8 123.5C674.5 127.5 667.4 130.6 659.3 134.2C651.3 137.8 642.3 141.8 632.5 145C622.6 148.1 611 149.9 600.3 153C589.5 156.2 578.8 159.7 568.1 163.8C557.3 167.8 545.2 172.7 535.8 177.2C526.4 181.7 518.2 186.1 511.7 190.6C505.2 195.1 500 199.6 496.9 204C493.8 208.5 492.7 212.1 492.9 217.4C493.1 222.8 495.1 230 498.3 236.2C501.4 242.5 505.9 249.2 511.7 255C517.5 260.9 525.1 266.2 533.2 271.1C541.2 276.1 550.2 280.5 560 284.6C569.8 288.6 581.9 291.7 592.2 295.3C602.5 298.9 612.3 302.5 621.7 306C631.1 309.6 640.5 312.3 648.6 316.8C656.6 321.3 663.8 326.6 670.1 332.9C676.3 339.1 681.7 346.3 686.2 354.4C690.6 362.4 693.3 371.8 696.9 381.2C700.5 390.6 703.6 401.3 707.7 410.7C711.7 420.1 716.6 430 721.1 437.6C725.5 445.2 730 451.5 734.5 456.4C739 461.3 743.9 463.8 747.9 467.1C751.9 470.5 756.9 474.9 758.7 476.5M-8.1 103.4C-6.7 103.5 -4.9 103.5 0 104.2C4.9 104.8 14.8 105.7 21.5 107.4C28.2 109 35.8 111.8 40.3 114.1C44.7 116.4 48.3 118.2 48.3 121.3C48.3 124.5 44.7 128.7 40.3 132.9C35.8 137 28.2 142.5 21.5 146.3C14.8 150.1 4.9 153.7 0 155.7C-4.9 157.7 -6.7 157.9 -8.1 158.4M9.4 319.5C9.4 314.1 12.3 307.8 16.1 300.7C19.9 293.5 26.8 284.6 32.2 276.5C37.6 268.5 44.1 260.4 48.3 252.3C52.6 244.3 53.7 235.3 57.7 228.2C61.7 221 65.5 215.7 72.5 209.4C79.4 203.1 89 196 99.3 190.6C109.6 185.2 122.1 180.5 134.2 177.2C146.3 173.8 159.3 171.4 171.8 170.5C184.3 169.6 196.9 170.7 209.4 171.8C221.9 172.9 234.5 174.9 247 177.2C259.5 179.4 273.4 182.1 284.6 185.2C295.7 188.4 306 191.5 314.1 196C322.1 200.4 328.4 205.8 332.9 212.1C337.4 218.3 339.4 226 340.9 233.6C342.5 241.2 343.2 249.7 342.3 257.7C341.4 265.8 339.4 273.8 335.6 281.9C331.8 289.9 326.2 298.4 319.5 306C312.8 313.6 304.7 320.8 295.3 327.5C285.9 334.2 274.7 340.7 263.1 346.3C251.5 351.9 238 357.3 225.5 361.1C213 364.9 200.4 367.8 187.9 369.1C175.4 370.5 162.9 370.2 150.3 369.1C137.8 368 125.3 365.1 112.8 362.4C100.2 359.7 87.2 356.2 75.2 353C63.1 349.9 50.1 347 40.3 343.6C30.4 340.3 21.3 336.9 16.1 332.9C11 328.9 9.4 324.8 9.4 319.5ZM202.7 279.2C202.5 277 204.7 273.7 206.7 272.5C208.7 271.2 212.6 270.8 214.8 271.7C216.9 272.6 219.4 275.7 219.6 277.9C219.8 280 218 283.2 216.1 284.6C214.2 285.9 210.3 286.8 208.1 285.9C205.8 285 202.9 281.4 202.7 279.2ZM941.2 31.7C939.7 31.7 944.2 32.5 932.1 31.7C920 30.9 890.5 28 868.7 26.8C847 25.7 821.7 24.7 801.6 24.7C781.5 24.7 762.7 25.8 747.9 26.8C733.2 27.9 720.6 29.3 713 30.9C705.4 32.4 702.3 34 702.3 36.2C702.3 38.5 705.4 41.4 713 44.3C720.6 47.2 733.2 51 747.9 53.7C762.7 56.4 781.5 58.6 801.6 60.4C821.7 62.2 847 63.5 868.7 64.4C890.5 65.3 920 65.5 932.1 65.8C944.2 66 939.7 66 941.2 66M896.9 112.8C896.9 111.4 899.8 109.5 903.6 108.7C907.4 107.9 915.5 107.3 919.7 107.9C924 108.5 929.1 110.7 929.1 112.2C929.1 113.7 924 116 919.7 116.8C915.5 117.5 907.4 117.4 903.6 116.8C899.8 116.1 896.9 114.1 896.9 112.8ZM941.2 153.6C939.7 153.5 939.7 154 932.1 153C924.5 152 908.4 149.2 895.6 147.7C882.8 146.1 867.4 144.2 855.3 143.6C843.2 143.1 831.4 143.1 823.1 144.4C814.8 145.8 809.2 148.9 805.6 151.7C802.1 154.5 801.2 156.8 801.6 161.1C802.1 165.3 804.3 172.3 808.3 177.2C812.3 182.1 818.4 186.6 825.8 190.6C833.2 194.6 843.2 198.4 852.6 201.3C862 204.3 871.4 206.7 882.1 208.1C892.9 209.4 908.7 209.3 917 209.4C925.4 209.5 928.1 209 932.1 208.9C936.1 208.7 939.7 208.6 941.2 208.6M941.2 238.4C939.7 238.5 939.7 238.6 932.1 238.9C924.5 239.2 908.4 240.7 895.6 240.3C882.8 239.8 867.8 238.3 855.3 236.2C842.8 234.2 830.7 231.8 820.4 228.2C810.1 224.6 800.7 219.7 793.6 214.8C786.4 209.8 781.9 204.5 777.4 198.7C773 192.8 770.3 185.7 766.7 179.9C763.1 174 760.9 168 756 163.8C751.1 159.5 745.2 156.2 737.2 154.4C729.1 152.6 718.8 152.1 707.7 153C696.5 153.9 682.6 157 670.1 159.7C657.5 162.4 644.1 165.8 632.5 169.1C620.9 172.5 609.7 175.8 600.3 179.9C590.9 183.9 582.1 188.8 576.1 193.3C570.1 197.8 565.8 201.8 564 206.7C562.2 211.6 562.9 217.4 565.4 222.8C567.8 228.2 572.1 233.8 578.8 238.9C585.5 244.1 595.3 249.4 605.6 253.7C615.9 257.9 628.9 261.5 640.5 264.4C652.2 267.3 665.1 268.2 675.4 271.1C685.7 274 694.7 277.4 702.3 281.9C709.9 286.4 715.7 292.2 721.1 298C726.4 303.8 730.5 310.1 734.5 316.8C738.5 323.5 741.2 331.1 745.2 338.3C749.3 345.4 753.3 352.6 758.7 359.7C764 366.9 769.8 374.5 777.4 381.2C785.1 387.9 794.5 394.2 804.3 400C814.1 405.8 824.9 411.6 836.5 416.1C848.1 420.6 862 423.5 874.1 426.8C886.2 430.2 899.3 434 909 436.2C918.7 438.5 926.7 439.3 932.1 440.3C937.4 441.2 939.7 441.6 941.2 441.9M649.9 201.3C649.9 199.8 653.3 197 656.6 196C660 194.9 667 194.6 670.1 195.2C673.1 195.7 675.3 197.6 674.9 199.2C674.5 200.8 670.4 203.5 667.4 204.6C664.3 205.6 659.6 205.9 656.6 205.4C653.7 204.8 649.9 202.9 649.9 201.3ZM941.2 263.6C939.7 263.8 939.7 263.8 932.1 264.4C924.5 265 908.4 265.5 895.6 267.1C882.8 268.7 867.4 270.9 855.3 273.8C843.2 276.7 831.6 280.5 823.1 284.6C814.6 288.6 808.3 293.1 804.3 298C800.3 302.9 798.5 308.3 798.9 314.1C799.4 319.9 802.5 326.6 807 332.9C811.5 339.1 818.2 345.9 825.8 351.7C833.4 357.5 842.8 362.9 852.6 367.8C862.5 372.7 874.1 377 884.8 381.2C895.6 385.5 909.2 390.6 917 393.3C924.9 396 928.1 396.2 932.1 397.3C936.1 398.4 939.7 399.6 941.2 400M941.2 292.6C939.7 292.8 937.4 293.1 932.1 294C926.7 294.9 916 296 909 298C902 300 894.7 302.9 890.2 306C885.7 309.2 882.1 312.8 882.1 316.8C882.1 320.8 885.7 326.2 890.2 330.2C894.7 334.2 902 337.8 909 340.9C916 344.1 926.7 347.2 932.1 349C937.4 350.8 939.7 351.2 941.2 351.7" fill="none" stroke="#41474a" stroke-width="2.8" stroke-linejoin="round" stroke-linecap="round"/>
</g>
<rect x="-1" y="0.2" width="932" height="466.2" fill="none" stroke="#000" stroke-width="2.9"/>
<path d="M15.9 466.4v11.6M118.8 466.4v6.2M221.7 466.4v11.6M324.6 466.4v6.2M427.5 466.4v11.6M530.4 466.4v6.2M633.3 466.4v11.6M736.2 466.4v6.2M839.1 466.4v11.6M-1 0.2h-11.6M-1 65h-6.2M-1 129.8h-11.6M-1 194.5h-6.2M-1 259.3h-11.6M-1 324.1h-6.2M-1 388.9h-11.6M-1 453.6h-6.2" stroke="#000" stroke-width="2.6" fill="none"/>
<g font-size="21" text-anchor="middle" stroke="#000" stroke-width=".3">
<text transform="translate(16.9 501) scale(.95 1)">100</text>
<text transform="translate(222.7 501) scale(.95 1)">200</text>
<text transform="translate(428.5 501) scale(.95 1)">300</text>
<text transform="translate(634.3 501) scale(.95 1)">400</text>
<text transform="translate(840.1 501) scale(.95 1)">500</text>
</g><g font-size="21" text-anchor="end" stroke="#000" stroke-width=".3">
<text transform="translate(-19.5 7.1) scale(.95 1)">0</text>
<text transform="translate(-19.5 136.7) scale(.95 1)">50</text>
<text transform="translate(-19.5 266.2) scale(.95 1)">100</text>
<text transform="translate(-19.5 395.8) scale(.95 1)">150</text>
</g>
<text x="466" y="545.4" font-size="32" text-anchor="middle">X(m)</text>
<text transform="translate(-69 233.2) rotate(-90) scale(.96 1)" font-size="31.5" text-anchor="middle">Z(m)</text>
<text x="0.8" y="-7.6" font-size="50.8">Row 16</text>
<text transform="translate(-192 -50.4) scale(1.045 1)" font-size="58">(d4)</text>
<path d="M417.5 1.5V464.9" stroke="#c9c9c9" stroke-width="3.2" fill="none"/>
<text transform="translate(444.3 -9.5) rotate(-90) scale(.9 1)" font-size="36">F106</text>
<path d="M475.6 1.5V464.9" stroke="#c9c9c9" stroke-width="3.2" fill="none"/>
<path d="M445.9 1.5V464.9" stroke="#000" stroke-width="2.3" stroke-dasharray="14.7 10.8" stroke-dashoffset="-2" fill="none"/>
<text transform="translate(493.8 -13.4) rotate(-90) scale(.9 1)" font-size="36">F104</text>
<path d="M626.8 1.5V464.9" stroke="#c9c9c9" stroke-width="3.2" fill="none"/>
<path d="M607.8 1.5V464.9" stroke="#000" stroke-width="2.3" stroke-dasharray="14.7 10.8" stroke-dashoffset="-2" fill="none"/>
<text transform="translate(630.3 -11.5) rotate(-90) scale(.9 1)" font-size="36">F102</text>
<rect x="963.6" y="-2" width="27.2" height="7.9" fill="#721d84"/>
<rect x="963.6" y="5.3" width="27.2" height="7.9" fill="#791a8b"/>
<rect x="963.6" y="12.6" width="27.2" height="7.9" fill="#722992"/>
<rect x="963.6" y="19.9" width="27.2" height="7.9" fill="#6a3a98"/>
<rect x="963.6" y="27.2" width="27.2" height="7.9" fill="#5d409a"/>
<rect x="963.6" y="34.6" width="27.2" height="7.9" fill="#4f459d"/>
<rect x="963.6" y="41.9" width="27.2" height="7.9" fill="#41489f"/>
<rect x="963.6" y="49.2" width="27.2" height="7.9" fill="#324a9f"/>
<rect x="963.6" y="56.5" width="27.2" height="7.9" fill="#244ba0"/>
<rect x="963.6" y="63.8" width="27.2" height="7.9" fill="#2453a8"/>
<rect x="963.6" y="71.1" width="27.2" height="7.9" fill="#255bb0"/>
<rect x="963.6" y="78.4" width="27.2" height="7.9" fill="#2868b7"/>
<rect x="963.6" y="85.8" width="27.2" height="7.9" fill="#2b77c0"/>
<rect x="963.6" y="93.1" width="27.2" height="7.9" fill="#2d8ccd"/>
<rect x="963.6" y="100.4" width="27.2" height="7.9" fill="#2fa0da"/>
<rect x="963.6" y="107.7" width="27.2" height="7.9" fill="#33b2e3"/>
<rect x="963.6" y="115" width="27.2" height="7.9" fill="#48bbe0"/>
<rect x="963.6" y="122.3" width="27.2" height="7.9" fill="#63bfc9"/>
<rect x="963.6" y="129.6" width="27.2" height="7.9" fill="#6cbe9c"/>
<rect x="963.6" y="136.9" width="27.2" height="7.9" fill="#6bbb68"/>
<rect x="963.6" y="144.2" width="27.2" height="7.9" fill="#69b93b"/>
<rect x="963.6" y="151.6" width="27.2" height="7.9" fill="#6ab82f"/>
<rect x="963.6" y="158.9" width="27.2" height="7.9" fill="#6eb82d"/>
<rect x="963.6" y="166.2" width="27.2" height="7.9" fill="#71b82b"/>
<rect x="963.6" y="173.5" width="27.2" height="7.9" fill="#7bbb29"/>
<rect x="963.6" y="180.8" width="27.2" height="7.9" fill="#8bbf28"/>
<rect x="963.6" y="188.1" width="27.2" height="7.9" fill="#9dc629"/>
<rect x="963.6" y="195.4" width="27.2" height="7.9" fill="#aece2b"/>
<rect x="963.6" y="202.8" width="27.2" height="7.9" fill="#c0d42e"/>
<rect x="963.6" y="210.1" width="27.2" height="7.9" fill="#d0da32"/>
<rect x="963.6" y="217.4" width="27.2" height="7.9" fill="#dfe033"/>
<rect x="963.6" y="224.7" width="27.2" height="7.9" fill="#ede731"/>
<rect x="963.6" y="232" width="27.2" height="7.9" fill="#f4de2a"/>
<rect x="963.6" y="239.3" width="27.2" height="7.9" fill="#f6cb20"/>
<rect x="963.6" y="246.6" width="27.2" height="7.9" fill="#f5b51f"/>
<rect x="963.6" y="253.9" width="27.2" height="7.9" fill="#f3a11e"/>
<rect x="963.6" y="261.2" width="27.2" height="7.9" fill="#f1921d"/>
<rect x="963.6" y="268.6" width="27.2" height="7.9" fill="#ef7f1c"/>
<rect x="963.6" y="275.9" width="27.2" height="7.9" fill="#ec6a1c"/>
<rect x="963.6" y="283.2" width="27.2" height="7.9" fill="#e94e1b"/>
<rect x="963.6" y="290.5" width="27.2" height="7.9" fill="#e82f1b"/>
<rect x="963.6" y="297.8" width="27.2" height="7.9" fill="#e81b1c"/>
<rect x="963.6" y="305.1" width="27.2" height="7.9" fill="#e8181c"/>
<rect x="963.6" y="312.4" width="27.2" height="7.9" fill="#e8151c"/>
<rect x="963.6" y="319.8" width="27.2" height="7.9" fill="#e8151c"/>
<rect x="963.6" y="327.1" width="27.2" height="7.9" fill="#e8151c"/>
<rect x="963.6" y="334.4" width="27.2" height="7.9" fill="#e8151c"/>
<rect x="963.6" y="341.7" width="27.2" height="7.9" fill="#e8151c"/>
<rect x="963.6" y="349" width="27.2" height="7.9" fill="#e8151c"/>
<rect x="963.6" y="356.3" width="27.2" height="7.9" fill="#e8151c"/>
<rect x="963.6" y="363.6" width="27.2" height="7.9" fill="#e8151c"/>
<rect x="963.6" y="370.9" width="27.2" height="7.9" fill="#e5151c"/>
<rect x="963.6" y="378.2" width="27.2" height="7.9" fill="#d9141c"/>
<rect x="963.6" y="385.6" width="27.2" height="7.9" fill="#ca171e"/>
<rect x="963.6" y="392.9" width="27.2" height="7.9" fill="#b81c22"/>
<rect x="963.6" y="400.2" width="27.2" height="7.9" fill="#ae1f23"/>
<rect x="963.6" y="407.5" width="27.2" height="7.9" fill="#a52025"/>
<rect x="963.6" y="414.8" width="27.2" height="7.9" fill="#9f2026"/>
<rect x="963.6" y="422.1" width="27.2" height="7.9" fill="#992028"/>
<rect x="963.6" y="429.4" width="27.2" height="7.9" fill="#8f1e26"/>
<rect x="963.6" y="436.8" width="27.2" height="7.9" fill="#841d23"/>
<rect x="963.6" y="444.1" width="27.2" height="7.9" fill="#7b1a20"/>
<rect x="963.6" y="451.4" width="27.2" height="7.9" fill="#72161d"/>
<rect x="963.6" y="458.7" width="27.2" height="7.9" fill="#6a121a"/>
<rect x="963.6" y="-2" width="27.2" height="468" fill="none" stroke="#000" stroke-width="3.4"/>
<path d="M990.8 -2h31M990.8 56.5h31M990.8 115h31M990.8 173.5h31M990.8 232h31M990.8 290.5h31M990.8 349h31M990.8 407.5h31M990.8 466h31" stroke="#000" stroke-width="2.6" fill="none"/>
<g font-size="21">
<text transform="translate(1030.3 5.8) scale(.97 1)">-20%</text>
<text transform="translate(1030.3 64.3) scale(.97 1)">-14%</text>
<text transform="translate(1030.3 122.8) scale(.97 1)">-9%</text>
<text transform="translate(1030.3 181.3) scale(.97 1)">-3%</text>
<text transform="translate(1030.3 239.8) scale(.97 1)">2%</text>
<text transform="translate(1030.3 298.3) scale(.97 1)">8%</text>
<text transform="translate(1030.3 356.8) scale(.97 1)">14%</text>
<text transform="translate(1030.3 415.3) scale(.97 1)">19%</text>
<text transform="translate(1030.3 473.8) scale(.97 1)">25%</text>
</g>
<text x="952.5" y="520" font-size="25">dVs/Vs (%)</text>
</g>
<g transform="translate(229 2817.4)">
<g clip-path="url(#pc)">
<defs><path id="c5_0" d="M-18 -10.7C-15 -10.7 -158.3 -10.7 0 -10.7C158.3 -10.7 773.7 -10.7 932.1 -10.7C1090.4 -10.7 947.1 -10.7 950.1 -10.7H962V496.4H-30V-10.7Z"/><path id="c5_1" d="M156.6 -5.8C159.6 -5.5 164.8 -5 174.5 -4C184.2 -3.1 199.1 -1.2 214.8 0C230.4 1.2 250.6 2.2 268.5 3.2C286.4 4.2 304.3 5.1 322.1 5.9C340 6.7 359.7 7.5 375.8 8.1C391.9 8.6 403.8 9 418.8 9.4C433.8 9.8 449.2 9.9 466 10.2C482.9 10.5 504.1 11.6 519.7 11.3C535.4 10.9 546.6 9.3 560 8.1C573.4 6.8 584.6 5.1 600.3 4C615.9 2.9 631.6 1.8 654 1.3C676.3 0.9 688.1 1.2 734.5 1.3C780.9 1.5 896.1 2 932.1 2.1C968 2.3 947.1 2.2 950.1 2.2H962V496.4H-30V-5.8Z"/><path id="c5_2" d="M-4.5 -4.7C-1.5 -4.4 3.7 -4 13.4 -3.2C23.1 -2.4 38 -1.1 53.7 0C69.4 1.1 89.5 2.1 107.4 3.2C125.3 4.3 143.2 5.5 161.1 6.7C179 8 196.9 9.5 214.8 10.7C232.7 11.9 250.6 13 268.5 14C286.4 14.9 304.3 15.7 322.1 16.6C340 17.5 359.7 18.5 375.8 19.3C391.9 20.1 403.8 20.9 418.8 21.5C433.8 22.1 449.2 22.1 466 22.8C482.9 23.5 501.8 24.6 519.7 25.5C537.6 26.4 555.5 27.1 573.4 28.2C591.3 29.3 609.2 30.9 627.1 32.2C645 33.6 662.9 35 680.8 36.2C698.7 37.5 716.6 38.8 734.5 39.7C752.4 40.6 770.3 41.2 788.2 41.6C806.1 42.1 824 42.6 841.9 42.4C859.8 42.2 880.5 41.2 895.6 40.3C910.6 39.4 923 37.8 932.1 37C941.2 36.2 947 35.7 950 35.5H962V496.4H-30V-4.7Z"/><path id="c5_3" d="M-18 3.4C-15 3.5 -11.9 3.6 0 4C11.9 4.4 35.8 5 53.7 5.9C71.6 6.8 89.5 7.9 107.4 9.4C125.3 10.9 143.2 12.8 161.1 14.8C179 16.7 196.9 19.1 214.8 20.9C232.7 22.7 250.6 24.3 268.5 25.5C286.4 26.7 304.3 27.4 322.1 28.2C340 28.9 359.7 29.6 375.8 30.1C391.9 30.6 403.8 30.9 418.8 31.1C433.8 31.4 449.2 31.3 466 31.7C482.9 32.1 501.8 32.8 519.7 33.6C537.6 34.3 555.5 35.1 573.4 36.2C591.3 37.4 609.2 38.7 627.1 40.3C645 41.8 662.9 44.1 680.8 45.6C698.7 47.2 712.1 48.5 734.5 49.7C756.9 50.8 782.1 51.9 815 52.3C848 52.8 909.6 52.3 932.1 52.3C954.6 52.3 947.1 52.3 950.1 52.3H962V496.4H-30V3.4Z"/><path id="c5_4" d="M-18 9.7C-15 9.8 -9.7 9.9 0 10.2C9.7 10.5 26.8 10.5 40.3 11.3C53.7 12 68.5 12.8 80.5 14.8C92.6 16.7 101.6 20.3 112.8 22.8C123.9 25.4 135.1 28.1 147.7 30.1C160.2 32 172.3 33.1 187.9 34.4C203.6 35.6 223.7 36.8 241.6 37.6C259.5 38.3 277.4 38.6 295.3 38.9C313.2 39.3 328.4 39.5 349 39.7C369.6 40 399.3 40.2 418.8 40.3C438.3 40.4 449.2 39.9 466 40.3C482.9 40.6 501.8 41.3 519.7 42.4C537.6 43.5 555.5 45.3 573.4 47C591.3 48.6 609.2 50.6 627.1 52.3C645 54.1 662.9 56.2 680.8 57.7C698.7 59.2 712.1 60.2 734.5 61.2C756.9 62.2 782.1 63.4 815 63.9C848 64.4 909.6 64.3 932.1 64.4C954.6 64.5 947.1 64.5 950.1 64.5H962V496.4H-30V9.7Z"/><path id="c5_5" d="M-18 21.6C-15 21.8 -7.5 22.3 0 22.8C7.5 23.3 19.2 23.4 26.8 24.7C34.5 26 39.8 28.9 45.6 30.9C51.5 32.8 53.7 34.6 61.7 36.2C69.8 37.9 81.9 39.5 94 40.8C106 42.1 118.6 43.1 134.2 44.3C149.9 45.5 170 46.8 187.9 47.8C205.8 48.8 223.7 49.8 241.6 50.5C259.5 51.1 277.4 51.2 295.3 51.5C313.2 51.9 328.4 52.2 349 52.3C369.6 52.5 399.3 52.6 418.8 52.6C438.3 52.6 449.2 51.9 466 52.3C482.9 52.8 501.8 53.7 519.7 55C537.6 56.4 555.5 58.6 573.4 60.4C591.3 62.2 609.2 64.3 627.1 65.8C645 67.2 662.9 68.2 680.8 69.3C698.7 70.3 712.1 70.9 734.5 71.9C756.9 73 792.7 74.7 815 75.7C837.4 76.7 849.2 77.5 868.7 77.9C888.2 78.2 918.5 77.9 932.1 77.9C945.6 77.9 947.1 77.9 950.1 77.9H962V496.4H-30V21.6Z"/><path id="c5_6" d="M-18 55.8C-15 55.8 -11.9 55.8 0 55.8C11.9 55.8 35.8 55.7 53.7 55.8C71.6 55.9 89.5 55.8 107.4 56.4C125.3 56.9 143.2 58.1 161.1 59.1C179 60 196.9 61.2 214.8 62.3C232.7 63.4 250.6 64.6 268.5 65.8C286.4 66.9 304.3 68.1 322.1 69.3C340 70.5 359.7 71.9 375.8 73C391.9 74.1 403.8 75.2 418.8 76C433.8 76.8 449.2 77.2 466 77.9C482.9 78.5 501.8 79 519.7 80C537.6 81 555.5 82.7 573.4 83.8C591.3 84.8 609.2 85.6 627.1 86.4C645 87.2 662.9 87.6 680.8 88.6C698.7 89.6 716.6 90.8 734.5 92.6C752.4 94.4 770.3 97.1 788.2 99.3C806.1 101.6 826.2 104.2 841.9 106C857.5 107.9 867.1 110.1 882.1 110.6C897.2 111.1 920.8 109.4 932.1 109C943.4 108.6 947.1 108.5 950.1 108.4H962V496.4H-30V55.8Z"/><path id="c5_7" d="M-18 83.2C-15 83.3 -11.9 83.4 0 83.8C11.9 84.1 35.8 84.8 53.7 85.4C71.6 86 89.5 86.6 107.4 87.2C125.3 87.9 143.2 88.5 161.1 89.1C179 89.7 196.9 90.1 214.8 90.7C232.7 91.4 250.6 92.2 268.5 92.9C286.4 93.6 304.3 94.4 322.1 95C340 95.7 359.7 96.2 375.8 96.6C391.9 97.1 403.8 97.6 418.8 98C433.8 98.3 449.2 98.2 466 98.8C482.9 99.4 501.8 100.6 519.7 101.5C537.6 102.4 555.5 103.3 573.4 104.2C591.3 105.1 612.8 105.6 627.1 106.8C641.4 108.1 649.5 109.5 659.3 111.4C669.2 113.3 679.5 115.2 686.2 118.1C692.9 121 697.1 124.4 699.6 128.9C702.1 133.3 700.5 139.1 700.9 145C701.4 150.8 700.7 158.4 702.3 163.8C703.8 169.1 706.3 173.7 710.3 177.2C714.4 180.7 720.2 183.4 726.4 184.7C732.7 186 740.8 186 747.9 185.2C755.1 184.4 762.7 182.6 769.4 179.9C776.1 177.2 781.9 172.9 788.2 169.1C794.5 165.3 800.3 160.6 807 157C813.7 153.5 820.4 150.2 828.5 147.7C836.5 145.1 845 143.4 855.3 141.7C865.6 140 877.4 138.6 890.2 137.4C903 136.3 922.1 135.6 932.1 135C942.1 134.5 947.1 134.2 950.1 134H962V496.4H-30V83.2Z"/><path id="c5_8" d="M-18 96.3C-15 96.4 -11.9 96.6 0 97.2C11.9 97.8 35.8 99 53.7 99.9C71.6 100.8 89.5 101.8 107.4 102.6C125.3 103.3 143.2 103.6 161.1 104.2C179 104.7 196.9 105.3 214.8 106C232.7 106.8 250.6 107.6 268.5 108.7C286.4 109.8 304.3 111.2 322.1 112.8C340 114.3 359.7 116.6 375.8 118.1C391.9 119.7 403.8 121 418.8 122.1C433.8 123.3 451.5 123.3 466 124.8C480.6 126.4 492.9 130.3 506.3 131.5C519.7 132.8 534.5 131.6 546.6 132.1C558.7 132.5 569.8 132.5 578.8 134.2C587.7 135.9 594.7 138.7 600.3 142.3C605.9 145.9 611 151.2 612.3 155.7C613.7 160.2 611.2 164.2 608.3 169.1C605.4 174 598.5 179.9 594.9 185.2C591.3 190.6 587.5 196 586.8 201.3C586.2 206.7 587.7 212.5 590.9 217.4C594 222.4 598.7 226.6 605.6 230.9C612.6 235.1 622.2 239.9 632.5 243C642.8 246 654.9 247.8 667.4 249.1C679.9 250.5 694.2 250.9 707.7 251C721.1 251.1 735.4 249.8 747.9 249.7C760.4 249.5 774.3 249.1 782.8 250.2C791.3 251.3 794.5 252.9 798.9 256.4C803.4 259.9 806.5 266 809.7 271.1C812.8 276.3 815 281.9 817.7 287.2C820.4 292.6 822.2 298 825.8 303.4C829.4 308.7 833.4 314.3 839.2 319.5C845 324.6 852.6 329.3 860.7 334.2C868.7 339.1 875.6 344.5 887.5 349C899.4 353.5 921.8 358.3 932.1 361.1C942.4 363.9 946.6 365 949.5 365.8H962V496.4H-30V96.3Z"/><path id="c5_9" d="M943.9 156.2C928.2 157 909.4 159.1 895.6 161.1C881.7 163 870.5 165.1 860.7 167.8C850.8 170.5 842.8 172.5 836.5 177.2C830.2 181.9 826.3 189.3 823.1 196C819.9 202.7 817.2 211.6 817.2 217.4C817.2 223.3 819 227.7 823.1 230.9C827.2 234.1 834.3 235.5 841.9 236.8C849.5 238 859.8 238.4 868.7 238.4C877.7 238.4 883 237.3 895.6 236.8C908.1 236.2 928.2 235.4 943.9 235.2C959.6 234.9 981.9 248.3 989.5 235.2C997.1 222 997.1 169.4 989.5 156.2C981.9 143.1 959.6 155.4 943.9 156.2Z"/><path id="c5_10" d="M943.9 271.1C930.5 272.5 917.9 276.3 909 279.2C900 282.1 894.8 285 890.2 288.6C885.6 292.2 882.5 296.4 881.6 300.7C880.7 304.9 882.1 310.1 884.8 314.1C887.6 318.1 892.9 321.7 898.3 324.8C903.6 328 909.4 330.9 917 332.9C924.7 334.9 931.8 336.2 943.9 336.9C956 337.6 981.9 347.9 989.5 336.9C997.1 326 997.1 282.1 989.5 271.1C981.9 260.2 957.3 269.8 943.9 271.1Z"/><path id="c5_11" d="M-17.9 108.5C-14.9 108.7 -11.9 109 0 110.1C11.9 111.1 35.8 113.5 53.7 114.9C71.6 116.3 89.5 117.4 107.4 118.7C125.3 119.9 143.2 121 161.1 122.1C179 123.3 196.9 124.2 214.8 125.6C232.7 127.1 250.6 128.9 268.5 131C286.4 133.1 304.3 135.5 322.1 138.3C340 141 359.7 144.3 375.8 147.7C391.9 151 407.6 155.5 418.8 158.4C430 161.3 435.1 162.9 443 165.1C450.8 167.3 459.5 169.6 466 171.8C472.6 174 477.7 175.4 482.1 178.5C486.6 181.7 490.2 185.5 492.9 190.6C495.6 195.7 496 203.1 498.3 209.4C500.5 215.7 502.7 221.9 506.3 228.2C509.9 234.5 514.4 240.9 519.7 247C525.1 253 531.8 259.5 538.5 264.4C545.2 269.4 551.9 273.2 560 276.5C568.1 279.9 577 282.6 586.8 284.6C596.7 286.6 607.9 287.6 619.1 288.6C630.2 289.6 641.4 289.7 654 290.5C666.5 291.2 681.7 291.9 694.2 293.2C706.8 294.4 717.9 295.8 729.1 298C740.3 300.1 751.5 302.7 761.3 306C771.2 309.4 779.2 313 788.2 318.1C797.1 323.3 806.1 330.9 815 336.9C824 343 832.9 349 841.9 354.4C850.8 359.7 859.8 365.1 868.7 369.1C877.7 373.2 886.6 376.2 895.6 378.5C904.5 380.9 915 382 922.4 383.4C929.8 384.7 937.2 386 940.1 386.5H962V496.4H-30V108.5Z"/><path id="c5_12" d="M-16.9 154.9C-14.1 155.9 -5.5 159.1 0 161.1C5.5 163.1 10.7 165.7 16.1 167C21.5 168.2 26.8 169 32.2 168.6C37.6 168.1 43 166.7 48.3 164.3C53.7 161.9 58.2 157.6 64.4 154.4C70.7 151.1 77.9 147.3 85.9 145C94 142.6 102.5 141 112.8 140.1C123 139.2 135.1 139.3 147.7 139.6C160.2 139.9 174.5 140.6 187.9 141.7C201.3 142.9 214.8 144.4 228.2 146.3C241.6 148.2 255 150.6 268.5 153C281.9 155.5 295.3 158.2 308.7 161.1C322.1 164 336.9 167.1 349 170.5C361.1 173.8 372.3 177.4 381.2 181.2C390.2 185 397.3 188.6 402.7 193.3C408.1 198 410.3 203.6 413.4 209.4C416.6 215.2 417.9 221.9 421.5 228.2C425.1 234.5 430 240.9 434.9 247C439.8 253 445.8 258.8 451 264.4C456.2 270 460.9 275.8 466 280.5C471.2 285.2 476.3 288.6 482.1 292.6C488 296.6 493.8 301.3 500.9 304.7C508.1 308.1 515.3 310.5 525.1 312.8C534.9 315 547.5 316.8 560 318.1C572.5 319.5 586.8 320.4 600.3 320.8C613.7 321.3 627.1 320.1 640.5 320.8C654 321.5 667.4 322.8 680.8 324.8C694.2 326.8 708.5 330 721.1 332.9C733.6 335.8 744.8 338.3 756 342.3C767.2 346.3 778.3 351.9 788.2 357C798 362.2 806.1 368.2 815 373.2C824 378.1 832.9 382.8 841.9 386.6C850.8 390.4 859.8 393.5 868.7 396C877.7 398.4 886.6 400.1 895.6 401.3C904.5 402.6 915 402.9 922.4 403.5C929.9 404.1 937.4 404.7 940.4 404.9H962V496.4H-30V154.9Z"/><path id="c5_13" d="M-16.5 246.1C-13.7 244.9 -6.3 241.7 0 238.9C6.3 236.2 14.3 233.6 21.5 229.5C28.6 225.5 35.8 219.7 43 214.8C50.1 209.8 56.8 204.9 64.4 200C72 195.1 80.1 189.7 88.6 185.2C97.1 180.8 106.5 176.4 115.4 173.2C124.4 169.9 132.4 167.7 142.3 165.9C152.1 164.1 163.8 162.9 174.5 162.4C185.2 162 196.4 162.2 206.7 163.2C217 164.3 226.8 166.5 236.2 168.6C245.6 170.7 254.1 173.1 263.1 175.8C272 178.6 282.3 181.9 289.9 185.2C297.5 188.6 303.8 191.9 308.7 196C313.6 200 316.6 204.5 319.5 209.4C322.4 214.3 323 220.1 326.2 225.5C329.3 230.9 333.1 235.8 338.3 241.6C343.4 247.4 350.8 254.6 357 260.4C363.3 266.2 369.1 270.9 375.8 276.5C382.6 282.1 390.2 288.6 397.3 294C404.5 299.3 411.2 304.3 418.8 308.7C426.4 313.2 435.1 317.4 443 320.8C450.8 324.2 457.7 326 466 328.9C474.4 331.8 483 335.6 492.9 338.3C502.7 340.9 513.9 343.3 525.1 345C536.3 346.7 547.5 347.8 560 348.5C572.5 349.1 586.8 348.9 600.3 349C613.7 349.1 628 348.3 640.5 349C653.1 349.7 664.3 351.2 675.4 353C686.6 354.8 696.9 356.9 707.7 359.7C718.4 362.6 728.7 365.9 739.9 369.9C751.1 374 763.1 379.1 774.8 383.9C786.4 388.7 798.5 394.2 809.7 398.7C820.9 403.1 831.1 407.5 841.9 410.7C852.6 414 864.3 416.4 874.1 418.3C883.9 420.1 892.9 421 900.9 422C909 423 915.9 423.5 922.4 424.2C929 424.8 937.3 425.7 940.3 426H962V496.4H-30V246.1Z"/><path id="c5_14" d="M-17.5 298C-14.6 297.4 -9.6 296.2 0 294C9.6 291.7 26.8 287.2 40.3 284.6C53.7 281.9 67.1 280.8 80.5 277.9C94 274.9 108.3 270.7 120.8 267.1C133.3 263.5 145.4 259.1 155.7 256.4C166 253.7 174.5 252 182.6 251C190.6 250 196.4 249.5 204 250.2C211.6 250.9 219.7 252.7 228.2 255C236.7 257.4 246.1 260.6 255 264.4C264 268.2 272.9 272.9 281.9 277.9C290.8 282.8 299.8 288.4 308.7 294C317.7 299.6 326.6 305.6 335.6 311.4C344.5 317.2 353.5 323.9 362.4 328.9C371.4 333.8 379.9 337.4 389.3 340.9C398.7 344.5 409.8 347.7 418.8 350.3C427.7 353 435.1 355 443 357C450.8 359.1 455.5 360.3 466 362.4C476.6 364.6 492.9 367.8 506.3 369.9C519.7 372.1 533.2 373.9 546.6 375.3C560 376.7 573.4 377.9 586.8 378.5C600.3 379.1 613.7 378.2 627.1 379.1C640.5 380 654 381.7 667.4 383.9C680.8 386 694.2 388.8 707.7 391.9C721.1 395.1 734.5 398.7 747.9 402.7C761.3 406.7 774.8 411.6 788.2 416.1C801.6 420.6 815 425.7 828.5 429.5C841.9 433.3 853.1 436.2 868.7 438.9C884.4 441.6 910.5 444.1 922.4 445.6C934.3 447.1 937.3 447.5 940.3 447.9H962V496.4H-30V298Z"/><path id="c5_15" d="M-17.9 341.4C-14.9 341.1 -11.9 340.8 0 339.6C11.9 338.4 35.8 336 53.7 334.2C71.6 332.4 91.7 330.9 107.4 328.9C123 326.8 135.1 324.4 147.7 322.1C160.2 319.9 173.2 316.7 182.6 315.4C191.9 314.2 196.4 313.5 204 314.6C211.6 315.7 219.7 318.7 228.2 322.1C236.7 325.6 246.1 331.1 255 335.6C264 340 270.7 344.1 281.9 349C293.1 353.9 308.7 360.2 322.1 365.1C335.6 370 349 374.5 362.4 378.5C375.8 382.6 389.3 385.9 402.7 389.3C416.1 392.6 432.4 396.6 443 398.7C453.5 400.7 455.5 400 466 401.3C476.6 402.7 492.9 404.9 506.3 406.7C519.7 408.5 533.2 410.6 546.6 412.1C560 413.6 573.4 414.5 586.8 415.6C600.3 416.6 613.7 416.4 627.1 418.3C640.5 420.1 654 423.8 667.4 426.8C680.8 429.8 694.2 432.9 707.7 436.2C721.1 439.6 734.5 443.6 747.9 447C761.3 450.3 774.8 453.6 788.2 456.4C801.6 459.2 817.3 461.6 828.5 463.9C839.6 466.2 847.9 468.6 855.3 470.3C862.7 472.1 869.9 473.8 872.8 474.5V496.4H-30V341.4Z"/><path id="c5_16" d="M-18 386.3C-15 386.3 -16.4 386.3 0 386.6C16.4 386.9 55.9 387.2 80.5 387.9C105.1 388.6 127.5 389.5 147.7 390.6C167.8 391.7 185.7 392.6 201.3 394.6C217 396.6 228.2 399.3 241.6 402.7C255 406 268.5 410.7 281.9 414.8C295.3 418.8 308.7 422.8 322.1 426.8C335.6 430.9 349 435.3 362.4 438.9C375.8 442.5 389.3 445.6 402.7 448.3C416.1 451 432.4 453.5 443 455C453.5 456.6 457.7 456.6 466 457.7C474.4 458.8 481.7 459.7 492.9 461.7C504.1 463.8 523.5 467.9 533.2 469.8C542.8 471.7 547.9 472.7 550.8 473.3V496.4H-30V386.3Z"/></defs>
<use href="#c5_0" fill="#8C1B22"/>
<use href="#c5_1" fill="#BE1C24"/>
<use href="#c5_2" fill="#E8151C"/>
<use href="#c5_3" fill="#E8151C"/>
<use href="#c5_4" fill="#E8151C"/>
<use href="#c5_5" fill="#EE7219"/>
<use href="#c5_6" fill="#F5CE1F"/>
<use href="#c5_7" fill="#D2DE35"/>
<use href="#c5_8" fill="#96C623"/>
<use href="#c5_9" fill="#96C623"/>
<use href="#c5_10" fill="#F5CE1F"/>
<use href="#c5_11" fill="#6DB92D"/>
<use href="#c5_11" fill="url(#hf)"/>
<use href="#c5_12" fill="#6CC5D8"/>
<use href="#c5_12" fill="url(#hx)"/>
<use href="#c5_13" fill="#2E7AC0"/>
<use href="#c5_13" fill="url(#hb)"/>
<use href="#c5_14" fill="#244A9E"/>
<use href="#c5_15" fill="#5E3B96"/>
<use href="#c5_16" fill="#652566"/>
<g fill="none" stroke="#41474a" stroke-width="2.8" stroke-linejoin="round"><use href="#c5_1"/><use href="#c5_2"/><use href="#c5_3"/><use href="#c5_4"/><use href="#c5_5"/><use href="#c5_6"/><use href="#c5_7"/><use href="#c5_8"/><use href="#c5_9"/><use href="#c5_10"/><use href="#c5_14"/><use href="#c5_15"/><use href="#c5_16"/></g>
<g fill="none" stroke="#ee1c24" stroke-width="3.8" stroke-linejoin="round"><use href="#c5_11"/><use href="#c5_12"/><use href="#c5_13"/></g>
<rect x="922.4" y="0" width="11.6" height="466.4" fill="#fff"/>
<path d="M921.9 0V466.4" stroke="#41474a" stroke-width="2.4" fill="none"/>
</g>
<rect x="-0.4" y="0.2" width="932" height="466.2" fill="none" stroke="#000" stroke-width="2.9"/>
<path d="M15.9 466.4v11.6M118.8 466.4v6.2M221.7 466.4v11.6M324.6 466.4v6.2M427.5 466.4v11.6M530.4 466.4v6.2M633.3 466.4v11.6M736.2 466.4v6.2M839.1 466.4v11.6M-0.4 0.2h-11.6M-0.4 65h-6.2M-0.4 129.8h-11.6M-0.4 194.5h-6.2M-0.4 259.3h-11.6M-0.4 324.1h-6.2M-0.4 388.9h-11.6M-0.4 453.6h-6.2" stroke="#000" stroke-width="2.6" fill="none"/>
<g font-size="21" text-anchor="middle" stroke="#000" stroke-width=".3">
<text transform="translate(16.9 501) scale(.95 1)">100</text>
<text transform="translate(222.7 501) scale(.95 1)">200</text>
<text transform="translate(428.5 501) scale(.95 1)">300</text>
<text transform="translate(634.3 501) scale(.95 1)">400</text>
<text transform="translate(840.1 501) scale(.95 1)">500</text>
</g><g font-size="21" text-anchor="end" stroke="#000" stroke-width=".3">
<text transform="translate(-19.5 7.1) scale(.95 1)">0</text>
<text transform="translate(-19.5 136.7) scale(.95 1)">50</text>
<text transform="translate(-19.5 266.2) scale(.95 1)">100</text>
<text transform="translate(-19.5 395.8) scale(.95 1)">150</text>
</g>
<text x="466" y="545.4" font-size="32" text-anchor="middle">X(m)</text>
<text transform="translate(-69 233.2) rotate(-90) scale(.96 1)" font-size="31.5" text-anchor="middle">Z(m)</text>
<text x="12.3" y="-5.7" font-size="50.8">Row 17</text>
<text transform="translate(-196.3 -50.4) scale(1.045 1)" font-size="58">(c5)</text>
<path d="M456.3 1.5V464.9" stroke="#c9c9c9" stroke-width="3.2" fill="none"/>
<text transform="translate(472 -10.6) rotate(-90) scale(.9 1)" font-size="36">F106</text>
<path d="M627.1 1.5V464.9" stroke="#c9c9c9" stroke-width="3.2" fill="none"/>
<path d="M608.7 1.5V464.9" stroke="#000" stroke-width="2.3" stroke-dasharray="14.7 10.8" stroke-dashoffset="-2" fill="none"/>
<text transform="translate(633.6 -13.5) rotate(-90) scale(.9 1)" font-size="36">F102</text>
<rect x="964.5" y="-2" width="26.8" height="29.9" fill="#660E16"/>
<rect x="964.5" y="27.2" width="26.8" height="29.9" fill="#8C1B22"/>
<rect x="964.5" y="56.5" width="26.8" height="29.9" fill="#BE1C24"/>
<rect x="964.5" y="85.8" width="26.8" height="29.9" fill="#E8151C"/>
<rect x="964.5" y="115" width="26.8" height="29.9" fill="#E8151C"/>
<rect x="964.5" y="144.2" width="26.8" height="29.9" fill="#E8151C"/>
<rect x="964.5" y="173.5" width="26.8" height="29.9" fill="#EE7219"/>
<rect x="964.5" y="202.8" width="26.8" height="29.9" fill="#F5CE1F"/>
<rect x="964.5" y="232" width="26.8" height="29.9" fill="#D2DE35"/>
<rect x="964.5" y="261.2" width="26.8" height="29.9" fill="#96C623"/>
<rect x="964.5" y="290.5" width="26.8" height="29.9" fill="#6DB92D"/>
<rect x="964.5" y="319.8" width="26.8" height="29.9" fill="#6CC5D8"/>
<rect x="964.5" y="349" width="26.8" height="29.9" fill="#2E7AC0"/>
<rect x="964.5" y="378.2" width="26.8" height="29.9" fill="#244A9E"/>
<rect x="964.5" y="407.5" width="26.8" height="29.9" fill="#5E3B96"/>
<rect x="964.5" y="436.8" width="26.8" height="29.9" fill="#652566"/>
<path d="M964.5 319.8L991.3 290.5" stroke="#000" stroke-width="1.6"/>
<path d="M964.5 349L991.3 319.8M964.5 319.8L991.3 349" stroke="#000" stroke-width="1.6"/>
<path d="M964.5 349L991.3 378.2" stroke="#000" stroke-width="1.6"/>
<rect x="964.5" y="-2" width="26.8" height="468" fill="none" stroke="#000" stroke-width="3.4"/>
<path d="M991.3 -2h31M991.3 56.5h31M991.3 115h31M991.3 173.5h31M991.3 232h31M991.3 290.5h31M991.3 349h31M991.3 407.5h31M991.3 466h31" stroke="#000" stroke-width="2.6" fill="none"/>
<g font-size="21">
<text transform="translate(1030.8 5.8) scale(.97 1)">0.30</text>
<text transform="translate(1030.8 64.3) scale(.97 1)">0.40</text>
<text transform="translate(1030.8 122.8) scale(.97 1)">0.50</text>
<text transform="translate(1030.8 181.3) scale(.97 1)">0.60</text>
<text transform="translate(1030.8 239.8) scale(.97 1)">0.70</text>
<text transform="translate(1030.8 298.3) scale(.97 1)">0.80</text>
<text transform="translate(1030.8 356.8) scale(.97 1)">0.90</text>
<text transform="translate(1030.8 415.3) scale(.97 1)">1.00</text>
<text transform="translate(1030.8 473.8) scale(.97 1)">1.10</text>
</g>
<text x="967" y="518.7" font-size="25">Vs(km/s)</text>
</g>
<g transform="translate(1525.5 2817.4)">
<g clip-path="url(#pd)">
<rect x="-5" y="-5" width="942" height="476.4" fill="#3A2D5E"/>
<path d="M-12 -12h954v294l-24 6l-18 6l-9 6l-7 6l-5 6l-2 6v6l2 6l7 12l7 6l19 12l14 6l16 5v103h-954z" fill="#711d83"/>
<path d="M-12 -12h954v291l-36 9l-18 9l-12 9l-4 6l-2 6v6l2 6l7 12l5 6l7 6l27 14l24 7v99h-954z" fill="#781b8a"/>
<path d="M-12 -12h954v288l-36 9l-22 9l-8 6l-7 6l-5 9l-1 9l2 6l6 12l5 7l6 5l30 16l30 10v94h-954z" fill="#752490"/>
<path d="M-12 -12h954v285l-42 10l-23 11l-9 6l-5 6l-5 8l-1 10l7 16l6 10l6 7l6 4l25 11l35 12v90h-954z" fill="#6d3395"/>
<path d="M-12 -12h954v282l-42 10l-21 8l-10 6l-8 6l-5 6l-5 12v6l5 12l8 14l8 10l10 6l24 10l36 13v85h-954z" fill="#633d99"/>
<path d="M-12 -12h954v279l-42 9l-29 12l-10 6l-7 6l-4 6l-4 12l1 6l4 12l13 22l6 6l36 16l36 13v81h-954z" fill="#57439b"/>
<path d="M-12 -12h954v276l-42 9l-18 6l-18 8l-11 7l-5 6l-4 6l-3 12l1 6l4 12l14 24l6 6l10 6l24 11l42 14v77h-954z" fill="#4b469d"/>
<path d="M-12 -12h954v273l-42 8l-24 8l-18 8l-12 9l-5 6l-3 6l-2 12l2 12l5 12l12 18l9 9l12 7l24 11l42 15v72h-954z" fill="#3f499f"/>
<path d="M-12 -12h954v270l-48 8l-24 8l-17 8l-9 6l-10 12l-2 6l-2 12l2 12l5 12l17 24l7 6l15 9l24 12l42 13v68h-954z" fill="#314a9f"/>
<path d="M-12 -12h954v267h-12l-30 6l-30 7l-18 8l-12 8l-9 10l-6 12l-1 12l2 12l8 21l18 21l48 27l42 12v63h-954zM732 168l-9 12l-1 6l16 2l6 -2l8 -6l3 -6l-5 -4zM738 39l-4 3l4 1l11 -1l-5 -3zM918 47l-1 1h1l6 1l5 -1l-5 -3z" fill="#244b9f"/>
<path d="M-12 -12h954v264l-18 -3l-30 8l-24 1l-6 3l-24 15l-13 12l-7 12l-2 6l-1 12l6 30l-1 6l-5 24l2 6l3 1h6l12 -5l6 -1l6 1l12 4l12 7l24 18l18 1l24 5v59h-954zM726 155l-6 4l-12 17l-18 16l-5 6l-2 6v6l7 6l12 3l18 -3l24 -9l18 -4l6 -3l6 -7l8 -19l2 -6l-1 -6l-9 -3l-30 -1zM738 35l-6 4l-1 3l7 3l12 -1l7 -2l-3 -6l-4 -1zM780 35l-2 1l-4 6l6 3h12l17 3h25l24 4l24 -1l12 3l12 -1l18 2l12 -1l2 -6l-6 -6l-8 -2l-18 4l-12 -1l-12 1l-8 -2l-10 -1h-30l-12 -2l-30 -1z" fill="#2451a6"/>
<path d="M-12 -12h954v59l-6 -6l-12 -3l-18 2h-24l-24 -3l-78 -3l-9 2l-3 4l-6 -2l-1 -2l-11 -3l-12 1l-7 2l-3 6l4 3l6 2h12l18 -4l12 5l54 4l24 3l72 4l6 -1l6 -4v194l-18 -5l-6 1l-12 6l-12 2h-12l-12 -4l-6 1l-30 22l-12 12l-6 8l-4 9l-3 18l5 30l-1 24l3 14l6 2l24 -2l12 2l18 9l6 5l12 13l6 2l18 -1l24 4v54h-954zM774 150l-24 2l-24 -2l-6 2l-18 21l-23 19l-12 12l-3 6v6l7 6l13 5l12 3h12l15 -2l24 -6l21 -7l6 -4l6 -7l6 -13l13 -35l-1 -6l-6 -2z" fill="#2458ae"/>
<path d="M-12 -12h954v53l-12 -5l-6 -1l-18 2h-24l-24 -2l-78 -3l-12 2l-18 -3l-18 3l-4 2l-2 6l6 5l6 2l30 -2l12 3l36 4l108 8l12 -1l6 -3v187l-18 -5l-30 8l-12 -1l-12 -5l-6 1l-7 3l-33 24l-11 12l-4 6l-5 12l-2 18l6 30l3 30l2 6l3 5l12 2h18l12 2l18 10l18 17l6 2l24 -1l18 3v50h-954zM774 143l-24 4h-24l-8 3l-22 22l-37 26l-7 6l-4 6l-1 6l3 6l8 6l14 5l18 4l18 2l18 -2l30 -5l12 -5l6 -3l8 -8l7 -12l18 -48l1 -6l-3 -6l-7 -3z" fill="#2763b4"/>
<path d="M-12 -12h954v50l-6 -2l-12 -2l-36 1l-102 -5l-18 2l-18 -2l-18 3l-6 2l-2 1l-1 6l7 6l8 2h30l18 3l72 7l60 4h12l12 -2v180l-18 -4h-6l-18 6h-12l-18 -5l-10 1l-13 6l-30 18l-12 12l-7 16l-3 20l1 12l11 48l4 12l3 6l8 3l24 3l12 2l12 6l24 19l6 2h24l18 4v45h-954zM780 137l-24 5l-30 3l-6 1l-6 4l-24 21l-45 27l-6 6l-4 6l-1 6l2 6l6 7l12 7l18 6l24 3l18 1l36 -3l12 -1l12 -4l6 -4l5 -6l7 -12l11 -36l12 -30v-6l-5 -6l-12 -3z" fill="#2a6ebb"/>
<path d="M-12 -12h954v47l-18 -3l-36 1l-72 -4l-30 -1l-24 1l-12 -1l-6 1l-18 4l-5 3v6l6 6l11 4h24l90 9l66 5l12 1l12 -2v174l-18 -3l-30 5l-6 -1l-18 -4h-6l-15 4l-45 15l-6 4l-4 5l-4 18l-1 18l1 18l2 12l10 36l7 18l3 6l10 4l36 9l12 6l24 17l24 2l24 5v41h-954zM786 132l-66 12l-36 26l-43 22l-9 6l-6 6l-3 6l-1 6l1 6l7 9l12 9l12 5l12 3l42 5l66 1l12 -2l6 -5l3 -7l4 -18l7 -36l15 -36l3 -12l-7 -6l-7 -1l-12 -1z" fill="#2c7fc5"/>
<path d="M-12 -12h954v45l-12 -2h-42l-96 -4l-30 1l-12 -1l-24 4l-11 5l1 6l8 6l14 5l24 1l90 10l66 5l24 -1v169l-18 -3l-24 3h-12l-18 -4h-6l-24 4l-18 1l-6 -1l-3 -3l-3 -8l-1 -16l1 -18l5 -18l13 -25l6 -8l13 -9l5 -6l-2 -6l-4 -2l-6 -1l-12 7l-42 3l-66 15l-36 23l-44 21l-21 12l-6 6l-3 6l-1 6l3 8l7 10l11 8l18 8l30 6l66 6l12 3l13 5l5 5l3 7l7 36l5 18l9 30l12 24l6 4l12 4l30 10l36 20l48 9v37h-954zM918 113v2l6 1l2 -2l-2 -2z" fill="#2e92d1"/>
<path d="M-12 -12h954v42l-12 -1l-42 -1l-72 -3l-72 1l-27 4l-10 6l3 6l10 6l18 7l24 1l48 5l102 10h30v163l-24 -2l-30 2l-24 -4l-24 2l-12 -3l-6 -4l-5 -9l-2 -18l2 -18l5 -12l6 -10l6 -8l6 -5l21 -13l7 -6l1 -6l-23 -8h-6l-12 5l-6 2l-48 7l-54 14l-42 24l-63 28l-9 6l-5 6l-3 6l-1 6l3 8l7 10l14 12l15 7l24 7l78 10l12 4l12 7l6 7l3 6l12 42l12 30l14 24l13 8l36 14l36 18l48 11v33h-954zM918 106l-6 2l-7 6l3 6l10 2h6l7 -2l5 -6l-4 -6l-8 -3z" fill="#2fa3dc"/>
<path d="M-12 -12h954v40l-126 -5l-72 1l-43 6l-11 6l10 6l14 6l24 8l18 1l54 7l102 9l30 1v32l-6 -3l-12 -2l-42 8l-24 1l-18 -2l-12 5l-60 10l-42 12l-54 27l-44 18l-26 12l-7 6l-5 6l-3 6v6l4 12l10 12l16 12l13 7l24 7l72 9l12 4l12 6l6 5l8 10l24 60l6 12l16 21l24 13l54 24l12 4l42 11v29h-954zM930 126l12 -6v111l-24 -1l-30 2l-18 -4l-24 -1l-12 -4l-6 -4l-5 -9l-2 -6v-18l1 -7l5 -11l7 -11l6 -5l18 -11l30 -11z" fill="#34b2e3"/>
<path d="M-12 -12h954v37l-126 -4l-72 1l-54 5l-11 3l-7 4l-6 -1l-6 2v2l6 2l6 -1l6 1l4 3l19 6l37 10h12l78 10l78 8l35 2l1 19l-54 4l-30 4h-18l-12 4l-48 7l-30 8l-30 11l-54 25l-65 26l-17 12l-4 6l-3 12l4 12l9 12l16 14l17 10l13 4l18 5l65 9l15 6l10 6l12 11l4 7l17 36l9 18l24 29l24 15l24 11l42 15l42 13v25h-954zM916 132l26 -4v101h-54l-18 -4l-24 -2l-11 -7l-5 -6l-3 -6l-1 -6l-1 -12l3 -12l6 -9l6 -7l12 -8l18 -8l24 -6z" fill="#47bbe0"/>
<path d="M-12 -12h954v35h-24l-102 -4l-72 1l-55 4l-17 4l-12 1l-3 1l-3 6l4 6l8 4l54 9l18 5h12l24 4l54 7l42 3l36 6l18 -1l14 5v6l-8 4l-6 1l-30 -1l-18 5l-18 2h-18l-12 3l-18 2l-42 9l-24 7l-84 36l-57 22l-12 6l-9 6l-6 6l-4 6l-3 12l3 12l7 12l15 15l18 12l12 5l18 5l66 12l14 5l16 10l10 8l8 11l25 43l28 30l25 17l18 9l90 30v22h-954zM910 138l14 -2l18 -1v91h-54l-36 -6l-6 -3l-6 -4l-6 -9l-4 -12l1 -12l3 -7l6 -8l11 -9l13 -6l24 -7z" fill="#5ebecd"/>
<path d="M-12 -12h954v32h-24l-102 -3l-72 2l-60 4l-24 3l-6 3l-2 1l-2 6l2 6l7 6l7 3l36 5l18 1l18 5h12l78 12l18 2l24 1l6 2l11 5l-3 6l-8 4l-10 2l-26 1l-42 7l-30 7l-24 8l-36 15l-101 40l-19 8l-12 8l-8 8l-4 6l-3 12l2 12l7 13l12 14l18 14l12 7l12 4l18 5l45 9l18 6l11 6l28 21l12 13l25 32l25 24l9 6l19 16l18 9l39 11l51 18v18h-954zM914 84l10 -1l4 1v6l-4 1l-9 -1zM904 144l20 -3l18 -1v83l-18 1l-36 -1l-32 -7l-11 -6l-5 -6l-4 -12l1 -12l7 -12l8 -7l12 -6l18 -6z" fill="#6cbfab"/>
<path d="M-12 -12h954v28l-18 2l-30 -3h-102l-102 5l-30 3l-6 2l-6 5l-1 6l1 6l6 7l12 6l30 4l24 1l18 4l12 1l71 13l19 5l30 -1l4 2l-2 6l-8 1h-6l-8 -1l-4 -2l-48 10l-48 14l-42 19l-30 9l-36 16l-46 18l-20 10l-11 8l-5 6l-4 6l-3 12l2 12l9 18l16 18l14 11l12 7l12 5l54 13l18 7l12 7l18 16l30 19l31 29l30 24l23 21l18 9l36 8l54 20v14h-954zM898 150l26 -4h18v73l-18 2l-42 -2l-24 -7l-6 -3l-6 -7l-4 -10v-6l4 -12l5 -6l9 -6l10 -4z" fill="#6cbc79"/>
<path d="M-12 -12h954v25l-18 1l-30 -3l-30 2l-54 -2l-120 7l-30 3l-9 3l-7 6l-1 6l1 6l4 6l6 6l6 3l30 6l30 1l30 4l42 10l11 6l-5 6l-54 20l-36 16l-36 10l-30 16l-54 21l-15 7l-10 6l-12 12l-4 6l-2 12v6l3 12l6 12l20 24l14 12l12 7l12 5l48 12l18 7l15 11l15 19l6 4l30 11l48 33l21 17l15 17l6 5l18 7l38 7l47 18l5 2v10h-954zM892 156l26 -5h12l12 1v63l-18 3l-36 -2l-23 -6l-7 -4l-6 -6l-4 -8v-6l2 -6l3 -6l7 -6l10 -5z" fill="#6aba51"/>
<path d="M-12 -12h954v20l-24 1l-24 -5l-30 5l-54 -2l-150 12l-15 5l-6 6l-1 6l6 12l4 5l6 5l12 5l24 4l30 1l31 4l17 6l9 6l-2 6l-11 6l-56 25l-36 7l-24 16l-13 6l-53 21l-20 9l-10 6l-12 12l-3 6l-2 12l3 18l5 12l23 30l5 6l11 9l20 9l52 14l18 7l12 9l15 18l9 8l42 17l42 23l15 12l15 21l6 5l6 4l12 4l36 4l12 3l48 20v5h-954zM887 162l31 -6l12 1l12 2v51l-18 4l-24 -1l-21 -3l-15 -6l-6 -6l-3 -6v-6l2 -6l5 -6l8 -6z" fill="#68b830"/>
<path d="M-12 -12h954v14l-12 1l-12 -1l-6 -3l-12 -8l-6 -1l-15 10l-15 4h-18l-30 -3l-30 5l-24 1l-107 11l-17 6l-5 6v6l11 18l10 8l12 5l24 5l12 1h18l29 5l8 6l-3 6l-31 18l-15 7l-12 2l-24 1l-24 20l-12 7l-24 10l-42 16l-21 9l-9 6l-7 6l-4 6l-3 6l-2 12l2 18l8 18l13 18l11 18l12 10l18 9l60 14l18 8l12 8l24 24l12 8l65 27l13 7l12 11l2 6l3 12l2 6l11 6l18 5l36 1l12 1l30 11l24 12h-954zM516 15l-2 3l2 2h6l3 -2l-3 -4zM792 443l-1 1h2zM913 162l17 1l12 4v37l-12 5l-6 1l-24 -1l-24 -5l-9 -6l-3 -3l-1 -3l-1 -6l3 -6l7 -6l16 -7z" fill="#6bb82e"/>
<path d="M-12 -12h383l7 3l1 -3h502l-11 8l-12 3h-12l-30 -5l-30 8l-24 1l-24 5l-36 4l-48 4l-11 2l-17 6l-6 6l4 2l18 26l6 6l12 5l30 9l12 3l18 1l6 1l3 7l-5 6l-8 6l-8 3l-12 3l-24 2l-6 3l-18 19l-24 14l-24 10l-48 16l-18 8l-9 6l-9 12l-3 12v12l3 17l11 43l6 12l7 6l12 8l18 6l18 5l48 9l18 5l18 11l30 27l18 13l18 9l38 15l6 6l-2 6l-9 12l-1 6l1 6l2 6l7 8l6 3l12 2l66 -8h18l24 7l28 12h-946zM438 10l-3 2l4 6h9l3 -6l-7 -3zM516 11l-4 1l-5 6l7 6h10l7 -6l-4 -6l-5 -2zM594 18l-4 6l5 6l5 2h6l10 -2v-6l-10 -6l-6 -1zM913 -12h29v8h-12l-6 -2zM912 168h12l6 2l8 4l4 5v14l-6 7l-12 5h-12l-12 -1l-18 -5l-10 -7l-1 -6l5 -6l12 -7z" fill="#6eb82c"/>
<path d="M-12 -12h246l12 4l24 2l6 -1l8 -5h11l11 5l6 2l24 -2l12 -5h6l6 1l6 4l4 7v6l2 3l6 3l5 -6v-6l4 -12h423l-12 5l-12 3l-24 2l-24 7l-30 4l-84 8l-12 -1l-12 -3h-6l-12 5l-3 6l6 6l15 8l18 1l6 3l6 5l8 13l5 6l11 6l17 6l11 6l6 6l-1 6l-21 10l-24 24l-24 14l-30 11l-48 14l-18 8l-6 5l-7 10l-5 12l-1 12l4 36l-1 24l2 12l5 12l9 11l12 7l18 7l24 5l54 6l18 5l15 7l21 17l30 30l26 25l18 30l10 12l12 9l11 3h-803zM438 5l-12 5l-7 2l9 6l16 3l12 -1l24 1l6 2l12 -2l18 7h6l13 -4l4 -6l-5 -6l-6 -3l-6 -2l-24 4l-18 -2h-24l-12 -4zM826 -12h41l-9 3l-6 1l-12 -1zM894 180l12 -4h12l6 1l5 3l3 6l-1 6l-7 5l-6 2l-15 -1l-14 -6l-2 -6zM863 462l13 -1l12 1l22 6l14 6h-116l32 -6z" fill="#71b82b"/>
<path d="M-12 -12h236l16 6l24 5l18 1l6 -4l9 4l15 3l12 -1l12 5l12 -1l6 3l4 -3l-3 -6l5 -1l3 1l-1 6l4 4v2l6 2l6 1l12 -1l6 4l12 1l36 5l54 2l18 5l18 -1l24 4l18 1l6 1l18 7l18 3l6 3l6 5l6 13l12 8l20 9l4 6l-4 6l-8 7l-18 19l-12 10l-11 6l-31 12l-60 15l-12 6l-6 5l-6 8l-6 13l-3 19v12l2 18l-1 30l3 18l5 12l9 12l9 7l18 9l30 8l48 4l18 2l18 6l12 7l12 10l7 7l13 18l16 28l10 14l12 12l27 24h-775zM396 -12h399l-15 4l-24 3l-12 5l-27 6l-39 5l-42 1h-24l-18 -3l-12 1l-24 -2h-18l-18 -4l-18 2l-24 -3l-24 1l-18 -3l-12 2h-24l-12 2l-1 -5l4 -6zM870 468l18 -1l24 7h-62z" fill="#7bba29"/>
<path d="M-12 -12h226l26 9l30 6l54 5l12 4l18 3l12 1l54 8l78 5l18 5l18 2l24 8l24 1l30 6l8 3l4 3l9 15l16 12l6 6l-1 6l-8 12l-10 11l-18 13l-12 6l-18 6l-60 13l-12 5l-12 10l-6 9l-5 11l-4 18l-2 12l1 54l4 20l6 15l9 13l15 12l12 7l18 7l18 4l66 8l12 3l13 7l11 9l7 9l6 12l11 27l9 15l15 16l20 14h-752zM409 -12h361l-14 3l-12 6l-18 5l-24 4l-36 3l-54 -1l-18 -4l-36 -3l-18 1l-18 -1l-12 1l-30 -4l-30 1l-30 -4l-6 -3z" fill="#89be28"/>
<path d="M-12 -12h215l37 13l36 7l48 5l30 6l30 2l12 3l102 8l30 8l24 13l6 1l30 1l24 5l6 4l20 26l2 6l-2 6l-8 12l-15 12l-21 9l-18 5l-42 6l-18 6l-12 9l-10 13l-10 30l-5 24l1 36l5 30l6 18l7 13l12 13l18 12l24 11l24 8l60 10l11 5l7 5l7 7l5 9l14 33l6 12l9 12l13 12h-720zM427 -12h326l-15 7l-15 5l-21 4l-36 3l-54 -4l-48 -8l-54 2l-30 -4l-30 1z" fill="#98c329"/>
<path d="M-12 -12h203l49 16l36 7l42 4l36 6l42 5l84 5l18 3l30 12l24 19l12 2h30l14 5l11 12l5 12v6l-3 6l-9 9l-12 7l-12 4l-18 4l-30 3l-18 5l-12 5l-14 11l-4 6l-5 12l-15 48l-1 18l1 24l9 42l4 12l8 12l11 13l12 11l18 11l48 24l36 14l12 6l6 5l6 8l20 34l14 18h-688zM485 -12h260l-12 6l-21 6l-28 4l-18 1l-54 -6l-48 -9l-54 2z" fill="#a8cb2a"/>
<path d="M-12 -12h193l59 18l36 8l120 14l84 5l12 2l12 3l18 10l7 6l17 22l6 4l12 4l24 1l6 2l5 3l3 6l-1 6l-7 8l-12 5l-36 6l-24 7l-18 8l-12 9l-6 8l-4 9l-6 30l-10 24l-3 18v18l1 12l9 30l4 24l3 7l7 11l11 14l12 13l34 21l13 12l8 12l11 22l6 7l48 37h-642zM582 -12h156l-14 6l-16 4l-36 5l-30 -3l-30 -5z" fill="#b7d22c"/>
<path d="M-12 -12h186l12 5l48 15l36 8l84 10l132 10l12 3l17 9l6 6l8 12l7 18l1 12l-2 6l-6 6l-9 6l-25 12l-9 6l-7 6l-4 6l-3 6l-2 12l1 24l-3 8l-10 16l-3 12l-1 18l1 18l2 12l8 24l2 24l4 12l13 18l8 15l6 9l12 10l18 13l6 7l4 12l5 42l7 18h-562zM600 -12h130l-16 6l-12 3l-30 3l-24 -2z" fill="#c6d630"/>
<path d="M-12 -12h180l12 6l54 17l36 8l78 9l138 9l14 5l9 6l5 6l7 12l2 12l-3 12l-3 6l-7 6l-12 6l-30 8l-11 4l-7 6l-3 6l-2 6v24l-5 24l5 18l1 6l-1 36l1 18l10 36l-3 24l3 24l-2 6l-10 13l-5 11v12l5 36v12l-5 18l-11 18h-440zM618 -12h104l-20 6l-30 4l-18 -2z" fill="#d5db33"/>
<path d="M-12 -12h174l12 7l12 5l48 14l36 8l78 8l132 9l15 3l8 6l5 6l4 12l-1 12l-7 9l-6 3l-12 2l-36 -7l-18 3l-6 2l-9 6l-12 12l-4 6v6l1 6l19 30l7 18l7 36l2 54l5 36l-5 48l-8 24l-9 36l-5 12l-7 13l-8 11l-10 10l-12 9l-17 11h-373zM634 -12h79l-23 6l-18 1l-12 -1z" fill="#e2e133"/>
<path d="M-12 -12h168l18 10l12 4l48 15l36 8l78 8l132 8l8 1l10 6l4 6l1 6l-1 6l-4 7l-6 2l-6 -1l-12 -4l-12 -2h-12l-22 4l-39 12l-11 5l-8 7l-2 6l3 18l5 12l27 24l5 6l8 12l7 18l4 24l1 78l-2 42l-3 18l-7 24l-8 20l-12 17l-12 12l-12 10l-18 12l-53 25h-313zM648 -12h55l-25 4l-12 -1z" fill="#eee831"/>
<path d="M-12 -12h161l13 6l12 7l36 13l24 7l30 6l60 8l78 4l66 3l6 2l6 1l12 3l1 6l-1 3l-12 -4l-48 9l-68 16l-21 6l-9 6v6l14 12l11 24l5 6l32 27l12 13l6 13l3 13l2 24l-1 36l-5 90l-3 12l-5 12l-8 12l-7 8l-24 20l-24 15l-60 28l-34 13h-260z" fill="#f3df2a"/>
<path d="M-12 -12h152l16 5l18 10l30 13l30 10l12 3l78 12h66l12 2h6l36 5l-14 6l-53 12l-23 3h-24l-6 2l-6 4l-6 9l-1 6l2 6l4 6l20 18l23 27l25 21l11 11l9 13l3 10l2 20v36l-8 87l-6 21l-6 11l-6 7l-24 19l-18 11l-18 9l-84 36l-36 11l-20 4h-196z" fill="#f6cf21"/>
<path d="M-12 -12h143l25 8l18 10l54 24l18 5l41 7l16 6l2 6l-2 6l-9 11l-20 13l2 6l6 3l18 12l36 28l17 17l32 30l9 12l5 12l2 18v36l-2 24l-7 48l-6 24l-6 12l-8 9l-10 9l-14 10l-30 16l-72 30l-42 15l-24 5l-24 2l-66 -2l-24 2l-24 3l-44 9h-10zM356 48h24l4 6l-18 2h-12l-7 -2z" fill="#f5bb1f"/>
<path d="M-12 -12h135l33 10l45 26l33 24l3 6l-15 5l-10 7l-2 6l2 6l4 2l18 6l28 16l26 10l24 13l18 13l39 36l10 12l9 18l4 24v36l-5 36l-8 36l-8 18l-11 13l-22 17l-32 17l-72 29l-42 14l-18 3l-18 1l-66 -4l-24 1l-18 3l-60 13z" fill="#f4a71e"/>
<path d="M-12 -12h129l9 4l30 9l20 11l17 12l11 12l2 6v6l-3 6l-11 11l-6 5l-12 4l-12 2l-7 2l-4 6l5 5l12 3l24 1l36 7l60 22l18 9l18 12l35 31l14 18l7 18l2 18l1 36l-4 30l-8 30l-8 18l-15 18l-24 18l-30 15l-60 23l-48 16l-18 3l-12 1l-60 -6l-30 -1l-18 3l-36 10l-24 5z" fill="#f29a1d"/>
<path d="M-12 -12h124l12 6l20 5l12 4l24 15l12 12l3 6l1 6l-2 6l-4 6l-8 6l-8 4l-42 12l-24 5l-24 -1l-8 4l14 3l18 1l18 4l36 9l48 5l36 9l36 13l24 11l24 17l19 18l14 18l6 18l4 24l1 36l-6 30l-8 22l-12 20l-11 12l-25 18l-30 14l-48 18l-54 17l-12 2l-12 1l-60 -8l-30 -1l-18 2l-42 14l-18 3zM0 172l-3 2l-2 6l5 2l8 -2l2 -6l-4 -2z" fill="#f08c1c"/>
<path d="M-12 -12h120l12 7l24 6l12 5l20 12l6 6l4 6l2 6l-1 6l-3 6l-6 6l-10 5l-18 5l-30 5l-76 3l-21 6l9 6l52 13l36 4l42 7l42 5l36 8l36 12l24 11l24 15l16 15l13 18l5 12l4 24l1 42l-4 24l-6 18l-10 18l-13 15l-10 9l-14 9l-24 12l-48 18l-54 14l-12 3h-12l-54 -7l-42 -1l-18 2l-36 14l-18 3v-221l24 -8l8 -6l4 -5l3 -7l-3 -7l-6 -3l-6 -1l-12 1l-12 4z" fill="#ee791c"/>
<path d="M-12 -12h116l16 9l30 8l13 7l8 6l6 6l3 6l1 6l-1 6l-6 7l-10 5l-14 5l-24 4l-18 2l-66 3l-39 4l-8 6l8 6l18 6l57 13l120 16l36 7l30 10l30 13l23 13l14 12l9 12l8 18l3 18l2 48l-2 18l-6 18l-10 18l-11 13l-21 17l-27 14l-36 13l-42 10l-24 4l-18 1l-66 -5h-42l-12 1l-12 3l-24 11l-12 1v-188l30 -21l14 -12l8 -12l1 -6l-6 -6l-17 -5h-12l-18 3z" fill="#ec661c"/>
<path d="M-12 -12h112l20 12l24 6l14 6l9 6l6 6l2 6v6l-3 6l-7 6l-9 4l-18 5l-36 5l-85 4l-23 2l-6 4zM-12 90v-2l6 3l12 2l90 18l90 12l30 6l24 6l26 9l28 12l18 11l12 10l8 9l5 12l4 18l2 42l-1 24l-5 18l-9 18l-16 18l-12 10l-12 7l-18 8l-18 7l-36 10l-30 4l-24 2l-96 -4l-30 1l-18 2l-18 4l-12 1v-148l23 -24l39 -36l5 -6l2 -6l-1 -6l-2 -2l-6 -4l-12 -4l-24 -1l-24 3z" fill="#e94c1a"/>
<path d="M-12 -12h107l21 12l34 11l12 7l6 6l2 6l-1 6l-5 6l-10 6l-28 8l-24 3l-108 6l-6 2zM-12 102v-3l12 1l204 32l24 6l30 10l30 13l13 7l11 7l11 11l5 12l4 18l2 36v24l-4 18l-9 18l-15 18l-12 10l-12 8l-24 10l-18 6l-24 5l-24 3l-24 1l-180 -1v-114l7 -6l34 -42l31 -28l6 -8l1 -6l-1 -6l-6 -9l-6 -4l-6 -3l-18 -3l-42 4z" fill="#e8311b"/>
<path d="M-12 -12h102l24 13l36 13l7 4l6 6l2 6l-3 6l-6 6l-13 6l-17 4l-24 4l-108 7l-6 1zM-12 114l18 -2l30 5h48l48 10l60 8l24 6l28 9l29 12l21 10l12 8l10 12l5 12l3 12l3 36l-1 24l-5 18l-5 12l-9 12l-7 8l-12 10l-10 6l-26 11l-36 8l-42 3l-144 1l-24 -2l-18 -4v-87l15 -14l33 -42l30 -28l6 -10l2 -10l-1 -6l-8 -12l-11 -10l-12 -7l-12 -2l-30 4h-6l-6 -2z" fill="#e81b1c"/>
<path d="M-12 -12h96l18 8l12 7l26 9l10 6l7 6l1 6l-3 6l-8 6l-15 6l-12 3l-36 4l-90 6l-6 1zM61 126l11 -5h12l42 11l60 8l18 4l30 10l30 12l24 12l12 8l10 12l4 12l4 18l2 24l-1 18l-4 18l-5 12l-8 12l-14 15l-18 12l-12 5l-18 5l-30 5l-30 2h-84l-66 3l-24 -4l-12 -5l-6 -4v-59l24 -26l30 -38l30 -29l7 -14l1 -12l-1 -6l-4 -6l-13 -18l-3 -6z" fill="#e8191c"/>
<path d="M-12 -12h90l24 10l12 6l20 8l10 6l6 6l1 6l-4 6l-8 6l-13 5l-12 2l-48 6l-78 5zM75 126h12l27 10l12 3l60 7l18 4l32 12l26 12l20 10l11 8l10 12l5 12l4 18l1 18l-1 18l-5 18l-5 12l-9 12l-17 16l-15 8l-21 6l-30 5l-30 2h-90l-60 4l-18 -4l-12 -7l-6 -6l-6 -12v-12l4 -12l8 -12l46 -54l29 -30l4 -6l7 -12l2 -12l-3 -12l-16 -24l-1 -6l4 -4z" fill="#e8161c"/>
<path d="M-12 -12h85l56 24l10 6l5 6l1 6l-4 6l-10 6l-23 6l-42 5l-78 6zM76 132l8 -2l5 2l13 8l18 7l18 2l42 2l18 3l19 8l38 18l21 12l9 6l9 10l6 11l5 15l1 18l-2 18l-4 15l-7 15l-9 12l-14 12l-12 7l-18 5l-24 3l-36 2h-90l-60 5l-12 -2l-11 -8l-5 -6l-3 -12l1 -6l4 -12l9 -12l35 -41l34 -37l8 -12l5 -12l2 -12l-2 -12l-3 -6l-14 -13l-3 -5z" fill="#e8151c"/>
<path d="M-12 -12h81l9 5l24 9l24 11l8 5l5 6v6l-4 6l-9 5l-24 6l-36 5l-78 5zM118 162l14 -3l30 -1l18 -1l12 2l20 9l44 24l14 8l12 10l6 6l7 12l3 12l1 12l-3 18l-5 18l-7 12l-9 12l-11 8l-12 6l-12 3l-18 2l-42 2l-90 -1l-18 1l-30 5l-12 1l-6 -1l-6 -4l-4 -4l-2 -5l-1 -7l1 -7l5 -11l13 -17l54 -60l11 -13l9 -18l8 -24l2 -3z" fill="#e8151c"/>
<path d="M-12 -12h77l9 6l28 10l24 11l4 3l4 6v6l-5 6l-9 4l-30 7l-24 3l-78 6zM153 168l27 -2l13 2l12 6l59 36l14 12l5 6l6 12v18l-2 12l-5 17l-6 11l-6 8l-6 6l-12 7l-12 3l-18 2h-84l-54 -2l-18 1l-30 5l-6 -2l-2 -2l-2 -6l1 -6l6 -12l15 -18l52 -60l9 -12l17 -30l6 -5l6 -3z" fill="#e8151c"/>
<path d="M-12 -12h72l12 8l30 9l18 9l6 4l4 6v6l-10 7l-15 5l-21 4l-42 5l-54 3zM160 180l20 -2l12 2l19 12l29 22l24 14l6 6l7 12l1 12l-1 12l-7 20l-6 10l-6 6l-12 6l-18 2l-30 1h-60l-18 -2l-35 -7l-16 -6l-2 -6l2 -6l6 -12l9 -12l34 -42l20 -28l9 -8z" fill="#e8151c"/>
<path d="M-12 -12h68l16 10l26 8l22 11l2 1l4 6l-1 6l-11 7l-30 8l-42 4l-54 4zM174 198l12 1l10 5l26 21l26 15l7 6l4 6l2 6l1 12l-4 15l-6 10l-8 5l-10 2l-24 3h-18l-58 -5l-16 -6l-8 -6l-3 -6l-1 -6l2 -6l6 -12l39 -48l9 -7z" fill="#e8151c"/>
<path d="M-12 -12h63l19 12l26 7l11 5l11 6l4 6l-2 6l-6 3l-30 10l-42 5l-54 3zM190 276l8 -4l6 1l5 3l4 6l-5 6l-4 2h-6l-8 -2l-4 -6z" fill="#e8151c"/>
<path d="M-12 -12h57l27 15l30 9l10 6l5 6l-4 6l-13 6l-20 6l-38 5l-54 3z" fill="#e8151c"/>
<path d="M-12 -12h51l27 14l31 10l9 6l5 6l-5 6l-12 6l-21 6l-31 4l-54 3z" fill="#e8151c"/>
<path d="M-12 -12h44l34 16l24 8l11 6l3 6l-4 6l-11 6l-17 5l-30 3l-54 4z" fill="#e8151c"/>
<path d="M-12 -12h38l9 6l55 21l5 3l3 6l-4 6l-4 3l-6 3l-12 3l-30 4l-54 3z" fill="#df151c"/>
<path d="M-12 -12h32l10 8l18 5l36 14l6 3l3 6l-3 6l-11 6l-7 2l-30 4l-54 3z" fill="#d4141c"/>
<path d="M-12 -12h27l5 6l4 3l6 3l18 4l30 10l8 4l3 6l-3 6l-14 6l-36 5l-48 3z" fill="#c5181f"/>
<path d="M-12 -12h21l4 6l9 6l8 3l18 3l30 11l3 1l4 6l-3 6l-16 6l-30 4l-48 2z" fill="#b71c22"/>
<path d="M-12 -12h15v6l3 3l18 7l24 5l27 9l7 6l-4 6l-12 4l-30 5l-48 2z" fill="#ad1f23"/>
<path d="M-12 6v-3l12 2l6 -2h6l12 4l24 4l19 7l10 6l-5 6l-18 3l-12 4l-48 3l-6 -1z" fill="#a62025"/>
<path d="M-12 12v-5l24 -1l30 6l27 12l-3 3l-7 3l-23 6l-42 3l-6 -1z" fill="#a02026"/>
<path d="M-12 12v-2l24 -2l30 7l7 3l6 6l-7 6l-12 4l-36 3l-12 -1z" fill="#9b2027"/>
<path d="M-7 12l13 -2l12 2l24 6l5 6l-5 6l-6 2l-30 4h-12l-6 -2v-21z" fill="#931f27"/>
<path d="M-12 18v-2l6 -2l18 -1l23 5l6 6l-5 6l-6 1l-24 3h-12l-6 -2z" fill="#891e24"/>
<path d="M-11 18l11 -4l12 1l16 3l8 6l-9 6l-21 2h-12l-5 -2l-1 -2v-8z" fill="#801c22"/>
<path d="M-6 18l6 -2l12 1l12 3l7 4l-7 3l-24 4l-6 -1l-5 -6z" fill="#78191f"/>
<path d="M0 18h6l11 6l-11 4l-6 1l-7 -5z" fill="#71151c"/>
<path d="M-3 24l3 -2l7 2l-7 2z" fill="#6a1219"/>
<path d="M-8.1 4.8C-6.7 4.9 -5.8 4.8 0 5.4C5.8 5.9 17.9 6.7 26.8 8.1C35.8 9.4 46.1 11.4 53.7 13.4C61.3 15.4 68.5 18.1 72.5 20.1C76.5 22.1 78.7 23.5 77.9 25.5C77 27.5 73.4 30.3 67.1 32.2C60.9 34.1 51.5 35.8 40.3 37C29.1 38.3 8.1 39.2 0 39.7C-8.1 40.3 -6.7 40.2 -8.1 40.3M61.7 -5.4C63.1 -4.5 63.1 -2.5 69.8 0C76.5 2.5 93.7 6.3 102 9.4C110.3 12.5 116.1 15.9 119.5 18.8C122.8 21.7 124.2 23.9 122.1 26.8C120.1 29.8 115.2 33.3 107.4 36.2C99.6 39.1 87.7 42.3 75.2 44.3C62.6 46.3 44.7 47.3 32.2 48.3C19.7 49.4 6.7 50 0 50.5C-6.7 50.9 -6.7 50.9 -8.1 51M107.4 -5.4C108.7 -4.5 108.3 -2.7 115.4 0C122.6 2.7 141.8 7.2 150.3 10.7C158.8 14.3 163.1 18.1 166.4 21.5C169.8 24.8 171.4 27.1 170.5 30.9C169.6 34.7 167.1 40.5 161.1 44.3C155 48.1 145.4 51.2 134.2 53.7C123 56.2 109.6 57.7 94 59.1C78.3 60.4 55.9 60.9 40.3 61.7C24.6 62.6 8.1 63.9 0 64.4C-8.1 65 -6.7 64.9 -8.1 65M163.8 -5.4C165.1 -4.5 165.5 -2.7 171.8 0C178.1 2.7 189.7 6.9 201.3 10.7C213 14.5 228.2 19.7 241.6 22.8C255 26 266.2 27.5 281.9 29.5C297.5 31.5 317.7 33.6 335.6 34.9C353.5 36.2 373.6 36.8 389.3 37.6C404.9 38.4 416.7 39.1 429.5 39.7C442.3 40.4 457.3 41.1 466 41.6C474.8 42.1 477.9 42.1 482.1 43C486.4 43.8 491.5 45.4 491.5 47C491.5 48.5 486.4 51 482.1 52.3C477.9 53.7 474.8 53.5 466 55C457.3 56.6 442.3 59.1 429.5 61.7C416.7 64.4 401.8 68 389.3 71.1C376.7 74.3 363.3 77.9 354.4 80.5C345.4 83.2 339.1 85 335.6 87.2C332 89.5 331.1 90.8 332.9 94C334.7 97.1 342.7 101.6 346.3 106C349.9 110.5 351.7 115.7 354.4 120.8C357 126 357.9 131.5 362.4 136.9C366.9 142.3 374.9 147.7 381.2 153C387.5 158.4 394.9 163.8 400 169.1C405.1 174.5 409.2 179.4 412.1 185.2C415 191.1 416.3 194.6 417.4 204C418.6 213.4 418.8 228.6 418.8 241.6C418.8 254.6 418.1 268.5 417.4 281.9C416.8 295.3 415.7 309.6 414.8 322.1C413.9 334.7 414.5 346.3 412.1 357C409.6 367.8 406 377.6 400 386.6C394 395.5 385.2 403.1 375.8 410.7C366.4 418.3 354.8 426 343.6 432.2C332.4 438.5 319.5 443.4 308.7 448.3C298 453.2 287.2 458.4 279.2 461.7C271.1 465.1 266.7 466 260.4 468.5C254.1 470.9 244.7 475.2 241.6 476.5M287.2 -5.4C288.6 -4.5 287.2 -2.2 295.3 0C303.4 2.2 322.1 5.5 335.6 8.1C349 10.6 362 13.3 375.8 15.6C389.7 17.8 403.8 19.8 418.8 21.5C433.8 23.1 451.5 24.4 466 25.5C480.6 26.6 492.9 27.1 506.3 28.2C519.7 29.3 533.2 30.6 546.6 32.2C560 33.8 575.7 35.6 586.8 37.6C598 39.6 606.5 41.6 613.7 44.3C620.9 47 626.2 50.1 629.8 53.7C633.4 57.3 632 62.2 635.2 65.8C638.3 69.4 643.7 72.5 648.6 75.2C653.5 77.9 660.9 79.6 664.7 81.9C668.5 84.1 671.4 85.7 671.4 88.6C671.4 91.5 668.1 95.3 664.7 99.3C661.3 103.4 655.7 108.3 651.3 112.8C646.8 117.2 643.7 121.7 637.9 126.2C632 130.6 624.9 135.6 616.4 139.6C607.9 143.6 597.1 147.2 586.8 150.3C576.6 153.5 564.5 155.9 554.6 158.4C544.8 160.9 535.4 162 527.8 165.1C520.2 168.2 513.9 172 509 177.2C504.1 182.3 500.7 188.8 498.3 196C495.8 203.1 494.5 211.6 494.2 220.1C494 228.6 496.7 237.1 496.9 247C497.1 256.8 494.9 270.2 495.6 279.2C496.2 288.1 497.8 294 500.9 300.7C504.1 307.4 508.5 314.1 514.4 319.5C520.2 324.8 527.3 329.3 535.8 332.9C544.3 336.5 554.6 339.1 565.4 340.9C576.1 342.8 589.1 343 600.3 344.2C611.5 345.3 622.6 345.5 632.5 347.7C642.3 349.8 651.3 352.8 659.3 357C667.4 361.3 674.5 366.9 680.8 373.2C687.1 379.4 692 387 696.9 394.6C701.8 402.2 705.9 411.6 710.3 418.8C714.8 426 718.8 431.8 723.8 437.6C728.7 443.4 734.5 448.8 739.9 453.7C745.2 458.6 751.5 463.3 756 467.1C760.4 470.9 764.9 474.9 766.7 476.5M241.6 -5.4C246.1 -4.6 250.6 -1.8 268.5 -0.5C286.4 0.7 316.1 1.4 349 2.1C381.9 2.9 435.3 3.3 466 4C496.7 4.8 513 5.8 533.2 6.7C553.3 7.6 571.2 8.5 586.8 9.4C602.5 10.3 611.5 11.9 627.1 12.1C642.8 12.3 665.1 11.9 680.8 10.7C696.5 9.6 710.3 7.2 721.1 5.4C731.8 3.6 739.4 1.8 745.2 0C751.1 -1.8 754.2 -4.5 756 -5.4M-8.1 98.8C-6.7 99 -8.1 98.7 0 99.9C8.1 101.1 24.6 103.4 40.3 106C55.9 108.6 76.1 112.5 94 115.4C111.9 118.3 129.8 120.8 147.7 123.5C165.5 126.2 185.7 128.4 201.3 131.5C217 134.7 229.1 138.3 241.6 142.3C254.1 146.3 266.2 151.2 276.5 155.7C286.8 160.2 295.7 164.2 303.4 169.1C311 174 317.7 179 322.1 185.2C326.6 191.5 328.4 198.2 330.2 206.7C332 215.2 332.2 226.8 332.9 236.2C333.6 245.6 334.2 255 334.2 263.1C334.2 271.1 334.5 277.4 332.9 284.6C331.3 291.7 328.9 298.9 324.8 306C320.8 313.2 315.4 320.8 308.7 327.5C302 334.2 294 340.9 284.6 346.3C275.2 351.7 264 355.9 252.3 359.7C240.7 363.5 227.7 366.9 214.8 369.1C201.8 371.4 191.5 372.6 174.5 373.2C157.5 373.7 132.9 372.8 112.8 372.6C92.6 372.4 72.5 371.9 53.7 371.8C34.9 371.7 10.3 371.8 0 371.8C-10.3 371.8 -6.7 371.8 -8.1 371.8M-8.1 147.1C-6.7 147 -4.9 146.9 0 146.3C4.9 145.7 14.3 143.8 21.5 143.6C28.6 143.4 36.7 143.6 43 145C49.2 146.3 55 148.5 59.1 151.7C63.1 154.8 66.4 159.3 67.1 163.8C67.8 168.2 66.2 173.6 63.1 178.5C60 183.4 53.5 188.6 48.3 193.3C43.2 198 37.6 201.3 32.2 206.7C26.8 212.1 21.5 219 16.1 225.5C10.7 232 4 240.7 0 245.6C-4 250.6 -6.7 253.5 -8.1 255M186.6 282.4C186.7 280.2 189.3 276.6 191.9 275.2C194.6 273.7 199.4 273.2 202.7 273.8C206 274.5 210.4 277 211.5 279.2C212.7 281.4 211.3 285.4 209.4 287.2C207.5 289.1 203 290.2 200 290.5C197 290.7 193.4 289.9 191.1 288.6C188.9 287.2 186.4 284.7 186.6 282.4ZM941.2 25.5C938.1 25.5 934.5 25.8 922.4 25.5C910.3 25.2 888.9 24.2 868.7 23.6C848.6 23 824 22 801.6 22C779.2 22 753.7 22.8 734.5 23.6C715.3 24.4 698.5 25.5 686.2 26.8C673.9 28.2 662.5 29.7 660.7 31.7C658.9 33.7 667.6 35.9 675.4 38.9C683.3 41.9 695.6 46.5 707.7 49.7C719.7 52.8 732.3 55.3 747.9 57.7C763.6 60.2 783.7 62.3 801.6 64.4C819.5 66.5 839.6 68.8 855.3 70.3C871 71.9 884.4 72.8 895.6 73.8C906.8 74.9 914.8 75.8 922.4 76.5C930 77.2 938.1 77.6 941.2 77.9M941.2 96.6C938.1 96.9 934.5 96.9 922.4 98C910.3 99.1 886.6 101.3 868.7 103.4C850.8 105.4 832 107.4 815 110.1C798 112.8 781 115.9 766.7 119.5C752.4 123 740.8 127.1 729.1 131.5C717.5 136 707.7 141.4 696.9 146.3C686.2 151.2 675.4 156.6 664.7 161.1C654 165.5 643.2 168.9 632.5 173.2C621.7 177.4 608.8 181.9 600.3 186.6C591.8 191.3 585.3 196.2 581.5 201.3C577.7 206.5 577 212.1 577.4 217.4C577.9 222.8 580.4 228.2 584.2 233.6C588 238.9 593.6 244.5 600.3 249.7C607 254.8 615.5 260.6 624.4 264.4C633.4 268.2 643.7 270.5 654 272.5C664.3 274.5 675.4 274.9 686.2 276.5C696.9 278.1 709 279.2 718.4 281.9C727.8 284.6 735.8 288.1 742.6 292.6C749.3 297.1 754.2 302.5 758.7 308.7C763.1 315 765.8 322.6 769.4 330.2C773 337.8 776.1 346.8 780.1 354.4C784.2 362 787.7 368.7 793.6 375.8C799.4 383 807 391.1 815 397.3C823.1 403.6 832 408.5 841.9 413.4C851.7 418.3 863.4 422.8 874.1 426.8C884.8 430.9 898.3 434.9 906.3 437.6C914.4 440.3 916.6 441.2 922.4 443C928.2 444.7 938.1 447.4 941.2 448.3M941.2 128.9C938.1 129.2 930 129.9 922.4 131C914.8 132.1 905.4 133.2 895.6 135.6C885.7 137.9 872.8 141.2 863.4 145C854 148.8 845.2 153 839.2 158.4C833.2 163.8 829.4 170.5 827.1 177.2C824.9 183.9 824.7 192.4 825.8 198.7C826.9 204.9 829.4 210.5 833.8 214.8C838.3 219 844.6 221.9 852.6 224.2C860.7 226.4 870.5 227.4 882.1 228.2C893.8 228.9 912.6 228.6 922.4 228.7C932.3 228.8 938.1 228.7 941.2 228.7M721.1 182.6C721.5 180.5 724.7 176.7 727.8 174.5C730.9 172.3 735.8 169.9 739.9 169.1C743.9 168.3 749.5 168.5 751.9 169.7C754.4 170.8 755.5 173.5 754.6 175.8C753.7 178.2 749.9 182 746.6 183.9C743.2 185.8 738.1 186.9 734.5 187.4C730.9 187.8 727.3 187.4 725.1 186.6C722.9 185.8 720.6 184.6 721.1 182.6ZM941.2 255C938.1 255.5 930 256.6 922.4 257.7C914.8 258.8 905.4 259.5 895.6 261.7C885.7 264 872.8 267.3 863.4 271.1C854 274.9 845.5 279.2 839.2 284.6C832.9 289.9 828.2 297.1 825.8 303.4C823.3 309.6 823.5 315.4 824.4 322.1C825.3 328.9 827.8 336.9 831.1 343.6C834.5 350.3 839.2 356.6 844.6 362.4C849.9 368.2 856.2 373.6 863.4 378.5C870.5 383.4 879.9 388.1 887.5 391.9C895.1 395.7 903.2 399.1 909 401.3C914.8 403.6 917 403.8 922.4 405.4C927.8 406.9 938.1 409.8 941.2 410.7M941.2 281.9C938.1 282.7 929.1 284.7 922.4 286.7C915.7 288.7 907.2 291 900.9 294C894.7 297 888.9 300.4 884.8 304.7C880.8 308.9 877.2 314.3 876.8 319.5C876.3 324.6 879 330.4 882.1 335.6C885.3 340.7 890.6 346.3 895.6 350.3C900.5 354.4 907.2 357.4 911.7 359.7C916.2 362.1 917.5 362.8 922.4 364.6C927.3 366.4 938.1 369.5 941.2 370.5" fill="none" stroke="#41474a" stroke-width="2.8" stroke-linejoin="round" stroke-linecap="round"/>
<rect x="922.4" y="0" width="11.6" height="466.4" fill="#fff"/>
</g>
<rect x="-1" y="0.2" width="932" height="466.2" fill="none" stroke="#000" stroke-width="2.9"/>
<path d="M15.9 466.4v11.6M118.8 466.4v6.2M221.7 466.4v11.6M324.6 466.4v6.2M427.5 466.4v11.6M530.4 466.4v6.2M633.3 466.4v11.6M736.2 466.4v6.2M839.1 466.4v11.6M-1 0.2h-11.6M-1 65h-6.2M-1 129.8h-11.6M-1 194.5h-6.2M-1 259.3h-11.6M-1 324.1h-6.2M-1 388.9h-11.6M-1 453.6h-6.2" stroke="#000" stroke-width="2.6" fill="none"/>
<g font-size="21" text-anchor="middle" stroke="#000" stroke-width=".3">
<text transform="translate(16.9 501) scale(.95 1)">100</text>
<text transform="translate(222.7 501) scale(.95 1)">200</text>
<text transform="translate(428.5 501) scale(.95 1)">300</text>
<text transform="translate(634.3 501) scale(.95 1)">400</text>
<text transform="translate(840.1 501) scale(.95 1)">500</text>
</g><g font-size="21" text-anchor="end" stroke="#000" stroke-width=".3">
<text transform="translate(-19.5 7.1) scale(.95 1)">0</text>
<text transform="translate(-19.5 136.7) scale(.95 1)">50</text>
<text transform="translate(-19.5 266.2) scale(.95 1)">100</text>
<text transform="translate(-19.5 395.8) scale(.95 1)">150</text>
</g>
<text x="466" y="545.4" font-size="32" text-anchor="middle">X(m)</text>
<text transform="translate(-69 233.2) rotate(-90) scale(.96 1)" font-size="31.5" text-anchor="middle">Z(m)</text>
<text x="5.4" y="-5.7" font-size="50.8">Row 17</text>
<text transform="translate(-192 -50.4) scale(1.045 1)" font-size="58">(d5)</text>
<path d="M456 1.5V464.9" stroke="#c9c9c9" stroke-width="3.2" fill="none"/>
<text transform="translate(470.1 -10.6) rotate(-90) scale(.9 1)" font-size="36">F106</text>
<path d="M626.8 1.5V464.9" stroke="#c9c9c9" stroke-width="3.2" fill="none"/>
<path d="M607.8 1.5V464.9" stroke="#000" stroke-width="2.3" stroke-dasharray="14.7 10.8" stroke-dashoffset="-2" fill="none"/>
<text transform="translate(630.3 -11) rotate(-90) scale(.9 1)" font-size="36">F102</text>
<rect x="963.6" y="-2" width="27.2" height="7.9" fill="#721d84"/>
<rect x="963.6" y="5.3" width="27.2" height="7.9" fill="#791a8b"/>
<rect x="963.6" y="12.6" width="27.2" height="7.9" fill="#722992"/>
<rect x="963.6" y="19.9" width="27.2" height="7.9" fill="#6a3a98"/>
<rect x="963.6" y="27.2" width="27.2" height="7.9" fill="#5d409a"/>
<rect x="963.6" y="34.6" width="27.2" height="7.9" fill="#4f459d"/>
<rect x="963.6" y="41.9" width="27.2" height="7.9" fill="#41489f"/>
<rect x="963.6" y="49.2" width="27.2" height="7.9" fill="#324a9f"/>
<rect x="963.6" y="56.5" width="27.2" height="7.9" fill="#244ba0"/>
<rect x="963.6" y="63.8" width="27.2" height="7.9" fill="#2453a8"/>
<rect x="963.6" y="71.1" width="27.2" height="7.9" fill="#255bb0"/>
<rect x="963.6" y="78.4" width="27.2" height="7.9" fill="#2868b7"/>
<rect x="963.6" y="85.8" width="27.2" height="7.9" fill="#2b77c0"/>
<rect x="963.6" y="93.1" width="27.2" height="7.9" fill="#2d8ccd"/>
<rect x="963.6" y="100.4" width="27.2" height="7.9" fill="#2fa0da"/>
<rect x="963.6" y="107.7" width="27.2" height="7.9" fill="#33b2e3"/>
<rect x="963.6" y="115" width="27.2" height="7.9" fill="#48bbe0"/>
<rect x="963.6" y="122.3" width="27.2" height="7.9" fill="#63bfc9"/>
<rect x="963.6" y="129.6" width="27.2" height="7.9" fill="#6cbe9c"/>
<rect x="963.6" y="136.9" width="27.2" height="7.9" fill="#6bbb68"/>
<rect x="963.6" y="144.2" width="27.2" height="7.9" fill="#69b93b"/>
<rect x="963.6" y="151.6" width="27.2" height="7.9" fill="#6ab82f"/>
<rect x="963.6" y="158.9" width="27.2" height="7.9" fill="#6eb82d"/>
<rect x="963.6" y="166.2" width="27.2" height="7.9" fill="#71b82b"/>
<rect x="963.6" y="173.5" width="27.2" height="7.9" fill="#7bbb29"/>
<rect x="963.6" y="180.8" width="27.2" height="7.9" fill="#8bbf28"/>
<rect x="963.6" y="188.1" width="27.2" height="7.9" fill="#9dc629"/>
<rect x="963.6" y="195.4" width="27.2" height="7.9" fill="#aece2b"/>
<rect x="963.6" y="202.8" width="27.2" height="7.9" fill="#c0d42e"/>
<rect x="963.6" y="210.1" width="27.2" height="7.9" fill="#d0da32"/>
<rect x="963.6" y="217.4" width="27.2" height="7.9" fill="#dfe033"/>
<rect x="963.6" y="224.7" width="27.2" height="7.9" fill="#ede731"/>
<rect x="963.6" y="232" width="27.2" height="7.9" fill="#f4de2a"/>
<rect x="963.6" y="239.3" width="27.2" height="7.9" fill="#f6cb20"/>
<rect x="963.6" y="246.6" width="27.2" height="7.9" fill="#f5b51f"/>
<rect x="963.6" y="253.9" width="27.2" height="7.9" fill="#f3a11e"/>
<rect x="963.6" y="261.2" width="27.2" height="7.9" fill="#f1921d"/>
<rect x="963.6" y="268.6" width="27.2" height="7.9" fill="#ef7f1c"/>
<rect x="963.6" y="275.9" width="27.2" height="7.9" fill="#ec6a1c"/>
<rect x="963.6" y="283.2" width="27.2" height="7.9" fill="#e94e1b"/>
<rect x="963.6" y="290.5" width="27.2" height="7.9" fill="#e82f1b"/>
<rect x="963.6" y="297.8" width="27.2" height="7.9" fill="#e81b1c"/>
<rect x="963.6" y="305.1" width="27.2" height="7.9" fill="#e8181c"/>
<rect x="963.6" y="312.4" width="27.2" height="7.9" fill="#e8151c"/>
<rect x="963.6" y="319.8" width="27.2" height="7.9" fill="#e8151c"/>
<rect x="963.6" y="327.1" width="27.2" height="7.9" fill="#e8151c"/>
<rect x="963.6" y="334.4" width="27.2" height="7.9" fill="#e8151c"/>
<rect x="963.6" y="341.7" width="27.2" height="7.9" fill="#e8151c"/>
<rect x="963.6" y="349" width="27.2" height="7.9" fill="#e8151c"/>
<rect x="963.6" y="356.3" width="27.2" height="7.9" fill="#e8151c"/>
<rect x="963.6" y="363.6" width="27.2" height="7.9" fill="#e8151c"/>
<rect x="963.6" y="370.9" width="27.2" height="7.9" fill="#e5151c"/>
<rect x="963.6" y="378.2" width="27.2" height="7.9" fill="#d9141c"/>
<rect x="963.6" y="385.6" width="27.2" height="7.9" fill="#ca171e"/>
<rect x="963.6" y="392.9" width="27.2" height="7.9" fill="#b81c22"/>
<rect x="963.6" y="400.2" width="27.2" height="7.9" fill="#ae1f23"/>
<rect x="963.6" y="407.5" width="27.2" height="7.9" fill="#a52025"/>
<rect x="963.6" y="414.8" width="27.2" height="7.9" fill="#9f2026"/>
<rect x="963.6" y="422.1" width="27.2" height="7.9" fill="#992028"/>
<rect x="963.6" y="429.4" width="27.2" height="7.9" fill="#8f1e26"/>
<rect x="963.6" y="436.8" width="27.2" height="7.9" fill="#841d23"/>
<rect x="963.6" y="444.1" width="27.2" height="7.9" fill="#7b1a20"/>
<rect x="963.6" y="451.4" width="27.2" height="7.9" fill="#72161d"/>
<rect x="963.6" y="458.7" width="27.2" height="7.9" fill="#6a121a"/>
<rect x="963.6" y="-2" width="27.2" height="468" fill="none" stroke="#000" stroke-width="3.4"/>
<path d="M990.8 -2h31M990.8 56.5h31M990.8 115h31M990.8 173.5h31M990.8 232h31M990.8 290.5h31M990.8 349h31M990.8 407.5h31M990.8 466h31" stroke="#000" stroke-width="2.6" fill="none"/>
<g font-size="21">
<text transform="translate(1030.3 5.8) scale(.97 1)">-20%</text>
<text transform="translate(1030.3 64.3) scale(.97 1)">-14%</text>
<text transform="translate(1030.3 122.8) scale(.97 1)">-9%</text>
<text transform="translate(1030.3 181.3) scale(.97 1)">-3%</text>
<text transform="translate(1030.3 239.8) scale(.97 1)">2%</text>
<text transform="translate(1030.3 298.3) scale(.97 1)">8%</text>
<text transform="translate(1030.3 356.8) scale(.97 1)">14%</text>
<text transform="translate(1030.3 415.3) scale(.97 1)">19%</text>
<text transform="translate(1030.3 473.8) scale(.97 1)">25%</text>
</g>
<text x="952.5" y="520" font-size="25">dVs/Vs (%)</text>
</g>
</svg></body></html>
